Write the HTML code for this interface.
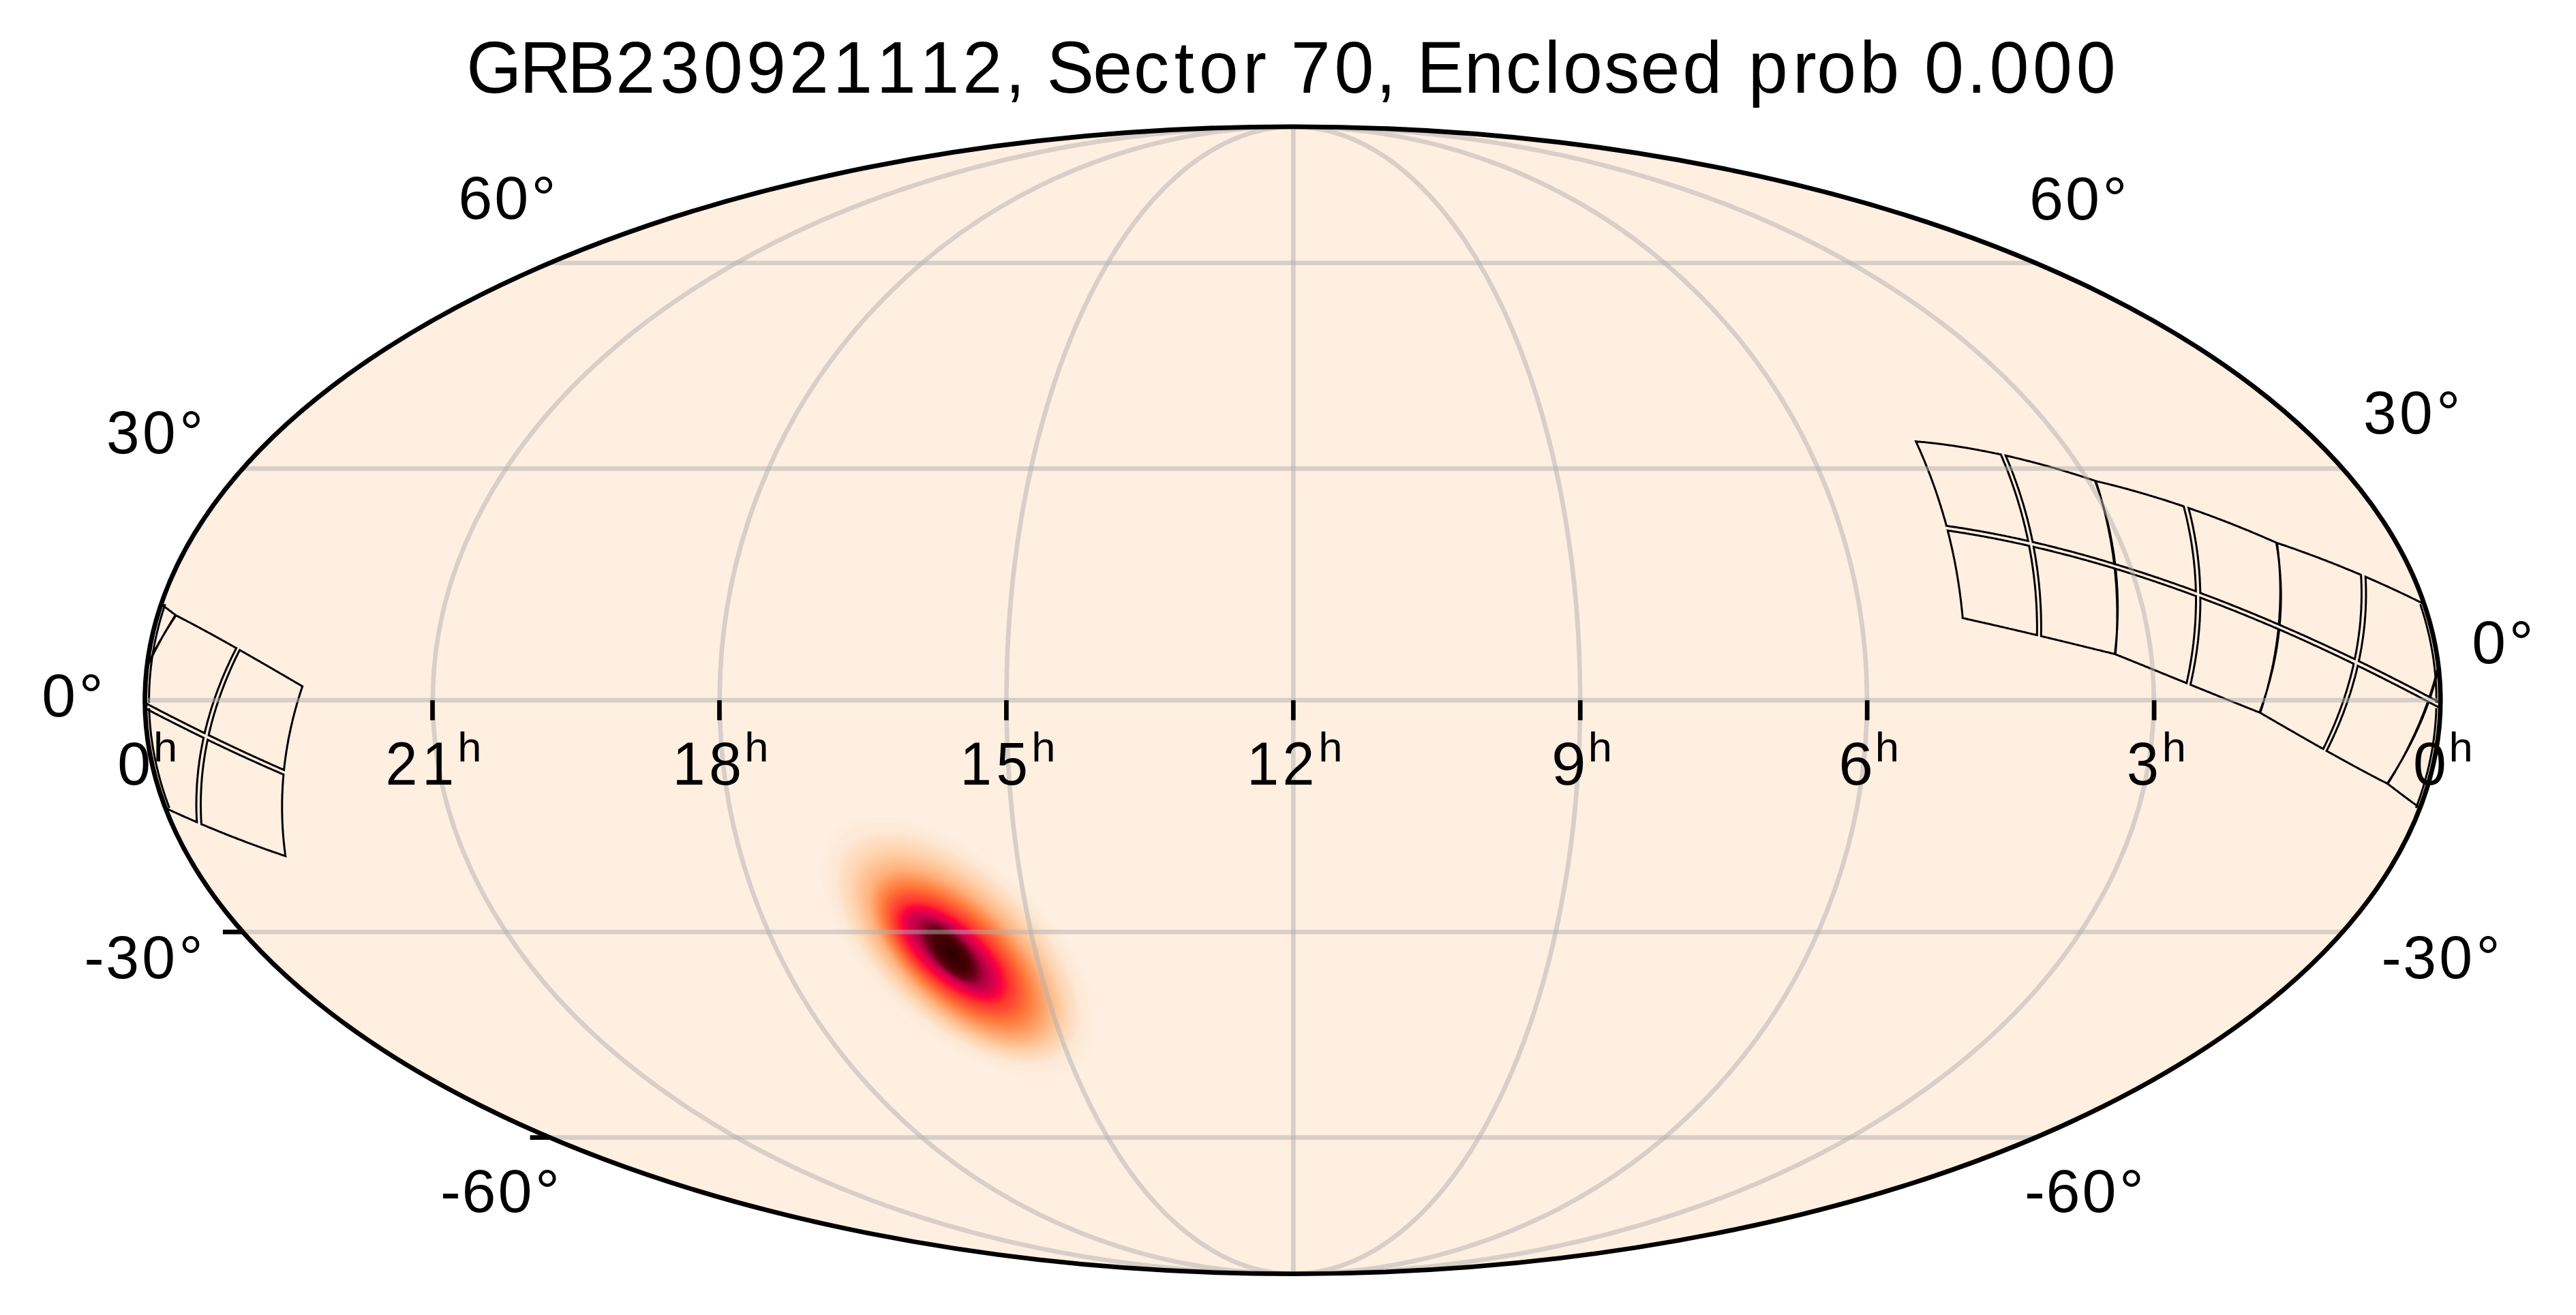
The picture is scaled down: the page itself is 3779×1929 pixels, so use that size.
<!DOCTYPE html><html><head><meta charset="utf-8"><style>html,body{margin:0;padding:0;background:#fff;width:3779px;height:1929px;overflow:hidden}svg{display:block}text{font-family:"Liberation Sans",sans-serif;font-size:100px;fill:#000}</style></head><body>
<svg width="3779" height="1929" viewBox="0 0 3779 1929">
<defs><clipPath id="ell"><ellipse cx="1896.40" cy="1027.20" rx="1683.80" ry="841.40"/></clipPath></defs>
<rect width="3779" height="1929" fill="#fff"/>
<ellipse cx="1896.40" cy="1027.20" rx="1683.80" ry="841.40" fill="#feefe1"/>
<g clip-path="url(#ell)">
<path fill="#feefe0" d="M1580.8,1399.1 1584.4,1405.6 1588.0,1412.4 1591.5,1419.5 1594.9,1426.9 1598.2,1434.5 1601.4,1442.5 1604.3,1450.7 1606.9,1459.2 1609.3,1468.0 1611.2,1477.0 1612.7,1486.1 1613.6,1495.4 1613.9,1504.8 1613.5,1514.1 1612.3,1523.3 1610.2,1532.2 1607.2,1540.7 1603.2,1548.8 1598.3,1556.2 1592.4,1562.9 1585.7,1568.8 1578.1,1573.8 1569.9,1577.9 1561.1,1581.1 1551.8,1583.4 1542.3,1584.8 1532.6,1585.5 1522.9,1585.5 1513.2,1584.8 1503.7,1583.7 1494.5,1582.1 1485.5,1580.1 1476.7,1577.8 1468.4,1575.3 1460.3,1572.6 1452.6,1569.8 1445.3,1566.9 1438.3,1563.9 1431.6,1560.9 1425.2,1557.8 1419.0,1554.8 1413.2,1551.7 1407.6,1548.7 1402.3,1545.7 1397.2,1542.7 1392.3,1539.7 1387.5,1536.8 1383.0,1533.9 1378.6,1531.1 1374.4,1528.2 1370.3,1525.4 1366.4,1522.6 1362.5,1519.9 1358.8,1517.2 1355.2,1514.5 1351.6,1511.8 1348.2,1509.1 1344.8,1506.4 1341.5,1503.8 1338.3,1501.1 1335.1,1498.4 1331.9,1495.8 1328.8,1493.1 1325.8,1490.4 1322.8,1487.8 1319.8,1485.0 1316.8,1482.3 1313.8,1479.5 1310.9,1476.8 1308.0,1473.9 1305.0,1471.1 1302.1,1468.1 1299.2,1465.2 1296.2,1462.1 1293.3,1459.0 1290.3,1455.9 1287.4,1452.6 1284.3,1449.3 1281.3,1445.9 1278.3,1442.3 1275.2,1438.7 1272.0,1435.0 1268.9,1431.1 1265.6,1427.0 1262.4,1422.8 1259.1,1418.5 1255.7,1413.9 1252.3,1409.2 1248.9,1404.2 1245.4,1399.1 1241.8,1393.6 1238.3,1388.0 1234.7,1382.0 1231.1,1375.7 1227.5,1369.1 1223.9,1362.2 1220.4,1355.0 1216.9,1347.4 1213.6,1339.4 1210.4,1331.1 1207.5,1322.4 1204.9,1313.5 1202.7,1304.2 1200.9,1294.7 1199.7,1285.1 1199.1,1275.3 1199.3,1265.6 1200.3,1256.1 1202.3,1246.8 1205.1,1237.9 1209.0,1229.6 1213.8,1222.0 1219.5,1215.1 1226.1,1209.1 1233.4,1204.0 1241.4,1199.7 1249.9,1196.4 1258.8,1194.0 1268.0,1192.4 1277.3,1191.5 1286.7,1191.3 1296.0,1191.7 1305.3,1192.7 1314.3,1194.0 1323.2,1195.8 1331.8,1197.9 1340.1,1200.2 1348.2,1202.8 1356.0,1205.5 1363.5,1208.3 1370.8,1211.3 1377.7,1214.3 1384.5,1217.4 1390.9,1220.6 1397.2,1223.8 1403.2,1227.0 1409.0,1230.2 1414.6,1233.4 1420.0,1236.7 1425.2,1239.9 1430.3,1243.2 1435.2,1246.4 1440.0,1249.6 1444.7,1252.8 1449.2,1256.1 1453.6,1259.3 1458.0,1262.5 1462.2,1265.7 1466.3,1269.0 1470.4,1272.2 1474.4,1275.5 1478.3,1278.8 1482.2,1282.0 1486.0,1285.4 1489.8,1288.7 1493.5,1292.1 1497.2,1295.5 1500.9,1298.9 1504.5,1302.4 1508.1,1306.0 1511.7,1309.6 1515.3,1313.2 1518.9,1317.0 1522.5,1320.8 1526.0,1324.7 1529.6,1328.6 1533.2,1332.7 1536.8,1336.9 1540.4,1341.2 1544.0,1345.6 1547.6,1350.2 1551.3,1354.9 1554.9,1359.7 1558.6,1364.8 1562.3,1370.0 1566.0,1375.3 1569.7,1380.9 1573.4,1386.7 1577.1,1392.8Z"/>
<path fill="#feeedf" d="M1577.5,1399.1 1581.0,1405.5 1584.6,1412.2 1588.0,1419.1 1591.4,1426.4 1594.6,1433.9 1597.7,1441.7 1600.6,1449.8 1603.2,1458.1 1605.5,1466.8 1607.4,1475.6 1608.8,1484.6 1609.7,1493.7 1610.0,1502.9 1609.6,1512.0 1608.4,1521.0 1606.4,1529.8 1603.4,1538.2 1599.5,1546.1 1594.7,1553.4 1588.9,1560.0 1582.3,1565.7 1574.9,1570.7 1566.8,1574.7 1558.1,1577.8 1549.1,1580.1 1539.7,1581.5 1530.2,1582.2 1520.6,1582.1 1511.2,1581.5 1501.8,1580.4 1492.7,1578.8 1483.9,1576.8 1475.3,1574.6 1467.1,1572.1 1459.2,1569.5 1451.6,1566.7 1444.4,1563.9 1437.5,1560.9 1430.9,1558.0 1424.7,1555.0 1418.7,1552.0 1412.9,1549.0 1407.4,1546.0 1402.2,1543.0 1397.2,1540.1 1392.3,1537.2 1387.7,1534.3 1383.2,1531.5 1378.9,1528.7 1374.8,1525.9 1370.8,1523.2 1366.9,1520.4 1363.1,1517.7 1359.5,1515.1 1355.9,1512.4 1352.4,1509.7 1349.1,1507.1 1345.7,1504.5 1342.5,1501.9 1339.3,1499.3 1336.2,1496.7 1333.1,1494.1 1330.1,1491.4 1327.1,1488.8 1324.1,1486.2 1321.1,1483.5 1318.2,1480.8 1315.3,1478.1 1312.4,1475.4 1309.6,1472.6 1306.7,1469.8 1303.8,1466.9 1300.9,1464.0 1298.1,1461.0 1295.2,1458.0 1292.2,1454.9 1289.3,1451.7 1286.4,1448.4 1283.4,1445.0 1280.4,1441.6 1277.3,1438.0 1274.3,1434.3 1271.2,1430.5 1268.0,1426.5 1264.8,1422.4 1261.6,1418.1 1258.3,1413.7 1254.9,1409.0 1251.5,1404.2 1248.1,1399.1 1244.6,1393.7 1241.1,1388.2 1237.6,1382.3 1234.1,1376.1 1230.5,1369.7 1227.0,1362.9 1223.5,1355.8 1220.1,1348.3 1216.9,1340.5 1213.8,1332.3 1210.9,1323.8 1208.4,1315.0 1206.2,1305.9 1204.4,1296.6 1203.2,1287.1 1202.7,1277.5 1202.9,1268.0 1203.9,1258.6 1205.8,1249.5 1208.6,1240.8 1212.4,1232.7 1217.1,1225.2 1222.7,1218.4 1229.2,1212.5 1236.4,1207.5 1244.2,1203.3 1252.6,1200.1 1261.3,1197.7 1270.3,1196.1 1279.5,1195.2 1288.7,1195.1 1297.9,1195.5 1306.9,1196.4 1315.8,1197.7 1324.5,1199.4 1333.0,1201.5 1341.2,1203.8 1349.1,1206.3 1356.8,1208.9 1364.1,1211.7 1371.2,1214.7 1378.1,1217.6 1384.7,1220.7 1391.0,1223.8 1397.2,1226.9 1403.1,1230.1 1408.8,1233.2 1414.3,1236.4 1419.6,1239.6 1424.7,1242.8 1429.7,1246.0 1434.6,1249.1 1439.3,1252.3 1443.8,1255.5 1448.3,1258.6 1452.6,1261.8 1456.9,1265.0 1461.0,1268.1 1465.1,1271.3 1469.1,1274.5 1473.0,1277.7 1476.9,1280.9 1480.7,1284.1 1484.4,1287.4 1488.1,1290.7 1491.8,1294.0 1495.4,1297.3 1499.0,1300.7 1502.6,1304.2 1506.1,1307.6 1509.7,1311.2 1513.2,1314.8 1516.7,1318.4 1520.2,1322.2 1523.7,1326.0 1527.2,1329.9 1530.8,1333.9 1534.3,1338.0 1537.8,1342.2 1541.4,1346.6 1544.9,1351.1 1548.5,1355.7 1552.1,1360.4 1555.7,1365.4 1559.3,1370.5 1563.0,1375.8 1566.6,1381.3 1570.2,1387.0 1573.9,1392.9Z"/>
<path fill="#feeddd" d="M1574.2,1399.1 1577.7,1405.4 1581.1,1411.9 1584.5,1418.8 1587.8,1425.9 1591.0,1433.3 1594.0,1440.9 1596.9,1448.9 1599.4,1457.1 1601.7,1465.5 1603.5,1474.2 1605.0,1483.0 1605.8,1492.0 1606.1,1501.0 1605.7,1510.0 1604.5,1518.8 1602.5,1527.4 1599.6,1535.6 1595.8,1543.4 1591.1,1550.6 1585.4,1557.0 1578.9,1562.7 1571.6,1567.5 1563.7,1571.5 1555.2,1574.6 1546.3,1576.8 1537.1,1578.2 1527.8,1578.8 1518.4,1578.8 1509.1,1578.2 1499.9,1577.0 1491.0,1575.5 1482.3,1573.6 1473.9,1571.4 1465.8,1569.0 1458.1,1566.4 1450.6,1563.7 1443.6,1560.9 1436.8,1558.0 1430.3,1555.1 1424.2,1552.1 1418.3,1549.2 1412.6,1546.2 1407.3,1543.3 1402.1,1540.4 1397.2,1537.5 1392.4,1534.7 1387.9,1531.9 1383.5,1529.1 1379.3,1526.3 1375.2,1523.6 1371.3,1520.9 1367.5,1518.2 1363.8,1515.6 1360.2,1512.9 1356.7,1510.3 1353.3,1507.7 1349.9,1505.1 1346.7,1502.6 1343.5,1500.0 1340.4,1497.4 1337.3,1494.9 1334.3,1492.3 1331.3,1489.7 1328.3,1487.2 1325.4,1484.6 1322.5,1482.0 1319.7,1479.3 1316.8,1476.7 1314.0,1474.0 1311.2,1471.2 1308.3,1468.5 1305.5,1465.7 1302.7,1462.8 1299.9,1459.9 1297.0,1456.9 1294.2,1453.8 1291.3,1450.7 1288.4,1447.5 1285.5,1444.2 1282.5,1440.8 1279.5,1437.3 1276.5,1433.7 1273.5,1429.9 1270.4,1426.0 1267.2,1422.0 1264.0,1417.8 1260.8,1413.4 1257.5,1408.8 1254.2,1404.1 1250.8,1399.1 1247.4,1393.8 1244.0,1388.4 1240.5,1382.6 1237.0,1376.6 1233.6,1370.2 1230.1,1363.6 1226.7,1356.6 1223.4,1349.2 1220.2,1341.6 1217.1,1333.5 1214.3,1325.2 1211.8,1316.5 1209.7,1307.6 1207.9,1298.5 1206.8,1289.2 1206.2,1279.8 1206.4,1270.4 1207.4,1261.2 1209.3,1252.3 1212.0,1243.7 1215.7,1235.7 1220.4,1228.3 1225.9,1221.7 1232.2,1215.9 1239.3,1211.0 1247.0,1206.9 1255.2,1203.7 1263.8,1201.4 1272.6,1199.8 1281.6,1199.0 1290.7,1198.8 1299.7,1199.2 1308.6,1200.1 1317.3,1201.4 1325.8,1203.1 1334.1,1205.1 1342.2,1207.3 1350.0,1209.8 1357.5,1212.4 1364.7,1215.2 1371.7,1218.0 1378.4,1221.0 1384.9,1224.0 1391.2,1227.0 1397.2,1230.1 1403.0,1233.2 1408.6,1236.3 1413.9,1239.4 1419.2,1242.5 1424.2,1245.6 1429.1,1248.7 1433.9,1251.9 1438.5,1255.0 1443.0,1258.1 1447.3,1261.2 1451.6,1264.3 1455.8,1267.4 1459.9,1270.5 1463.9,1273.6 1467.8,1276.8 1471.6,1279.9 1475.4,1283.1 1479.1,1286.2 1482.8,1289.4 1486.5,1292.7 1490.1,1295.9 1493.6,1299.2 1497.1,1302.5 1500.7,1305.9 1504.1,1309.3 1507.6,1312.8 1511.1,1316.3 1514.5,1319.9 1518.0,1323.6 1521.4,1327.3 1524.9,1331.2 1528.3,1335.1 1531.8,1339.1 1535.2,1343.3 1538.7,1347.5 1542.2,1351.9 1545.7,1356.5 1549.3,1361.1 1552.8,1366.0 1556.4,1371.0 1559.9,1376.2 1563.5,1381.6 1567.1,1387.2 1570.6,1393.0Z"/>
<path fill="#feecdc" d="M1570.9,1399.1 1574.3,1405.3 1577.7,1411.7 1581.1,1418.4 1584.3,1425.4 1587.4,1432.6 1590.4,1440.1 1593.1,1447.9 1595.7,1456.0 1597.9,1464.3 1599.7,1472.8 1601.1,1481.5 1602.0,1490.3 1602.2,1499.1 1601.8,1507.9 1600.7,1516.6 1598.7,1525.0 1595.9,1533.1 1592.1,1540.7 1587.5,1547.7 1581.9,1554.1 1575.5,1559.7 1568.4,1564.4 1560.6,1568.3 1552.2,1571.3 1543.5,1573.5 1534.5,1574.8 1525.3,1575.5 1516.1,1575.4 1507.0,1574.8 1498.0,1573.7 1489.2,1572.2 1480.7,1570.3 1472.5,1568.2 1464.5,1565.8 1456.9,1563.3 1449.7,1560.6 1442.7,1557.8 1436.1,1555.0 1429.7,1552.2 1423.7,1549.3 1417.9,1546.4 1412.3,1543.5 1407.1,1540.6 1402.0,1537.8 1397.2,1535.0 1392.5,1532.2 1388.1,1529.4 1383.8,1526.7 1379.6,1524.0 1375.6,1521.3 1371.8,1518.6 1368.0,1516.0 1364.4,1513.4 1360.9,1510.8 1357.4,1508.3 1354.1,1505.7 1350.8,1503.2 1347.6,1500.6 1344.5,1498.1 1341.4,1495.6 1338.4,1493.1 1335.4,1490.6 1332.5,1488.1 1329.6,1485.5 1326.8,1483.0 1323.9,1480.4 1321.1,1477.8 1318.3,1475.2 1315.5,1472.6 1312.8,1469.9 1310.0,1467.2 1307.2,1464.4 1304.5,1461.6 1301.7,1458.7 1298.9,1455.8 1296.1,1452.8 1293.3,1449.7 1290.4,1446.6 1287.5,1443.4 1284.7,1440.0 1281.7,1436.6 1278.8,1433.0 1275.8,1429.3 1272.7,1425.5 1269.6,1421.6 1266.5,1417.4 1263.3,1413.1 1260.1,1408.7 1256.9,1404.0 1253.5,1399.1 1250.2,1393.9 1246.8,1388.6 1243.4,1382.9 1240.0,1377.0 1236.6,1370.8 1233.2,1364.2 1229.9,1357.4 1226.6,1350.2 1223.5,1342.6 1220.5,1334.8 1217.7,1326.6 1215.3,1318.1 1213.1,1309.3 1211.5,1300.3 1210.3,1291.2 1209.8,1282.0 1210.0,1272.8 1210.9,1263.8 1212.8,1255.0 1215.5,1246.6 1219.1,1238.7 1223.7,1231.5 1229.1,1225.0 1235.3,1219.3 1242.3,1214.5 1249.8,1210.5 1257.9,1207.3 1266.3,1205.0 1275.0,1203.5 1283.8,1202.7 1292.7,1202.5 1301.5,1202.9 1310.2,1203.8 1318.8,1205.1 1327.2,1206.7 1335.3,1208.7 1343.2,1210.9 1350.9,1213.3 1358.2,1215.9 1365.3,1218.6 1372.2,1221.4 1378.8,1224.3 1385.1,1227.2 1391.3,1230.2 1397.2,1233.2 1402.9,1236.2 1408.3,1239.3 1413.6,1242.4 1418.8,1245.4 1423.7,1248.5 1428.5,1251.5 1433.2,1254.6 1437.7,1257.7 1442.1,1260.7 1446.4,1263.8 1450.6,1266.8 1454.7,1269.9 1458.7,1272.9 1462.6,1276.0 1466.5,1279.1 1470.2,1282.1 1474.0,1285.2 1477.6,1288.3 1481.2,1291.5 1484.8,1294.6 1488.3,1297.8 1491.8,1301.1 1495.3,1304.3 1498.7,1307.6 1502.1,1311.0 1505.6,1314.4 1509.0,1317.9 1512.3,1321.4 1515.7,1325.0 1519.1,1328.7 1522.5,1332.4 1525.9,1336.3 1529.3,1340.3 1532.7,1344.3 1536.1,1348.5 1539.5,1352.8 1543.0,1357.3 1546.4,1361.9 1549.9,1366.6 1553.4,1371.5 1556.9,1376.6 1560.4,1381.9 1563.9,1387.4 1567.4,1393.1Z"/>
<path fill="#fdebda" d="M1567.6,1399.1 1571.0,1405.1 1574.3,1411.5 1577.6,1418.0 1580.8,1424.9 1583.8,1432.0 1586.7,1439.4 1589.4,1447.0 1591.9,1454.9 1594.1,1463.0 1595.9,1471.4 1597.2,1479.9 1598.1,1488.5 1598.4,1497.2 1598.0,1505.8 1596.8,1514.3 1594.9,1522.6 1592.1,1530.6 1588.4,1538.0 1583.9,1544.9 1578.4,1551.1 1572.1,1556.6 1565.1,1561.3 1557.5,1565.1 1549.3,1568.0 1540.7,1570.2 1531.9,1571.5 1522.9,1572.1 1513.9,1572.1 1504.9,1571.5 1496.1,1570.4 1487.5,1568.9 1479.1,1567.1 1471.0,1565.0 1463.3,1562.7 1455.8,1560.2 1448.7,1557.5 1441.8,1554.8 1435.3,1552.1 1429.1,1549.3 1423.2,1546.4 1417.5,1543.6 1412.1,1540.8 1406.9,1538.0 1401.9,1535.2 1397.2,1532.4 1392.6,1529.6 1388.2,1526.9 1384.0,1524.2 1379.9,1521.6 1376.0,1519.0 1372.2,1516.4 1368.6,1513.8 1365.0,1511.2 1361.5,1508.7 1358.2,1506.2 1354.9,1503.7 1351.7,1501.2 1348.6,1498.7 1345.5,1496.3 1342.5,1493.8 1339.5,1491.3 1336.6,1488.9 1333.7,1486.4 1330.9,1483.9 1328.1,1481.4 1325.3,1478.9 1322.5,1476.3 1319.8,1473.8 1317.1,1471.2 1314.4,1468.6 1311.6,1465.9 1308.9,1463.2 1306.2,1460.4 1303.5,1457.6 1300.7,1454.7 1298.0,1451.8 1295.2,1448.8 1292.4,1445.7 1289.6,1442.5 1286.8,1439.2 1283.9,1435.9 1281.0,1432.4 1278.1,1428.8 1275.1,1425.0 1272.1,1421.1 1269.0,1417.1 1265.9,1412.9 1262.7,1408.5 1259.5,1403.9 1256.3,1399.1 1253.0,1394.0 1249.7,1388.8 1246.3,1383.2 1243.0,1377.4 1239.6,1371.3 1236.3,1364.9 1233.0,1358.1 1229.8,1351.1 1226.8,1343.7 1223.8,1336.0 1221.1,1327.9 1218.7,1319.6 1216.6,1311.0 1215.0,1302.2 1213.9,1293.2 1213.3,1284.2 1213.5,1275.2 1214.5,1266.3 1216.3,1257.7 1218.9,1249.5 1222.5,1241.8 1226.9,1234.7 1232.3,1228.3 1238.4,1222.7 1245.2,1218.0 1252.6,1214.0 1260.5,1211.0 1268.8,1208.7 1277.3,1207.2 1285.9,1206.4 1294.6,1206.2 1303.3,1206.6 1311.9,1207.5 1320.3,1208.8 1328.5,1210.4 1336.5,1212.3 1344.2,1214.5 1351.7,1216.8 1359.0,1219.4 1365.9,1222.0 1372.7,1224.8 1379.1,1227.6 1385.4,1230.5 1391.4,1233.4 1397.2,1236.4 1402.7,1239.3 1408.1,1242.3 1413.3,1245.3 1418.4,1248.3 1423.2,1251.3 1427.9,1254.3 1432.5,1257.3 1436.9,1260.3 1441.3,1263.3 1445.5,1266.3 1449.6,1269.3 1453.6,1272.3 1457.5,1275.3 1461.4,1278.3 1465.1,1281.3 1468.9,1284.3 1472.5,1287.4 1476.1,1290.4 1479.6,1293.5 1483.1,1296.6 1486.6,1299.7 1490.0,1302.9 1493.4,1306.1 1496.8,1309.4 1500.2,1312.6 1503.5,1316.0 1506.8,1319.4 1510.2,1322.9 1513.5,1326.4 1516.8,1330.0 1520.1,1333.7 1523.4,1337.5 1526.8,1341.4 1530.1,1345.4 1533.5,1349.5 1536.8,1353.7 1540.2,1358.1 1543.6,1362.6 1547.0,1367.2 1550.4,1372.0 1553.9,1377.0 1557.3,1382.2 1560.7,1387.6 1564.2,1393.2Z"/>
<path fill="#fdead9" d="M1564.3,1399.1 1567.6,1405.0 1570.9,1411.2 1574.1,1417.7 1577.2,1424.4 1580.2,1431.3 1583.1,1438.6 1585.7,1446.1 1588.1,1453.8 1590.3,1461.8 1592.0,1470.0 1593.4,1478.3 1594.2,1486.8 1594.5,1495.3 1594.1,1503.8 1593.0,1512.1 1591.1,1520.2 1588.3,1528.0 1584.7,1535.3 1580.2,1542.1 1574.9,1548.2 1568.8,1553.6 1561.9,1558.1 1554.4,1561.9 1546.4,1564.8 1538.0,1566.9 1529.3,1568.2 1520.5,1568.8 1511.6,1568.8 1502.8,1568.2 1494.2,1567.1 1485.7,1565.6 1477.5,1563.8 1469.6,1561.8 1462.0,1559.5 1454.7,1557.1 1447.7,1554.5 1441.0,1551.8 1434.6,1549.1 1428.5,1546.4 1422.6,1543.6 1417.1,1540.8 1411.8,1538.0 1406.7,1535.3 1401.8,1532.5 1397.2,1529.8 1392.7,1527.1 1388.4,1524.5 1384.3,1521.8 1380.3,1519.2 1376.4,1516.6 1372.7,1514.1 1369.1,1511.6 1365.6,1509.1 1362.2,1506.6 1358.9,1504.1 1355.7,1501.7 1352.6,1499.2 1349.5,1496.8 1346.5,1494.4 1343.5,1492.0 1340.6,1489.5 1337.8,1487.1 1335.0,1484.7 1332.2,1482.3 1329.4,1479.8 1326.7,1477.3 1324.0,1474.8 1321.3,1472.3 1318.6,1469.8 1316.0,1467.2 1313.3,1464.6 1310.6,1461.9 1308.0,1459.2 1305.3,1456.5 1302.6,1453.7 1299.9,1450.8 1297.2,1447.8 1294.5,1444.8 1291.7,1441.7 1288.9,1438.5 1286.1,1435.2 1283.2,1431.7 1280.4,1428.2 1277.4,1424.5 1274.5,1420.7 1271.5,1416.7 1268.4,1412.6 1265.3,1408.3 1262.2,1403.8 1259.0,1399.1 1255.8,1394.1 1252.5,1389.0 1249.3,1383.5 1246.0,1377.8 1242.7,1371.8 1239.4,1365.5 1236.2,1358.9 1233.1,1352.0 1230.0,1344.8 1227.2,1337.2 1224.5,1329.3 1222.1,1321.1 1220.1,1312.7 1218.5,1304.1 1217.4,1295.3 1216.9,1286.4 1217.1,1277.6 1218.0,1268.9 1219.7,1260.5 1222.4,1252.4 1225.9,1244.8 1230.2,1237.9 1235.4,1231.6 1241.4,1226.1 1248.1,1221.5 1255.4,1217.6 1263.1,1214.6 1271.3,1212.4 1279.6,1210.9 1288.1,1210.1 1296.6,1210.0 1305.1,1210.3 1313.5,1211.2 1321.8,1212.4 1329.8,1214.0 1337.7,1215.9 1345.3,1218.0 1352.6,1220.4 1359.7,1222.8 1366.5,1225.4 1373.1,1228.1 1379.5,1230.9 1385.6,1233.7 1391.5,1236.6 1397.2,1239.5 1402.6,1242.4 1407.9,1245.4 1413.0,1248.3 1417.9,1251.2 1422.7,1254.2 1427.3,1257.1 1431.8,1260.1 1436.2,1263.0 1440.4,1266.0 1444.5,1268.9 1448.6,1271.8 1452.5,1274.8 1456.4,1277.7 1460.1,1280.6 1463.8,1283.6 1467.5,1286.6 1471.0,1289.5 1474.6,1292.5 1478.0,1295.6 1481.5,1298.6 1484.9,1301.7 1488.2,1304.8 1491.6,1307.9 1494.9,1311.1 1498.2,1314.3 1501.4,1317.6 1504.7,1320.9 1508.0,1324.3 1511.2,1327.8 1514.5,1331.3 1517.7,1335.0 1521.0,1338.7 1524.3,1342.5 1527.5,1346.4 1530.8,1350.4 1534.1,1354.6 1537.4,1358.8 1540.8,1363.3 1544.1,1367.8 1547.5,1372.6 1550.8,1377.5 1554.2,1382.6 1557.6,1387.9 1560.9,1393.3Z"/>
<path fill="#fde9d7" d="M1561.0,1399.1 1564.3,1404.9 1567.5,1411.0 1570.6,1417.3 1573.7,1423.9 1576.6,1430.7 1579.4,1437.8 1582.0,1445.2 1584.4,1452.7 1586.4,1460.6 1588.2,1468.6 1589.5,1476.8 1590.3,1485.1 1590.6,1493.4 1590.2,1501.7 1589.1,1509.9 1587.3,1517.9 1584.6,1525.5 1581.0,1532.7 1576.6,1539.3 1571.4,1545.3 1565.4,1550.5 1558.6,1555.0 1551.3,1558.7 1543.4,1561.5 1535.2,1563.6 1526.7,1564.8 1518.0,1565.4 1509.4,1565.4 1500.8,1564.8 1492.3,1563.8 1484.0,1562.4 1476.0,1560.6 1468.2,1558.6 1460.7,1556.3 1453.5,1553.9 1446.7,1551.4 1440.1,1548.8 1433.8,1546.2 1427.9,1543.5 1422.1,1540.7 1416.7,1538.0 1411.5,1535.3 1406.5,1532.6 1401.7,1529.9 1397.2,1527.2 1392.8,1524.6 1388.6,1522.0 1384.5,1519.4 1380.6,1516.9 1376.8,1514.3 1373.2,1511.8 1369.7,1509.4 1366.2,1506.9 1362.9,1504.5 1359.7,1502.0 1356.5,1499.6 1353.5,1497.3 1350.4,1494.9 1347.5,1492.5 1344.6,1490.1 1341.7,1487.8 1338.9,1485.4 1336.2,1483.0 1333.5,1480.6 1330.8,1478.2 1328.1,1475.8 1325.4,1473.4 1322.8,1470.9 1320.2,1468.4 1317.6,1465.9 1314.9,1463.3 1312.3,1460.7 1309.7,1458.1 1307.1,1455.3 1304.5,1452.6 1301.8,1449.8 1299.2,1446.9 1296.5,1443.9 1293.8,1440.8 1291.1,1437.7 1288.3,1434.4 1285.5,1431.1 1282.7,1427.6 1279.8,1424.0 1276.9,1420.3 1273.9,1416.4 1270.9,1412.3 1267.9,1408.1 1264.8,1403.7 1261.7,1399.1 1258.6,1394.2 1255.4,1389.2 1252.2,1383.8 1248.9,1378.2 1245.7,1372.4 1242.5,1366.2 1239.4,1359.7 1236.3,1352.9 1233.3,1345.8 1230.5,1338.4 1227.9,1330.7 1225.6,1322.7 1223.6,1314.4 1222.0,1305.9 1220.9,1297.3 1220.5,1288.6 1220.6,1280.0 1221.5,1271.5 1223.2,1263.2 1225.8,1255.3 1229.2,1247.9 1233.5,1241.0 1238.6,1234.9 1244.5,1229.5 1251.1,1225.0 1258.2,1221.2 1265.8,1218.2 1273.7,1216.1 1281.9,1214.6 1290.2,1213.9 1298.6,1213.7 1306.9,1214.1 1315.2,1214.9 1323.2,1216.1 1331.1,1217.7 1338.8,1219.5 1346.3,1221.6 1353.5,1223.9 1360.4,1226.3 1367.2,1228.8 1373.6,1231.5 1379.8,1234.2 1385.8,1237.0 1391.6,1239.8 1397.2,1242.6 1402.5,1245.5 1407.7,1248.4 1412.7,1251.3 1417.5,1254.2 1422.2,1257.0 1426.7,1259.9 1431.1,1262.8 1435.4,1265.7 1439.6,1268.6 1443.6,1271.5 1447.6,1274.3 1451.4,1277.2 1455.2,1280.1 1458.9,1283.0 1462.5,1285.9 1466.1,1288.8 1469.6,1291.7 1473.0,1294.6 1476.4,1297.6 1479.8,1300.6 1483.1,1303.6 1486.4,1306.6 1489.7,1309.7 1493.0,1312.8 1496.2,1316.0 1499.4,1319.2 1502.6,1322.5 1505.8,1325.8 1509.0,1329.2 1512.2,1332.7 1515.4,1336.2 1518.6,1339.9 1521.8,1343.6 1525.0,1347.4 1528.2,1351.4 1531.4,1355.4 1534.7,1359.6 1538.0,1364.0 1541.2,1368.4 1544.5,1373.1 1547.8,1377.9 1551.1,1382.9 1554.4,1388.1 1557.7,1393.5Z"/>
<path fill="#fde7d5" d="M1557.7,1399.1 1560.9,1404.8 1564.0,1410.7 1567.1,1416.9 1570.1,1423.4 1573.0,1430.1 1575.7,1437.0 1578.3,1444.2 1580.6,1451.7 1582.6,1459.3 1584.3,1467.2 1585.6,1475.2 1586.4,1483.3 1586.7,1491.5 1586.3,1499.6 1585.3,1507.7 1583.4,1515.5 1580.8,1522.9 1577.3,1530.0 1573.0,1536.5 1567.9,1542.3 1562.0,1547.5 1555.4,1551.9 1548.2,1555.5 1540.5,1558.2 1532.4,1560.2 1524.1,1561.5 1515.6,1562.1 1507.1,1562.1 1498.7,1561.5 1490.4,1560.5 1482.2,1559.1 1474.4,1557.4 1466.8,1555.4 1459.4,1553.2 1452.4,1550.8 1445.7,1548.4 1439.2,1545.8 1433.1,1543.2 1427.2,1540.6 1421.6,1537.9 1416.3,1535.2 1411.2,1532.6 1406.3,1529.9 1401.6,1527.3 1397.2,1524.7 1392.9,1522.1 1388.7,1519.5 1384.8,1517.0 1380.9,1514.5 1377.3,1512.0 1373.7,1509.6 1370.2,1507.1 1366.9,1504.7 1363.6,1502.3 1360.4,1500.0 1357.3,1497.6 1354.3,1495.3 1351.4,1492.9 1348.5,1490.6 1345.7,1488.3 1342.9,1486.0 1340.1,1483.6 1337.4,1481.3 1334.7,1479.0 1332.1,1476.6 1329.5,1474.2 1326.9,1471.9 1324.3,1469.4 1321.7,1467.0 1319.2,1464.5 1316.6,1462.0 1314.0,1459.5 1311.5,1456.9 1308.9,1454.2 1306.3,1451.5 1303.7,1448.7 1301.1,1445.9 1298.5,1443.0 1295.9,1440.0 1293.2,1436.9 1290.5,1433.7 1287.7,1430.4 1285.0,1427.0 1282.2,1423.5 1279.3,1419.9 1276.4,1416.0 1273.5,1412.1 1270.5,1407.9 1267.5,1403.6 1264.4,1399.1 1261.3,1394.3 1258.2,1389.4 1255.1,1384.1 1251.9,1378.7 1248.8,1372.9 1245.6,1366.9 1242.6,1360.5 1239.5,1353.9 1236.6,1346.9 1233.9,1339.6 1231.3,1332.1 1229.0,1324.2 1227.1,1316.1 1225.5,1307.8 1224.5,1299.4 1224.0,1290.9 1224.2,1282.4 1225.1,1274.0 1226.7,1265.9 1229.2,1258.2 1232.6,1250.9 1236.8,1244.2 1241.8,1238.2 1247.6,1232.9 1254.0,1228.5 1261.0,1224.8 1268.4,1221.9 1276.2,1219.7 1284.2,1218.3 1292.4,1217.6 1300.6,1217.4 1308.7,1217.8 1316.8,1218.6 1324.7,1219.8 1332.5,1221.3 1340.0,1223.1 1347.3,1225.2 1354.4,1227.4 1361.2,1229.8 1367.8,1232.3 1374.1,1234.9 1380.2,1237.5 1386.1,1240.2 1391.7,1243.0 1397.2,1245.8 1402.4,1248.6 1407.5,1251.4 1412.4,1254.2 1417.1,1257.1 1421.7,1259.9 1426.1,1262.7 1430.5,1265.6 1434.6,1268.4 1438.7,1271.2 1442.7,1274.0 1446.6,1276.8 1450.3,1279.7 1454.0,1282.5 1457.7,1285.3 1461.2,1288.1 1464.7,1291.0 1468.1,1293.9 1471.5,1296.7 1474.9,1299.6 1478.2,1302.6 1481.4,1305.5 1484.6,1308.5 1487.8,1311.5 1491.0,1314.6 1494.2,1317.7 1497.3,1320.8 1500.5,1324.0 1503.6,1327.3 1506.7,1330.6 1509.9,1334.0 1513.0,1337.5 1516.1,1341.1 1519.3,1344.7 1522.4,1348.5 1525.6,1352.3 1528.7,1356.3 1531.9,1360.4 1535.1,1364.7 1538.3,1369.1 1541.6,1373.6 1544.8,1378.3 1548.0,1383.2 1551.3,1388.3 1554.5,1393.6Z"/>
<path fill="#fde5d0" d="M1554.4,1399.1 1557.5,1404.7 1560.6,1410.5 1563.7,1416.6 1566.6,1422.9 1569.5,1429.5 1572.2,1436.3 1574.7,1443.3 1577.0,1450.7 1579.1,1458.2 1580.8,1465.9 1582.1,1473.8 1582.9,1481.8 1583.2,1489.8 1582.9,1497.8 1581.9,1505.7 1580.2,1513.4 1577.6,1520.8 1574.3,1527.7 1570.1,1534.1 1565.0,1539.9 1559.3,1545.0 1552.8,1549.3 1545.7,1552.9 1538.1,1555.6 1530.2,1557.6 1522.0,1558.8 1513.6,1559.4 1505.3,1559.4 1497.0,1558.8 1488.8,1557.8 1480.8,1556.4 1473.0,1554.6 1465.5,1552.7 1458.3,1550.5 1451.4,1548.2 1444.8,1545.7 1438.5,1543.2 1432.5,1540.6 1426.7,1538.0 1421.2,1535.4 1416.0,1532.7 1410.9,1530.1 1406.1,1527.5 1401.6,1524.9 1397.2,1522.3 1393.0,1519.8 1388.9,1517.2 1385.0,1514.8 1381.3,1512.3 1377.6,1509.9 1374.1,1507.4 1370.7,1505.1 1367.5,1502.7 1364.3,1500.3 1361.2,1498.0 1358.1,1495.7 1355.2,1493.4 1352.3,1491.1 1349.4,1488.8 1346.7,1486.5 1343.9,1484.3 1341.2,1482.0 1338.6,1479.7 1336.0,1477.4 1333.4,1475.1 1330.8,1472.8 1328.3,1470.4 1325.7,1468.0 1323.2,1465.6 1320.7,1463.2 1318.2,1460.8 1315.7,1458.3 1313.2,1455.7 1310.7,1453.1 1308.2,1450.5 1305.6,1447.7 1303.1,1445.0 1300.5,1442.1 1297.9,1439.2 1295.3,1436.1 1292.6,1433.0 1290.0,1429.8 1287.2,1426.5 1284.5,1423.0 1281.7,1419.4 1278.9,1415.7 1276.0,1411.8 1273.1,1407.7 1270.1,1403.5 1267.2,1399.1 1264.1,1394.4 1261.1,1389.6 1258.0,1384.4 1254.9,1379.1 1251.8,1373.4 1248.7,1367.5 1245.7,1361.3 1242.8,1354.8 1239.9,1348.0 1237.2,1340.9 1234.7,1333.4 1232.5,1325.7 1230.6,1317.8 1229.1,1309.7 1228.0,1301.4 1227.5,1293.1 1227.7,1284.8 1228.6,1276.6 1230.2,1268.6 1232.7,1261.0 1236.0,1253.9 1240.1,1247.4 1245.0,1241.5 1250.7,1236.4 1257.0,1232.0 1263.8,1228.4 1271.1,1225.6 1278.8,1223.5 1286.6,1222.1 1294.6,1221.4 1302.6,1221.3 1310.6,1221.6 1318.5,1222.5 1326.3,1223.7 1333.9,1225.2 1341.2,1227.0 1348.4,1229.0 1355.3,1231.1 1362.0,1233.5 1368.4,1235.9 1374.6,1238.5 1380.6,1241.1 1386.3,1243.7 1391.8,1246.4 1397.2,1249.2 1402.3,1251.9 1407.3,1254.7 1412.1,1257.4 1416.7,1260.2 1421.2,1263.0 1425.5,1265.8 1429.7,1268.5 1433.8,1271.3 1437.8,1274.0 1441.7,1276.8 1445.5,1279.5 1449.2,1282.3 1452.8,1285.1 1456.3,1287.8 1459.8,1290.6 1463.2,1293.4 1466.6,1296.2 1469.9,1299.0 1473.1,1301.8 1476.4,1304.7 1479.6,1307.6 1482.7,1310.5 1485.9,1313.4 1489.0,1316.4 1492.1,1319.4 1495.1,1322.5 1498.2,1325.6 1501.3,1328.8 1504.3,1332.1 1507.4,1335.4 1510.5,1338.8 1513.5,1342.3 1516.6,1345.9 1519.7,1349.6 1522.8,1353.3 1525.9,1357.2 1529.0,1361.3 1532.2,1365.4 1535.3,1369.7 1538.5,1374.1 1541.7,1378.8 1544.9,1383.5 1548.1,1388.5 1551.2,1393.7Z"/>
<path fill="#fde2ca" d="M1551.1,1399.1 1554.2,1404.6 1557.2,1410.3 1560.3,1416.2 1563.2,1422.4 1566.0,1428.8 1568.7,1435.5 1571.3,1442.5 1573.6,1449.7 1575.6,1457.1 1577.3,1464.7 1578.7,1472.4 1579.6,1480.3 1579.9,1488.2 1579.7,1496.1 1578.8,1503.9 1577.1,1511.5 1574.7,1518.8 1571.4,1525.7 1567.3,1532.0 1562.4,1537.7 1556.8,1542.8 1550.4,1547.0 1543.4,1550.5 1536.0,1553.2 1528.1,1555.2 1520.1,1556.4 1511.8,1556.9 1503.6,1556.9 1495.4,1556.3 1487.3,1555.2 1479.5,1553.8 1471.8,1552.1 1464.4,1550.1 1457.3,1548.0 1450.5,1545.6 1444.0,1543.2 1437.8,1540.7 1431.8,1538.1 1426.2,1535.6 1420.8,1532.9 1415.6,1530.3 1410.7,1527.7 1406.0,1525.2 1401.5,1522.6 1397.2,1520.1 1393.0,1517.5 1389.1,1515.1 1385.2,1512.6 1381.6,1510.2 1378.0,1507.8 1374.6,1505.4 1371.2,1503.0 1368.0,1500.7 1364.9,1498.4 1361.8,1496.1 1358.9,1493.8 1356.0,1491.6 1353.1,1489.3 1350.4,1487.1 1347.7,1484.8 1345.0,1482.6 1342.3,1480.3 1339.7,1478.1 1337.2,1475.8 1334.7,1473.6 1332.1,1471.3 1329.7,1469.0 1327.2,1466.7 1324.7,1464.3 1322.3,1461.9 1319.8,1459.5 1317.4,1457.1 1314.9,1454.6 1312.4,1452.0 1310.0,1449.4 1307.5,1446.7 1305.0,1444.0 1302.5,1441.2 1299.9,1438.3 1297.4,1435.4 1294.8,1432.3 1292.2,1429.2 1289.5,1425.9 1286.8,1422.5 1284.1,1419.0 1281.3,1415.3 1278.5,1411.5 1275.7,1407.6 1272.8,1403.4 1269.9,1399.1 1266.9,1394.5 1263.9,1389.8 1260.9,1384.7 1257.9,1379.5 1254.9,1374.0 1251.9,1368.2 1248.9,1362.1 1246.0,1355.7 1243.2,1349.0 1240.6,1342.1 1238.1,1334.8 1235.9,1327.3 1234.0,1319.5 1232.6,1311.5 1231.5,1303.4 1231.1,1295.3 1231.2,1287.1 1232.1,1279.1 1233.7,1271.3 1236.1,1263.9 1239.3,1257.0 1243.4,1250.6 1248.2,1244.8 1253.8,1239.8 1259.9,1235.5 1266.7,1232.0 1273.8,1229.3 1281.3,1227.3 1289.0,1226.0 1296.9,1225.3 1304.7,1225.2 1312.6,1225.6 1320.3,1226.4 1327.9,1227.6 1335.3,1229.1 1342.5,1230.8 1349.5,1232.8 1356.3,1235.0 1362.8,1237.3 1369.1,1239.7 1375.1,1242.2 1380.9,1244.7 1386.6,1247.3 1392.0,1250.0 1397.2,1252.6 1402.2,1255.3 1407.0,1258.0 1411.7,1260.7 1416.2,1263.4 1420.6,1266.2 1424.8,1268.9 1429.0,1271.6 1433.0,1274.3 1436.8,1276.9 1440.6,1279.6 1444.3,1282.3 1447.9,1285.0 1451.5,1287.7 1454.9,1290.4 1458.3,1293.1 1461.7,1295.8 1465.0,1298.6 1468.2,1301.3 1471.4,1304.1 1474.5,1306.9 1477.7,1309.7 1480.7,1312.5 1483.8,1315.4 1486.9,1318.3 1489.9,1321.3 1492.9,1324.3 1495.9,1327.3 1498.9,1330.4 1501.9,1333.6 1504.9,1336.9 1507.9,1340.2 1510.9,1343.6 1513.9,1347.1 1517.0,1350.7 1520.0,1354.4 1523.1,1358.2 1526.1,1362.1 1529.2,1366.1 1532.3,1370.3 1535.4,1374.7 1538.6,1379.2 1541.7,1383.9 1544.8,1388.7 1548.0,1393.8Z"/>
<path fill="#fddfc5" d="M1547.8,1399.1 1550.8,1404.4 1553.8,1410.0 1556.8,1415.9 1559.7,1421.9 1562.6,1428.2 1565.2,1434.8 1567.8,1441.6 1570.1,1448.7 1572.2,1455.9 1573.9,1463.4 1575.3,1471.0 1576.2,1478.8 1576.6,1486.6 1576.5,1494.4 1575.6,1502.1 1574.1,1509.6 1571.7,1516.8 1568.6,1523.6 1564.6,1529.9 1559.8,1535.5 1554.3,1540.5 1548.0,1544.7 1541.2,1548.2 1533.8,1550.9 1526.1,1552.8 1518.2,1553.9 1510.1,1554.4 1501.9,1554.4 1493.8,1553.8 1485.9,1552.7 1478.1,1551.3 1470.6,1549.6 1463.3,1547.6 1456.3,1545.4 1449.6,1543.1 1443.2,1540.7 1437.1,1538.2 1431.2,1535.7 1425.7,1533.1 1420.3,1530.5 1415.3,1528.0 1410.4,1525.4 1405.8,1522.8 1401.4,1520.3 1397.2,1517.8 1393.1,1515.3 1389.2,1512.9 1385.5,1510.4 1381.9,1508.0 1378.4,1505.7 1375.0,1503.3 1371.7,1501.0 1368.6,1498.7 1365.5,1496.5 1362.5,1494.2 1359.6,1492.0 1356.8,1489.7 1354.0,1487.5 1351.3,1485.3 1348.6,1483.1 1346.0,1480.9 1343.4,1478.7 1340.9,1476.5 1338.4,1474.3 1335.9,1472.1 1333.5,1469.8 1331.0,1467.6 1328.6,1465.3 1326.2,1463.0 1323.8,1460.6 1321.4,1458.3 1319.0,1455.9 1316.6,1453.4 1314.2,1450.9 1311.8,1448.4 1309.4,1445.8 1306.9,1443.1 1304.5,1440.3 1302.0,1437.5 1299.5,1434.6 1296.9,1431.6 1294.4,1428.5 1291.8,1425.3 1289.2,1422.0 1286.5,1418.6 1283.8,1415.0 1281.0,1411.3 1278.3,1407.4 1275.4,1403.3 1272.6,1399.1 1269.7,1394.6 1266.8,1390.0 1263.8,1385.1 1260.9,1379.9 1257.9,1374.5 1255.0,1368.8 1252.1,1362.9 1249.2,1356.7 1246.5,1350.1 1243.9,1343.3 1241.5,1336.2 1239.4,1328.8 1237.5,1321.2 1236.1,1313.4 1235.1,1305.5 1234.6,1297.5 1234.7,1289.5 1235.6,1281.7 1237.2,1274.1 1239.5,1266.8 1242.7,1260.0 1246.7,1253.7 1251.4,1248.1 1256.9,1243.2 1262.9,1239.1 1269.5,1235.7 1276.5,1233.0 1283.9,1231.1 1291.4,1229.9 1299.1,1229.2 1306.8,1229.1 1314.5,1229.5 1322.0,1230.3 1329.5,1231.5 1336.7,1233.0 1343.8,1234.7 1350.6,1236.7 1357.2,1238.8 1363.6,1241.1 1369.7,1243.4 1375.6,1245.9 1381.3,1248.4 1386.8,1250.9 1392.1,1253.5 1397.2,1256.1 1402.1,1258.8 1406.8,1261.4 1411.4,1264.0 1415.8,1266.7 1420.0,1269.3 1424.2,1272.0 1428.2,1274.6 1432.1,1277.2 1435.9,1279.9 1439.6,1282.5 1443.2,1285.1 1446.7,1287.7 1450.2,1290.4 1453.6,1293.0 1456.9,1295.6 1460.1,1298.3 1463.3,1301.0 1466.5,1303.6 1469.6,1306.3 1472.7,1309.0 1475.8,1311.8 1478.8,1314.6 1481.8,1317.4 1484.8,1320.2 1487.7,1323.1 1490.7,1326.0 1493.6,1329.0 1496.5,1332.0 1499.5,1335.1 1502.4,1338.3 1505.4,1341.5 1508.3,1344.9 1511.3,1348.3 1514.2,1351.8 1517.2,1355.4 1520.2,1359.1 1523.2,1362.9 1526.2,1366.9 1529.3,1371.0 1532.3,1375.2 1535.4,1379.6 1538.5,1384.2 1541.6,1389.0 1544.7,1393.9Z"/>
<path fill="#fedcc0" d="M1544.4,1399.1 1547.5,1404.3 1550.5,1409.8 1553.4,1415.5 1556.3,1421.4 1559.1,1427.6 1561.8,1434.1 1564.3,1440.7 1566.6,1447.7 1568.7,1454.8 1570.5,1462.1 1571.9,1469.7 1572.9,1477.3 1573.3,1485.0 1573.2,1492.7 1572.5,1500.3 1571.0,1507.7 1568.8,1514.8 1565.7,1521.5 1561.8,1527.7 1557.2,1533.3 1551.8,1538.3 1545.6,1542.4 1538.9,1545.8 1531.7,1548.5 1524.1,1550.3 1516.2,1551.5 1508.3,1552.0 1500.2,1551.9 1492.3,1551.2 1484.4,1550.2 1476.8,1548.8 1469.3,1547.0 1462.2,1545.1 1455.3,1542.9 1448.7,1540.6 1442.4,1538.2 1436.4,1535.7 1430.6,1533.2 1425.1,1530.7 1419.9,1528.1 1414.9,1525.6 1410.2,1523.0 1405.7,1520.5 1401.3,1518.0 1397.2,1515.5 1393.2,1513.1 1389.4,1510.7 1385.7,1508.3 1382.2,1505.9 1378.7,1503.6 1375.4,1501.3 1372.3,1499.0 1369.2,1496.7 1366.2,1494.5 1363.2,1492.3 1360.4,1490.1 1357.6,1487.9 1354.9,1485.7 1352.2,1483.6 1349.6,1481.4 1347.1,1479.2 1344.6,1477.1 1342.1,1474.9 1339.6,1472.7 1337.2,1470.5 1334.8,1468.3 1332.4,1466.1 1330.0,1463.9 1327.7,1461.6 1325.3,1459.3 1323.0,1457.0 1320.7,1454.7 1318.3,1452.3 1316.0,1449.8 1313.6,1447.3 1311.2,1444.8 1308.9,1442.1 1306.4,1439.5 1304.0,1436.7 1301.6,1433.9 1299.1,1430.9 1296.6,1427.9 1294.1,1424.8 1291.5,1421.5 1288.9,1418.2 1286.2,1414.7 1283.6,1411.0 1280.8,1407.2 1278.1,1403.2 1275.3,1399.1 1272.5,1394.7 1269.6,1390.1 1266.7,1385.4 1263.8,1380.3 1260.9,1375.0 1258.1,1369.5 1255.2,1363.7 1252.5,1357.6 1249.8,1351.2 1247.3,1344.5 1244.9,1337.6 1242.8,1330.3 1241.0,1322.9 1239.6,1315.3 1238.6,1307.5 1238.1,1299.7 1238.3,1291.9 1239.1,1284.2 1240.6,1276.8 1243.0,1269.7 1246.1,1263.0 1250.0,1256.9 1254.6,1251.4 1259.9,1246.7 1265.9,1242.6 1272.4,1239.3 1279.2,1236.8 1286.4,1234.9 1293.8,1233.7 1301.3,1233.1 1308.9,1233.0 1316.4,1233.5 1323.8,1234.3 1331.1,1235.5 1338.2,1236.9 1345.0,1238.6 1351.7,1240.6 1358.2,1242.6 1364.4,1244.8 1370.4,1247.2 1376.2,1249.6 1381.7,1252.0 1387.1,1254.5 1392.2,1257.0 1397.2,1259.6 1401.9,1262.2 1406.6,1264.7 1411.0,1267.3 1415.3,1269.9 1419.5,1272.5 1423.5,1275.1 1427.4,1277.6 1431.2,1280.2 1435.0,1282.8 1438.6,1285.3 1442.1,1287.9 1445.5,1290.5 1448.9,1293.0 1452.2,1295.6 1455.4,1298.2 1458.6,1300.7 1461.7,1303.3 1464.8,1305.9 1467.9,1308.6 1470.9,1311.2 1473.9,1313.9 1476.8,1316.6 1479.7,1319.3 1482.6,1322.1 1485.5,1324.9 1488.4,1327.8 1491.3,1330.7 1494.2,1333.6 1497.0,1336.7 1499.9,1339.7 1502.8,1342.9 1505.7,1346.1 1508.6,1349.5 1511.5,1352.9 1514.4,1356.4 1517.3,1360.0 1520.3,1363.8 1523.3,1367.6 1526.3,1371.6 1529.3,1375.8 1532.3,1380.1 1535.3,1384.5 1538.4,1389.2 1541.4,1394.0Z"/>
<path fill="#fedabb" d="M1541.1,1399.1 1544.1,1404.2 1547.1,1409.6 1550.0,1415.1 1552.8,1420.9 1555.6,1427.0 1558.3,1433.3 1560.8,1439.9 1563.1,1446.7 1565.2,1453.7 1567.0,1460.9 1568.5,1468.3 1569.5,1475.8 1570.0,1483.4 1570.0,1491.0 1569.3,1498.5 1567.9,1505.8 1565.8,1512.8 1562.9,1519.5 1559.1,1525.6 1554.6,1531.1 1549.2,1536.0 1543.2,1540.1 1536.6,1543.5 1529.5,1546.1 1522.1,1547.9 1514.3,1549.0 1506.5,1549.5 1498.5,1549.4 1490.7,1548.7 1483.0,1547.7 1475.4,1546.2 1468.1,1544.5 1461.0,1542.5 1454.3,1540.4 1447.8,1538.1 1441.6,1535.7 1435.6,1533.3 1430.0,1530.8 1424.6,1528.2 1419.5,1525.7 1414.6,1523.2 1409.9,1520.7 1405.5,1518.2 1401.2,1515.7 1397.2,1513.3 1393.3,1510.8 1389.5,1508.5 1385.9,1506.1 1382.4,1503.8 1379.1,1501.5 1375.9,1499.2 1372.8,1497.0 1369.7,1494.8 1366.8,1492.6 1363.9,1490.4 1361.1,1488.2 1358.4,1486.1 1355.8,1483.9 1353.2,1481.8 1350.6,1479.7 1348.1,1477.6 1345.7,1475.4 1343.2,1473.3 1340.8,1471.2 1338.5,1469.0 1336.1,1466.9 1333.8,1464.7 1331.5,1462.5 1329.2,1460.3 1326.9,1458.0 1324.6,1455.8 1322.3,1453.5 1320.0,1451.1 1317.7,1448.7 1315.4,1446.3 1313.1,1443.8 1310.8,1441.2 1308.4,1438.6 1306.1,1435.9 1303.7,1433.1 1301.3,1430.2 1298.8,1427.3 1296.3,1424.2 1293.8,1421.0 1291.3,1417.7 1288.7,1414.3 1286.1,1410.7 1283.4,1407.0 1280.7,1403.1 1278.0,1399.1 1275.2,1394.8 1272.4,1390.3 1269.6,1385.7 1266.8,1380.7 1264.0,1375.6 1261.2,1370.2 1258.4,1364.5 1255.7,1358.5 1253.1,1352.3 1250.6,1345.7 1248.3,1338.9 1246.2,1331.9 1244.5,1324.6 1243.1,1317.1 1242.1,1309.5 1241.6,1301.9 1241.8,1294.3 1242.6,1286.8 1244.1,1279.5 1246.4,1272.5 1249.4,1266.1 1253.3,1260.1 1257.8,1254.8 1263.0,1250.1 1268.9,1246.2 1275.2,1243.0 1282.0,1240.5 1289.0,1238.7 1296.2,1237.6 1303.6,1237.0 1311.0,1237.0 1318.3,1237.4 1325.6,1238.2 1332.7,1239.4 1339.6,1240.8 1346.3,1242.5 1352.8,1244.4 1359.1,1246.5 1365.2,1248.6 1371.0,1250.9 1376.7,1253.3 1382.1,1255.7 1387.3,1258.1 1392.3,1260.6 1397.2,1263.1 1401.8,1265.6 1406.3,1268.1 1410.7,1270.6 1414.9,1273.1 1418.9,1275.7 1422.9,1278.2 1426.7,1280.7 1430.4,1283.2 1434.0,1285.7 1437.5,1288.2 1441.0,1290.7 1444.3,1293.2 1447.6,1295.7 1450.8,1298.2 1454.0,1300.7 1457.1,1303.2 1460.1,1305.7 1463.1,1308.3 1466.1,1310.8 1469.1,1313.4 1472.0,1316.0 1474.8,1318.6 1477.7,1321.3 1480.5,1324.0 1483.4,1326.7 1486.2,1329.5 1489.0,1332.3 1491.8,1335.2 1494.6,1338.2 1497.4,1341.2 1500.2,1344.3 1503.1,1347.4 1505.9,1350.7 1508.7,1354.0 1511.6,1357.4 1514.5,1361.0 1517.4,1364.6 1520.3,1368.4 1523.2,1372.3 1526.2,1376.3 1529.1,1380.5 1532.1,1384.9 1535.1,1389.4 1538.1,1394.1Z"/>
<path fill="#fed7b5" d="M1537.8,1399.1 1540.7,1404.1 1543.7,1409.3 1546.6,1414.8 1549.4,1420.5 1552.2,1426.4 1554.8,1432.6 1557.3,1439.0 1559.7,1445.7 1561.8,1452.5 1563.6,1459.6 1565.1,1466.9 1566.1,1474.3 1566.7,1481.8 1566.8,1489.2 1566.2,1496.6 1564.9,1503.9 1562.8,1510.8 1560.0,1517.4 1556.4,1523.5 1551.9,1528.9 1546.7,1533.8 1540.9,1537.8 1534.4,1541.2 1527.4,1543.7 1520.0,1545.5 1512.4,1546.6 1504.7,1547.0 1496.9,1546.9 1489.1,1546.2 1481.5,1545.1 1474.1,1543.7 1466.9,1542.0 1459.9,1540.0 1453.2,1537.9 1446.9,1535.6 1440.8,1533.2 1434.9,1530.8 1429.4,1528.3 1424.1,1525.8 1419.1,1523.3 1414.3,1520.8 1409.7,1518.3 1405.3,1515.9 1401.2,1513.4 1397.2,1511.0 1393.3,1508.6 1389.7,1506.3 1386.1,1503.9 1382.7,1501.7 1379.5,1499.4 1376.3,1497.2 1373.3,1495.0 1370.3,1492.8 1367.4,1490.6 1364.6,1488.5 1361.9,1486.4 1359.2,1484.2 1356.7,1482.1 1354.1,1480.0 1351.6,1478.0 1349.2,1475.9 1346.8,1473.8 1344.4,1471.7 1342.0,1469.6 1339.7,1467.5 1337.4,1465.4 1335.2,1463.3 1332.9,1461.1 1330.7,1459.0 1328.4,1456.8 1326.2,1454.5 1324.0,1452.3 1321.7,1450.0 1319.5,1447.6 1317.2,1445.2 1315.0,1442.8 1312.7,1440.3 1310.4,1437.7 1308.1,1435.1 1305.8,1432.3 1303.4,1429.5 1301.0,1426.6 1298.6,1423.6 1296.2,1420.5 1293.7,1417.3 1291.2,1414.0 1288.6,1410.5 1286.0,1406.8 1283.4,1403.0 1280.7,1399.1 1278.0,1394.9 1275.3,1390.5 1272.5,1386.0 1269.8,1381.2 1267.0,1376.1 1264.3,1370.8 1261.6,1365.3 1258.9,1359.4 1256.4,1353.3 1253.9,1346.9 1251.7,1340.3 1249.7,1333.4 1247.9,1326.3 1246.6,1319.0 1245.6,1311.6 1245.2,1304.1 1245.3,1296.6 1246.1,1289.3 1247.6,1282.2 1249.8,1275.4 1252.8,1269.1 1256.5,1263.3 1261.0,1258.1 1266.1,1253.5 1271.9,1249.7 1278.1,1246.6 1284.7,1244.2 1291.6,1242.5 1298.7,1241.4 1305.8,1240.9 1313.1,1240.9 1320.2,1241.3 1327.3,1242.2 1334.2,1243.3 1341.0,1244.8 1347.6,1246.4 1353.9,1248.3 1360.1,1250.3 1366.0,1252.4 1371.7,1254.7 1377.2,1256.9 1382.5,1259.3 1387.6,1261.7 1392.5,1264.1 1397.2,1266.5 1401.7,1269.0 1406.1,1271.5 1410.3,1273.9 1414.4,1276.4 1418.4,1278.8 1422.2,1281.3 1425.9,1283.7 1429.5,1286.2 1433.1,1288.6 1436.5,1291.0 1439.8,1293.5 1443.1,1295.9 1446.3,1298.3 1449.4,1300.8 1452.5,1303.2 1455.5,1305.6 1458.5,1308.1 1461.5,1310.6 1464.4,1313.1 1467.2,1315.6 1470.1,1318.1 1472.9,1320.7 1475.7,1323.3 1478.4,1325.9 1481.2,1328.6 1483.9,1331.3 1486.7,1334.0 1489.4,1336.8 1492.2,1339.7 1494.9,1342.6 1497.7,1345.6 1500.4,1348.7 1503.2,1351.9 1506.0,1355.1 1508.8,1358.4 1511.6,1361.9 1514.5,1365.4 1517.3,1369.1 1520.2,1372.9 1523.1,1376.9 1526.0,1381.0 1528.9,1385.2 1531.9,1389.6 1534.8,1394.3Z"/>
<path fill="#fed4b0" d="M1534.5,1399.1 1537.4,1404.0 1540.3,1409.1 1543.1,1414.4 1545.9,1420.0 1548.7,1425.8 1551.3,1431.8 1553.8,1438.1 1556.2,1444.7 1558.3,1451.4 1560.1,1458.4 1561.7,1465.5 1562.8,1472.8 1563.4,1480.2 1563.5,1487.5 1563.0,1494.8 1561.8,1502.0 1559.9,1508.8 1557.2,1515.3 1553.6,1521.3 1549.3,1526.7 1544.2,1531.5 1538.5,1535.5 1532.1,1538.8 1525.2,1541.3 1518.0,1543.1 1510.5,1544.1 1502.9,1544.6 1495.2,1544.4 1487.6,1543.7 1480.0,1542.6 1472.7,1541.2 1465.6,1539.4 1458.8,1537.5 1452.2,1535.4 1445.9,1533.1 1439.9,1530.7 1434.2,1528.3 1428.8,1525.9 1423.6,1523.4 1418.6,1520.9 1413.9,1518.4 1409.5,1516.0 1405.2,1513.5 1401.1,1511.1 1397.2,1508.7 1393.4,1506.4 1389.8,1504.1 1386.4,1501.8 1383.0,1499.5 1379.8,1497.3 1376.8,1495.1 1373.8,1492.9 1370.9,1490.8 1368.1,1488.7 1365.3,1486.6 1362.7,1484.5 1360.1,1482.4 1357.5,1480.3 1355.0,1478.3 1352.6,1476.2 1350.2,1474.2 1347.9,1472.2 1345.6,1470.1 1343.3,1468.1 1341.0,1466.0 1338.8,1463.9 1336.5,1461.8 1334.3,1459.7 1332.1,1457.6 1330.0,1455.5 1327.8,1453.3 1325.6,1451.1 1323.4,1448.8 1321.2,1446.5 1319.0,1444.2 1316.8,1441.8 1314.6,1439.3 1312.4,1436.8 1310.1,1434.2 1307.9,1431.6 1305.6,1428.8 1303.2,1426.0 1300.9,1423.1 1298.5,1420.0 1296.1,1416.9 1293.6,1413.6 1291.1,1410.2 1288.6,1406.7 1286.0,1403.0 1283.4,1399.1 1280.8,1395.0 1278.1,1390.7 1275.5,1386.3 1272.8,1381.6 1270.1,1376.7 1267.4,1371.5 1264.7,1366.1 1262.2,1360.4 1259.7,1354.4 1257.3,1348.2 1255.1,1341.7 1253.1,1334.9 1251.4,1328.0 1250.1,1320.9 1249.1,1313.6 1248.7,1306.3 1248.8,1299.0 1249.6,1291.9 1251.1,1284.9 1253.2,1278.3 1256.2,1272.1 1259.8,1266.4 1264.2,1261.4 1269.2,1257.0 1274.8,1253.3 1280.9,1250.3 1287.4,1248.0 1294.1,1246.3 1301.1,1245.3 1308.1,1244.8 1315.1,1244.8 1322.2,1245.3 1329.1,1246.1 1335.8,1247.3 1342.4,1248.7 1348.8,1250.3 1355.0,1252.2 1361.0,1254.1 1366.8,1256.2 1372.4,1258.4 1377.7,1260.6 1382.9,1262.9 1387.8,1265.3 1392.6,1267.6 1397.2,1270.0 1401.6,1272.4 1405.9,1274.8 1410.0,1277.2 1414.0,1279.6 1417.8,1282.0 1421.5,1284.4 1425.2,1286.8 1428.7,1289.1 1432.1,1291.5 1435.5,1293.9 1438.7,1296.2 1441.9,1298.6 1445.0,1301.0 1448.1,1303.3 1451.1,1305.7 1454.0,1308.1 1456.9,1310.5 1459.8,1312.9 1462.6,1315.3 1465.4,1317.8 1468.2,1320.2 1470.9,1322.7 1473.6,1325.2 1476.3,1327.8 1479.0,1330.4 1481.7,1333.0 1484.4,1335.7 1487.1,1338.4 1489.7,1341.2 1492.4,1344.1 1495.1,1347.0 1497.8,1350.0 1500.5,1353.0 1503.3,1356.2 1506.0,1359.5 1508.8,1362.8 1511.5,1366.3 1514.3,1369.9 1517.2,1373.6 1520.0,1377.4 1522.9,1381.4 1525.8,1385.6 1528.7,1389.9 1531.6,1394.4Z"/>
<path fill="#fed0a9" d="M1531.2,1399.1 1534.0,1403.8 1536.9,1408.8 1539.7,1414.1 1542.5,1419.5 1545.2,1425.2 1547.8,1431.1 1550.4,1437.3 1552.7,1443.7 1554.8,1450.3 1556.7,1457.1 1558.3,1464.2 1559.4,1471.3 1560.1,1478.6 1560.3,1485.8 1559.9,1493.0 1558.8,1500.0 1556.9,1506.8 1554.3,1513.2 1550.9,1519.2 1546.7,1524.5 1541.7,1529.2 1536.1,1533.2 1529.8,1536.5 1523.1,1538.9 1516.0,1540.7 1508.6,1541.7 1501.1,1542.1 1493.5,1541.9 1486.0,1541.2 1478.6,1540.1 1471.4,1538.6 1464.4,1536.9 1457.7,1535.0 1451.2,1532.8 1445.0,1530.6 1439.1,1528.2 1433.5,1525.8 1428.2,1523.4 1423.1,1520.9 1418.2,1518.5 1413.6,1516.0 1409.2,1513.6 1405.0,1511.2 1401.0,1508.8 1397.2,1506.5 1393.5,1504.2 1390.0,1501.9 1386.6,1499.6 1383.3,1497.4 1380.2,1495.2 1377.2,1493.1 1374.3,1490.9 1371.4,1488.8 1368.7,1486.7 1366.0,1484.7 1363.4,1482.6 1360.9,1480.6 1358.4,1478.5 1356.0,1476.5 1353.6,1474.5 1351.3,1472.5 1349.0,1470.5 1346.7,1468.5 1344.5,1466.5 1342.3,1464.5 1340.1,1462.5 1337.9,1460.4 1335.8,1458.4 1333.6,1456.3 1331.5,1454.2 1329.4,1452.0 1327.3,1449.9 1325.1,1447.7 1323.0,1445.4 1320.9,1443.1 1318.7,1440.8 1316.6,1438.4 1314.4,1435.9 1312.2,1433.4 1310.0,1430.8 1307.7,1428.1 1305.5,1425.4 1303.2,1422.5 1300.8,1419.5 1298.5,1416.5 1296.1,1413.3 1293.6,1410.0 1291.2,1406.5 1288.7,1402.9 1286.1,1399.1 1283.6,1395.1 1281.0,1390.9 1278.4,1386.6 1275.7,1382.0 1273.1,1377.2 1270.5,1372.1 1267.9,1366.8 1265.4,1361.3 1263.0,1355.5 1260.6,1349.4 1258.5,1343.0 1256.5,1336.5 1254.9,1329.7 1253.6,1322.7 1252.7,1315.6 1252.2,1308.5 1252.4,1301.4 1253.1,1294.4 1254.5,1287.6 1256.7,1281.2 1259.5,1275.1 1263.1,1269.6 1267.4,1264.7 1272.3,1260.4 1277.8,1256.8 1283.8,1253.9 1290.1,1251.7 1296.7,1250.1 1303.5,1249.1 1310.3,1248.7 1317.2,1248.7 1324.1,1249.2 1330.8,1250.0 1337.4,1251.2 1343.9,1252.6 1350.1,1254.2 1356.1,1256.0 1362.0,1258.0 1367.6,1260.0 1373.0,1262.1 1378.2,1264.3 1383.2,1266.6 1388.1,1268.9 1392.7,1271.2 1397.2,1273.5 1401.5,1275.8 1405.6,1278.2 1409.6,1280.5 1413.5,1282.8 1417.3,1285.2 1420.9,1287.5 1424.4,1289.8 1427.8,1292.1 1431.2,1294.4 1434.4,1296.7 1437.6,1299.0 1440.7,1301.3 1443.7,1303.6 1446.7,1305.9 1449.6,1308.2 1452.5,1310.5 1455.3,1312.9 1458.1,1315.2 1460.8,1317.6 1463.6,1319.9 1466.3,1322.3 1468.9,1324.8 1471.6,1327.2 1474.2,1329.7 1476.8,1332.2 1479.5,1334.8 1482.1,1337.4 1484.7,1340.0 1487.3,1342.7 1489.9,1345.5 1492.6,1348.3 1495.2,1351.3 1497.9,1354.2 1500.5,1357.3 1503.2,1360.5 1505.9,1363.7 1508.6,1367.1 1511.4,1370.6 1514.1,1374.2 1516.9,1378.0 1519.7,1381.8 1522.6,1385.9 1525.4,1390.1 1528.3,1394.5Z"/>
<path fill="#fecba2" d="M1527.8,1399.1 1530.7,1403.7 1533.5,1408.6 1536.3,1413.7 1539.0,1419.0 1541.7,1424.6 1544.4,1430.4 1546.9,1436.4 1549.2,1442.7 1551.4,1449.2 1553.3,1455.9 1554.8,1462.8 1556.1,1469.8 1556.8,1476.9 1557.1,1484.1 1556.7,1491.2 1555.7,1498.1 1554.0,1504.8 1551.5,1511.2 1548.2,1517.0 1544.1,1522.3 1539.2,1527.0 1533.7,1530.9 1527.6,1534.1 1521.0,1536.6 1514.0,1538.2 1506.7,1539.2 1499.3,1539.6 1491.8,1539.4 1484.4,1538.7 1477.1,1537.6 1470.0,1536.1 1463.2,1534.4 1456.5,1532.4 1450.2,1530.3 1444.1,1528.1 1438.3,1525.7 1432.8,1523.4 1427.6,1520.9 1422.6,1518.5 1417.8,1516.1 1413.3,1513.7 1409.0,1511.3 1404.8,1508.9 1400.9,1506.5 1397.2,1504.2 1393.6,1501.9 1390.1,1499.7 1386.8,1497.5 1383.6,1495.3 1380.6,1493.1 1377.6,1491.0 1374.8,1488.9 1372.0,1486.8 1369.3,1484.8 1366.7,1482.7 1364.2,1480.7 1361.7,1478.7 1359.3,1476.8 1356.9,1474.8 1354.6,1472.8 1352.3,1470.8 1350.1,1468.9 1347.9,1466.9 1345.7,1465.0 1343.5,1463.0 1341.4,1461.0 1339.3,1459.0 1337.2,1457.0 1335.1,1454.9 1333.0,1452.9 1331.0,1450.8 1328.9,1448.7 1326.8,1446.5 1324.8,1444.3 1322.7,1442.1 1320.6,1439.8 1318.5,1437.4 1316.4,1435.0 1314.2,1432.6 1312.1,1430.0 1309.9,1427.4 1307.7,1424.7 1305.4,1421.9 1303.2,1419.1 1300.9,1416.1 1298.5,1412.9 1296.2,1409.7 1293.8,1406.3 1291.3,1402.8 1288.9,1399.1 1286.4,1395.2 1283.8,1391.1 1281.3,1386.9 1278.7,1382.4 1276.2,1377.7 1273.6,1372.8 1271.1,1367.6 1268.6,1362.2 1266.2,1356.5 1264.0,1350.6 1261.9,1344.4 1260.0,1338.0 1258.4,1331.4 1257.1,1324.6 1256.2,1317.7 1255.8,1310.7 1255.9,1303.8 1256.6,1296.9 1258.0,1290.3 1260.1,1284.0 1262.9,1278.2 1266.4,1272.8 1270.6,1268.0 1275.4,1263.9 1280.8,1260.4 1286.6,1257.6 1292.8,1255.4 1299.2,1253.9 1305.9,1253.0 1312.6,1252.6 1319.3,1252.7 1326.0,1253.1 1332.6,1254.0 1339.0,1255.1 1345.3,1256.5 1351.4,1258.1 1357.3,1259.9 1362.9,1261.8 1368.4,1263.8 1373.7,1265.9 1378.8,1268.0 1383.6,1270.2 1388.3,1272.5 1392.8,1274.7 1397.2,1277.0 1401.4,1279.2 1405.4,1281.5 1409.3,1283.8 1413.0,1286.1 1416.7,1288.3 1420.2,1290.6 1423.7,1292.8 1427.0,1295.1 1430.2,1297.3 1433.4,1299.6 1436.5,1301.8 1439.5,1304.0 1442.4,1306.3 1445.3,1308.5 1448.2,1310.8 1450.9,1313.0 1453.7,1315.3 1456.4,1317.5 1459.1,1319.8 1461.7,1322.1 1464.4,1324.4 1467.0,1326.8 1469.5,1329.2 1472.1,1331.6 1474.7,1334.0 1477.2,1336.5 1479.8,1339.0 1482.3,1341.6 1484.9,1344.3 1487.4,1347.0 1490.0,1349.7 1492.6,1352.5 1495.2,1355.4 1497.8,1358.4 1500.4,1361.5 1503.0,1364.7 1505.7,1367.9 1508.4,1371.3 1511.1,1374.8 1513.9,1378.5 1516.6,1382.3 1519.4,1386.2 1522.2,1390.3 1525.0,1394.6Z"/>
<path fill="#fec69b" d="M1524.5,1399.1 1527.3,1403.6 1530.1,1408.4 1532.9,1413.3 1535.6,1418.5 1538.3,1424.0 1540.9,1429.6 1543.4,1435.5 1545.7,1441.7 1547.9,1448.0 1549.8,1454.6 1551.4,1461.4 1552.7,1468.3 1553.5,1475.3 1553.8,1482.4 1553.6,1489.4 1552.7,1496.2 1551.0,1502.8 1548.6,1509.1 1545.4,1514.9 1541.5,1520.1 1536.7,1524.7 1531.3,1528.6 1525.3,1531.8 1518.8,1534.2 1511.9,1535.8 1504.8,1536.8 1497.5,1537.1 1490.1,1536.9 1482.8,1536.2 1475.7,1535.1 1468.7,1533.6 1461.9,1531.8 1455.4,1529.9 1449.2,1527.8 1443.2,1525.6 1437.5,1523.2 1432.1,1520.9 1426.9,1518.5 1422.0,1516.1 1417.4,1513.7 1412.9,1511.3 1408.7,1508.9 1404.7,1506.5 1400.8,1504.2 1397.2,1501.9 1393.7,1499.7 1390.3,1497.5 1387.1,1495.3 1383.9,1493.2 1381.0,1491.0 1378.1,1488.9 1375.3,1486.9 1372.6,1484.8 1369.9,1482.8 1367.4,1480.8 1364.9,1478.9 1362.5,1476.9 1360.2,1475.0 1357.8,1473.0 1355.6,1471.1 1353.4,1469.2 1351.2,1467.2 1349.0,1465.3 1346.9,1463.4 1344.8,1461.5 1342.7,1459.5 1340.7,1457.6 1338.6,1455.6 1336.6,1453.6 1334.6,1451.6 1332.6,1449.5 1330.6,1447.5 1328.5,1445.4 1326.5,1443.2 1324.5,1441.0 1322.5,1438.8 1320.4,1436.5 1318.3,1434.2 1316.3,1431.8 1314.2,1429.3 1312.0,1426.7 1309.9,1424.1 1307.7,1421.4 1305.5,1418.6 1303.3,1415.6 1301.0,1412.6 1298.7,1409.4 1296.3,1406.1 1294.0,1402.7 1291.6,1399.1 1289.1,1395.3 1286.7,1391.3 1284.2,1387.2 1281.7,1382.8 1279.2,1378.3 1276.7,1373.5 1274.3,1368.4 1271.9,1363.1 1269.5,1357.6 1267.3,1351.8 1265.3,1345.8 1263.4,1339.5 1261.8,1333.1 1260.6,1326.4 1259.7,1319.7 1259.3,1312.9 1259.4,1306.1 1260.1,1299.5 1261.5,1293.1 1263.5,1286.9 1266.3,1281.2 1269.7,1276.0 1273.8,1271.3 1278.5,1267.3 1283.8,1263.9 1289.5,1261.2 1295.5,1259.1 1301.8,1257.7 1308.3,1256.8 1314.8,1256.5 1321.4,1256.6 1327.9,1257.1 1334.3,1257.9 1340.6,1259.1 1346.7,1260.4 1352.6,1262.0 1358.4,1263.8 1363.9,1265.6 1369.2,1267.6 1374.3,1269.6 1379.3,1271.7 1384.0,1273.9 1388.6,1276.1 1392.9,1278.2 1397.2,1280.5 1401.2,1282.7 1405.2,1284.9 1408.9,1287.1 1412.6,1289.3 1416.1,1291.5 1419.6,1293.7 1422.9,1295.9 1426.1,1298.1 1429.3,1300.2 1432.3,1302.4 1435.3,1304.6 1438.3,1306.8 1441.1,1308.9 1443.9,1311.1 1446.7,1313.3 1449.4,1315.5 1452.1,1317.6 1454.7,1319.8 1457.3,1322.1 1459.9,1324.3 1462.5,1326.6 1465.0,1328.8 1467.5,1331.1 1470.0,1333.5 1472.5,1335.9 1475.0,1338.3 1477.5,1340.7 1480.0,1343.2 1482.4,1345.8 1484.9,1348.4 1487.4,1351.1 1490.0,1353.8 1492.5,1356.6 1495.0,1359.5 1497.6,1362.5 1500.2,1365.6 1502.8,1368.8 1505.4,1372.1 1508.1,1375.5 1510.8,1379.0 1513.5,1382.7 1516.2,1386.6 1519.0,1390.6 1521.7,1394.7Z"/>
<path fill="#ffc294" d="M1521.2,1399.1 1524.0,1403.5 1526.7,1408.1 1529.4,1413.0 1532.2,1418.0 1534.8,1423.3 1537.4,1428.9 1539.9,1434.7 1542.3,1440.7 1544.4,1446.9 1546.4,1453.4 1548.0,1460.0 1549.3,1466.8 1550.2,1473.7 1550.6,1480.7 1550.4,1487.6 1549.6,1494.3 1548.1,1500.8 1545.8,1507.0 1542.7,1512.8 1538.8,1517.9 1534.2,1522.5 1528.9,1526.3 1523.1,1529.4 1516.7,1531.8 1509.9,1533.4 1502.9,1534.4 1495.7,1534.7 1488.5,1534.4 1481.3,1533.7 1474.2,1532.5 1467.3,1531.1 1460.7,1529.3 1454.3,1527.4 1448.2,1525.3 1442.3,1523.0 1436.7,1520.7 1431.4,1518.4 1426.3,1516.0 1421.5,1513.6 1416.9,1511.2 1412.6,1508.9 1408.5,1506.5 1404.5,1504.2 1400.8,1501.9 1397.2,1499.7 1393.7,1497.5 1390.4,1495.3 1387.3,1493.1 1384.2,1491.0 1381.3,1488.9 1378.5,1486.9 1375.8,1484.9 1373.1,1482.9 1370.6,1480.9 1368.1,1478.9 1365.7,1477.0 1363.3,1475.1 1361.0,1473.2 1358.8,1471.3 1356.6,1469.4 1354.4,1467.5 1352.3,1465.6 1350.2,1463.7 1348.1,1461.8 1346.1,1459.9 1344.1,1458.0 1342.1,1456.1 1340.1,1454.2 1338.1,1452.3 1336.1,1450.3 1334.2,1448.3 1332.2,1446.3 1330.2,1444.2 1328.3,1442.1 1326.3,1440.0 1324.3,1437.8 1322.3,1435.6 1320.3,1433.3 1318.3,1430.9 1316.2,1428.5 1314.2,1426.0 1312.1,1423.5 1310.0,1420.8 1307.8,1418.1 1305.6,1415.2 1303.4,1412.2 1301.2,1409.2 1298.9,1405.9 1296.6,1402.6 1294.3,1399.1 1291.9,1395.4 1289.5,1391.5 1287.1,1387.5 1284.7,1383.3 1282.2,1378.8 1279.8,1374.1 1277.4,1369.2 1275.1,1364.1 1272.8,1358.7 1270.7,1353.0 1268.7,1347.2 1266.9,1341.1 1265.3,1334.8 1264.1,1328.3 1263.2,1321.7 1262.8,1315.1 1262.9,1308.5 1263.6,1302.0 1264.9,1295.8 1266.9,1289.8 1269.6,1284.2 1273.0,1279.2 1277.0,1274.6 1281.6,1270.7 1286.7,1267.5 1292.3,1264.8 1298.2,1262.9 1304.4,1261.5 1310.7,1260.7 1317.1,1260.4 1323.5,1260.5 1329.8,1261.0 1336.1,1261.9 1342.2,1263.0 1348.1,1264.4 1353.9,1265.9 1359.5,1267.6 1364.9,1269.5 1370.0,1271.4 1375.0,1273.4 1379.8,1275.4 1384.4,1277.5 1388.8,1279.6 1393.1,1281.8 1397.2,1283.9 1401.1,1286.1 1404.9,1288.2 1408.6,1290.4 1412.1,1292.5 1415.6,1294.7 1418.9,1296.8 1422.1,1298.9 1425.3,1301.0 1428.3,1303.2 1431.3,1305.3 1434.2,1307.4 1437.1,1309.5 1439.8,1311.6 1442.6,1313.7 1445.2,1315.8 1447.9,1317.9 1450.5,1320.0 1453.0,1322.2 1455.6,1324.3 1458.1,1326.5 1460.6,1328.7 1463.0,1330.9 1465.5,1333.1 1467.9,1335.4 1470.3,1337.7 1472.7,1340.0 1475.2,1342.4 1477.6,1344.8 1480.0,1347.3 1482.4,1349.8 1484.9,1352.4 1487.3,1355.1 1489.8,1357.8 1492.3,1360.6 1494.8,1363.5 1497.3,1366.5 1499.9,1369.6 1502.5,1372.8 1505.1,1376.1 1507.7,1379.6 1510.3,1383.2 1513.0,1386.9 1515.7,1390.8 1518.5,1394.8Z"/>
<path fill="#ffbd8d" d="M1517.9,1399.1 1520.6,1403.4 1523.3,1407.9 1526.0,1412.6 1528.7,1417.6 1531.3,1422.7 1533.9,1428.1 1536.4,1433.8 1538.8,1439.7 1541.0,1445.8 1542.9,1452.1 1544.6,1458.6 1546.0,1465.3 1546.9,1472.1 1547.4,1478.9 1547.3,1485.7 1546.5,1492.4 1545.1,1498.9 1542.9,1505.0 1540.0,1510.6 1536.2,1515.7 1531.7,1520.2 1526.6,1524.0 1520.8,1527.1 1514.5,1529.4 1507.9,1531.0 1500.9,1531.9 1493.9,1532.2 1486.8,1531.9 1479.7,1531.2 1472.8,1530.0 1466.0,1528.5 1459.5,1526.8 1453.2,1524.8 1447.1,1522.7 1441.4,1520.5 1435.9,1518.2 1430.7,1515.9 1425.7,1513.6 1421.0,1511.2 1416.5,1508.8 1412.3,1506.5 1408.2,1504.2 1404.4,1501.9 1400.7,1499.6 1397.2,1497.4 1393.8,1495.2 1390.6,1493.1 1387.5,1491.0 1384.5,1488.9 1381.7,1486.9 1378.9,1484.8 1376.3,1482.8 1373.7,1480.9 1371.2,1478.9 1368.8,1477.0 1366.4,1475.1 1364.1,1473.2 1361.9,1471.4 1359.7,1469.5 1357.6,1467.7 1355.5,1465.8 1353.4,1464.0 1351.4,1462.1 1349.3,1460.3 1347.4,1458.4 1345.4,1456.6 1343.4,1454.7 1341.5,1452.8 1339.6,1450.9 1337.7,1449.0 1335.8,1447.0 1333.9,1445.1 1331.9,1443.1 1330.0,1441.0 1328.1,1438.9 1326.2,1436.8 1324.3,1434.6 1322.3,1432.4 1320.3,1430.1 1318.3,1427.8 1316.3,1425.3 1314.3,1422.8 1312.2,1420.2 1310.2,1417.6 1308.0,1414.8 1305.9,1411.9 1303.7,1408.9 1301.5,1405.8 1299.3,1402.5 1297.0,1399.1 1294.7,1395.5 1292.4,1391.7 1290.0,1387.8 1287.6,1383.7 1285.3,1379.3 1282.9,1374.8 1280.6,1370.0 1278.3,1365.0 1276.1,1359.7 1274.0,1354.2 1272.1,1348.5 1270.3,1342.6 1268.8,1336.5 1267.6,1330.2 1266.7,1323.8 1266.3,1317.3 1266.4,1310.9 1267.1,1304.6 1268.4,1298.5 1270.4,1292.7 1273.0,1287.3 1276.3,1282.3 1280.2,1277.9 1284.7,1274.2 1289.7,1271.0 1295.2,1268.5 1300.9,1266.6 1306.9,1265.3 1313.1,1264.5 1319.3,1264.3 1325.6,1264.4 1331.8,1265.0 1337.8,1265.8 1343.8,1266.9 1349.6,1268.3 1355.2,1269.8 1360.6,1271.5 1365.8,1273.3 1370.8,1275.2 1375.7,1277.1 1380.3,1279.1 1384.8,1281.2 1389.1,1283.2 1393.2,1285.3 1397.2,1287.4 1401.0,1289.5 1404.7,1291.6 1408.2,1293.7 1411.7,1295.8 1415.0,1297.8 1418.2,1299.9 1421.4,1302.0 1424.4,1304.0 1427.4,1306.1 1430.3,1308.1 1433.1,1310.2 1435.8,1312.2 1438.5,1314.2 1441.2,1316.3 1443.8,1318.3 1446.4,1320.4 1448.9,1322.4 1451.4,1324.5 1453.8,1326.6 1456.2,1328.7 1458.7,1330.8 1461.0,1332.9 1463.4,1335.1 1465.8,1337.3 1468.2,1339.5 1470.5,1341.8 1472.9,1344.1 1475.2,1346.4 1477.6,1348.8 1479.9,1351.3 1482.3,1353.8 1484.7,1356.4 1487.1,1359.0 1489.6,1361.7 1492.0,1364.6 1494.5,1367.5 1497.0,1370.5 1499.5,1373.6 1502.0,1376.8 1504.6,1380.1 1507.2,1383.6 1509.8,1387.2 1512.5,1391.0 1515.2,1394.9Z"/>
<path fill="#ffb886" d="M1514.6,1399.1 1517.2,1403.3 1519.9,1407.7 1522.6,1412.3 1525.3,1417.1 1527.9,1422.1 1530.4,1427.4 1532.9,1432.9 1535.3,1438.7 1537.5,1444.7 1539.5,1450.9 1541.2,1457.3 1542.6,1463.8 1543.6,1470.5 1544.2,1477.2 1544.1,1483.9 1543.5,1490.5 1542.1,1496.9 1540.1,1502.9 1537.2,1508.5 1533.6,1513.5 1529.2,1518.0 1524.2,1521.7 1518.5,1524.7 1512.4,1527.0 1505.8,1528.6 1499.0,1529.5 1492.1,1529.7 1485.1,1529.4 1478.1,1528.7 1471.3,1527.5 1464.7,1526.0 1458.2,1524.3 1452.0,1522.3 1446.1,1520.2 1440.5,1518.0 1435.1,1515.7 1430.0,1513.4 1425.1,1511.1 1420.5,1508.8 1416.1,1506.4 1411.9,1504.1 1408.0,1501.8 1404.2,1499.6 1400.6,1497.3 1397.2,1495.2 1393.9,1493.0 1390.7,1490.9 1387.7,1488.8 1384.8,1486.8 1382.1,1484.8 1379.4,1482.8 1376.8,1480.8 1374.3,1478.9 1371.8,1477.0 1369.5,1475.1 1367.2,1473.3 1365.0,1471.4 1362.8,1469.6 1360.6,1467.8 1358.6,1465.9 1356.5,1464.1 1354.5,1462.3 1352.5,1460.5 1350.6,1458.7 1348.6,1456.9 1346.7,1455.1 1344.8,1453.3 1342.9,1451.4 1341.1,1449.6 1339.2,1447.7 1337.4,1445.8 1335.5,1443.9 1333.6,1441.9 1331.8,1439.9 1329.9,1437.9 1328.1,1435.8 1326.2,1433.7 1324.3,1431.5 1322.4,1429.3 1320.4,1427.0 1318.5,1424.6 1316.5,1422.2 1314.5,1419.7 1312.5,1417.1 1310.4,1414.4 1308.4,1411.6 1306.2,1408.6 1304.1,1405.6 1301.9,1402.4 1299.7,1399.1 1297.5,1395.6 1295.2,1391.9 1292.9,1388.1 1290.6,1384.1 1288.3,1379.9 1286.0,1375.4 1283.8,1370.8 1281.5,1365.9 1279.4,1360.8 1277.4,1355.5 1275.5,1349.9 1273.7,1344.1 1272.3,1338.1 1271.1,1332.0 1270.3,1325.8 1269.9,1319.5 1270.0,1313.3 1270.6,1307.1 1271.9,1301.2 1273.8,1295.5 1276.4,1290.3 1279.6,1285.5 1283.4,1281.3 1287.8,1277.6 1292.7,1274.6 1298.0,1272.1 1303.6,1270.3 1309.5,1269.1 1315.5,1268.4 1321.6,1268.1 1327.7,1268.3 1333.7,1268.9 1339.6,1269.8 1345.4,1270.9 1351.0,1272.2 1356.4,1273.7 1361.7,1275.4 1366.8,1277.1 1371.6,1279.0 1376.3,1280.9 1380.8,1282.8 1385.2,1284.8 1389.3,1286.8 1393.3,1288.8 1397.2,1290.9 1400.9,1292.9 1404.4,1294.9 1407.9,1297.0 1411.2,1299.0 1414.5,1301.0 1417.6,1303.0 1420.6,1305.0 1423.6,1307.0 1426.4,1309.0 1429.2,1311.0 1432.0,1312.9 1434.6,1314.9 1437.3,1316.9 1439.8,1318.8 1442.3,1320.8 1444.8,1322.8 1447.3,1324.8 1449.7,1326.8 1452.1,1328.8 1454.4,1330.8 1456.8,1332.9 1459.1,1335.0 1461.4,1337.1 1463.7,1339.2 1466.0,1341.3 1468.3,1343.5 1470.6,1345.7 1472.8,1348.0 1475.1,1350.3 1477.4,1352.7 1479.8,1355.2 1482.1,1357.6 1484.4,1360.2 1486.8,1362.9 1489.2,1365.6 1491.6,1368.4 1494.0,1371.3 1496.5,1374.3 1499.0,1377.4 1501.5,1380.7 1504.1,1384.0 1506.7,1387.6 1509.3,1391.2 1511.9,1395.1Z"/>
<path fill="#ffb37f" d="M1511.2,1399.1 1513.9,1403.1 1516.5,1407.4 1519.2,1411.9 1521.8,1416.6 1524.4,1421.5 1527.0,1426.7 1529.4,1432.1 1531.8,1437.7 1534.0,1443.5 1536.1,1449.6 1537.8,1455.9 1539.3,1462.3 1540.3,1468.9 1540.9,1475.5 1541.0,1482.1 1540.4,1488.6 1539.2,1494.9 1537.2,1500.8 1534.5,1506.3 1531.0,1511.3 1526.7,1515.7 1521.8,1519.4 1516.3,1522.4 1510.2,1524.6 1503.8,1526.2 1497.1,1527.0 1490.3,1527.2 1483.4,1526.9 1476.6,1526.1 1469.9,1525.0 1463.3,1523.5 1457.0,1521.7 1450.9,1519.8 1445.1,1517.7 1439.5,1515.5 1434.3,1513.3 1429.2,1511.0 1424.5,1508.6 1420.0,1506.3 1415.7,1504.0 1411.6,1501.7 1407.7,1499.5 1404.0,1497.2 1400.5,1495.1 1397.2,1492.9 1394.0,1490.8 1390.9,1488.7 1388.0,1486.7 1385.1,1484.6 1382.4,1482.7 1379.8,1480.7 1377.3,1478.8 1374.8,1476.9 1372.5,1475.0 1370.2,1473.2 1368.0,1471.4 1365.8,1469.6 1363.7,1467.8 1361.6,1466.0 1359.5,1464.2 1357.6,1462.5 1355.6,1460.7 1353.7,1458.9 1351.8,1457.2 1349.9,1455.4 1348.0,1453.6 1346.2,1451.8 1344.4,1450.1 1342.6,1448.2 1340.8,1446.4 1339.0,1444.6 1337.2,1442.7 1335.4,1440.8 1333.6,1438.8 1331.7,1436.8 1329.9,1434.8 1328.1,1432.8 1326.3,1430.6 1324.4,1428.5 1322.5,1426.2 1320.6,1423.9 1318.7,1421.6 1316.8,1419.1 1314.8,1416.6 1312.8,1413.9 1310.8,1411.2 1308.8,1408.4 1306.7,1405.4 1304.6,1402.3 1302.4,1399.1 1300.2,1395.7 1298.0,1392.1 1295.8,1388.4 1293.6,1384.5 1291.4,1380.4 1289.1,1376.1 1286.9,1371.6 1284.8,1366.8 1282.7,1361.9 1280.7,1356.7 1278.8,1351.3 1277.2,1345.6 1275.7,1339.8 1274.6,1333.9 1273.8,1327.8 1273.4,1321.7 1273.5,1315.7 1274.1,1309.7 1275.4,1303.9 1277.2,1298.4 1279.7,1293.3 1282.9,1288.7 1286.6,1284.6 1290.9,1281.0 1295.7,1278.1 1300.8,1275.8 1306.3,1274.1 1312.1,1272.9 1317.9,1272.2 1323.8,1272.0 1329.7,1272.3 1335.6,1272.8 1341.3,1273.7 1347.0,1274.8 1352.4,1276.1 1357.7,1277.6 1362.8,1279.2 1367.7,1281.0 1372.4,1282.8 1377.0,1284.6 1381.3,1286.5 1385.5,1288.5 1389.6,1290.4 1393.4,1292.4 1397.2,1294.4 1400.8,1296.3 1404.2,1298.3 1407.6,1300.3 1410.8,1302.2 1413.9,1304.2 1416.9,1306.1 1419.9,1308.0 1422.7,1310.0 1425.5,1311.9 1428.2,1313.8 1430.8,1315.7 1433.4,1317.6 1436.0,1319.5 1438.4,1321.4 1440.9,1323.3 1443.3,1325.3 1445.7,1327.2 1448.0,1329.1 1450.3,1331.1 1452.6,1333.0 1454.9,1335.0 1457.1,1337.0 1459.3,1339.0 1461.6,1341.1 1463.8,1343.2 1466.0,1345.3 1468.3,1347.4 1470.5,1349.6 1472.7,1351.9 1475.0,1354.2 1477.2,1356.5 1479.5,1358.9 1481.8,1361.4 1484.1,1364.0 1486.4,1366.6 1488.7,1369.3 1491.1,1372.1 1493.5,1375.0 1496.0,1378.1 1498.4,1381.2 1500.9,1384.5 1503.5,1387.9 1506.0,1391.5 1508.6,1395.2Z"/>
<path fill="#ffad77" d="M1507.9,1399.1 1510.5,1403.0 1513.1,1407.2 1515.7,1411.5 1518.3,1416.1 1520.9,1420.9 1523.5,1425.9 1525.9,1431.2 1528.3,1436.7 1530.5,1442.4 1532.5,1448.3 1534.3,1454.5 1535.8,1460.8 1536.9,1467.2 1537.6,1473.7 1537.7,1480.2 1537.2,1486.6 1536.1,1492.7 1534.2,1498.6 1531.5,1504.1 1528.2,1509.0 1524.0,1513.3 1519.2,1516.9 1513.8,1519.9 1507.9,1522.1 1501.6,1523.5 1495.0,1524.4 1488.3,1524.6 1481.6,1524.2 1474.9,1523.4 1468.3,1522.3 1461.9,1520.8 1455.7,1519.0 1449.7,1517.1 1444.0,1515.0 1438.6,1512.9 1433.4,1510.6 1428.5,1508.4 1423.8,1506.1 1419.4,1503.8 1415.2,1501.5 1411.2,1499.3 1407.5,1497.0 1403.9,1494.9 1400.4,1492.7 1397.2,1490.6 1394.0,1488.5 1391.1,1486.5 1388.2,1484.5 1385.4,1482.5 1382.8,1480.6 1380.3,1478.6 1377.8,1476.8 1375.4,1474.9 1373.1,1473.1 1370.9,1471.3 1368.7,1469.5 1366.6,1467.7 1364.5,1466.0 1362.5,1464.2 1360.5,1462.5 1358.6,1460.8 1356.7,1459.1 1354.8,1457.4 1353.0,1455.6 1351.1,1453.9 1349.3,1452.2 1347.6,1450.4 1345.8,1448.7 1344.0,1446.9 1342.3,1445.1 1340.5,1443.3 1338.8,1441.5 1337.0,1439.6 1335.3,1437.7 1333.5,1435.8 1331.7,1433.9 1330.0,1431.8 1328.2,1429.8 1326.4,1427.7 1324.6,1425.5 1322.7,1423.3 1320.9,1420.9 1319.0,1418.6 1317.1,1416.1 1315.1,1413.5 1313.2,1410.9 1311.2,1408.1 1309.2,1405.2 1307.1,1402.2 1305.0,1399.1 1302.9,1395.8 1300.8,1392.3 1298.6,1388.7 1296.4,1384.9 1294.3,1380.9 1292.1,1376.7 1290.0,1372.3 1287.9,1367.7 1285.8,1362.9 1283.9,1357.8 1282.1,1352.6 1280.4,1347.1 1279.0,1341.5 1277.9,1335.7 1277.1,1329.8 1276.8,1323.8 1276.9,1317.9 1277.5,1312.1 1278.7,1306.5 1280.5,1301.2 1283.0,1296.2 1286.0,1291.7 1289.7,1287.8 1293.9,1284.4 1298.6,1281.5 1303.6,1279.3 1309.0,1277.7 1314.6,1276.6 1320.3,1276.0 1326.0,1275.8 1331.8,1276.1 1337.5,1276.7 1343.1,1277.5 1348.5,1278.6 1353.8,1280.0 1358.9,1281.4 1363.9,1283.0 1368.6,1284.7 1373.2,1286.5 1377.6,1288.3 1381.9,1290.1 1385.9,1292.0 1389.8,1293.9 1393.6,1295.8 1397.2,1297.7 1400.6,1299.7 1404.0,1301.6 1407.2,1303.5 1410.3,1305.4 1413.4,1307.3 1416.3,1309.1 1419.1,1311.0 1421.9,1312.9 1424.6,1314.7 1427.2,1316.6 1429.7,1318.4 1432.2,1320.3 1434.7,1322.1 1437.1,1324.0 1439.5,1325.8 1441.8,1327.7 1444.1,1329.5 1446.3,1331.4 1448.6,1333.3 1450.8,1335.2 1453.0,1337.1 1455.2,1339.0 1457.4,1340.9 1459.5,1342.9 1461.7,1344.9 1463.8,1347.0 1466.0,1349.1 1468.2,1351.2 1470.3,1353.4 1472.5,1355.6 1474.7,1357.8 1476.9,1360.2 1479.1,1362.6 1481.4,1365.1 1483.6,1367.6 1485.9,1370.2 1488.2,1373.0 1490.6,1375.8 1493.0,1378.7 1495.4,1381.7 1497.8,1384.9 1500.3,1388.2 1502.8,1391.7 1505.4,1395.3Z"/>
<path fill="#ffa56e" d="M1504.7,1399.1 1507.2,1402.9 1509.7,1406.9 1512.3,1411.2 1514.8,1415.6 1517.3,1420.3 1519.8,1425.1 1522.2,1430.2 1524.5,1435.6 1526.7,1441.2 1528.7,1446.9 1530.4,1452.9 1531.9,1459.0 1532.9,1465.3 1533.6,1471.6 1533.7,1477.9 1533.2,1484.1 1532.1,1490.1 1530.3,1495.8 1527.7,1501.1 1524.4,1505.9 1520.4,1510.0 1515.7,1513.6 1510.5,1516.4 1504.7,1518.5 1498.6,1520.0 1492.2,1520.7 1485.7,1520.9 1479.2,1520.6 1472.6,1519.9 1466.2,1518.7 1460.0,1517.3 1454.0,1515.6 1448.2,1513.7 1442.7,1511.7 1437.4,1509.6 1432.4,1507.5 1427.6,1505.3 1423.1,1503.1 1418.8,1500.8 1414.7,1498.6 1410.9,1496.5 1407.2,1494.3 1403.7,1492.2 1400.3,1490.1 1397.2,1488.1 1394.1,1486.1 1391.2,1484.1 1388.4,1482.1 1385.8,1480.2 1383.2,1478.4 1380.7,1476.5 1378.3,1474.7 1376.0,1472.9 1373.8,1471.1 1371.6,1469.4 1369.5,1467.6 1367.4,1465.9 1365.4,1464.2 1363.4,1462.5 1361.5,1460.9 1359.6,1459.2 1357.7,1457.5 1355.9,1455.8 1354.1,1454.2 1352.3,1452.5 1350.6,1450.8 1348.8,1449.1 1347.1,1447.4 1345.4,1445.7 1343.6,1444.0 1341.9,1442.2 1340.2,1440.4 1338.5,1438.6 1336.8,1436.8 1335.1,1434.9 1333.4,1433.0 1331.6,1431.0 1329.9,1429.0 1328.1,1427.0 1326.3,1424.9 1324.5,1422.7 1322.7,1420.4 1320.8,1418.1 1319.0,1415.7 1317.1,1413.2 1315.1,1410.6 1313.2,1407.9 1311.2,1405.1 1309.2,1402.1 1307.1,1399.1 1305.0,1395.9 1302.9,1392.5 1300.8,1388.9 1298.7,1385.2 1296.5,1381.3 1294.4,1377.2 1292.3,1372.9 1290.2,1368.4 1288.2,1363.7 1286.3,1358.7 1284.5,1353.6 1282.9,1348.2 1281.6,1342.7 1280.5,1337.0 1279.7,1331.3 1279.4,1325.5 1279.5,1319.7 1280.1,1314.0 1281.4,1308.6 1283.2,1303.4 1285.6,1298.6 1288.7,1294.3 1292.3,1290.5 1296.4,1287.2 1301.0,1284.5 1306.0,1282.4 1311.3,1280.9 1316.7,1279.8 1322.3,1279.3 1328.0,1279.2 1333.6,1279.5 1339.1,1280.1 1344.6,1281.0 1349.9,1282.1 1355.1,1283.4 1360.0,1284.8 1364.9,1286.4 1369.5,1288.0 1373.9,1289.8 1378.2,1291.5 1382.3,1293.4 1386.2,1295.2 1390.0,1297.0 1393.7,1298.9 1397.2,1300.8 1400.5,1302.6 1403.8,1304.5 1406.9,1306.4 1409.9,1308.2 1412.9,1310.0 1415.7,1311.9 1418.5,1313.7 1421.1,1315.5 1423.7,1317.3 1426.3,1319.1 1428.8,1320.9 1431.2,1322.7 1433.6,1324.4 1435.9,1326.2 1438.2,1328.0 1440.4,1329.8 1442.7,1331.6 1444.9,1333.4 1447.0,1335.2 1449.2,1337.1 1451.3,1338.9 1453.4,1340.8 1455.5,1342.7 1457.6,1344.6 1459.7,1346.6 1461.8,1348.6 1463.9,1350.6 1466.0,1352.6 1468.1,1354.7 1470.2,1356.9 1472.4,1359.1 1474.5,1361.3 1476.7,1363.7 1478.8,1366.1 1481.1,1368.5 1483.3,1371.1 1485.5,1373.7 1487.8,1376.5 1490.1,1379.3 1492.5,1382.3 1494.9,1385.3 1497.3,1388.5 1499.7,1391.9 1502.2,1395.4Z"/>
<path fill="#ff9d65" d="M1501.4,1399.1 1503.9,1402.8 1506.4,1406.7 1508.8,1410.8 1511.3,1415.1 1513.8,1419.6 1516.2,1424.4 1518.5,1429.3 1520.8,1434.5 1522.9,1439.9 1524.8,1445.5 1526.5,1451.3 1527.9,1457.3 1529.0,1463.4 1529.6,1469.5 1529.7,1475.6 1529.3,1481.6 1528.2,1487.5 1526.4,1493.0 1523.9,1498.1 1520.7,1502.7 1516.8,1506.8 1512.3,1510.2 1507.1,1513.0 1501.6,1515.0 1495.6,1516.4 1489.4,1517.1 1483.1,1517.3 1476.7,1517.0 1470.4,1516.3 1464.2,1515.2 1458.2,1513.8 1452.3,1512.1 1446.7,1510.3 1441.3,1508.4 1436.2,1506.4 1431.4,1504.3 1426.7,1502.2 1422.3,1500.0 1418.2,1497.9 1414.2,1495.8 1410.5,1493.7 1406.9,1491.6 1403.5,1489.5 1400.3,1487.5 1397.2,1485.5 1394.2,1483.6 1391.4,1481.7 1388.7,1479.8 1386.1,1478.0 1383.6,1476.1 1381.2,1474.4 1378.8,1472.6 1376.6,1470.9 1374.4,1469.1 1372.3,1467.5 1370.2,1465.8 1368.2,1464.1 1366.2,1462.5 1364.3,1460.8 1362.4,1459.2 1360.6,1457.6 1358.8,1456.0 1357.0,1454.3 1355.2,1452.7 1353.5,1451.1 1351.8,1449.5 1350.1,1447.8 1348.4,1446.2 1346.7,1444.5 1345.0,1442.8 1343.4,1441.1 1341.7,1439.4 1340.0,1437.6 1338.3,1435.8 1336.7,1434.0 1335.0,1432.1 1333.3,1430.2 1331.5,1428.3 1329.8,1426.3 1328.1,1424.2 1326.3,1422.1 1324.5,1419.9 1322.7,1417.6 1320.9,1415.3 1319.0,1412.9 1317.1,1410.3 1315.2,1407.7 1313.2,1404.9 1311.2,1402.1 1309.2,1399.1 1307.2,1395.9 1305.1,1392.6 1303.0,1389.2 1300.9,1385.5 1298.8,1381.7 1296.7,1377.7 1294.6,1373.5 1292.6,1369.1 1290.6,1364.5 1288.8,1359.6 1287.0,1354.6 1285.4,1349.3 1284.1,1343.9 1283.0,1338.4 1282.3,1332.8 1282.0,1327.1 1282.1,1321.5 1282.8,1316.0 1284.0,1310.7 1285.8,1305.7 1288.3,1301.0 1291.3,1296.8 1294.9,1293.2 1299.0,1290.0 1303.5,1287.5 1308.4,1285.5 1313.6,1284.0 1318.9,1283.1 1324.4,1282.6 1329.9,1282.6 1335.4,1282.9 1340.8,1283.5 1346.1,1284.4 1351.3,1285.5 1356.3,1286.8 1361.1,1288.2 1365.8,1289.8 1370.3,1291.4 1374.6,1293.1 1378.8,1294.8 1382.8,1296.6 1386.6,1298.4 1390.3,1300.2 1393.8,1302.0 1397.2,1303.8 1400.4,1305.6 1403.6,1307.4 1406.6,1309.2 1409.5,1311.0 1412.4,1312.8 1415.1,1314.6 1417.8,1316.3 1420.4,1318.1 1422.9,1319.8 1425.4,1321.6 1427.8,1323.3 1430.1,1325.0 1432.4,1326.8 1434.7,1328.5 1436.9,1330.2 1439.1,1332.0 1441.2,1333.7 1443.4,1335.5 1445.5,1337.2 1447.6,1339.0 1449.6,1340.8 1451.7,1342.6 1453.7,1344.5 1455.8,1346.3 1457.8,1348.2 1459.8,1350.1 1461.8,1352.1 1463.9,1354.1 1465.9,1356.1 1468.0,1358.2 1470.0,1360.3 1472.1,1362.5 1474.2,1364.8 1476.3,1367.1 1478.5,1369.5 1480.6,1371.9 1482.8,1374.5 1485.0,1377.2 1487.3,1379.9 1489.6,1382.8 1491.9,1385.8 1494.2,1388.9 1496.6,1392.1 1499.0,1395.5Z"/>
<path fill="#ff965c" d="M1498.2,1399.1 1500.6,1402.7 1503.0,1406.5 1505.4,1410.4 1507.8,1414.6 1510.2,1419.0 1512.5,1423.6 1514.8,1428.4 1517.0,1433.4 1519.0,1438.7 1520.9,1444.1 1522.6,1449.7 1524.0,1455.5 1525.0,1461.4 1525.6,1467.4 1525.8,1473.3 1525.3,1479.2 1524.3,1484.8 1522.6,1490.2 1520.1,1495.1 1517.0,1499.6 1513.2,1503.6 1508.8,1506.9 1503.8,1509.5 1498.4,1511.5 1492.6,1512.8 1486.6,1513.5 1480.5,1513.7 1474.3,1513.4 1468.2,1512.7 1462.1,1511.6 1456.3,1510.3 1450.6,1508.7 1445.2,1507.0 1440.0,1505.1 1435.0,1503.1 1430.3,1501.1 1425.8,1499.1 1421.6,1497.0 1417.5,1495.0 1413.7,1492.9 1410.1,1490.9 1406.6,1488.9 1403.3,1486.9 1400.2,1484.9 1397.2,1483.0 1394.3,1481.1 1391.6,1479.3 1388.9,1477.5 1386.4,1475.7 1384.0,1473.9 1381.6,1472.2 1379.4,1470.5 1377.2,1468.8 1375.0,1467.2 1373.0,1465.5 1371.0,1463.9 1369.0,1462.3 1367.1,1460.7 1365.2,1459.1 1363.4,1457.5 1361.6,1456.0 1359.8,1454.4 1358.1,1452.8 1356.4,1451.3 1354.7,1449.7 1353.0,1448.1 1351.3,1446.5 1349.7,1444.9 1348.0,1443.3 1346.4,1441.7 1344.8,1440.0 1343.1,1438.3 1341.5,1436.6 1339.9,1434.9 1338.2,1433.1 1336.6,1431.3 1334.9,1429.4 1333.2,1427.5 1331.5,1425.6 1329.8,1423.6 1328.1,1421.5 1326.3,1419.4 1324.6,1417.2 1322.8,1414.9 1320.9,1412.5 1319.1,1410.0 1317.2,1407.5 1315.3,1404.8 1313.3,1402.0 1311.3,1399.1 1309.3,1396.0 1307.3,1392.8 1305.2,1389.4 1303.2,1385.9 1301.1,1382.1 1299.0,1378.2 1297.0,1374.1 1295.0,1369.8 1293.0,1365.2 1291.2,1360.5 1289.5,1355.6 1287.9,1350.4 1286.6,1345.2 1285.6,1339.7 1284.9,1334.2 1284.6,1328.7 1284.8,1323.3 1285.4,1317.9 1286.7,1312.8 1288.5,1307.9 1290.9,1303.4 1293.9,1299.4 1297.5,1295.9 1301.5,1292.9 1306.0,1290.4 1310.8,1288.6 1315.9,1287.2 1321.1,1286.4 1326.5,1285.9 1331.9,1285.9 1337.2,1286.3 1342.5,1286.9 1347.6,1287.8 1352.7,1288.9 1357.5,1290.2 1362.3,1291.6 1366.8,1293.1 1371.1,1294.7 1375.3,1296.4 1379.4,1298.1 1383.2,1299.8 1386.9,1301.5 1390.5,1303.3 1393.9,1305.1 1397.2,1306.8 1400.3,1308.6 1403.4,1310.3 1406.3,1312.1 1409.1,1313.8 1411.9,1315.6 1414.6,1317.3 1417.1,1319.0 1419.6,1320.7 1422.1,1322.4 1424.5,1324.1 1426.8,1325.7 1429.1,1327.4 1431.3,1329.1 1433.5,1330.8 1435.6,1332.4 1437.7,1334.1 1439.8,1335.8 1441.9,1337.5 1443.9,1339.2 1445.9,1340.9 1447.9,1342.7 1449.9,1344.4 1451.9,1346.2 1453.9,1348.0 1455.8,1349.8 1457.8,1351.7 1459.8,1353.6 1461.7,1355.5 1463.7,1357.5 1465.7,1359.5 1467.7,1361.6 1469.7,1363.7 1471.8,1365.9 1473.8,1368.1 1475.9,1370.4 1478.0,1372.8 1480.1,1375.3 1482.3,1377.9 1484.4,1380.5 1486.7,1383.3 1488.9,1386.2 1491.2,1389.2 1493.5,1392.3 1495.8,1395.6Z"/>
<path fill="#ff8e53" d="M1494.9,1399.1 1497.2,1402.6 1499.6,1406.2 1501.9,1410.1 1504.3,1414.1 1506.6,1418.4 1508.9,1422.8 1511.1,1427.5 1513.2,1432.3 1515.2,1437.4 1517.1,1442.7 1518.7,1448.2 1520.0,1453.8 1521.1,1459.5 1521.7,1465.3 1521.8,1471.0 1521.4,1476.7 1520.4,1482.2 1518.7,1487.4 1516.3,1492.2 1513.3,1496.5 1509.6,1500.3 1505.3,1503.5 1500.5,1506.0 1495.2,1508.0 1489.6,1509.2 1483.8,1509.9 1477.8,1510.1 1471.9,1509.8 1465.9,1509.1 1460.1,1508.1 1454.4,1506.8 1449.0,1505.3 1443.7,1503.6 1438.7,1501.8 1433.9,1499.9 1429.3,1498.0 1425.0,1496.0 1420.8,1494.0 1416.9,1492.0 1413.2,1490.0 1409.7,1488.1 1406.3,1486.1 1403.1,1484.2 1400.1,1482.4 1397.2,1480.5 1394.4,1478.7 1391.7,1476.9 1389.2,1475.2 1386.7,1473.4 1384.4,1471.7 1382.1,1470.1 1379.9,1468.4 1377.7,1466.8 1375.7,1465.2 1373.7,1463.6 1371.7,1462.0 1369.8,1460.5 1368.0,1459.0 1366.1,1457.4 1364.4,1455.9 1362.6,1454.4 1360.9,1452.9 1359.2,1451.3 1357.5,1449.8 1355.9,1448.3 1354.2,1446.8 1352.6,1445.2 1351.0,1443.7 1349.4,1442.1 1347.8,1440.5 1346.2,1438.9 1344.6,1437.3 1343.0,1435.6 1341.4,1433.9 1339.8,1432.2 1338.2,1430.4 1336.6,1428.6 1334.9,1426.8 1333.3,1424.9 1331.6,1422.9 1329.9,1420.9 1328.2,1418.9 1326.4,1416.7 1324.7,1414.5 1322.9,1412.2 1321.0,1409.8 1319.2,1407.3 1317.3,1404.7 1315.4,1401.9 1313.4,1399.1 1311.5,1396.1 1309.5,1392.9 1307.4,1389.6 1305.4,1386.2 1303.4,1382.5 1301.3,1378.7 1299.3,1374.7 1297.4,1370.4 1295.4,1366.0 1293.6,1361.4 1292.0,1356.6 1290.4,1351.6 1289.2,1346.4 1288.2,1341.1 1287.5,1335.7 1287.2,1330.4 1287.4,1325.0 1288.1,1319.8 1289.4,1314.8 1291.2,1310.1 1293.6,1305.8 1296.6,1301.9 1300.1,1298.6 1304.1,1295.7 1308.5,1293.4 1313.2,1291.6 1318.2,1290.4 1323.3,1289.6 1328.6,1289.3 1333.8,1289.3 1339.0,1289.7 1344.1,1290.4 1349.2,1291.3 1354.1,1292.4 1358.8,1293.6 1363.4,1295.0 1367.8,1296.5 1372.0,1298.1 1376.0,1299.7 1379.9,1301.3 1383.7,1303.0 1387.2,1304.7 1390.7,1306.4 1394.0,1308.1 1397.2,1309.9 1400.2,1311.6 1403.2,1313.3 1406.0,1315.0 1408.8,1316.6 1411.4,1318.3 1414.0,1320.0 1416.5,1321.6 1418.9,1323.3 1421.3,1324.9 1423.6,1326.5 1425.8,1328.2 1428.0,1329.8 1430.2,1331.4 1432.3,1333.0 1434.4,1334.7 1436.4,1336.3 1438.4,1337.9 1440.4,1339.6 1442.4,1341.2 1444.3,1342.9 1446.3,1344.6 1448.2,1346.2 1450.1,1348.0 1452.0,1349.7 1453.9,1351.5 1455.8,1353.3 1457.7,1355.1 1459.6,1356.9 1461.5,1358.9 1463.5,1360.8 1465.4,1362.8 1467.3,1364.8 1469.3,1366.9 1471.3,1369.1 1473.3,1371.4 1475.3,1373.7 1477.4,1376.1 1479.5,1378.5 1481.6,1381.1 1483.7,1383.8 1485.9,1386.6 1488.1,1389.5 1490.4,1392.6 1492.6,1395.7Z"/>
<path fill="#ff864a" d="M1491.7,1399.1 1493.9,1402.4 1496.2,1406.0 1498.5,1409.7 1500.7,1413.6 1503.0,1417.7 1505.2,1422.0 1507.4,1426.5 1509.5,1431.3 1511.4,1436.2 1513.2,1441.3 1514.8,1446.6 1516.1,1452.0 1517.1,1457.6 1517.7,1463.2 1517.8,1468.7 1517.4,1474.2 1516.4,1479.5 1514.8,1484.5 1512.5,1489.2 1509.6,1493.4 1506.0,1497.1 1501.8,1500.1 1497.1,1502.6 1492.0,1504.4 1486.6,1505.7 1481.0,1506.3 1475.2,1506.5 1469.4,1506.2 1463.7,1505.5 1458.1,1504.5 1452.6,1503.3 1447.3,1501.8 1442.2,1500.2 1437.3,1498.5 1432.7,1496.7 1428.3,1494.8 1424.1,1492.9 1420.1,1491.0 1416.3,1489.1 1412.7,1487.2 1409.3,1485.3 1406.0,1483.4 1402.9,1481.6 1400.0,1479.8 1397.2,1478.0 1394.5,1476.2 1391.9,1474.5 1389.4,1472.8 1387.0,1471.2 1384.7,1469.5 1382.5,1467.9 1380.4,1466.3 1378.3,1464.8 1376.3,1463.2 1374.4,1461.7 1372.5,1460.2 1370.6,1458.7 1368.8,1457.2 1367.0,1455.7 1365.3,1454.2 1363.6,1452.8 1361.9,1451.3 1360.3,1449.8 1358.7,1448.4 1357.1,1446.9 1355.5,1445.4 1353.9,1443.9 1352.3,1442.4 1350.7,1440.9 1349.2,1439.3 1347.6,1437.8 1346.1,1436.2 1344.5,1434.6 1342.9,1433.0 1341.4,1431.3 1339.8,1429.6 1338.2,1427.8 1336.6,1426.0 1335.0,1424.2 1333.3,1422.3 1331.7,1420.4 1330.0,1418.3 1328.3,1416.2 1326.5,1414.1 1324.8,1411.8 1323.0,1409.5 1321.2,1407.1 1319.3,1404.5 1317.5,1401.9 1315.5,1399.1 1313.6,1396.2 1311.6,1393.1 1309.7,1389.9 1307.7,1386.5 1305.6,1382.9 1303.6,1379.2 1301.7,1375.3 1299.7,1371.1 1297.9,1366.8 1296.1,1362.3 1294.4,1357.6 1292.9,1352.7 1291.7,1347.6 1290.7,1342.5 1290.1,1337.2 1289.8,1332.0 1290.0,1326.8 1290.8,1321.8 1292.0,1316.9 1293.9,1312.4 1296.3,1308.2 1299.2,1304.5 1302.7,1301.3 1306.7,1298.5 1311.0,1296.4 1315.6,1294.7 1320.5,1293.6 1325.5,1292.9 1330.6,1292.6 1335.7,1292.7 1340.8,1293.1 1345.8,1293.8 1350.7,1294.7 1355.4,1295.8 1360.0,1297.1 1364.5,1298.4 1368.7,1299.9 1372.8,1301.4 1376.7,1303.0 1380.5,1304.6 1384.1,1306.2 1387.6,1307.9 1390.9,1309.6 1394.1,1311.2 1397.2,1312.9 1400.1,1314.5 1403.0,1316.2 1405.7,1317.8 1408.4,1319.5 1410.9,1321.1 1413.4,1322.7 1415.8,1324.3 1418.2,1325.9 1420.4,1327.5 1422.7,1329.0 1424.8,1330.6 1426.9,1332.2 1429.0,1333.7 1431.1,1335.3 1433.1,1336.9 1435.0,1338.4 1437.0,1340.0 1438.9,1341.6 1440.8,1343.2 1442.7,1344.8 1444.6,1346.4 1446.4,1348.1 1448.3,1349.7 1450.1,1351.4 1452.0,1353.1 1453.8,1354.8 1455.6,1356.6 1457.5,1358.4 1459.3,1360.2 1461.2,1362.1 1463.1,1364.0 1465.0,1366.0 1466.9,1368.0 1468.8,1370.1 1470.7,1372.3 1472.7,1374.5 1474.7,1376.8 1476.7,1379.2 1478.8,1381.7 1480.8,1384.3 1482.9,1387.0 1485.1,1389.8 1487.3,1392.8 1489.5,1395.8Z"/>
<path fill="#ff7f41" d="M1488.4,1399.1 1490.6,1402.3 1492.8,1405.8 1495.0,1409.4 1497.2,1413.1 1499.4,1417.1 1501.6,1421.3 1503.7,1425.6 1505.7,1430.2 1507.6,1434.9 1509.3,1439.9 1510.9,1445.0 1512.2,1450.3 1513.1,1455.6 1513.7,1461.0 1513.9,1466.4 1513.5,1471.7 1512.5,1476.9 1510.9,1481.7 1508.7,1486.2 1505.9,1490.3 1502.4,1493.8 1498.3,1496.8 1493.8,1499.1 1488.9,1500.9 1483.6,1502.1 1478.2,1502.7 1472.6,1502.9 1467.0,1502.6 1461.5,1501.9 1456.0,1501.0 1450.7,1499.8 1445.6,1498.4 1440.7,1496.8 1436.0,1495.2 1431.5,1493.4 1427.2,1491.6 1423.2,1489.8 1419.3,1488.0 1415.7,1486.1 1412.2,1484.3 1408.9,1482.5 1405.7,1480.7 1402.7,1478.9 1399.9,1477.2 1397.2,1475.5 1394.6,1473.8 1392.1,1472.1 1389.7,1470.5 1387.4,1468.9 1385.1,1467.3 1383.0,1465.8 1380.9,1464.3 1378.9,1462.7 1377.0,1461.3 1375.1,1459.8 1373.2,1458.3 1371.4,1456.9 1369.7,1455.4 1368.0,1454.0 1366.3,1452.6 1364.6,1451.2 1363.0,1449.7 1361.4,1448.3 1359.8,1446.9 1358.2,1445.5 1356.7,1444.0 1355.1,1442.6 1353.6,1441.1 1352.1,1439.7 1350.6,1438.2 1349.0,1436.7 1347.5,1435.1 1346.0,1433.6 1344.5,1432.0 1342.9,1430.4 1341.4,1428.7 1339.8,1427.0 1338.3,1425.3 1336.7,1423.5 1335.1,1421.7 1333.5,1419.8 1331.8,1417.8 1330.1,1415.8 1328.4,1413.7 1326.7,1411.5 1325.0,1409.2 1323.2,1406.8 1321.4,1404.4 1319.5,1401.8 1317.6,1399.1 1315.7,1396.2 1313.8,1393.2 1311.9,1390.1 1309.9,1386.8 1307.9,1383.3 1306.0,1379.7 1304.0,1375.8 1302.1,1371.8 1300.3,1367.6 1298.5,1363.2 1296.9,1358.6 1295.4,1353.8 1294.2,1348.9 1293.3,1343.8 1292.7,1338.7 1292.4,1333.6 1292.7,1328.6 1293.4,1323.7 1294.7,1319.0 1296.5,1314.6 1298.9,1310.6 1301.9,1307.0 1305.3,1304.0 1309.2,1301.4 1313.5,1299.3 1318.0,1297.8 1322.8,1296.7 1327.7,1296.1 1332.7,1295.9 1337.7,1296.1 1342.6,1296.5 1347.5,1297.2 1352.2,1298.1 1356.8,1299.2 1361.3,1300.5 1365.6,1301.8 1369.7,1303.2 1373.6,1304.7 1377.4,1306.3 1381.1,1307.9 1384.6,1309.5 1387.9,1311.1 1391.1,1312.7 1394.2,1314.3 1397.2,1315.9 1400.0,1317.5 1402.8,1319.1 1405.4,1320.7 1408.0,1322.3 1410.4,1323.8 1412.8,1325.4 1415.1,1326.9 1417.4,1328.5 1419.6,1330.0 1421.7,1331.5 1423.8,1333.0 1425.9,1334.6 1427.9,1336.1 1429.9,1337.6 1431.8,1339.1 1433.7,1340.6 1435.6,1342.1 1437.4,1343.6 1439.3,1345.2 1441.1,1346.7 1442.9,1348.3 1444.7,1349.9 1446.5,1351.5 1448.2,1353.1 1450.0,1354.7 1451.8,1356.4 1453.6,1358.1 1455.3,1359.8 1457.1,1361.6 1458.9,1363.4 1460.7,1365.3 1462.6,1367.2 1464.4,1369.1 1466.3,1371.2 1468.1,1373.2 1470.0,1375.4 1472.0,1377.6 1473.9,1379.9 1475.9,1382.3 1477.9,1384.8 1480.0,1387.4 1482.0,1390.1 1484.1,1393.0 1486.3,1396.0Z"/>
<path fill="#ff763b" d="M1485.2,1399.1 1487.3,1402.2 1489.4,1405.5 1491.6,1409.0 1493.7,1412.6 1495.8,1416.5 1497.9,1420.5 1500.0,1424.7 1501.9,1429.1 1503.8,1433.7 1505.5,1438.5 1507.0,1443.4 1508.2,1448.5 1509.2,1453.7 1509.7,1458.9 1509.9,1464.1 1509.5,1469.3 1508.6,1474.2 1507.1,1478.9 1504.9,1483.2 1502.1,1487.2 1498.8,1490.6 1494.9,1493.4 1490.5,1495.7 1485.7,1497.4 1480.6,1498.5 1475.3,1499.1 1470.0,1499.3 1464.6,1499.0 1459.2,1498.4 1454.0,1497.4 1448.9,1496.3 1443.9,1494.9 1439.2,1493.4 1434.6,1491.8 1430.3,1490.2 1426.2,1488.4 1422.3,1486.7 1418.6,1484.9 1415.0,1483.2 1411.7,1481.4 1408.5,1479.7 1405.5,1478.0 1402.6,1476.3 1399.8,1474.6 1397.2,1472.9 1394.6,1471.3 1392.2,1469.7 1389.9,1468.2 1387.7,1466.6 1385.5,1465.1 1383.4,1463.6 1381.4,1462.2 1379.5,1460.7 1377.6,1459.3 1375.8,1457.9 1374.0,1456.5 1372.2,1455.1 1370.5,1453.7 1368.9,1452.3 1367.2,1450.9 1365.6,1449.6 1364.0,1448.2 1362.5,1446.8 1360.9,1445.4 1359.4,1444.1 1357.9,1442.7 1356.4,1441.3 1354.9,1439.9 1353.4,1438.5 1351.9,1437.0 1350.5,1435.6 1349.0,1434.1 1347.5,1432.6 1346.0,1431.0 1344.5,1429.5 1343.0,1427.9 1341.5,1426.2 1339.9,1424.5 1338.4,1422.8 1336.8,1421.0 1335.2,1419.2 1333.6,1417.3 1332.0,1415.3 1330.3,1413.3 1328.6,1411.2 1326.9,1408.9 1325.2,1406.6 1323.4,1404.2 1321.6,1401.7 1319.7,1399.1 1317.9,1396.3 1316.0,1393.4 1314.1,1390.3 1312.1,1387.1 1310.2,1383.7 1308.3,1380.2 1306.4,1376.4 1304.5,1372.5 1302.7,1368.4 1300.9,1364.0 1299.4,1359.6 1297.9,1354.9 1296.7,1350.1 1295.8,1345.2 1295.2,1340.2 1295.1,1335.3 1295.3,1330.4 1296.1,1325.6 1297.3,1321.1 1299.2,1316.9 1301.6,1313.0 1304.5,1309.6 1307.9,1306.6 1311.8,1304.2 1316.0,1302.3 1320.4,1300.9 1325.1,1299.9 1329.9,1299.4 1334.8,1299.2 1339.6,1299.4 1344.4,1299.9 1349.2,1300.6 1353.8,1301.6 1358.2,1302.7 1362.5,1303.9 1366.7,1305.2 1370.7,1306.6 1374.5,1308.1 1378.1,1309.6 1381.7,1311.1 1385.0,1312.7 1388.3,1314.2 1391.3,1315.8 1394.3,1317.4 1397.2,1318.9 1399.9,1320.5 1402.6,1322.0 1405.1,1323.6 1407.6,1325.1 1409.9,1326.6 1412.3,1328.1 1414.5,1329.6 1416.7,1331.1 1418.8,1332.6 1420.8,1334.0 1422.9,1335.5 1424.8,1336.9 1426.8,1338.4 1428.7,1339.8 1430.5,1341.3 1432.4,1342.8 1434.2,1344.2 1435.9,1345.7 1437.7,1347.2 1439.5,1348.7 1441.2,1350.2 1442.9,1351.7 1444.6,1353.2 1446.4,1354.8 1448.1,1356.4 1449.8,1358.0 1451.5,1359.6 1453.2,1361.3 1454.9,1363.0 1456.7,1364.7 1458.4,1366.5 1460.2,1368.3 1462.0,1370.2 1463.7,1372.2 1465.6,1374.2 1467.4,1376.2 1469.3,1378.4 1471.1,1380.6 1473.1,1382.9 1475.0,1385.3 1477.0,1387.9 1479.0,1390.5 1481.0,1393.2 1483.1,1396.1Z"/>
<path fill="#ff6c39" d="M1481.9,1399.1 1484.0,1402.1 1486.0,1405.3 1488.1,1408.6 1490.2,1412.1 1492.2,1415.8 1494.3,1419.7 1496.3,1423.8 1498.2,1428.0 1500.0,1432.5 1501.6,1437.1 1503.1,1441.9 1504.3,1446.8 1505.2,1451.8 1505.8,1456.8 1505.9,1461.9 1505.6,1466.8 1504.7,1471.6 1503.2,1476.1 1501.1,1480.3 1498.4,1484.0 1495.2,1487.3 1491.4,1490.0 1487.1,1492.2 1482.5,1493.9 1477.6,1494.9 1472.5,1495.5 1467.3,1495.7 1462.1,1495.4 1457.0,1494.8 1451.9,1493.9 1447.0,1492.8 1442.2,1491.5 1437.7,1490.1 1433.3,1488.5 1429.1,1486.9 1425.2,1485.3 1421.4,1483.6 1417.8,1481.9 1414.4,1480.2 1411.2,1478.5 1408.1,1476.9 1405.2,1475.2 1402.4,1473.6 1399.7,1472.0 1397.2,1470.4 1394.7,1468.9 1392.4,1467.4 1390.1,1465.9 1388.0,1464.4 1385.9,1462.9 1383.9,1461.5 1382.0,1460.1 1380.1,1458.7 1378.2,1457.3 1376.5,1455.9 1374.7,1454.6 1373.0,1453.2 1371.4,1451.9 1369.8,1450.6 1368.2,1449.3 1366.6,1447.9 1365.1,1446.6 1363.6,1445.3 1362.1,1444.0 1360.6,1442.7 1359.1,1441.3 1357.7,1440.0 1356.2,1438.6 1354.8,1437.2 1353.3,1435.9 1351.9,1434.5 1350.4,1433.0 1349.0,1431.6 1347.5,1430.1 1346.1,1428.6 1344.6,1427.0 1343.1,1425.4 1341.6,1423.8 1340.1,1422.1 1338.6,1420.4 1337.0,1418.6 1335.5,1416.8 1333.9,1414.9 1332.2,1412.9 1330.6,1410.8 1328.9,1408.7 1327.2,1406.4 1325.4,1404.1 1323.7,1401.6 1321.9,1399.1 1320.0,1396.4 1318.2,1393.5 1316.3,1390.6 1314.4,1387.4 1312.5,1384.1 1310.6,1380.7 1308.7,1377.0 1306.9,1373.2 1305.1,1369.1 1303.4,1364.9 1301.8,1360.6 1300.4,1356.0 1299.3,1351.3 1298.4,1346.5 1297.8,1341.7 1297.7,1336.9 1297.9,1332.1 1298.7,1327.5 1300.0,1323.2 1301.9,1319.1 1304.2,1315.4 1307.1,1312.1 1310.5,1309.3 1314.3,1307.0 1318.4,1305.3 1322.8,1303.9 1327.4,1303.1 1332.1,1302.6 1336.9,1302.5 1341.6,1302.8 1346.3,1303.3 1350.8,1304.1 1355.3,1305.0 1359.6,1306.1 1363.8,1307.3 1367.8,1308.6 1371.6,1310.0 1375.3,1311.4 1378.9,1312.9 1382.2,1314.4 1385.5,1315.9 1388.6,1317.4 1391.6,1318.9 1394.4,1320.5 1397.2,1322.0 1399.8,1323.5 1402.3,1325.0 1404.8,1326.4 1407.2,1327.9 1409.5,1329.4 1411.7,1330.8 1413.8,1332.3 1415.9,1333.7 1418.0,1335.1 1419.9,1336.5 1421.9,1337.9 1423.8,1339.3 1425.6,1340.7 1427.4,1342.1 1429.2,1343.5 1431.0,1344.9 1432.7,1346.3 1434.5,1347.7 1436.2,1349.2 1437.8,1350.6 1439.5,1352.0 1441.2,1353.5 1442.8,1355.0 1444.5,1356.5 1446.1,1358.0 1447.8,1359.5 1449.4,1361.1 1451.1,1362.7 1452.7,1364.3 1454.4,1366.0 1456.1,1367.7 1457.8,1369.5 1459.5,1371.3 1461.2,1373.2 1463.0,1375.1 1464.8,1377.1 1466.5,1379.2 1468.4,1381.3 1470.2,1383.5 1472.1,1385.9 1474.0,1388.3 1475.9,1390.8 1477.9,1393.4 1479.9,1396.2Z"/>
<path fill="#ff6237" d="M1478.7,1399.1 1480.7,1402.0 1482.6,1405.0 1484.7,1408.3 1486.7,1411.6 1488.7,1415.2 1490.6,1418.9 1492.5,1422.8 1494.4,1426.9 1496.1,1431.2 1497.7,1435.7 1499.2,1440.3 1500.4,1445.0 1501.3,1449.8 1501.8,1454.7 1501.9,1459.6 1501.6,1464.3 1500.7,1468.9 1499.3,1473.3 1497.3,1477.3 1494.7,1480.9 1491.6,1484.1 1487.9,1486.7 1483.8,1488.8 1479.3,1490.3 1474.6,1491.4 1469.7,1491.9 1464.7,1492.0 1459.7,1491.8 1454.7,1491.2 1449.9,1490.3 1445.1,1489.3 1440.6,1488.0 1436.2,1486.7 1432.0,1485.2 1428.0,1483.7 1424.1,1482.1 1420.5,1480.5 1417.1,1478.9 1413.8,1477.3 1410.7,1475.7 1407.7,1474.1 1404.9,1472.5 1402.2,1470.9 1399.6,1469.4 1397.2,1467.9 1394.8,1466.4 1392.6,1465.0 1390.4,1463.5 1388.3,1462.1 1386.3,1460.7 1384.4,1459.3 1382.5,1458.0 1380.7,1456.7 1378.9,1455.3 1377.2,1454.0 1375.5,1452.7 1373.9,1451.4 1372.3,1450.2 1370.7,1448.9 1369.1,1447.6 1367.6,1446.3 1366.1,1445.1 1364.7,1443.8 1363.2,1442.5 1361.8,1441.3 1360.3,1440.0 1358.9,1438.7 1357.5,1437.4 1356.1,1436.0 1354.7,1434.7 1353.3,1433.3 1351.9,1432.0 1350.5,1430.6 1349.1,1429.1 1347.6,1427.7 1346.2,1426.2 1344.8,1424.6 1343.3,1423.0 1341.8,1421.4 1340.3,1419.8 1338.8,1418.0 1337.3,1416.2 1335.7,1414.4 1334.1,1412.5 1332.5,1410.5 1330.9,1408.4 1329.2,1406.2 1327.5,1403.9 1325.7,1401.6 1324.0,1399.1 1322.2,1396.4 1320.3,1393.7 1318.5,1390.8 1316.6,1387.7 1314.7,1384.5 1312.9,1381.2 1311.0,1377.6 1309.2,1373.9 1307.5,1369.9 1305.8,1365.8 1304.3,1361.5 1302.9,1357.1 1301.8,1352.6 1300.9,1347.9 1300.4,1343.2 1300.3,1338.5 1300.6,1333.9 1301.4,1329.5 1302.7,1325.2 1304.5,1321.3 1306.9,1317.8 1309.8,1314.7 1313.1,1312.0 1316.9,1309.9 1320.9,1308.2 1325.2,1307.0 1329.7,1306.2 1334.3,1305.9 1338.9,1305.9 1343.5,1306.2 1348.1,1306.7 1352.5,1307.5 1356.8,1308.4 1361.0,1309.5 1365.0,1310.7 1368.9,1312.0 1372.6,1313.4 1376.1,1314.8 1379.6,1316.2 1382.8,1317.7 1385.9,1319.1 1388.9,1320.6 1391.8,1322.1 1394.5,1323.5 1397.2,1325.0 1399.7,1326.4 1402.1,1327.9 1404.5,1329.3 1406.8,1330.7 1409.0,1332.1 1411.1,1333.5 1413.2,1334.9 1415.2,1336.3 1417.1,1337.6 1419.0,1339.0 1420.9,1340.4 1422.7,1341.7 1424.5,1343.0 1426.2,1344.4 1428.0,1345.7 1429.7,1347.1 1431.3,1348.4 1433.0,1349.8 1434.6,1351.1 1436.2,1352.5 1437.8,1353.9 1439.4,1355.3 1441.0,1356.7 1442.6,1358.2 1444.2,1359.6 1445.8,1361.1 1447.4,1362.6 1448.9,1364.1 1450.5,1365.7 1452.1,1367.3 1453.8,1369.0 1455.4,1370.7 1457.0,1372.4 1458.7,1374.2 1460.4,1376.1 1462.1,1378.0 1463.8,1380.0 1465.6,1382.0 1467.4,1384.1 1469.2,1386.4 1471.0,1388.7 1472.9,1391.1 1474.8,1393.6 1476.7,1396.3Z"/>
<path fill="#ff5835" d="M1475.4,1399.1 1477.3,1401.9 1479.3,1404.8 1481.2,1407.9 1483.1,1411.2 1485.1,1414.6 1487.0,1418.2 1488.8,1421.9 1490.6,1425.9 1492.3,1430.0 1493.9,1434.3 1495.3,1438.7 1496.4,1443.3 1497.3,1447.9 1497.8,1452.6 1498.0,1457.3 1497.6,1461.9 1496.8,1466.3 1495.4,1470.5 1493.5,1474.3 1491.0,1477.8 1487.9,1480.8 1484.4,1483.3 1480.5,1485.3 1476.2,1486.8 1471.6,1487.8 1466.9,1488.3 1462.1,1488.4 1457.3,1488.2 1452.5,1487.6 1447.8,1486.8 1443.3,1485.8 1438.9,1484.6 1434.7,1483.3 1430.6,1481.9 1426.8,1480.4 1423.1,1478.9 1419.6,1477.4 1416.3,1475.9 1413.2,1474.3 1410.2,1472.8 1407.3,1471.3 1404.6,1469.8 1402.0,1468.3 1399.5,1466.8 1397.2,1465.4 1394.9,1464.0 1392.7,1462.6 1390.6,1461.2 1388.6,1459.8 1386.7,1458.5 1384.8,1457.2 1383.0,1455.9 1381.2,1454.6 1379.5,1453.4 1377.9,1452.1 1376.2,1450.9 1374.7,1449.6 1373.1,1448.4 1371.6,1447.2 1370.1,1446.0 1368.6,1444.7 1367.2,1443.5 1365.8,1442.3 1364.3,1441.1 1363.0,1439.8 1361.6,1438.6 1360.2,1437.4 1358.8,1436.1 1357.5,1434.8 1356.1,1433.5 1354.7,1432.2 1353.4,1430.9 1352.0,1429.5 1350.6,1428.2 1349.2,1426.8 1347.8,1425.3 1346.4,1423.8 1345.0,1422.3 1343.5,1420.7 1342.1,1419.1 1340.6,1417.4 1339.1,1415.7 1337.6,1413.9 1336.0,1412.1 1334.4,1410.1 1332.8,1408.1 1331.2,1406.0 1329.5,1403.8 1327.8,1401.5 1326.1,1399.1 1324.3,1396.5 1322.5,1393.8 1320.7,1391.0 1318.9,1388.1 1317.0,1384.9 1315.2,1381.6 1313.4,1378.2 1311.6,1374.5 1309.9,1370.7 1308.3,1366.7 1306.8,1362.5 1305.4,1358.2 1304.3,1353.8 1303.5,1349.3 1303.0,1344.7 1302.9,1340.2 1303.2,1335.7 1304.0,1331.4 1305.3,1327.3 1307.2,1323.6 1309.6,1320.2 1312.4,1317.2 1315.7,1314.7 1319.4,1312.7 1323.4,1311.2 1327.6,1310.1 1332.0,1309.4 1336.5,1309.1 1341.0,1309.2 1345.5,1309.5 1349.9,1310.1 1354.2,1310.9 1358.3,1311.9 1362.4,1313.0 1366.3,1314.1 1370.0,1315.4 1373.6,1316.7 1377.0,1318.1 1380.3,1319.5 1383.4,1320.9 1386.4,1322.3 1389.3,1323.8 1392.0,1325.2 1394.6,1326.6 1397.2,1328.0 1399.6,1329.4 1401.9,1330.8 1404.2,1332.2 1406.4,1333.5 1408.5,1334.9 1410.5,1336.2 1412.5,1337.6 1414.4,1338.9 1416.3,1340.2 1418.1,1341.5 1419.9,1342.8 1421.6,1344.1 1423.4,1345.4 1425.0,1346.7 1426.7,1347.9 1428.3,1349.2 1429.9,1350.5 1431.5,1351.8 1433.1,1353.1 1434.6,1354.5 1436.1,1355.8 1437.7,1357.1 1439.2,1358.5 1440.7,1359.9 1442.2,1361.2 1443.8,1362.7 1445.3,1364.1 1446.8,1365.6 1448.3,1367.1 1449.9,1368.6 1451.4,1370.2 1453.0,1371.8 1454.6,1373.5 1456.2,1375.2 1457.8,1377.0 1459.5,1378.8 1461.1,1380.7 1462.8,1382.7 1464.5,1384.8 1466.3,1386.9 1468.0,1389.1 1469.9,1391.4 1471.7,1393.9 1473.5,1396.4Z"/>
<path fill="#ff4e33" d="M1472.2,1399.1 1474.0,1401.8 1475.9,1404.6 1477.7,1407.5 1479.6,1410.7 1481.5,1413.9 1483.3,1417.4 1485.1,1421.0 1486.9,1424.8 1488.5,1428.7 1490.0,1432.9 1491.4,1437.1 1492.5,1441.5 1493.3,1446.0 1493.9,1450.5 1494.0,1455.0 1493.7,1459.4 1492.9,1463.6 1491.6,1467.7 1489.7,1471.4 1487.3,1474.7 1484.3,1477.6 1480.9,1480.0 1477.1,1481.9 1473.0,1483.3 1468.6,1484.2 1464.1,1484.7 1459.5,1484.8 1454.8,1484.6 1450.3,1484.0 1445.8,1483.3 1441.4,1482.3 1437.2,1481.2 1433.2,1479.9 1429.3,1478.6 1425.6,1477.2 1422.1,1475.8 1418.7,1474.3 1415.6,1472.8 1412.5,1471.4 1409.7,1469.9 1406.9,1468.5 1404.3,1467.0 1401.8,1465.6 1399.4,1464.2 1397.2,1462.9 1395.0,1461.5 1392.9,1460.2 1390.9,1458.9 1388.9,1457.6 1387.1,1456.3 1385.3,1455.1 1383.5,1453.8 1381.8,1452.6 1380.2,1451.4 1378.6,1450.2 1377.0,1449.0 1375.5,1447.8 1374.0,1446.6 1372.5,1445.5 1371.1,1444.3 1369.6,1443.1 1368.2,1442.0 1366.9,1440.8 1365.5,1439.6 1364.1,1438.4 1362.8,1437.3 1361.5,1436.1 1360.1,1434.8 1358.8,1433.6 1357.5,1432.4 1356.1,1431.1 1354.8,1429.8 1353.5,1428.5 1352.1,1427.2 1350.8,1425.8 1349.4,1424.5 1348.1,1423.0 1346.7,1421.6 1345.3,1420.0 1343.8,1418.5 1342.4,1416.9 1340.9,1415.2 1339.4,1413.5 1337.9,1411.7 1336.4,1409.8 1334.8,1407.8 1333.2,1405.8 1331.5,1403.7 1329.9,1401.4 1328.2,1399.1 1326.4,1396.6 1324.7,1394.0 1322.9,1391.3 1321.1,1388.4 1319.3,1385.3 1317.5,1382.1 1315.7,1378.8 1314.0,1375.2 1312.3,1371.5 1310.7,1367.6 1309.2,1363.5 1307.9,1359.3 1306.9,1355.0 1306.1,1350.6 1305.6,1346.2 1305.5,1341.8 1305.8,1337.5 1306.7,1333.3 1308.0,1329.4 1309.9,1325.8 1312.2,1322.6 1315.1,1319.8 1318.3,1317.4 1322.0,1315.6 1325.9,1314.1 1330.0,1313.2 1334.3,1312.6 1338.7,1312.4 1343.1,1312.5 1347.4,1312.9 1351.7,1313.5 1355.8,1314.3 1359.9,1315.3 1363.8,1316.4 1367.5,1317.6 1371.1,1318.8 1374.5,1320.1 1377.8,1321.5 1381.0,1322.8 1384.0,1324.2 1386.8,1325.6 1389.6,1326.9 1392.2,1328.3 1394.7,1329.7 1397.2,1331.0 1399.5,1332.4 1401.7,1333.7 1403.9,1335.0 1406.0,1336.4 1408.0,1337.7 1409.9,1338.9 1411.8,1340.2 1413.7,1341.5 1415.5,1342.7 1417.2,1344.0 1418.9,1345.2 1420.6,1346.5 1422.2,1347.7 1423.8,1348.9 1425.4,1350.2 1427.0,1351.4 1428.5,1352.6 1430.0,1353.9 1431.5,1355.1 1433.0,1356.4 1434.5,1357.7 1435.9,1358.9 1437.4,1360.2 1438.8,1361.5 1440.3,1362.9 1441.8,1364.2 1443.2,1365.6 1444.7,1367.0 1446.1,1368.5 1447.6,1369.9 1449.1,1371.4 1450.6,1373.0 1452.1,1374.6 1453.7,1376.2 1455.2,1377.9 1456.8,1379.7 1458.4,1381.5 1460.0,1383.4 1461.7,1385.4 1463.4,1387.4 1465.1,1389.5 1466.8,1391.7 1468.6,1394.1 1470.4,1396.5Z"/>
<path fill="#ff4431" d="M1468.9,1399.1 1470.7,1401.6 1472.5,1404.3 1474.3,1407.2 1476.1,1410.2 1477.9,1413.3 1479.7,1416.6 1481.4,1420.1 1483.1,1423.7 1484.7,1427.5 1486.2,1431.5 1487.5,1435.5 1488.5,1439.8 1489.4,1444.0 1489.9,1448.4 1490.0,1452.7 1489.7,1456.9 1489.0,1461.0 1487.7,1464.8 1485.9,1468.4 1483.6,1471.6 1480.7,1474.3 1477.5,1476.6 1473.8,1478.4 1469.8,1479.8 1465.6,1480.6 1461.3,1481.1 1456.8,1481.2 1452.4,1481.0 1448.0,1480.5 1443.7,1479.7 1439.6,1478.8 1435.5,1477.7 1431.7,1476.5 1428.0,1475.3 1424.4,1474.0 1421.1,1472.6 1417.9,1471.2 1414.8,1469.8 1411.9,1468.4 1409.2,1467.0 1406.5,1465.7 1404.0,1464.3 1401.6,1463.0 1399.4,1461.6 1397.2,1460.3 1395.1,1459.1 1393.1,1457.8 1391.1,1456.5 1389.3,1455.3 1387.5,1454.1 1385.7,1452.9 1384.0,1451.7 1382.4,1450.6 1380.8,1449.4 1379.3,1448.3 1377.8,1447.1 1376.3,1446.0 1374.8,1444.9 1373.4,1443.8 1372.0,1442.6 1370.6,1441.5 1369.3,1440.4 1367.9,1439.3 1366.6,1438.2 1365.3,1437.0 1364.0,1435.9 1362.7,1434.7 1361.4,1433.6 1360.1,1432.4 1358.9,1431.2 1357.6,1430.0 1356.3,1428.8 1355.0,1427.5 1353.7,1426.2 1352.4,1424.9 1351.0,1423.6 1349.7,1422.2 1348.3,1420.8 1347.0,1419.3 1345.6,1417.8 1344.2,1416.3 1342.7,1414.7 1341.3,1413.0 1339.8,1411.3 1338.3,1409.5 1336.7,1407.6 1335.2,1405.6 1333.6,1403.5 1331.9,1401.3 1330.3,1399.1 1328.6,1396.7 1326.9,1394.2 1325.1,1391.5 1323.3,1388.7 1321.6,1385.7 1319.8,1382.6 1318.1,1379.3 1316.4,1375.9 1314.7,1372.3 1313.1,1368.5 1311.7,1364.5 1310.4,1360.5 1309.4,1356.3 1308.6,1352.0 1308.2,1347.7 1308.1,1343.4 1308.5,1339.3 1309.3,1335.2 1310.7,1331.5 1312.5,1328.0 1314.9,1325.0 1317.7,1322.3 1320.9,1320.1 1324.5,1318.4 1328.4,1317.1 1332.5,1316.2 1336.6,1315.8 1340.9,1315.6 1345.2,1315.8 1349.4,1316.3 1353.5,1316.9 1357.5,1317.8 1361.4,1318.7 1365.1,1319.8 1368.7,1321.0 1372.2,1322.2 1375.5,1323.5 1378.6,1324.8 1381.7,1326.1 1384.5,1327.5 1387.3,1328.8 1389.9,1330.1 1392.4,1331.4 1394.9,1332.8 1397.2,1334.1 1399.4,1335.4 1401.5,1336.7 1403.6,1337.9 1405.6,1339.2 1407.5,1340.4 1409.4,1341.6 1411.2,1342.9 1412.9,1344.1 1414.6,1345.3 1416.3,1346.5 1417.9,1347.7 1419.5,1348.8 1421.1,1350.0 1422.6,1351.2 1424.1,1352.4 1425.6,1353.6 1427.1,1354.7 1428.5,1355.9 1429.9,1357.1 1431.4,1358.3 1432.8,1359.5 1434.2,1360.7 1435.6,1362.0 1437.0,1363.2 1438.4,1364.5 1439.7,1365.8 1441.1,1367.1 1442.5,1368.5 1443.9,1369.8 1445.4,1371.2 1446.8,1372.7 1448.2,1374.2 1449.7,1375.7 1451.2,1377.3 1452.7,1378.9 1454.2,1380.6 1455.7,1382.3 1457.3,1384.1 1458.8,1386.0 1460.5,1387.9 1462.1,1389.9 1463.8,1392.1 1465.5,1394.3 1467.2,1396.6Z"/>
<path fill="#ff3b2f" d="M1465.7,1399.1 1467.4,1401.5 1469.1,1404.1 1470.8,1406.8 1472.6,1409.7 1474.3,1412.7 1476.0,1415.8 1477.7,1419.2 1479.3,1422.6 1480.9,1426.3 1482.3,1430.1 1483.6,1434.0 1484.6,1438.0 1485.4,1442.1 1485.9,1446.3 1486.1,1450.4 1485.8,1454.4 1485.0,1458.3 1483.8,1462.0 1482.1,1465.4 1479.8,1468.4 1477.1,1471.1 1474.0,1473.2 1470.5,1475.0 1466.7,1476.2 1462.6,1477.1 1458.5,1477.5 1454.2,1477.6 1450.0,1477.4 1445.8,1476.9 1441.7,1476.2 1437.7,1475.3 1433.8,1474.3 1430.2,1473.2 1426.6,1472.0 1423.2,1470.7 1420.0,1469.4 1417.0,1468.1 1414.1,1466.8 1411.3,1465.5 1408.6,1464.2 1406.1,1462.9 1403.7,1461.6 1401.4,1460.3 1399.3,1459.1 1397.2,1457.8 1395.2,1456.6 1393.2,1455.4 1391.4,1454.2 1389.6,1453.1 1387.9,1451.9 1386.2,1450.8 1384.6,1449.6 1383.0,1448.5 1381.5,1447.4 1380.0,1446.3 1378.5,1445.3 1377.1,1444.2 1375.7,1443.1 1374.3,1442.0 1373.0,1441.0 1371.6,1439.9 1370.3,1438.8 1369.0,1437.8 1367.8,1436.7 1366.5,1435.6 1365.2,1434.5 1364.0,1433.4 1362.7,1432.3 1361.5,1431.2 1360.2,1430.1 1359.0,1428.9 1357.7,1427.7 1356.5,1426.5 1355.2,1425.3 1353.9,1424.0 1352.6,1422.7 1351.3,1421.4 1350.0,1420.1 1348.7,1418.7 1347.3,1417.2 1346.0,1415.7 1344.6,1414.2 1343.1,1412.5 1341.7,1410.9 1340.2,1409.1 1338.7,1407.3 1337.2,1405.4 1335.6,1403.4 1334.0,1401.3 1332.4,1399.1 1330.7,1396.7 1329.0,1394.3 1327.3,1391.7 1325.6,1389.0 1323.9,1386.1 1322.1,1383.1 1320.4,1379.9 1318.7,1376.6 1317.1,1373.1 1315.6,1369.4 1314.2,1365.5 1312.9,1361.6 1311.9,1357.5 1311.2,1353.4 1310.8,1349.2 1310.7,1345.1 1311.1,1341.0 1312.0,1337.2 1313.3,1333.6 1315.2,1330.3 1317.5,1327.4 1320.3,1324.9 1323.5,1322.8 1327.1,1321.2 1330.9,1320.1 1334.9,1319.3 1338.9,1318.9 1343.1,1318.9 1347.2,1319.1 1351.3,1319.6 1355.3,1320.3 1359.2,1321.2 1362.9,1322.2 1366.5,1323.2 1370.0,1324.4 1373.3,1325.6 1376.5,1326.9 1379.5,1328.1 1382.4,1329.4 1385.1,1330.7 1387.7,1332.0 1390.3,1333.3 1392.7,1334.6 1395.0,1335.8 1397.2,1337.1 1399.3,1338.3 1401.3,1339.6 1403.3,1340.8 1405.2,1342.0 1407.0,1343.2 1408.8,1344.4 1410.5,1345.5 1412.2,1346.7 1413.8,1347.8 1415.4,1349.0 1417.0,1350.1 1418.5,1351.2 1420.0,1352.3 1421.4,1353.5 1422.8,1354.6 1424.3,1355.7 1425.7,1356.8 1427.0,1358.0 1428.4,1359.1 1429.7,1360.2 1431.1,1361.4 1432.4,1362.6 1433.8,1363.7 1435.1,1364.9 1436.4,1366.1 1437.7,1367.4 1439.1,1368.6 1440.4,1369.9 1441.7,1371.2 1443.1,1372.5 1444.5,1373.9 1445.8,1375.3 1447.2,1376.8 1448.6,1378.3 1450.1,1379.8 1451.5,1381.4 1453.0,1383.1 1454.5,1384.8 1456.0,1386.6 1457.5,1388.4 1459.1,1390.4 1460.7,1392.4 1462.3,1394.5 1464.0,1396.7Z"/>
<path fill="#ff312d" d="M1462.4,1399.1 1464.1,1401.4 1465.7,1403.9 1467.4,1406.4 1469.1,1409.2 1470.7,1412.0 1472.4,1415.1 1474.0,1418.2 1475.6,1421.6 1477.1,1425.0 1478.4,1428.6 1479.6,1432.4 1480.7,1436.2 1481.5,1440.2 1481.9,1444.1 1482.1,1448.1 1481.8,1452.0 1481.1,1455.7 1479.9,1459.2 1478.3,1462.4 1476.1,1465.3 1473.5,1467.8 1470.5,1469.9 1467.1,1471.5 1463.5,1472.7 1459.6,1473.5 1455.6,1473.9 1451.6,1474.0 1447.5,1473.8 1443.5,1473.3 1439.6,1472.6 1435.8,1471.8 1432.2,1470.8 1428.6,1469.8 1425.3,1468.6 1422.1,1467.5 1419.0,1466.3 1416.1,1465.0 1413.3,1463.8 1410.7,1462.5 1408.1,1461.3 1405.7,1460.1 1403.5,1458.9 1401.3,1457.7 1399.2,1456.5 1397.2,1455.3 1395.2,1454.1 1393.4,1453.0 1391.6,1451.9 1389.9,1450.8 1388.2,1449.7 1386.6,1448.6 1385.1,1447.6 1383.6,1446.5 1382.1,1445.5 1380.7,1444.4 1379.3,1443.4 1377.9,1442.4 1376.5,1441.4 1375.2,1440.3 1373.9,1439.3 1372.6,1438.3 1371.4,1437.3 1370.1,1436.3 1368.9,1435.2 1367.7,1434.2 1366.5,1433.2 1365.2,1432.1 1364.0,1431.1 1362.8,1430.0 1361.6,1428.9 1360.4,1427.8 1359.2,1426.7 1358.0,1425.5 1356.7,1424.3 1355.5,1423.1 1354.2,1421.9 1353.0,1420.6 1351.7,1419.3 1350.4,1418.0 1349.1,1416.6 1347.8,1415.1 1346.4,1413.6 1345.0,1412.1 1343.6,1410.5 1342.1,1408.8 1340.7,1407.0 1339.2,1405.2 1337.6,1403.2 1336.1,1401.2 1334.5,1399.1 1332.9,1396.8 1331.2,1394.5 1329.5,1392.0 1327.8,1389.3 1326.1,1386.5 1324.4,1383.6 1322.7,1380.5 1321.1,1377.3 1319.5,1373.8 1318.0,1370.3 1316.6,1366.5 1315.4,1362.7 1314.5,1358.7 1313.7,1354.7 1313.4,1350.7 1313.3,1346.7 1313.8,1342.8 1314.6,1339.1 1316.0,1335.7 1317.9,1332.5 1320.2,1329.8 1323.0,1327.4 1326.1,1325.5 1329.6,1324.1 1333.4,1323.0 1337.3,1322.4 1341.3,1322.1 1345.3,1322.2 1349.3,1322.5 1353.3,1323.0 1357.1,1323.7 1360.8,1324.6 1364.5,1325.6 1367.9,1326.7 1371.2,1327.8 1374.4,1329.0 1377.4,1330.2 1380.3,1331.5 1383.1,1332.7 1385.7,1334.0 1388.2,1335.2 1390.6,1336.5 1392.9,1337.7 1395.1,1338.9 1397.2,1340.1 1399.2,1341.3 1401.1,1342.5 1403.0,1343.7 1404.8,1344.8 1406.5,1345.9 1408.2,1347.1 1409.9,1348.2 1411.4,1349.3 1413.0,1350.4 1414.5,1351.5 1416.0,1352.5 1417.4,1353.6 1418.8,1354.7 1420.2,1355.7 1421.6,1356.8 1422.9,1357.9 1424.2,1358.9 1425.5,1360.0 1426.8,1361.1 1428.1,1362.2 1429.4,1363.3 1430.7,1364.4 1431.9,1365.5 1433.2,1366.6 1434.5,1367.8 1435.7,1368.9 1437.0,1370.1 1438.3,1371.3 1439.6,1372.6 1440.8,1373.9 1442.1,1375.2 1443.5,1376.5 1444.8,1377.9 1446.1,1379.3 1447.5,1380.8 1448.9,1382.3 1450.3,1383.8 1451.7,1385.5 1453.2,1387.2 1454.6,1388.9 1456.1,1390.8 1457.7,1392.7 1459.2,1394.7 1460.8,1396.8Z"/>
<path fill="#ff2a30" d="M1460.3,1399.1 1461.9,1401.3 1463.5,1403.7 1465.2,1406.2 1466.8,1408.9 1468.4,1411.6 1470.0,1414.6 1471.6,1417.6 1473.2,1420.9 1474.6,1424.2 1476.0,1427.7 1477.2,1431.4 1478.2,1435.1 1479.0,1439.0 1479.5,1442.8 1479.6,1446.7 1479.4,1450.4 1478.7,1454.1 1477.6,1457.5 1476.0,1460.7 1473.9,1463.5 1471.4,1465.9 1468.5,1467.9 1465.2,1469.5 1461.6,1470.7 1457.9,1471.4 1454.0,1471.8 1450.0,1471.9 1446.1,1471.6 1442.2,1471.2 1438.4,1470.5 1434.7,1469.7 1431.1,1468.7 1427.7,1467.7 1424.5,1466.6 1421.3,1465.5 1418.4,1464.3 1415.5,1463.1 1412.8,1461.9 1410.3,1460.7 1407.8,1459.5 1405.5,1458.3 1403.3,1457.1 1401.1,1455.9 1399.1,1454.8 1397.2,1453.6 1395.3,1452.5 1393.5,1451.4 1391.8,1450.3 1390.1,1449.3 1388.5,1448.2 1386.9,1447.2 1385.4,1446.1 1384.0,1445.1 1382.5,1444.1 1381.1,1443.1 1379.8,1442.1 1378.4,1441.1 1377.1,1440.1 1375.9,1439.2 1374.6,1438.2 1373.3,1437.2 1372.1,1436.2 1370.9,1435.2 1369.7,1434.2 1368.5,1433.2 1367.3,1432.2 1366.1,1431.2 1365.0,1430.2 1363.8,1429.1 1362.6,1428.1 1361.4,1427.0 1360.2,1425.9 1359.1,1424.8 1357.9,1423.6 1356.7,1422.5 1355.4,1421.3 1354.2,1420.0 1352.9,1418.8 1351.7,1417.4 1350.4,1416.1 1349.1,1414.7 1347.8,1413.2 1346.4,1411.7 1345.0,1410.2 1343.6,1408.5 1342.2,1406.8 1340.7,1405.0 1339.2,1403.1 1337.7,1401.1 1336.1,1399.1 1334.5,1396.9 1332.9,1394.6 1331.2,1392.1 1329.6,1389.6 1327.9,1386.9 1326.2,1384.0 1324.5,1381.0 1322.9,1377.8 1321.4,1374.4 1319.9,1370.9 1318.5,1367.3 1317.3,1363.5 1316.3,1359.6 1315.6,1355.7 1315.2,1351.7 1315.2,1347.8 1315.6,1344.0 1316.4,1340.4 1317.7,1337.0 1319.6,1334.0 1321.9,1331.3 1324.6,1329.0 1327.7,1327.2 1331.2,1325.8 1334.8,1324.8 1338.7,1324.2 1342.6,1324.0 1346.6,1324.1 1350.5,1324.4 1354.4,1325.0 1358.2,1325.7 1361.8,1326.6 1365.4,1327.6 1368.7,1328.7 1372.0,1329.9 1375.1,1331.0 1378.0,1332.2 1380.8,1333.5 1383.5,1334.7 1386.0,1335.9 1388.5,1337.2 1390.8,1338.4 1393.0,1339.6 1395.1,1340.8 1397.2,1342.0 1399.1,1343.1 1401.0,1344.3 1402.8,1345.4 1404.6,1346.5 1406.2,1347.6 1407.9,1348.7 1409.4,1349.8 1411.0,1350.9 1412.5,1351.9 1413.9,1353.0 1415.4,1354.0 1416.8,1355.1 1418.1,1356.1 1419.5,1357.1 1420.8,1358.2 1422.1,1359.2 1423.4,1360.2 1424.6,1361.3 1425.9,1362.3 1427.1,1363.4 1428.3,1364.4 1429.6,1365.5 1430.8,1366.6 1432.0,1367.7 1433.2,1368.8 1434.5,1369.9 1435.7,1371.1 1436.9,1372.3 1438.2,1373.5 1439.4,1374.7 1440.7,1375.9 1441.9,1377.2 1443.2,1378.6 1444.5,1379.9 1445.8,1381.4 1447.2,1382.8 1448.5,1384.3 1449.9,1385.9 1451.3,1387.6 1452.8,1389.3 1454.2,1391.1 1455.7,1392.9 1457.2,1394.9 1458.8,1396.9Z"/>
<path fill="#fe2333" d="M1458.9,1399.1 1460.5,1401.3 1462.0,1403.6 1463.6,1406.1 1465.2,1408.6 1466.8,1411.4 1468.4,1414.2 1470.0,1417.2 1471.5,1420.4 1472.9,1423.7 1474.3,1427.1 1475.5,1430.7 1476.5,1434.4 1477.3,1438.2 1477.8,1442.0 1478.0,1445.7 1477.8,1449.5 1477.2,1453.1 1476.1,1456.4 1474.6,1459.6 1472.6,1462.3 1470.1,1464.7 1467.2,1466.7 1464.0,1468.3 1460.5,1469.4 1456.8,1470.2 1453.0,1470.5 1449.1,1470.6 1445.2,1470.3 1441.4,1469.9 1437.7,1469.2 1434.0,1468.4 1430.5,1467.4 1427.1,1466.4 1423.9,1465.3 1420.9,1464.2 1417.9,1463.0 1415.2,1461.8 1412.5,1460.6 1410.0,1459.4 1407.6,1458.2 1405.3,1457.0 1403.1,1455.9 1401.1,1454.7 1399.1,1453.6 1397.2,1452.5 1395.3,1451.4 1393.6,1450.3 1391.9,1449.2 1390.3,1448.2 1388.7,1447.1 1387.2,1446.1 1385.7,1445.1 1384.3,1444.1 1382.9,1443.1 1381.5,1442.1 1380.2,1441.2 1378.9,1440.2 1377.6,1439.2 1376.3,1438.3 1375.1,1437.3 1373.9,1436.3 1372.7,1435.4 1371.5,1434.4 1370.3,1433.4 1369.2,1432.5 1368.0,1431.5 1366.8,1430.5 1365.7,1429.5 1364.5,1428.4 1363.4,1427.4 1362.2,1426.4 1361.1,1425.3 1359.9,1424.2 1358.7,1423.1 1357.6,1421.9 1356.4,1420.8 1355.2,1419.6 1353.9,1418.3 1352.7,1417.0 1351.4,1415.7 1350.2,1414.3 1348.9,1412.9 1347.5,1411.4 1346.2,1409.9 1344.8,1408.3 1343.4,1406.6 1341.9,1404.9 1340.5,1403.0 1339.0,1401.1 1337.4,1399.1 1335.9,1396.9 1334.3,1394.7 1332.6,1392.3 1331.0,1389.8 1329.3,1387.1 1327.7,1384.3 1326.0,1381.3 1324.4,1378.2 1322.9,1374.9 1321.4,1371.5 1320.0,1367.9 1318.8,1364.2 1317.8,1360.4 1317.1,1356.5 1316.6,1352.6 1316.5,1348.7 1316.9,1344.9 1317.7,1341.3 1319.0,1338.0 1320.7,1334.9 1323.0,1332.3 1325.7,1330.0 1328.7,1328.2 1332.1,1326.8 1335.7,1325.9 1339.5,1325.3 1343.4,1325.1 1347.4,1325.2 1351.2,1325.6 1355.1,1326.2 1358.8,1326.9 1362.4,1327.8 1365.9,1328.8 1369.2,1329.9 1372.4,1331.1 1375.5,1332.3 1378.4,1333.5 1381.1,1334.7 1383.7,1335.9 1386.2,1337.2 1388.6,1338.4 1390.9,1339.6 1393.1,1340.8 1395.2,1342.0 1397.2,1343.1 1399.1,1344.3 1400.9,1345.4 1402.7,1346.5 1404.4,1347.6 1406.0,1348.7 1407.6,1349.8 1409.2,1350.8 1410.7,1351.9 1412.2,1352.9 1413.6,1354.0 1415.0,1355.0 1416.3,1356.0 1417.7,1357.0 1419.0,1358.1 1420.3,1359.1 1421.5,1360.1 1422.8,1361.1 1424.0,1362.1 1425.2,1363.1 1426.4,1364.2 1427.7,1365.2 1428.9,1366.3 1430.0,1367.3 1431.2,1368.4 1432.4,1369.5 1433.6,1370.6 1434.8,1371.7 1436.0,1372.9 1437.2,1374.0 1438.4,1375.2 1439.7,1376.5 1440.9,1377.7 1442.2,1379.0 1443.4,1380.4 1444.7,1381.8 1446.0,1383.2 1447.4,1384.7 1448.7,1386.2 1450.1,1387.8 1451.5,1389.5 1452.9,1391.2 1454.4,1393.1 1455.9,1395.0 1457.4,1397.0Z"/>
<path fill="#fe1c35" d="M1457.5,1399.1 1459.0,1401.2 1460.5,1403.5 1462.1,1405.9 1463.7,1408.4 1465.3,1411.1 1466.8,1413.9 1468.4,1416.8 1469.9,1419.9 1471.3,1423.2 1472.6,1426.5 1473.8,1430.0 1474.9,1433.7 1475.7,1437.4 1476.2,1441.1 1476.4,1444.8 1476.3,1448.5 1475.7,1452.0 1474.7,1455.4 1473.2,1458.5 1471.2,1461.2 1468.8,1463.6 1466.0,1465.5 1462.8,1467.1 1459.4,1468.2 1455.8,1468.9 1452.0,1469.3 1448.2,1469.3 1444.4,1469.0 1440.6,1468.6 1436.9,1467.9 1433.3,1467.1 1429.9,1466.1 1426.6,1465.1 1423.4,1464.0 1420.4,1462.9 1417.5,1461.7 1414.8,1460.5 1412.2,1459.3 1409.7,1458.2 1407.4,1457.0 1405.1,1455.8 1403.0,1454.7 1401.0,1453.5 1399.0,1452.4 1397.2,1451.3 1395.4,1450.2 1393.7,1449.2 1392.0,1448.1 1390.4,1447.1 1388.9,1446.1 1387.4,1445.1 1385.9,1444.1 1384.5,1443.1 1383.2,1442.1 1381.8,1441.2 1380.5,1440.2 1379.3,1439.3 1378.0,1438.3 1376.8,1437.4 1375.6,1436.4 1374.4,1435.5 1373.2,1434.5 1372.1,1433.6 1370.9,1432.6 1369.8,1431.7 1368.7,1430.7 1367.5,1429.7 1366.4,1428.8 1365.3,1427.8 1364.2,1426.8 1363.0,1425.7 1361.9,1424.7 1360.8,1423.6 1359.6,1422.5 1358.5,1421.4 1357.3,1420.3 1356.1,1419.1 1354.9,1417.9 1353.7,1416.6 1352.5,1415.3 1351.2,1414.0 1350.0,1412.6 1348.7,1411.2 1347.3,1409.7 1346.0,1408.1 1344.6,1406.5 1343.2,1404.7 1341.8,1402.9 1340.3,1401.1 1338.8,1399.1 1337.2,1397.0 1335.7,1394.8 1334.1,1392.4 1332.4,1390.0 1330.8,1387.4 1329.2,1384.6 1327.5,1381.7 1325.9,1378.6 1324.4,1375.4 1322.9,1372.0 1321.5,1368.5 1320.3,1364.9 1319.3,1361.1 1318.5,1357.2 1318.0,1353.4 1317.9,1349.5 1318.2,1345.8 1318.9,1342.2 1320.2,1338.9 1321.9,1335.9 1324.1,1333.3 1326.7,1331.0 1329.7,1329.2 1333.1,1327.9 1336.6,1326.9 1340.4,1326.4 1344.2,1326.2 1348.1,1326.4 1352.0,1326.8 1355.8,1327.4 1359.5,1328.1 1363.0,1329.1 1366.4,1330.1 1369.7,1331.2 1372.9,1332.3 1375.9,1333.5 1378.7,1334.7 1381.4,1335.9 1384.0,1337.1 1386.5,1338.4 1388.8,1339.6 1391.0,1340.8 1393.2,1342.0 1395.2,1343.1 1397.2,1344.3 1399.0,1345.4 1400.8,1346.5 1402.6,1347.6 1404.2,1348.7 1405.9,1349.8 1407.4,1350.8 1408.9,1351.9 1410.4,1352.9 1411.8,1353.9 1413.2,1355.0 1414.6,1356.0 1415.9,1357.0 1417.2,1358.0 1418.5,1359.0 1419.7,1360.0 1421.0,1361.0 1422.2,1362.0 1423.4,1363.0 1424.6,1364.0 1425.8,1365.0 1427.0,1366.0 1428.1,1367.0 1429.3,1368.0 1430.5,1369.1 1431.6,1370.2 1432.8,1371.2 1434.0,1372.3 1435.1,1373.5 1436.3,1374.6 1437.5,1375.8 1438.7,1377.0 1439.9,1378.2 1441.1,1379.5 1442.4,1380.8 1443.6,1382.2 1444.9,1383.6 1446.2,1385.0 1447.5,1386.5 1448.9,1388.1 1450.2,1389.7 1451.6,1391.4 1453.0,1393.2 1454.5,1395.1 1456.0,1397.0Z"/>
<path fill="#fd1638" d="M1456.0,1399.1 1457.5,1401.2 1459.0,1403.4 1460.6,1405.7 1462.1,1408.2 1463.7,1410.8 1465.2,1413.5 1466.7,1416.4 1468.2,1419.4 1469.6,1422.6 1471.0,1425.9 1472.2,1429.4 1473.2,1432.9 1474.0,1436.5 1474.6,1440.2 1474.8,1443.9 1474.7,1447.5 1474.2,1451.0 1473.2,1454.3 1471.8,1457.4 1469.9,1460.1 1467.5,1462.4 1464.8,1464.4 1461.7,1465.9 1458.3,1467.0 1454.7,1467.7 1451.0,1468.0 1447.3,1468.0 1443.5,1467.8 1439.8,1467.3 1436.1,1466.6 1432.6,1465.7 1429.2,1464.8 1426.0,1463.8 1422.9,1462.7 1419.9,1461.6 1417.1,1460.4 1414.4,1459.2 1411.9,1458.1 1409.5,1456.9 1407.2,1455.7 1405.0,1454.6 1402.9,1453.5 1400.9,1452.3 1399.0,1451.2 1397.2,1450.2 1395.4,1449.1 1393.7,1448.1 1392.1,1447.0 1390.6,1446.0 1389.1,1445.0 1387.6,1444.0 1386.2,1443.1 1384.8,1442.1 1383.5,1441.1 1382.2,1440.2 1380.9,1439.3 1379.7,1438.3 1378.5,1437.4 1377.3,1436.5 1376.1,1435.6 1374.9,1434.6 1373.8,1433.7 1372.7,1432.8 1371.6,1431.9 1370.4,1430.9 1369.3,1430.0 1368.2,1429.0 1367.1,1428.1 1366.0,1427.1 1364.9,1426.1 1363.9,1425.1 1362.7,1424.1 1361.6,1423.0 1360.5,1422.0 1359.4,1420.9 1358.3,1419.8 1357.1,1418.6 1355.9,1417.4 1354.8,1416.2 1353.6,1414.9 1352.3,1413.6 1351.1,1412.3 1349.8,1410.9 1348.5,1409.4 1347.2,1407.9 1345.8,1406.3 1344.5,1404.6 1343.0,1402.9 1341.6,1401.0 1340.1,1399.1 1338.6,1397.0 1337.0,1394.9 1335.5,1392.6 1333.9,1390.2 1332.3,1387.6 1330.7,1384.9 1329.0,1382.1 1327.4,1379.1 1325.9,1375.9 1324.4,1372.6 1323.0,1369.1 1321.8,1365.5 1320.8,1361.8 1320.0,1358.0 1319.5,1354.2 1319.3,1350.4 1319.5,1346.7 1320.2,1343.2 1321.4,1339.9 1323.0,1336.9 1325.2,1334.2 1327.7,1332.0 1330.7,1330.3 1334.0,1328.9 1337.6,1328.0 1341.3,1327.5 1345.1,1327.4 1348.9,1327.5 1352.7,1327.9 1356.5,1328.5 1360.1,1329.3 1363.6,1330.3 1367.0,1331.3 1370.2,1332.4 1373.3,1333.5 1376.3,1334.7 1379.1,1335.9 1381.7,1337.2 1384.3,1338.4 1386.7,1339.6 1389.0,1340.8 1391.2,1342.0 1393.3,1343.1 1395.3,1344.3 1397.2,1345.4 1399.0,1346.5 1400.8,1347.6 1402.5,1348.7 1404.1,1349.8 1405.7,1350.9 1407.2,1351.9 1408.7,1352.9 1410.1,1353.9 1411.5,1355.0 1412.9,1356.0 1414.2,1356.9 1415.5,1357.9 1416.8,1358.9 1418.0,1359.9 1419.2,1360.9 1420.4,1361.8 1421.6,1362.8 1422.8,1363.8 1424.0,1364.8 1425.1,1365.8 1426.3,1366.8 1427.4,1367.8 1428.5,1368.8 1429.7,1369.8 1430.8,1370.8 1431.9,1371.9 1433.1,1373.0 1434.2,1374.1 1435.4,1375.2 1436.5,1376.3 1437.7,1377.5 1438.9,1378.7 1440.1,1380.0 1441.3,1381.2 1442.5,1382.6 1443.8,1383.9 1445.0,1385.3 1446.3,1386.8 1447.6,1388.3 1449.0,1389.9 1450.3,1391.6 1451.7,1393.3 1453.1,1395.2 1454.6,1397.1Z"/>
<path fill="#fd0f3a" d="M1454.6,1399.1 1456.1,1401.1 1457.5,1403.3 1459.1,1405.6 1460.6,1408.0 1462.1,1410.5 1463.6,1413.2 1465.1,1416.0 1466.6,1419.0 1468.0,1422.1 1469.3,1425.3 1470.5,1428.7 1471.5,1432.2 1472.4,1435.7 1472.9,1439.4 1473.2,1443.0 1473.1,1446.5 1472.7,1450.0 1471.8,1453.3 1470.4,1456.3 1468.5,1459.0 1466.2,1461.3 1463.6,1463.2 1460.5,1464.7 1457.2,1465.8 1453.7,1466.4 1450.0,1466.7 1446.3,1466.7 1442.6,1466.5 1439.0,1466.0 1435.4,1465.3 1431.9,1464.4 1428.6,1463.5 1425.4,1462.5 1422.3,1461.4 1419.4,1460.3 1416.7,1459.1 1414.1,1458.0 1411.6,1456.8 1409.2,1455.6 1406.9,1454.5 1404.8,1453.4 1402.8,1452.2 1400.8,1451.2 1398.9,1450.1 1397.2,1449.0 1395.5,1448.0 1393.8,1446.9 1392.2,1445.9 1390.7,1444.9 1389.3,1443.9 1387.8,1443.0 1386.5,1442.0 1385.1,1441.1 1383.8,1440.1 1382.6,1439.2 1381.3,1438.3 1380.1,1437.4 1378.9,1436.5 1377.8,1435.6 1376.6,1434.7 1375.5,1433.8 1374.4,1432.9 1373.3,1432.0 1372.2,1431.1 1371.1,1430.2 1370.0,1429.2 1368.9,1428.3 1367.9,1427.4 1366.8,1426.4 1365.7,1425.4 1364.7,1424.5 1363.6,1423.5 1362.5,1422.5 1361.4,1421.4 1360.3,1420.3 1359.2,1419.3 1358.1,1418.1 1356.9,1417.0 1355.8,1415.8 1354.6,1414.6 1353.4,1413.3 1352.2,1412.0 1350.9,1410.6 1349.7,1409.2 1348.4,1407.7 1347.1,1406.1 1345.7,1404.5 1344.3,1402.8 1342.9,1401.0 1341.4,1399.1 1340.0,1397.1 1338.4,1395.0 1336.9,1392.7 1335.3,1390.4 1333.7,1387.9 1332.1,1385.2 1330.5,1382.5 1329.0,1379.5 1327.4,1376.4 1325.9,1373.1 1324.6,1369.7 1323.3,1366.2 1322.3,1362.5 1321.4,1358.8 1320.9,1355.0 1320.7,1351.3 1320.9,1347.6 1321.5,1344.1 1322.6,1340.8 1324.2,1337.8 1326.3,1335.2 1328.8,1333.0 1331.7,1331.3 1335.0,1330.0 1338.5,1329.1 1342.1,1328.6 1345.9,1328.5 1349.7,1328.7 1353.4,1329.1 1357.1,1329.7 1360.7,1330.5 1364.2,1331.5 1367.5,1332.5 1370.7,1333.6 1373.8,1334.8 1376.7,1336.0 1379.4,1337.2 1382.0,1338.4 1384.5,1339.6 1386.9,1340.8 1389.1,1342.0 1391.3,1343.2 1393.3,1344.3 1395.3,1345.5 1397.2,1346.6 1399.0,1347.7 1400.7,1348.8 1402.3,1349.8 1403.9,1350.9 1405.5,1351.9 1407.0,1353.0 1408.4,1354.0 1409.8,1355.0 1411.2,1356.0 1412.5,1356.9 1413.8,1357.9 1415.1,1358.9 1416.3,1359.8 1417.5,1360.8 1418.7,1361.8 1419.9,1362.7 1421.0,1363.7 1422.2,1364.6 1423.3,1365.6 1424.5,1366.6 1425.6,1367.5 1426.7,1368.5 1427.8,1369.5 1428.9,1370.5 1430.0,1371.5 1431.1,1372.6 1432.2,1373.6 1433.3,1374.7 1434.4,1375.8 1435.6,1376.9 1436.7,1378.0 1437.9,1379.2 1439.0,1380.4 1440.2,1381.7 1441.4,1383.0 1442.6,1384.3 1443.8,1385.7 1445.1,1387.1 1446.4,1388.6 1447.7,1390.2 1449.0,1391.8 1450.4,1393.5 1451.8,1395.3 1453.2,1397.1Z"/>
<path fill="#fc083d" d="M1453.2,1399.1 1454.6,1401.1 1456.1,1403.2 1457.5,1405.4 1459.0,1407.8 1460.5,1410.2 1462.0,1412.9 1463.5,1415.6 1464.9,1418.5 1466.3,1421.5 1467.6,1424.7 1468.8,1428.0 1469.9,1431.4 1470.7,1434.9 1471.3,1438.5 1471.6,1442.1 1471.6,1445.6 1471.2,1449.0 1470.3,1452.2 1469.0,1455.2 1467.2,1457.8 1465.0,1460.1 1462.3,1462.0 1459.4,1463.5 1456.1,1464.5 1452.6,1465.2 1449.1,1465.5 1445.4,1465.5 1441.8,1465.2 1438.1,1464.7 1434.6,1464.0 1431.2,1463.1 1427.9,1462.2 1424.8,1461.1 1421.8,1460.1 1419.0,1459.0 1416.3,1457.8 1413.7,1456.7 1411.2,1455.5 1408.9,1454.4 1406.7,1453.3 1404.6,1452.1 1402.6,1451.0 1400.7,1450.0 1398.9,1448.9 1397.2,1447.8 1395.5,1446.8 1393.9,1445.8 1392.4,1444.8 1390.9,1443.8 1389.4,1442.9 1388.1,1441.9 1386.7,1441.0 1385.4,1440.1 1384.1,1439.2 1382.9,1438.3 1381.7,1437.4 1380.5,1436.5 1379.4,1435.6 1378.2,1434.7 1377.1,1433.8 1376.0,1432.9 1374.9,1432.0 1373.8,1431.2 1372.8,1430.3 1371.7,1429.4 1370.7,1428.5 1369.6,1427.6 1368.6,1426.7 1367.5,1425.7 1366.5,1424.8 1365.5,1423.8 1364.4,1422.9 1363.4,1421.9 1362.3,1420.9 1361.2,1419.8 1360.1,1418.8 1359.0,1417.7 1357.9,1416.5 1356.8,1415.4 1355.7,1414.2 1354.5,1412.9 1353.3,1411.6 1352.1,1410.3 1350.8,1408.9 1349.6,1407.5 1348.3,1405.9 1347.0,1404.3 1345.6,1402.7 1344.2,1400.9 1342.8,1399.1 1341.3,1397.1 1339.8,1395.1 1338.3,1392.9 1336.8,1390.6 1335.2,1388.1 1333.6,1385.6 1332.0,1382.8 1330.5,1379.9 1328.9,1376.9 1327.5,1373.7 1326.1,1370.3 1324.8,1366.9 1323.7,1363.3 1322.9,1359.6 1322.3,1355.8 1322.0,1352.1 1322.2,1348.5 1322.8,1345.0 1323.8,1341.8 1325.3,1338.8 1327.4,1336.2 1329.8,1334.1 1332.7,1332.3 1335.9,1331.0 1339.4,1330.2 1343.0,1329.7 1346.7,1329.6 1350.4,1329.8 1354.2,1330.3 1357.8,1330.9 1361.4,1331.7 1364.8,1332.7 1368.1,1333.7 1371.2,1334.9 1374.2,1336.0 1377.1,1337.2 1379.8,1338.4 1382.3,1339.6 1384.8,1340.8 1387.1,1342.0 1389.3,1343.2 1391.4,1344.3 1393.4,1345.5 1395.3,1346.6 1397.2,1347.7 1398.9,1348.8 1400.6,1349.9 1402.2,1351.0 1403.8,1352.0 1405.3,1353.0 1406.7,1354.0 1408.1,1355.0 1409.5,1356.0 1410.8,1357.0 1412.1,1357.9 1413.4,1358.9 1414.6,1359.8 1415.8,1360.8 1417.0,1361.7 1418.2,1362.7 1419.3,1363.6 1420.5,1364.5 1421.6,1365.5 1422.7,1366.4 1423.8,1367.3 1424.9,1368.3 1426.0,1369.3 1427.0,1370.2 1428.1,1371.2 1429.2,1372.2 1430.3,1373.2 1431.3,1374.2 1432.4,1375.3 1433.5,1376.4 1434.6,1377.4 1435.7,1378.6 1436.8,1379.7 1438.0,1380.9 1439.1,1382.1 1440.3,1383.4 1441.5,1384.7 1442.7,1386.0 1443.9,1387.4 1445.1,1388.9 1446.4,1390.4 1447.7,1392.0 1449.0,1393.6 1450.4,1395.3 1451.8,1397.2Z"/>
<path fill="#fc0140" d="M1451.7,1399.1 1453.1,1401.0 1454.6,1403.1 1456.0,1405.3 1457.5,1407.5 1458.9,1410.0 1460.4,1412.5 1461.9,1415.2 1463.3,1418.0 1464.7,1421.0 1466.0,1424.1 1467.1,1427.3 1468.2,1430.7 1469.1,1434.1 1469.7,1437.6 1470.0,1441.1 1470.0,1444.6 1469.6,1448.0 1468.8,1451.1 1467.6,1454.1 1465.8,1456.7 1463.7,1459.0 1461.1,1460.8 1458.2,1462.3 1455.0,1463.3 1451.6,1463.9 1448.1,1464.2 1444.5,1464.2 1440.9,1463.9 1437.3,1463.4 1433.9,1462.6 1430.5,1461.8 1427.3,1460.9 1424.2,1459.8 1421.3,1458.8 1418.5,1457.7 1415.8,1456.5 1413.3,1455.4 1410.9,1454.3 1408.7,1453.1 1406.5,1452.0 1404.5,1450.9 1402.5,1449.8 1400.6,1448.8 1398.9,1447.7 1397.2,1446.7 1395.5,1445.7 1394.0,1444.7 1392.5,1443.7 1391.0,1442.8 1389.6,1441.8 1388.3,1440.9 1387.0,1440.0 1385.7,1439.1 1384.5,1438.2 1383.3,1437.3 1382.1,1436.4 1380.9,1435.5 1379.8,1434.7 1378.7,1433.8 1377.6,1432.9 1376.5,1432.1 1375.5,1431.2 1374.4,1430.4 1373.4,1429.5 1372.4,1428.6 1371.3,1427.7 1370.3,1426.9 1369.3,1426.0 1368.3,1425.1 1367.3,1424.1 1366.3,1423.2 1365.2,1422.3 1364.2,1421.3 1363.2,1420.3 1362.1,1419.3 1361.1,1418.3 1360.0,1417.2 1358.9,1416.1 1357.8,1415.0 1356.7,1413.8 1355.6,1412.6 1354.4,1411.3 1353.2,1410.0 1352.0,1408.7 1350.8,1407.2 1349.5,1405.8 1348.2,1404.2 1346.9,1402.6 1345.5,1400.9 1344.1,1399.1 1342.7,1397.2 1341.2,1395.2 1339.7,1393.0 1338.2,1390.8 1336.7,1388.4 1335.1,1385.9 1333.5,1383.2 1332.0,1380.4 1330.5,1377.4 1329.0,1374.3 1327.6,1371.0 1326.3,1367.5 1325.2,1364.0 1324.3,1360.3 1323.7,1356.7 1323.4,1353.0 1323.5,1349.4 1324.0,1345.9 1325.0,1342.7 1326.5,1339.8 1328.5,1337.2 1330.9,1335.1 1333.7,1333.4 1336.9,1332.1 1340.3,1331.3 1343.8,1330.8 1347.5,1330.7 1351.2,1331.0 1354.9,1331.4 1358.5,1332.1 1362.0,1332.9 1365.4,1333.9 1368.6,1335.0 1371.7,1336.1 1374.7,1337.2 1377.5,1338.4 1380.1,1339.6 1382.6,1340.8 1385.0,1342.0 1387.3,1343.2 1389.5,1344.4 1391.5,1345.5 1393.5,1346.7 1395.4,1347.8 1397.2,1348.9 1398.9,1350.0 1400.5,1351.0 1402.1,1352.1 1403.6,1353.1 1405.1,1354.1 1406.5,1355.1 1407.9,1356.1 1409.2,1357.0 1410.5,1358.0 1411.8,1358.9 1413.0,1359.9 1414.2,1360.8 1415.4,1361.7 1416.5,1362.6 1417.7,1363.6 1418.8,1364.5 1419.9,1365.4 1421.0,1366.3 1422.1,1367.2 1423.1,1368.1 1424.2,1369.1 1425.2,1370.0 1426.3,1371.0 1427.3,1371.9 1428.4,1372.9 1429.4,1373.9 1430.5,1374.9 1431.5,1375.9 1432.6,1376.9 1433.7,1378.0 1434.7,1379.1 1435.8,1380.2 1436.9,1381.4 1438.0,1382.6 1439.2,1383.8 1440.3,1385.0 1441.5,1386.4 1442.7,1387.7 1443.9,1389.1 1445.1,1390.6 1446.4,1392.1 1447.7,1393.8 1449.0,1395.4 1450.4,1397.2Z"/>
<path fill="#f80041" d="M1450.3,1399.1 1451.7,1401.0 1453.1,1403.0 1454.5,1405.1 1455.9,1407.3 1457.3,1409.7 1458.8,1412.2 1460.2,1414.8 1461.6,1417.6 1463.0,1420.5 1464.3,1423.5 1465.5,1426.7 1466.5,1430.0 1467.4,1433.3 1468.1,1436.8 1468.4,1440.2 1468.5,1443.6 1468.1,1446.9 1467.4,1450.1 1466.2,1453.0 1464.5,1455.6 1462.4,1457.8 1459.9,1459.6 1457.0,1461.1 1453.9,1462.1 1450.6,1462.7 1447.1,1463.0 1443.5,1462.9 1440.0,1462.6 1436.5,1462.1 1433.1,1461.3 1429.8,1460.5 1426.7,1459.5 1423.6,1458.5 1420.8,1457.5 1418.0,1456.4 1415.4,1455.2 1412.9,1454.1 1410.6,1453.0 1408.4,1451.9 1406.3,1450.8 1404.3,1449.7 1402.4,1448.6 1400.6,1447.6 1398.8,1446.5 1397.2,1445.5 1395.6,1444.5 1394.1,1443.6 1392.6,1442.6 1391.2,1441.7 1389.8,1440.7 1388.5,1439.8 1387.2,1438.9 1386.0,1438.0 1384.8,1437.2 1383.6,1436.3 1382.5,1435.4 1381.3,1434.6 1380.3,1433.8 1379.2,1432.9 1378.1,1432.1 1377.1,1431.2 1376.0,1430.4 1375.0,1429.5 1374.0,1428.7 1373.0,1427.9 1372.0,1427.0 1371.0,1426.1 1370.0,1425.3 1369.1,1424.4 1368.1,1423.5 1367.1,1422.6 1366.1,1421.7 1365.1,1420.7 1364.1,1419.8 1363.1,1418.8 1362.0,1417.8 1361.0,1416.7 1359.9,1415.7 1358.9,1414.5 1357.8,1413.4 1356.6,1412.2 1355.5,1411.0 1354.4,1409.7 1353.2,1408.4 1352.0,1407.0 1350.7,1405.6 1349.5,1404.1 1348.2,1402.5 1346.8,1400.8 1345.5,1399.1 1344.0,1397.2 1342.6,1395.3 1341.1,1393.2 1339.6,1391.0 1338.1,1388.7 1336.6,1386.2 1335.0,1383.6 1333.5,1380.8 1332.0,1377.9 1330.5,1374.8 1329.1,1371.6 1327.8,1368.2 1326.7,1364.7 1325.8,1361.1 1325.1,1357.5 1324.8,1353.8 1324.8,1350.3 1325.3,1346.9 1326.2,1343.7 1327.7,1340.7 1329.6,1338.2 1331.9,1336.1 1334.7,1334.4 1337.8,1333.1 1341.2,1332.3 1344.7,1331.9 1348.3,1331.9 1352.0,1332.1 1355.6,1332.6 1359.2,1333.3 1362.6,1334.1 1366.0,1335.1 1369.2,1336.2 1372.2,1337.3 1375.1,1338.5 1377.9,1339.7 1380.5,1340.9 1383.0,1342.1 1385.3,1343.2 1387.5,1344.4 1389.6,1345.6 1391.7,1346.7 1393.6,1347.9 1395.4,1349.0 1397.2,1350.0 1398.8,1351.1 1400.4,1352.1 1402.0,1353.2 1403.5,1354.2 1404.9,1355.2 1406.3,1356.1 1407.6,1357.1 1408.9,1358.1 1410.2,1359.0 1411.4,1359.9 1412.6,1360.8 1413.8,1361.7 1414.9,1362.6 1416.1,1363.5 1417.2,1364.4 1418.2,1365.3 1419.3,1366.2 1420.4,1367.1 1421.4,1368.0 1422.5,1368.9 1423.5,1369.8 1424.5,1370.8 1425.5,1371.7 1426.5,1372.6 1427.6,1373.6 1428.6,1374.5 1429.6,1375.5 1430.6,1376.5 1431.7,1377.5 1432.7,1378.6 1433.7,1379.6 1434.8,1380.7 1435.9,1381.8 1437.0,1383.0 1438.1,1384.2 1439.2,1385.4 1440.3,1386.7 1441.5,1388.0 1442.7,1389.4 1443.9,1390.8 1445.1,1392.3 1446.4,1393.9 1447.7,1395.5 1449.0,1397.3Z"/>
<path fill="#f30043" d="M1448.9,1399.1 1450.2,1400.9 1451.6,1402.9 1453.0,1404.9 1454.4,1407.1 1455.8,1409.4 1457.2,1411.8 1458.6,1414.4 1460.0,1417.1 1461.3,1419.9 1462.6,1422.9 1463.8,1426.0 1464.9,1429.2 1465.8,1432.5 1466.4,1435.9 1466.8,1439.3 1466.9,1442.6 1466.6,1445.9 1465.9,1449.0 1464.8,1451.9 1463.2,1454.4 1461.1,1456.6 1458.7,1458.5 1455.9,1459.9 1452.8,1460.8 1449.5,1461.4 1446.1,1461.7 1442.6,1461.6 1439.1,1461.3 1435.7,1460.7 1432.4,1460.0 1429.1,1459.2 1426.0,1458.2 1423.1,1457.2 1420.2,1456.1 1417.5,1455.1 1415.0,1453.9 1412.6,1452.8 1410.3,1451.7 1408.1,1450.6 1406.1,1449.5 1404.1,1448.5 1402.2,1447.4 1400.5,1446.4 1398.8,1445.4 1397.2,1444.4 1395.6,1443.4 1394.1,1442.4 1392.7,1441.5 1391.3,1440.6 1390.0,1439.7 1388.7,1438.8 1387.5,1437.9 1386.3,1437.0 1385.1,1436.2 1384.0,1435.3 1382.9,1434.5 1381.8,1433.7 1380.7,1432.8 1379.6,1432.0 1378.6,1431.2 1377.6,1430.4 1376.6,1429.6 1375.6,1428.7 1374.6,1427.9 1373.7,1427.1 1372.7,1426.3 1371.7,1425.4 1370.8,1424.6 1369.8,1423.7 1368.8,1422.8 1367.9,1422.0 1366.9,1421.1 1365.9,1420.1 1365.0,1419.2 1364.0,1418.2 1363.0,1417.3 1361.9,1416.2 1360.9,1415.2 1359.9,1414.1 1358.8,1413.0 1357.7,1411.9 1356.6,1410.7 1355.5,1409.5 1354.3,1408.2 1353.2,1406.8 1352.0,1405.4 1350.7,1404.0 1349.4,1402.4 1348.1,1400.8 1346.8,1399.1 1345.4,1397.3 1344.0,1395.4 1342.6,1393.3 1341.1,1391.2 1339.6,1388.9 1338.1,1386.5 1336.5,1383.9 1335.0,1381.2 1333.5,1378.4 1332.0,1375.4 1330.6,1372.2 1329.3,1368.9 1328.2,1365.4 1327.2,1361.9 1326.5,1358.3 1326.2,1354.7 1326.2,1351.2 1326.6,1347.8 1327.4,1344.6 1328.8,1341.7 1330.7,1339.2 1333.0,1337.1 1335.7,1335.4 1338.8,1334.2 1342.1,1333.4 1345.6,1333.0 1349.2,1333.0 1352.8,1333.2 1356.4,1333.8 1359.9,1334.5 1363.3,1335.4 1366.6,1336.3 1369.7,1337.4 1372.7,1338.5 1375.6,1339.7 1378.3,1340.9 1380.8,1342.1 1383.3,1343.3 1385.6,1344.5 1387.7,1345.6 1389.8,1346.8 1391.8,1347.9 1393.7,1349.0 1395.5,1350.1 1397.2,1351.2 1398.8,1352.2 1400.4,1353.3 1401.9,1354.3 1403.3,1355.3 1404.7,1356.2 1406.1,1357.2 1407.4,1358.1 1408.6,1359.1 1409.9,1360.0 1411.1,1360.9 1412.2,1361.8 1413.4,1362.7 1414.5,1363.6 1415.6,1364.5 1416.6,1365.3 1417.7,1366.2 1418.7,1367.1 1419.8,1368.0 1420.8,1368.8 1421.8,1369.7 1422.8,1370.6 1423.8,1371.5 1424.8,1372.4 1425.8,1373.3 1426.7,1374.2 1427.7,1375.2 1428.7,1376.1 1429.7,1377.1 1430.7,1378.1 1431.7,1379.1 1432.8,1380.1 1433.8,1381.2 1434.8,1382.3 1435.9,1383.4 1437.0,1384.6 1438.0,1385.8 1439.2,1387.0 1440.3,1388.3 1441.4,1389.7 1442.6,1391.1 1443.8,1392.5 1445.0,1394.0 1446.3,1395.6 1447.6,1397.3Z"/>
<path fill="#ed0045" d="M1447.4,1399.1 1448.7,1400.9 1450.1,1402.8 1451.4,1404.8 1452.8,1406.9 1454.2,1409.1 1455.6,1411.5 1457.0,1414.0 1458.3,1416.6 1459.7,1419.4 1461.0,1422.3 1462.1,1425.3 1463.2,1428.5 1464.1,1431.7 1464.8,1435.0 1465.2,1438.4 1465.4,1441.7 1465.1,1444.9 1464.4,1447.9 1463.4,1450.8 1461.8,1453.3 1459.8,1455.5 1457.4,1457.3 1454.7,1458.7 1451.7,1459.6 1448.5,1460.2 1445.1,1460.4 1441.7,1460.3 1438.3,1460.0 1434.9,1459.4 1431.6,1458.7 1428.4,1457.9 1425.4,1456.9 1422.5,1455.9 1419.7,1454.8 1417.1,1453.7 1414.6,1452.6 1412.2,1451.5 1410.0,1450.4 1407.9,1449.4 1405.8,1448.3 1403.9,1447.2 1402.1,1446.2 1400.4,1445.2 1398.7,1444.2 1397.2,1443.2 1395.7,1442.2 1394.2,1441.3 1392.8,1440.4 1391.5,1439.5 1390.2,1438.6 1388.9,1437.7 1387.7,1436.9 1386.6,1436.0 1385.4,1435.2 1384.3,1434.4 1383.2,1433.5 1382.2,1432.7 1381.1,1431.9 1380.1,1431.1 1379.1,1430.3 1378.1,1429.5 1377.2,1428.7 1376.2,1427.9 1375.2,1427.1 1374.3,1426.3 1373.4,1425.5 1372.4,1424.7 1371.5,1423.9 1370.6,1423.0 1369.6,1422.2 1368.7,1421.3 1367.7,1420.4 1366.8,1419.6 1365.8,1418.6 1364.9,1417.7 1363.9,1416.8 1362.9,1415.8 1361.9,1414.8 1360.9,1413.7 1359.9,1412.6 1358.8,1411.5 1357.7,1410.4 1356.6,1409.2 1355.5,1407.9 1354.4,1406.6 1353.2,1405.3 1352.0,1403.8 1350.7,1402.3 1349.4,1400.7 1348.1,1399.1 1346.8,1397.3 1345.4,1395.4 1344.0,1393.5 1342.5,1391.4 1341.0,1389.2 1339.5,1386.8 1338.0,1384.3 1336.5,1381.7 1335.0,1378.9 1333.5,1375.9 1332.1,1372.8 1330.8,1369.5 1329.7,1366.1 1328.7,1362.7 1328.0,1359.1 1327.5,1355.6 1327.5,1352.1 1327.8,1348.7 1328.7,1345.5 1330.0,1342.7 1331.8,1340.2 1334.0,1338.1 1336.7,1336.4 1339.7,1335.3 1343.0,1334.5 1346.4,1334.1 1350.0,1334.1 1353.5,1334.4 1357.1,1334.9 1360.6,1335.7 1363.9,1336.6 1367.2,1337.6 1370.3,1338.6 1373.2,1339.8 1376.0,1340.9 1378.7,1342.1 1381.2,1343.3 1383.6,1344.5 1385.8,1345.7 1388.0,1346.8 1390.0,1348.0 1391.9,1349.1 1393.8,1350.2 1395.5,1351.3 1397.2,1352.3 1398.8,1353.4 1400.3,1354.4 1401.8,1355.4 1403.2,1356.4 1404.5,1357.3 1405.8,1358.3 1407.1,1359.2 1408.3,1360.1 1409.5,1361.0 1410.7,1361.9 1411.8,1362.8 1412.9,1363.7 1414.0,1364.5 1415.1,1365.4 1416.1,1366.2 1417.1,1367.1 1418.2,1367.9 1419.2,1368.8 1420.1,1369.7 1421.1,1370.5 1422.1,1371.4 1423.1,1372.3 1424.0,1373.1 1425.0,1374.0 1425.9,1374.9 1426.9,1375.8 1427.9,1376.8 1428.8,1377.7 1429.8,1378.7 1430.8,1379.7 1431.8,1380.7 1432.8,1381.7 1433.8,1382.8 1434.8,1383.9 1435.8,1385.0 1436.9,1386.2 1438.0,1387.4 1439.1,1388.6 1440.2,1389.9 1441.3,1391.3 1442.5,1392.7 1443.7,1394.2 1444.9,1395.7 1446.2,1397.4Z"/>
<path fill="#e80046" d="M1446.0,1399.1 1447.3,1400.8 1448.6,1402.7 1449.9,1404.6 1451.2,1406.7 1452.6,1408.8 1454.0,1411.1 1455.3,1413.6 1456.7,1416.1 1458.0,1418.8 1459.3,1421.7 1460.5,1424.6 1461.5,1427.7 1462.5,1430.9 1463.2,1434.2 1463.6,1437.4 1463.8,1440.7 1463.6,1443.9 1463.0,1446.9 1461.9,1449.7 1460.5,1452.2 1458.5,1454.3 1456.2,1456.1 1453.5,1457.5 1450.6,1458.4 1447.4,1459.0 1444.1,1459.2 1440.8,1459.1 1437.4,1458.7 1434.1,1458.1 1430.9,1457.4 1427.7,1456.6 1424.7,1455.6 1421.9,1454.6 1419.2,1453.5 1416.6,1452.4 1414.2,1451.4 1411.8,1450.3 1409.7,1449.2 1407.6,1448.1 1405.6,1447.0 1403.8,1446.0 1402.0,1445.0 1400.3,1444.0 1398.7,1443.0 1397.2,1442.0 1395.7,1441.1 1394.3,1440.2 1392.9,1439.3 1391.6,1438.4 1390.4,1437.5 1389.2,1436.7 1388.0,1435.8 1386.9,1435.0 1385.8,1434.2 1384.7,1433.4 1383.6,1432.6 1382.6,1431.8 1381.6,1431.0 1380.6,1430.2 1379.6,1429.5 1378.7,1428.7 1377.7,1427.9 1376.8,1427.1 1375.9,1426.3 1374.9,1425.6 1374.0,1424.8 1373.1,1424.0 1372.2,1423.2 1371.3,1422.4 1370.4,1421.5 1369.5,1420.7 1368.6,1419.8 1367.7,1419.0 1366.7,1418.1 1365.8,1417.2 1364.8,1416.3 1363.9,1415.3 1362.9,1414.3 1361.9,1413.3 1360.9,1412.3 1359.9,1411.2 1358.8,1410.1 1357.8,1408.9 1356.7,1407.7 1355.5,1406.4 1354.4,1405.1 1353.2,1403.7 1352.0,1402.2 1350.7,1400.7 1349.5,1399.1 1348.1,1397.4 1346.8,1395.5 1345.4,1393.6 1344.0,1391.6 1342.5,1389.4 1341.0,1387.1 1339.5,1384.7 1338.0,1382.1 1336.5,1379.4 1335.0,1376.5 1333.6,1373.4 1332.3,1370.2 1331.1,1366.9 1330.1,1363.4 1329.4,1359.9 1328.9,1356.4 1328.8,1353.0 1329.1,1349.6 1329.9,1346.5 1331.1,1343.7 1332.9,1341.2 1335.1,1339.1 1337.7,1337.5 1340.7,1336.3 1343.9,1335.6 1347.3,1335.2 1350.8,1335.2 1354.3,1335.5 1357.8,1336.1 1361.2,1336.9 1364.6,1337.8 1367.8,1338.8 1370.8,1339.9 1373.7,1341.0 1376.5,1342.2 1379.1,1343.4 1381.5,1344.5 1383.9,1345.7 1386.1,1346.9 1388.2,1348.1 1390.2,1349.2 1392.0,1350.3 1393.8,1351.4 1395.5,1352.5 1397.2,1353.5 1398.7,1354.5 1400.2,1355.5 1401.6,1356.5 1403.0,1357.5 1404.3,1358.4 1405.6,1359.3 1406.8,1360.2 1408.0,1361.1 1409.2,1362.0 1410.3,1362.9 1411.4,1363.7 1412.5,1364.6 1413.6,1365.5 1414.6,1366.3 1415.6,1367.1 1416.6,1368.0 1417.6,1368.8 1418.5,1369.6 1419.5,1370.5 1420.5,1371.3 1421.4,1372.2 1422.3,1373.0 1423.3,1373.9 1424.2,1374.7 1425.1,1375.6 1426.1,1376.5 1427.0,1377.4 1427.9,1378.3 1428.9,1379.3 1429.8,1380.2 1430.8,1381.2 1431.8,1382.2 1432.7,1383.2 1433.7,1384.3 1434.7,1385.4 1435.8,1386.5 1436.8,1387.7 1437.9,1388.9 1439.0,1390.2 1440.1,1391.5 1441.2,1392.9 1442.4,1394.3 1443.6,1395.8 1444.8,1397.4Z"/>
<path fill="#e30048" d="M1444.6,1399.1 1445.8,1400.8 1447.1,1402.6 1448.4,1404.5 1449.7,1406.5 1451.0,1408.6 1452.4,1410.8 1453.7,1413.2 1455.0,1415.7 1456.4,1418.3 1457.6,1421.1 1458.8,1424.0 1459.9,1427.0 1460.8,1430.1 1461.5,1433.3 1462.0,1436.5 1462.2,1439.7 1462.1,1442.9 1461.5,1445.8 1460.5,1448.6 1459.1,1451.1 1457.3,1453.2 1455.0,1454.9 1452.4,1456.2 1449.5,1457.2 1446.4,1457.7 1443.1,1457.9 1439.8,1457.8 1436.5,1457.4 1433.3,1456.8 1430.1,1456.1 1427.0,1455.2 1424.1,1454.3 1421.3,1453.3 1418.6,1452.2 1416.1,1451.1 1413.7,1450.1 1411.5,1449.0 1409.3,1447.9 1407.3,1446.8 1405.4,1445.8 1403.6,1444.8 1401.9,1443.8 1400.2,1442.8 1398.7,1441.8 1397.2,1440.9 1395.7,1440.0 1394.4,1439.1 1393.1,1438.2 1391.8,1437.3 1390.6,1436.5 1389.4,1435.6 1388.3,1434.8 1387.1,1434.0 1386.1,1433.2 1385.0,1432.4 1384.0,1431.6 1383.0,1430.9 1382.0,1430.1 1381.1,1429.3 1380.1,1428.6 1379.2,1427.8 1378.3,1427.1 1377.4,1426.3 1376.5,1425.5 1375.6,1424.8 1374.7,1424.0 1373.8,1423.2 1372.9,1422.5 1372.1,1421.7 1371.2,1420.9 1370.3,1420.1 1369.4,1419.2 1368.5,1418.4 1367.6,1417.5 1366.7,1416.7 1365.8,1415.8 1364.9,1414.8 1363.9,1413.9 1362.9,1412.9 1362.0,1411.9 1361.0,1410.8 1359.9,1409.7 1358.9,1408.6 1357.8,1407.4 1356.7,1406.2 1355.6,1404.9 1354.5,1403.6 1353.3,1402.1 1352.1,1400.6 1350.8,1399.1 1349.5,1397.4 1348.2,1395.6 1346.8,1393.8 1345.4,1391.8 1344.0,1389.7 1342.5,1387.4 1341.0,1385.1 1339.5,1382.5 1338.0,1379.9 1336.6,1377.0 1335.2,1374.0 1333.8,1370.9 1332.6,1367.6 1331.6,1364.2 1330.8,1360.7 1330.3,1357.3 1330.1,1353.8 1330.4,1350.5 1331.1,1347.4 1332.3,1344.6 1334.0,1342.2 1336.1,1340.1 1338.7,1338.5 1341.6,1337.4 1344.8,1336.6 1348.1,1336.3 1351.6,1336.4 1355.1,1336.7 1358.5,1337.3 1361.9,1338.0 1365.2,1339.0 1368.3,1340.0 1371.3,1341.1 1374.2,1342.2 1376.9,1343.4 1379.5,1344.6 1381.9,1345.8 1384.2,1347.0 1386.3,1348.1 1388.4,1349.3 1390.3,1350.4 1392.2,1351.5 1393.9,1352.6 1395.6,1353.6 1397.2,1354.7 1398.7,1355.7 1400.1,1356.6 1401.5,1357.6 1402.9,1358.6 1404.1,1359.5 1405.4,1360.4 1406.6,1361.3 1407.8,1362.2 1408.9,1363.0 1410.0,1363.9 1411.0,1364.7 1412.1,1365.6 1413.1,1366.4 1414.1,1367.2 1415.1,1368.0 1416.1,1368.8 1417.0,1369.7 1417.9,1370.5 1418.9,1371.3 1419.8,1372.1 1420.7,1372.9 1421.6,1373.8 1422.5,1374.6 1423.4,1375.4 1424.3,1376.3 1425.2,1377.2 1426.1,1378.0 1427.0,1378.9 1427.9,1379.8 1428.9,1380.8 1429.8,1381.7 1430.7,1382.7 1431.7,1383.7 1432.6,1384.7 1433.6,1385.8 1434.6,1386.9 1435.6,1388.0 1436.7,1389.2 1437.7,1390.4 1438.8,1391.7 1439.9,1393.1 1441.0,1394.5 1442.2,1395.9 1443.4,1397.5Z"/>
<path fill="#de004a" d="M1443.1,1399.1 1444.4,1400.7 1445.6,1402.5 1446.9,1404.3 1448.1,1406.2 1449.4,1408.3 1450.8,1410.5 1452.1,1412.8 1453.4,1415.2 1454.7,1417.8 1456.0,1420.5 1457.1,1423.3 1458.2,1426.3 1459.2,1429.3 1459.9,1432.4 1460.4,1435.6 1460.7,1438.8 1460.6,1441.8 1460.1,1444.8 1459.1,1447.5 1457.8,1449.9 1456.0,1452.0 1453.8,1453.7 1451.2,1455.0 1448.4,1455.9 1445.3,1456.5 1442.1,1456.6 1438.9,1456.5 1435.7,1456.1 1432.5,1455.5 1429.3,1454.8 1426.3,1453.9 1423.5,1453.0 1420.7,1452.0 1418.1,1450.9 1415.6,1449.8 1413.3,1448.8 1411.1,1447.7 1409.0,1446.6 1407.1,1445.6 1405.2,1444.6 1403.4,1443.5 1401.7,1442.6 1400.1,1441.6 1398.6,1440.6 1397.2,1439.7 1395.8,1438.8 1394.4,1437.9 1393.2,1437.1 1391.9,1436.2 1390.8,1435.4 1389.6,1434.6 1388.5,1433.8 1387.4,1433.0 1386.4,1432.2 1385.4,1431.4 1384.4,1430.7 1383.4,1429.9 1382.5,1429.2 1381.5,1428.4 1380.6,1427.7 1379.7,1427.0 1378.8,1426.2 1378.0,1425.5 1377.1,1424.8 1376.2,1424.0 1375.4,1423.3 1374.5,1422.5 1373.7,1421.8 1372.8,1421.0 1372.0,1420.2 1371.1,1419.4 1370.2,1418.6 1369.4,1417.8 1368.5,1417.0 1367.6,1416.1 1366.7,1415.3 1365.8,1414.4 1364.9,1413.4 1364.0,1412.5 1363.0,1411.5 1362.0,1410.5 1361.1,1409.4 1360.0,1408.3 1359.0,1407.2 1357.9,1406.0 1356.8,1404.7 1355.7,1403.4 1354.6,1402.0 1353.4,1400.6 1352.1,1399.1 1350.9,1397.5 1349.6,1395.7 1348.2,1393.9 1346.8,1392.0 1345.4,1389.9 1344.0,1387.8 1342.5,1385.4 1341.0,1383.0 1339.5,1380.3 1338.1,1377.6 1336.7,1374.6 1335.3,1371.5 1334.1,1368.3 1333.0,1365.0 1332.2,1361.6 1331.7,1358.1 1331.5,1354.7 1331.6,1351.5 1332.3,1348.4 1333.4,1345.6 1335.1,1343.2 1337.2,1341.1 1339.7,1339.5 1342.6,1338.4 1345.7,1337.7 1349.0,1337.4 1352.4,1337.5 1355.9,1337.8 1359.3,1338.4 1362.6,1339.2 1365.8,1340.2 1368.9,1341.2 1371.9,1342.3 1374.7,1343.5 1377.4,1344.6 1379.9,1345.8 1382.2,1347.0 1384.5,1348.2 1386.6,1349.3 1388.6,1350.5 1390.5,1351.6 1392.3,1352.7 1394.0,1353.8 1395.6,1354.8 1397.2,1355.8 1398.6,1356.8 1400.1,1357.8 1401.4,1358.7 1402.7,1359.6 1404.0,1360.6 1405.2,1361.4 1406.3,1362.3 1407.5,1363.2 1408.6,1364.0 1409.6,1364.9 1410.7,1365.7 1411.7,1366.5 1412.7,1367.3 1413.6,1368.1 1414.6,1368.9 1415.5,1369.7 1416.4,1370.5 1417.3,1371.3 1418.2,1372.1 1419.1,1372.9 1420.0,1373.7 1420.9,1374.5 1421.8,1375.3 1422.6,1376.1 1423.5,1377.0 1424.4,1377.8 1425.3,1378.7 1426.1,1379.5 1427.0,1380.4 1427.9,1381.3 1428.8,1382.2 1429.7,1383.2 1430.6,1384.2 1431.6,1385.2 1432.5,1386.2 1433.5,1387.3 1434.5,1388.4 1435.5,1389.5 1436.5,1390.7 1437.5,1392.0 1438.6,1393.2 1439.7,1394.6 1440.8,1396.0 1442.0,1397.5Z"/>
<path fill="#d9004b" d="M1441.7,1399.1 1442.9,1400.7 1444.1,1402.4 1445.3,1404.1 1446.6,1406.0 1447.9,1408.0 1449.2,1410.1 1450.5,1412.4 1451.8,1414.7 1453.0,1417.2 1454.3,1419.9 1455.5,1422.6 1456.6,1425.5 1457.5,1428.5 1458.3,1431.6 1458.8,1434.7 1459.1,1437.8 1459.0,1440.8 1458.6,1443.7 1457.7,1446.4 1456.4,1448.8 1454.7,1450.9 1452.5,1452.6 1450.1,1453.8 1447.3,1454.7 1444.3,1455.2 1441.2,1455.4 1438.0,1455.2 1434.8,1454.8 1431.6,1454.2 1428.6,1453.5 1425.6,1452.6 1422.8,1451.7 1420.1,1450.7 1417.6,1449.6 1415.2,1448.5 1412.9,1447.5 1410.7,1446.4 1408.7,1445.4 1406.8,1444.3 1405.0,1443.3 1403.2,1442.3 1401.6,1441.3 1400.1,1440.4 1398.6,1439.5 1397.2,1438.6 1395.8,1437.7 1394.5,1436.8 1393.3,1436.0 1392.1,1435.1 1390.9,1434.3 1389.8,1433.5 1388.8,1432.8 1387.7,1432.0 1386.7,1431.2 1385.7,1430.5 1384.8,1429.7 1383.8,1429.0 1382.9,1428.3 1382.0,1427.6 1381.1,1426.8 1380.3,1426.1 1379.4,1425.4 1378.6,1424.7 1377.7,1424.0 1376.9,1423.3 1376.0,1422.5 1375.2,1421.8 1374.4,1421.1 1373.6,1420.3 1372.7,1419.6 1371.9,1418.8 1371.1,1418.0 1370.2,1417.2 1369.4,1416.4 1368.5,1415.6 1367.7,1414.8 1366.8,1413.9 1365.9,1413.0 1365.0,1412.1 1364.1,1411.1 1363.1,1410.1 1362.2,1409.1 1361.2,1408.0 1360.2,1406.9 1359.1,1405.8 1358.1,1404.6 1357.0,1403.3 1355.8,1402.0 1354.7,1400.6 1353.5,1399.1 1352.2,1397.5 1351.0,1395.8 1349.6,1394.1 1348.3,1392.2 1346.9,1390.2 1345.5,1388.1 1344.0,1385.8 1342.5,1383.4 1341.1,1380.8 1339.6,1378.1 1338.2,1375.2 1336.8,1372.2 1335.6,1369.0 1334.5,1365.7 1333.6,1362.4 1333.0,1359.0 1332.8,1355.6 1332.9,1352.4 1333.5,1349.3 1334.6,1346.6 1336.2,1344.1 1338.2,1342.1 1340.7,1340.6 1343.5,1339.5 1346.6,1338.8 1349.9,1338.5 1353.2,1338.6 1356.6,1339.0 1360.0,1339.6 1363.3,1340.4 1366.5,1341.4 1369.5,1342.4 1372.4,1343.5 1375.2,1344.7 1377.8,1345.9 1380.3,1347.1 1382.6,1348.2 1384.8,1349.4 1386.9,1350.6 1388.8,1351.7 1390.7,1352.8 1392.4,1353.9 1394.1,1354.9 1395.7,1356.0 1397.2,1357.0 1398.6,1357.9 1400.0,1358.9 1401.3,1359.8 1402.6,1360.7 1403.8,1361.6 1404.9,1362.5 1406.1,1363.4 1407.2,1364.2 1408.2,1365.0 1409.3,1365.9 1410.3,1366.7 1411.2,1367.5 1412.2,1368.3 1413.1,1369.0 1414.1,1369.8 1415.0,1370.6 1415.8,1371.4 1416.7,1372.1 1417.6,1372.9 1418.5,1373.7 1419.3,1374.5 1420.2,1375.3 1421.0,1376.0 1421.8,1376.8 1422.7,1377.7 1423.5,1378.5 1424.4,1379.3 1425.2,1380.1 1426.1,1381.0 1426.9,1381.9 1427.8,1382.8 1428.7,1383.7 1429.6,1384.6 1430.5,1385.6 1431.4,1386.6 1432.3,1387.6 1433.3,1388.7 1434.3,1389.8 1435.3,1391.0 1436.3,1392.2 1437.3,1393.4 1438.4,1394.7 1439.5,1396.1 1440.6,1397.6Z"/>
<path fill="#d4004b" d="M1440.3,1399.1 1441.4,1400.6 1442.6,1402.2 1443.8,1404.0 1445.0,1405.8 1446.3,1407.7 1447.6,1409.8 1448.8,1412.0 1450.1,1414.3 1451.4,1416.7 1452.6,1419.2 1453.8,1421.9 1454.9,1424.8 1455.8,1427.7 1456.6,1430.7 1457.2,1433.7 1457.5,1436.8 1457.5,1439.8 1457.1,1442.6 1456.3,1445.3 1455.0,1447.6 1453.4,1449.7 1451.3,1451.3 1448.9,1452.6 1446.2,1453.5 1443.2,1454.0 1440.2,1454.1 1437.0,1454.0 1433.9,1453.5 1430.8,1452.9 1427.8,1452.2 1424.9,1451.3 1422.2,1450.4 1419.6,1449.4 1417.1,1448.3 1414.7,1447.3 1412.5,1446.2 1410.4,1445.2 1408.4,1444.1 1406.5,1443.1 1404.8,1442.1 1403.1,1441.1 1401.5,1440.2 1400.0,1439.2 1398.5,1438.3 1397.2,1437.4 1395.9,1436.6 1394.6,1435.7 1393.4,1434.9 1392.2,1434.1 1391.1,1433.3 1390.1,1432.5 1389.0,1431.8 1388.0,1431.0 1387.0,1430.3 1386.1,1429.5 1385.1,1428.8 1384.2,1428.1 1383.3,1427.4 1382.5,1426.7 1381.6,1426.0 1380.8,1425.3 1379.9,1424.6 1379.1,1423.9 1378.3,1423.2 1377.5,1422.5 1376.7,1421.8 1375.9,1421.1 1375.1,1420.4 1374.3,1419.7 1373.5,1418.9 1372.7,1418.2 1371.9,1417.4 1371.1,1416.7 1370.2,1415.9 1369.4,1415.1 1368.6,1414.3 1367.7,1413.4 1366.9,1412.6 1366.0,1411.7 1365.1,1410.7 1364.2,1409.8 1363.2,1408.8 1362.3,1407.8 1361.3,1406.7 1360.3,1405.6 1359.3,1404.4 1358.2,1403.2 1357.1,1401.9 1356.0,1400.5 1354.8,1399.1 1353.6,1397.5 1352.3,1395.9 1351.0,1394.2 1349.7,1392.4 1348.3,1390.5 1346.9,1388.4 1345.5,1386.2 1344.0,1383.8 1342.6,1381.3 1341.1,1378.7 1339.7,1375.9 1338.3,1372.9 1337.1,1369.8 1336.0,1366.5 1335.1,1363.2 1334.4,1359.9 1334.1,1356.6 1334.2,1353.3 1334.8,1350.3 1335.8,1347.6 1337.3,1345.2 1339.3,1343.2 1341.7,1341.7 1344.5,1340.6 1347.5,1339.9 1350.8,1339.7 1354.1,1339.8 1357.4,1340.2 1360.8,1340.8 1364.0,1341.6 1367.1,1342.6 1370.1,1343.6 1373.0,1344.7 1375.7,1345.9 1378.2,1347.1 1380.7,1348.3 1382.9,1349.5 1385.1,1350.6 1387.1,1351.8 1389.0,1352.9 1390.8,1354.0 1392.5,1355.1 1394.2,1356.1 1395.7,1357.1 1397.2,1358.1 1398.6,1359.1 1399.9,1360.0 1401.2,1360.9 1402.4,1361.8 1403.6,1362.7 1404.7,1363.5 1405.8,1364.4 1406.9,1365.2 1407.9,1366.0 1408.9,1366.8 1409.9,1367.6 1410.8,1368.4 1411.7,1369.2 1412.7,1369.9 1413.5,1370.7 1414.4,1371.5 1415.3,1372.2 1416.1,1373.0 1417.0,1373.7 1417.8,1374.5 1418.6,1375.2 1419.4,1376.0 1420.3,1376.8 1421.1,1377.5 1421.9,1378.3 1422.7,1379.1 1423.5,1379.9 1424.3,1380.7 1425.2,1381.6 1426.0,1382.4 1426.8,1383.3 1427.7,1384.2 1428.6,1385.1 1429.4,1386.0 1430.3,1387.0 1431.2,1388.0 1432.1,1389.0 1433.1,1390.1 1434.0,1391.2 1435.0,1392.4 1436.0,1393.6 1437.0,1394.9 1438.1,1396.2 1439.2,1397.6Z"/>
<path fill="#ce004a" d="M1439.0,1399.1 1440.1,1400.6 1441.2,1402.1 1442.4,1403.8 1443.6,1405.6 1444.8,1407.5 1446.0,1409.4 1447.2,1411.5 1448.4,1413.8 1449.6,1416.1 1450.8,1418.6 1452.0,1421.2 1453.0,1423.9 1454.0,1426.8 1454.7,1429.7 1455.3,1432.6 1455.6,1435.6 1455.6,1438.5 1455.2,1441.3 1454.5,1443.8 1453.3,1446.2 1451.7,1448.2 1449.7,1449.8 1447.4,1451.1 1444.8,1452.0 1442.0,1452.5 1439.1,1452.7 1436.1,1452.6 1433.1,1452.3 1430.1,1451.7 1427.2,1451.0 1424.4,1450.2 1421.7,1449.3 1419.1,1448.3 1416.7,1447.3 1414.4,1446.3 1412.2,1445.3 1410.1,1444.3 1408.2,1443.3 1406.3,1442.3 1404.6,1441.3 1403.0,1440.3 1401.4,1439.4 1399.9,1438.5 1398.5,1437.6 1397.2,1436.7 1395.9,1435.9 1394.7,1435.0 1393.5,1434.2 1392.3,1433.4 1391.2,1432.6 1390.2,1431.9 1389.2,1431.1 1388.2,1430.4 1387.2,1429.7 1386.3,1428.9 1385.4,1428.2 1384.5,1427.5 1383.6,1426.8 1382.8,1426.1 1381.9,1425.4 1381.1,1424.8 1380.3,1424.1 1379.5,1423.4 1378.7,1422.7 1377.9,1422.0 1377.1,1421.3 1376.3,1420.6 1375.6,1419.9 1374.8,1419.2 1374.0,1418.5 1373.2,1417.8 1372.4,1417.0 1371.6,1416.3 1370.8,1415.5 1370.0,1414.7 1369.2,1413.9 1368.4,1413.1 1367.6,1412.3 1366.7,1411.4 1365.8,1410.5 1364.9,1409.5 1364.0,1408.6 1363.1,1407.6 1362.2,1406.5 1361.2,1405.4 1360.2,1404.3 1359.1,1403.1 1358.1,1401.8 1357.0,1400.5 1355.8,1399.1 1354.7,1397.6 1353.5,1396.0 1352.2,1394.3 1350.9,1392.6 1349.6,1390.7 1348.3,1388.7 1346.9,1386.5 1345.5,1384.2 1344.1,1381.8 1342.7,1379.2 1341.3,1376.5 1340.0,1373.6 1338.8,1370.6 1337.7,1367.5 1336.9,1364.2 1336.2,1361.0 1335.9,1357.8 1336.0,1354.7 1336.5,1351.7 1337.5,1349.0 1339.0,1346.7 1340.9,1344.7 1343.2,1343.2 1345.9,1342.1 1348.8,1341.4 1351.9,1341.1 1355.1,1341.2 1358.4,1341.6 1361.6,1342.2 1364.8,1343.0 1367.8,1343.9 1370.7,1344.9 1373.5,1346.0 1376.2,1347.1 1378.7,1348.3 1381.0,1349.4 1383.3,1350.6 1385.4,1351.7 1387.3,1352.8 1389.2,1353.9 1391.0,1355.0 1392.6,1356.1 1394.2,1357.1 1395.7,1358.1 1397.2,1359.1 1398.5,1360.0 1399.8,1360.9 1401.1,1361.8 1402.3,1362.7 1403.4,1363.6 1404.5,1364.4 1405.6,1365.2 1406.6,1366.1 1407.6,1366.9 1408.6,1367.6 1409.6,1368.4 1410.5,1369.2 1411.4,1369.9 1412.3,1370.7 1413.1,1371.4 1414.0,1372.2 1414.8,1372.9 1415.6,1373.6 1416.5,1374.4 1417.3,1375.1 1418.1,1375.9 1418.9,1376.6 1419.6,1377.4 1420.4,1378.1 1421.2,1378.9 1422.0,1379.7 1422.8,1380.4 1423.6,1381.2 1424.4,1382.1 1425.2,1382.9 1426.0,1383.7 1426.8,1384.6 1427.7,1385.5 1428.5,1386.4 1429.4,1387.3 1430.2,1388.3 1431.1,1389.3 1432.0,1390.4 1433.0,1391.5 1433.9,1392.6 1434.9,1393.8 1435.9,1395.0 1436.9,1396.3 1437.9,1397.6Z"/>
<path fill="#c90048" d="M1437.7,1399.1 1438.7,1400.5 1439.8,1402.1 1440.9,1403.7 1442.1,1405.4 1443.2,1407.2 1444.4,1409.1 1445.6,1411.1 1446.8,1413.3 1447.9,1415.6 1449.1,1418.0 1450.2,1420.5 1451.2,1423.1 1452.1,1425.8 1452.8,1428.7 1453.4,1431.5 1453.7,1434.4 1453.7,1437.2 1453.4,1439.9 1452.6,1442.4 1451.5,1444.7 1450.1,1446.7 1448.2,1448.3 1446.0,1449.6 1443.5,1450.5 1440.8,1451.1 1438.0,1451.3 1435.1,1451.3 1432.2,1451.0 1429.3,1450.5 1426.5,1449.9 1423.8,1449.1 1421.1,1448.2 1418.6,1447.3 1416.3,1446.4 1414.0,1445.4 1411.9,1444.4 1409.9,1443.4 1408.0,1442.4 1406.2,1441.4 1404.5,1440.5 1402.9,1439.5 1401.3,1438.6 1399.9,1437.7 1398.5,1436.8 1397.2,1436.0 1395.9,1435.2 1394.7,1434.3 1393.5,1433.5 1392.4,1432.8 1391.4,1432.0 1390.3,1431.2 1389.3,1430.5 1388.4,1429.8 1387.4,1429.0 1386.5,1428.3 1385.6,1427.6 1384.8,1426.9 1383.9,1426.3 1383.1,1425.6 1382.3,1424.9 1381.4,1424.2 1380.7,1423.6 1379.9,1422.9 1379.1,1422.2 1378.3,1421.5 1377.6,1420.9 1376.8,1420.2 1376.0,1419.5 1375.3,1418.8 1374.5,1418.1 1373.7,1417.4 1373.0,1416.6 1372.2,1415.9 1371.4,1415.1 1370.7,1414.4 1369.9,1413.6 1369.1,1412.8 1368.2,1411.9 1367.4,1411.1 1366.6,1410.2 1365.7,1409.3 1364.8,1408.3 1363.9,1407.4 1363.0,1406.3 1362.1,1405.3 1361.1,1404.1 1360.1,1403.0 1359.1,1401.7 1358.0,1400.4 1356.9,1399.1 1355.8,1397.6 1354.6,1396.1 1353.4,1394.5 1352.2,1392.7 1350.9,1390.9 1349.6,1389.0 1348.3,1386.9 1346.9,1384.7 1345.6,1382.3 1344.2,1379.8 1342.9,1377.1 1341.7,1374.4 1340.5,1371.4 1339.5,1368.4 1338.6,1365.3 1338.0,1362.1 1337.8,1359.0 1337.8,1356.0 1338.3,1353.1 1339.2,1350.5 1340.6,1348.2 1342.5,1346.2 1344.7,1344.7 1347.2,1343.6 1350.1,1342.9 1353.1,1342.6 1356.2,1342.7 1359.3,1343.0 1362.5,1343.6 1365.5,1344.3 1368.5,1345.2 1371.4,1346.2 1374.1,1347.2 1376.7,1348.3 1379.1,1349.4 1381.4,1350.6 1383.6,1351.7 1385.6,1352.8 1387.6,1353.9 1389.4,1355.0 1391.1,1356.1 1392.8,1357.1 1394.3,1358.1 1395.8,1359.1 1397.2,1360.0 1398.5,1361.0 1399.8,1361.9 1401.0,1362.7 1402.1,1363.6 1403.3,1364.5 1404.3,1365.3 1405.4,1366.1 1406.4,1366.9 1407.4,1367.7 1408.3,1368.4 1409.2,1369.2 1410.1,1370.0 1411.0,1370.7 1411.9,1371.4 1412.7,1372.2 1413.5,1372.9 1414.3,1373.6 1415.1,1374.3 1415.9,1375.1 1416.7,1375.8 1417.5,1376.5 1418.3,1377.2 1419.0,1378.0 1419.8,1378.7 1420.6,1379.4 1421.3,1380.2 1422.1,1381.0 1422.8,1381.7 1423.6,1382.5 1424.4,1383.3 1425.2,1384.2 1426.0,1385.0 1426.8,1385.9 1427.6,1386.8 1428.4,1387.7 1429.3,1388.6 1430.1,1389.6 1431.0,1390.6 1431.9,1391.7 1432.8,1392.8 1433.7,1393.9 1434.7,1395.1 1435.7,1396.4 1436.7,1397.7Z"/>
<path fill="#c30047" d="M1436.4,1399.1 1437.4,1400.5 1438.4,1402.0 1439.5,1403.5 1440.6,1405.2 1441.7,1406.9 1442.8,1408.8 1443.9,1410.7 1445.1,1412.8 1446.2,1415.0 1447.3,1417.3 1448.3,1419.7 1449.3,1422.3 1450.2,1424.9 1450.9,1427.6 1451.4,1430.4 1451.7,1433.2 1451.8,1435.9 1451.5,1438.5 1450.8,1441.0 1449.8,1443.2 1448.4,1445.2 1446.6,1446.8 1444.5,1448.1 1442.2,1449.1 1439.6,1449.7 1436.9,1450.0 1434.1,1450.0 1431.3,1449.7 1428.5,1449.3 1425.8,1448.7 1423.2,1448.0 1420.6,1447.2 1418.2,1446.3 1415.9,1445.4 1413.7,1444.4 1411.6,1443.5 1409.6,1442.5 1407.8,1441.5 1406.0,1440.6 1404.3,1439.7 1402.7,1438.7 1401.2,1437.8 1399.8,1437.0 1398.5,1436.1 1397.2,1435.3 1395.9,1434.4 1394.7,1433.6 1393.6,1432.8 1392.5,1432.1 1391.5,1431.3 1390.5,1430.6 1389.5,1429.9 1388.5,1429.1 1387.6,1428.4 1386.7,1427.7 1385.9,1427.0 1385.0,1426.4 1384.2,1425.7 1383.4,1425.0 1382.6,1424.4 1381.8,1423.7 1381.0,1423.0 1380.2,1422.4 1379.5,1421.7 1378.7,1421.0 1378.0,1420.4 1377.2,1419.7 1376.5,1419.0 1375.8,1418.3 1375.0,1417.7 1374.3,1417.0 1373.5,1416.2 1372.8,1415.5 1372.0,1414.8 1371.3,1414.0 1370.5,1413.2 1369.7,1412.5 1368.9,1411.6 1368.1,1410.8 1367.3,1409.9 1366.5,1409.0 1365.6,1408.1 1364.8,1407.2 1363.9,1406.1 1362.9,1405.1 1362.0,1404.0 1361.0,1402.9 1360.0,1401.7 1359.0,1400.4 1358.0,1399.1 1356.9,1397.7 1355.8,1396.2 1354.6,1394.6 1353.4,1392.9 1352.2,1391.1 1350.9,1389.2 1349.7,1387.2 1348.4,1385.1 1347.1,1382.8 1345.8,1380.4 1344.5,1377.8 1343.3,1375.1 1342.2,1372.3 1341.2,1369.3 1340.4,1366.3 1339.8,1363.2 1339.6,1360.2 1339.6,1357.3 1340.1,1354.5 1341.0,1351.9 1342.3,1349.7 1344.0,1347.8 1346.2,1346.3 1348.6,1345.2 1351.3,1344.5 1354.2,1344.1 1357.2,1344.1 1360.3,1344.4 1363.3,1344.9 1366.3,1345.6 1369.2,1346.5 1372.0,1347.4 1374.6,1348.5 1377.2,1349.5 1379.5,1350.6 1381.8,1351.7 1383.9,1352.8 1385.9,1353.9 1387.8,1355.0 1389.6,1356.1 1391.3,1357.1 1392.9,1358.1 1394.4,1359.1 1395.8,1360.1 1397.2,1361.0 1398.5,1361.9 1399.7,1362.8 1400.9,1363.7 1402.0,1364.5 1403.1,1365.3 1404.2,1366.2 1405.2,1366.9 1406.2,1367.7 1407.1,1368.5 1408.0,1369.3 1408.9,1370.0 1409.8,1370.7 1410.6,1371.5 1411.5,1372.2 1412.3,1372.9 1413.1,1373.6 1413.9,1374.3 1414.6,1375.0 1415.4,1375.7 1416.2,1376.4 1416.9,1377.1 1417.7,1377.8 1418.4,1378.6 1419.1,1379.3 1419.9,1380.0 1420.6,1380.7 1421.4,1381.5 1422.1,1382.3 1422.8,1383.0 1423.6,1383.8 1424.4,1384.6 1425.1,1385.4 1425.9,1386.3 1426.7,1387.1 1427.5,1388.0 1428.3,1389.0 1429.1,1389.9 1429.9,1390.9 1430.8,1391.9 1431.7,1393.0 1432.6,1394.1 1433.5,1395.3 1434.4,1396.5 1435.4,1397.7Z"/>
<path fill="#be0045" d="M1435.1,1399.1 1436.1,1400.4 1437.0,1401.9 1438.1,1403.4 1439.1,1405.0 1440.2,1406.7 1441.2,1408.4 1442.3,1410.3 1443.4,1412.3 1444.5,1414.4 1445.5,1416.7 1446.5,1419.0 1447.5,1421.5 1448.3,1424.0 1449.0,1426.6 1449.5,1429.3 1449.8,1432.0 1449.9,1434.6 1449.6,1437.2 1449.0,1439.6 1448.1,1441.8 1446.7,1443.7 1445.1,1445.3 1443.1,1446.6 1440.9,1447.6 1438.4,1448.2 1435.8,1448.6 1433.2,1448.6 1430.5,1448.5 1427.8,1448.1 1425.1,1447.5 1422.6,1446.9 1420.1,1446.1 1417.7,1445.3 1415.5,1444.4 1413.3,1443.5 1411.3,1442.5 1409.4,1441.6 1407.5,1440.7 1405.8,1439.8 1404.2,1438.8 1402.6,1437.9 1401.2,1437.1 1399.8,1436.2 1398.4,1435.4 1397.2,1434.5 1396.0,1433.7 1394.8,1432.9 1393.7,1432.2 1392.6,1431.4 1391.6,1430.7 1390.6,1429.9 1389.6,1429.2 1388.7,1428.5 1387.8,1427.8 1387.0,1427.1 1386.1,1426.5 1385.3,1425.8 1384.5,1425.1 1383.7,1424.5 1382.9,1423.8 1382.1,1423.2 1381.4,1422.5 1380.6,1421.9 1379.9,1421.2 1379.1,1420.6 1378.4,1419.9 1377.7,1419.2 1377.0,1418.6 1376.2,1417.9 1375.5,1417.2 1374.8,1416.5 1374.1,1415.8 1373.4,1415.1 1372.6,1414.4 1371.9,1413.7 1371.1,1412.9 1370.4,1412.1 1369.6,1411.3 1368.8,1410.5 1368.0,1409.7 1367.2,1408.8 1366.4,1407.9 1365.6,1406.9 1364.7,1406.0 1363.8,1404.9 1362.9,1403.9 1362.0,1402.8 1361.0,1401.6 1360.0,1400.4 1359.0,1399.1 1358.0,1397.7 1356.9,1396.3 1355.8,1394.7 1354.6,1393.1 1353.5,1391.4 1352.3,1389.5 1351.0,1387.6 1349.8,1385.5 1348.6,1383.3 1347.3,1380.9 1346.1,1378.4 1345.0,1375.8 1343.9,1373.1 1343.0,1370.2 1342.2,1367.3 1341.6,1364.4 1341.4,1361.4 1341.4,1358.6 1341.9,1355.9 1342.7,1353.4 1343.9,1351.1 1345.6,1349.3 1347.6,1347.8 1350.0,1346.7 1352.6,1346.0 1355.4,1345.6 1358.3,1345.6 1361.3,1345.8 1364.2,1346.3 1367.1,1347.0 1369.9,1347.8 1372.6,1348.7 1375.2,1349.7 1377.6,1350.7 1380.0,1351.8 1382.2,1352.9 1384.2,1354.0 1386.2,1355.0 1388.0,1356.1 1389.8,1357.1 1391.4,1358.1 1393.0,1359.1 1394.4,1360.1 1395.8,1361.0 1397.2,1362.0 1398.4,1362.9 1399.6,1363.7 1400.8,1364.6 1401.9,1365.4 1403.0,1366.2 1404.0,1367.0 1405.0,1367.8 1405.9,1368.6 1406.8,1369.3 1407.7,1370.1 1408.6,1370.8 1409.4,1371.5 1410.3,1372.2 1411.1,1372.9 1411.9,1373.6 1412.6,1374.3 1413.4,1375.0 1414.1,1375.7 1414.9,1376.4 1415.6,1377.1 1416.3,1377.8 1417.1,1378.5 1417.8,1379.2 1418.5,1379.9 1419.2,1380.6 1419.9,1381.3 1420.6,1382.0 1421.4,1382.8 1422.1,1383.5 1422.8,1384.3 1423.5,1385.1 1424.3,1385.9 1425.0,1386.7 1425.8,1387.5 1426.5,1388.4 1427.3,1389.3 1428.1,1390.2 1428.9,1391.2 1429.7,1392.1 1430.6,1393.2 1431.4,1394.3 1432.3,1395.4 1433.2,1396.5 1434.1,1397.8Z"/>
<path fill="#b80044" d="M1433.8,1399.1 1434.7,1400.4 1435.7,1401.8 1436.6,1403.2 1437.6,1404.8 1438.6,1406.4 1439.7,1408.1 1440.7,1409.9 1441.7,1411.8 1442.7,1413.9 1443.7,1416.0 1444.7,1418.3 1445.6,1420.6 1446.4,1423.1 1447.1,1425.6 1447.6,1428.2 1447.9,1430.8 1448.0,1433.3 1447.7,1435.8 1447.2,1438.1 1446.3,1440.3 1445.1,1442.2 1443.5,1443.8 1441.7,1445.1 1439.5,1446.1 1437.2,1446.8 1434.8,1447.2 1432.2,1447.3 1429.6,1447.2 1427.0,1446.9 1424.5,1446.4 1422.0,1445.8 1419.6,1445.0 1417.3,1444.2 1415.1,1443.4 1413.0,1442.5 1411.0,1441.6 1409.1,1440.7 1407.3,1439.8 1405.6,1438.9 1404.0,1438.0 1402.5,1437.2 1401.1,1436.3 1399.7,1435.4 1398.4,1434.6 1397.2,1433.8 1396.0,1433.0 1394.8,1432.2 1393.8,1431.5 1392.7,1430.7 1391.7,1430.0 1390.7,1429.3 1389.8,1428.6 1388.9,1427.9 1388.0,1427.2 1387.2,1426.5 1386.3,1425.9 1385.5,1425.2 1384.7,1424.6 1384.0,1423.9 1383.2,1423.3 1382.4,1422.6 1381.7,1422.0 1381.0,1421.3 1380.3,1420.7 1379.5,1420.1 1378.8,1419.4 1378.1,1418.8 1377.4,1418.1 1376.7,1417.5 1376.0,1416.8 1375.3,1416.1 1374.6,1415.4 1373.9,1414.7 1373.2,1414.0 1372.5,1413.3 1371.8,1412.6 1371.0,1411.8 1370.3,1411.0 1369.5,1410.2 1368.8,1409.4 1368.0,1408.5 1367.2,1407.7 1366.4,1406.7 1365.6,1405.8 1364.7,1404.8 1363.8,1403.8 1362.9,1402.7 1362.0,1401.5 1361.1,1400.3 1360.1,1399.1 1359.1,1397.7 1358.0,1396.3 1357.0,1394.8 1355.9,1393.3 1354.7,1391.6 1353.6,1389.8 1352.4,1387.9 1351.2,1385.9 1350.1,1383.8 1348.9,1381.5 1347.7,1379.1 1346.6,1376.6 1345.6,1373.9 1344.7,1371.2 1344.0,1368.4 1343.4,1365.5 1343.2,1362.6 1343.2,1359.9 1343.6,1357.2 1344.4,1354.8 1345.6,1352.6 1347.2,1350.8 1349.1,1349.3 1351.4,1348.2 1353.9,1347.5 1356.6,1347.1 1359.4,1347.0 1362.2,1347.3 1365.1,1347.7 1367.9,1348.3 1370.6,1349.1 1373.2,1350.0 1375.7,1350.9 1378.1,1351.9 1380.4,1353.0 1382.5,1354.0 1384.6,1355.1 1386.5,1356.1 1388.3,1357.2 1390.0,1358.2 1391.6,1359.2 1393.1,1360.2 1394.5,1361.1 1395.9,1362.0 1397.2,1362.9 1398.4,1363.8 1399.6,1364.7 1400.7,1365.5 1401.8,1366.3 1402.8,1367.1 1403.8,1367.9 1404.7,1368.7 1405.7,1369.4 1406.6,1370.1 1407.4,1370.9 1408.3,1371.6 1409.1,1372.3 1409.9,1373.0 1410.7,1373.7 1411.4,1374.4 1412.2,1375.0 1412.9,1375.7 1413.7,1376.4 1414.4,1377.1 1415.1,1377.7 1415.8,1378.4 1416.5,1379.1 1417.2,1379.8 1417.9,1380.4 1418.5,1381.1 1419.2,1381.8 1419.9,1382.5 1420.6,1383.3 1421.3,1384.0 1422.0,1384.7 1422.7,1385.5 1423.4,1386.3 1424.1,1387.1 1424.8,1387.9 1425.6,1388.7 1426.3,1389.6 1427.1,1390.5 1427.9,1391.4 1428.7,1392.4 1429.5,1393.4 1430.3,1394.4 1431.1,1395.5 1432.0,1396.6 1432.9,1397.8Z"/>
<path fill="#b30042" d="M1432.5,1399.1 1433.4,1400.3 1434.3,1401.7 1435.2,1403.1 1436.1,1404.5 1437.1,1406.1 1438.1,1407.8 1439.1,1409.5 1440.0,1411.4 1441.0,1413.3 1442.0,1415.4 1442.9,1417.5 1443.7,1419.8 1444.5,1422.2 1445.2,1424.6 1445.7,1427.1 1446.0,1429.6 1446.1,1432.0 1445.9,1434.4 1445.4,1436.7 1444.6,1438.8 1443.4,1440.7 1442.0,1442.3 1440.2,1443.6 1438.2,1444.7 1436.0,1445.4 1433.7,1445.8 1431.2,1446.0 1428.8,1445.9 1426.3,1445.6 1423.8,1445.2 1421.4,1444.6 1419.1,1444.0 1416.8,1443.2 1414.7,1442.4 1412.6,1441.6 1410.7,1440.7 1408.9,1439.8 1407.1,1439.0 1405.5,1438.1 1403.9,1437.2 1402.4,1436.4 1401.0,1435.5 1399.7,1434.7 1398.4,1433.9 1397.2,1433.1 1396.0,1432.3 1394.9,1431.5 1393.8,1430.8 1392.8,1430.1 1391.8,1429.3 1390.9,1428.6 1390.0,1427.9 1389.1,1427.3 1388.2,1426.6 1387.4,1425.9 1386.6,1425.3 1385.8,1424.6 1385.0,1424.0 1384.3,1423.4 1383.5,1422.7 1382.8,1422.1 1382.1,1421.5 1381.4,1420.8 1380.7,1420.2 1380.0,1419.6 1379.3,1418.9 1378.6,1418.3 1377.9,1417.7 1377.2,1417.0 1376.5,1416.4 1375.9,1415.7 1375.2,1415.0 1374.5,1414.4 1373.8,1413.7 1373.1,1413.0 1372.4,1412.2 1371.7,1411.5 1371.0,1410.7 1370.3,1409.9 1369.5,1409.1 1368.8,1408.3 1368.0,1407.4 1367.2,1406.5 1366.4,1405.6 1365.6,1404.6 1364.7,1403.6 1363.9,1402.6 1363.0,1401.5 1362.1,1400.3 1361.1,1399.1 1360.2,1397.8 1359.2,1396.4 1358.2,1395.0 1357.1,1393.4 1356.0,1391.8 1354.9,1390.1 1353.8,1388.3 1352.7,1386.3 1351.5,1384.2 1350.4,1382.1 1349.3,1379.7 1348.3,1377.3 1347.3,1374.7 1346.4,1372.1 1345.7,1369.4 1345.2,1366.6 1345.0,1363.9 1345.0,1361.2 1345.4,1358.6 1346.1,1356.2 1347.3,1354.1 1348.8,1352.3 1350.6,1350.9 1352.8,1349.7 1355.2,1349.0 1357.7,1348.6 1360.4,1348.5 1363.2,1348.7 1365.9,1349.1 1368.6,1349.7 1371.3,1350.4 1373.8,1351.2 1376.3,1352.2 1378.6,1353.1 1380.8,1354.2 1382.9,1355.2 1384.9,1356.2 1386.7,1357.2 1388.5,1358.3 1390.1,1359.2 1391.7,1360.2 1393.2,1361.2 1394.6,1362.1 1395.9,1363.0 1397.2,1363.9 1398.4,1364.8 1399.5,1365.6 1400.6,1366.4 1401.6,1367.2 1402.6,1368.0 1403.6,1368.8 1404.5,1369.5 1405.4,1370.2 1406.3,1371.0 1407.1,1371.7 1408.0,1372.4 1408.7,1373.1 1409.5,1373.7 1410.3,1374.4 1411.0,1375.1 1411.7,1375.7 1412.5,1376.4 1413.2,1377.1 1413.8,1377.7 1414.5,1378.4 1415.2,1379.0 1415.9,1379.7 1416.5,1380.4 1417.2,1381.0 1417.9,1381.7 1418.5,1382.4 1419.2,1383.1 1419.9,1383.8 1420.5,1384.5 1421.2,1385.2 1421.9,1385.9 1422.5,1386.7 1423.2,1387.5 1423.9,1388.3 1424.6,1389.1 1425.4,1389.9 1426.1,1390.8 1426.8,1391.7 1427.6,1392.6 1428.3,1393.6 1429.1,1394.6 1429.9,1395.6 1430.8,1396.7 1431.6,1397.9Z"/>
<path fill="#ac003f" d="M1431.2,1399.1 1432.0,1400.3 1432.9,1401.6 1433.8,1402.9 1434.7,1404.3 1435.6,1405.8 1436.5,1407.4 1437.4,1409.1 1438.4,1410.9 1439.3,1412.8 1440.2,1414.7 1441.1,1416.8 1441.9,1419.0 1442.6,1421.2 1443.3,1423.6 1443.7,1426.0 1444.1,1428.4 1444.1,1430.8 1444.0,1433.1 1443.5,1435.3 1442.8,1437.4 1441.8,1439.2 1440.4,1440.8 1438.8,1442.2 1436.9,1443.2 1434.8,1444.0 1432.6,1444.4 1430.3,1444.6 1427.9,1444.6 1425.5,1444.4 1423.1,1444.0 1420.8,1443.5 1418.5,1442.9 1416.4,1442.2 1414.3,1441.4 1412.3,1440.6 1410.4,1439.8 1408.6,1439.0 1406.9,1438.1 1405.3,1437.2 1403.7,1436.4 1402.3,1435.6 1400.9,1434.7 1399.6,1433.9 1398.4,1433.1 1397.2,1432.4 1396.0,1431.6 1394.9,1430.8 1393.9,1430.1 1392.9,1429.4 1391.9,1428.7 1391.0,1428.0 1390.1,1427.3 1389.3,1426.6 1388.4,1426.0 1387.6,1425.3 1386.8,1424.7 1386.0,1424.1 1385.3,1423.4 1384.6,1422.8 1383.8,1422.2 1383.1,1421.6 1382.4,1420.9 1381.7,1420.3 1381.0,1419.7 1380.4,1419.1 1379.7,1418.5 1379.0,1417.8 1378.4,1417.2 1377.7,1416.6 1377.1,1415.9 1376.4,1415.3 1375.7,1414.6 1375.1,1414.0 1374.4,1413.3 1373.7,1412.6 1373.1,1411.9 1372.4,1411.2 1371.7,1410.4 1371.0,1409.7 1370.3,1408.9 1369.5,1408.0 1368.8,1407.2 1368.0,1406.3 1367.3,1405.4 1366.5,1404.5 1365.7,1403.5 1364.8,1402.5 1364.0,1401.4 1363.1,1400.3 1362.2,1399.1 1361.3,1397.8 1360.3,1396.5 1359.3,1395.1 1358.3,1393.6 1357.3,1392.0 1356.3,1390.4 1355.2,1388.6 1354.1,1386.7 1353.0,1384.7 1352.0,1382.6 1350.9,1380.4 1349.9,1378.0 1349.0,1375.6 1348.2,1373.0 1347.5,1370.4 1347.0,1367.7 1346.8,1365.1 1346.8,1362.5 1347.2,1360.0 1347.9,1357.7 1348.9,1355.6 1350.3,1353.8 1352.1,1352.4 1354.1,1351.3 1356.4,1350.5 1358.9,1350.1 1361.5,1349.9 1364.1,1350.1 1366.8,1350.5 1369.4,1351.0 1372.0,1351.7 1374.5,1352.5 1376.8,1353.4 1379.1,1354.4 1381.2,1355.3 1383.3,1356.3 1385.2,1357.3 1387.0,1358.3 1388.7,1359.3 1390.3,1360.3 1391.9,1361.3 1393.3,1362.2 1394.7,1363.1 1395.9,1364.0 1397.2,1364.9 1398.3,1365.7 1399.4,1366.5 1400.5,1367.3 1401.5,1368.1 1402.5,1368.9 1403.4,1369.6 1404.3,1370.4 1405.2,1371.1 1406.0,1371.8 1406.8,1372.5 1407.6,1373.2 1408.4,1373.8 1409.1,1374.5 1409.9,1375.2 1410.6,1375.8 1411.3,1376.5 1412.0,1377.1 1412.7,1377.7 1413.3,1378.4 1414.0,1379.0 1414.6,1379.7 1415.3,1380.3 1415.9,1381.0 1416.6,1381.6 1417.2,1382.3 1417.8,1382.9 1418.5,1383.6 1419.1,1384.3 1419.7,1385.0 1420.4,1385.7 1421.0,1386.4 1421.7,1387.1 1422.3,1387.9 1423.0,1388.6 1423.7,1389.4 1424.4,1390.2 1425.1,1391.1 1425.8,1391.9 1426.5,1392.8 1427.2,1393.8 1428.0,1394.7 1428.8,1395.7 1429.5,1396.8 1430.3,1397.9Z"/>
<path fill="#a2003a" d="M1429.9,1399.1 1430.7,1400.2 1431.5,1401.5 1432.3,1402.8 1433.2,1404.1 1434.0,1405.6 1434.9,1407.1 1435.8,1408.7 1436.7,1410.4 1437.6,1412.2 1438.4,1414.1 1439.3,1416.1 1440.0,1418.2 1440.7,1420.3 1441.3,1422.6 1441.8,1424.8 1442.1,1427.2 1442.2,1429.5 1442.1,1431.7 1441.7,1433.9 1441.1,1435.9 1440.1,1437.7 1438.8,1439.3 1437.3,1440.7 1435.6,1441.7 1433.6,1442.5 1431.5,1443.0 1429.3,1443.3 1427.0,1443.4 1424.7,1443.2 1422.5,1442.9 1420.2,1442.4 1418.0,1441.8 1415.9,1441.2 1413.9,1440.4 1411.9,1439.7 1410.1,1438.9 1408.3,1438.1 1406.7,1437.2 1405.1,1436.4 1403.6,1435.6 1402.2,1434.8 1400.8,1434.0 1399.6,1433.2 1398.3,1432.4 1397.2,1431.6 1396.1,1430.9 1395.0,1430.1 1394.0,1429.4 1393.0,1428.7 1392.1,1428.0 1391.2,1427.3 1390.3,1426.7 1389.4,1426.0 1388.6,1425.4 1387.8,1424.7 1387.1,1424.1 1386.3,1423.5 1385.6,1422.9 1384.8,1422.2 1384.1,1421.6 1383.5,1421.0 1382.8,1420.4 1382.1,1419.8 1381.4,1419.2 1380.8,1418.6 1380.1,1418.0 1379.5,1417.4 1378.8,1416.8 1378.2,1416.1 1377.6,1415.5 1376.9,1414.9 1376.3,1414.2 1375.6,1413.6 1375.0,1412.9 1374.4,1412.2 1373.7,1411.5 1373.0,1410.8 1372.4,1410.1 1371.7,1409.4 1371.0,1408.6 1370.3,1407.8 1369.6,1407.0 1368.9,1406.1 1368.1,1405.2 1367.4,1404.3 1366.6,1403.4 1365.8,1402.4 1365.0,1401.3 1364.1,1400.2 1363.3,1399.1 1362.4,1397.9 1361.5,1396.6 1360.5,1395.2 1359.6,1393.8 1358.6,1392.3 1357.6,1390.7 1356.6,1389.0 1355.6,1387.1 1354.5,1385.2 1353.5,1383.2 1352.5,1381.0 1351.6,1378.8 1350.7,1376.4 1349.9,1374.0 1349.3,1371.4 1348.8,1368.9 1348.6,1366.3 1348.6,1363.8 1348.9,1361.4 1349.6,1359.1 1350.6,1357.1 1351.9,1355.4 1353.6,1353.9 1355.5,1352.8 1357.7,1352.0 1360.1,1351.6 1362.5,1351.4 1365.1,1351.5 1367.7,1351.8 1370.2,1352.3 1372.7,1353.0 1375.1,1353.8 1377.4,1354.6 1379.6,1355.6 1381.7,1356.5 1383.7,1357.5 1385.5,1358.5 1387.3,1359.4 1389.0,1360.4 1390.5,1361.4 1392.0,1362.3 1393.4,1363.2 1394.7,1364.1 1396.0,1365.0 1397.2,1365.8 1398.3,1366.7 1399.4,1367.5 1400.4,1368.3 1401.4,1369.0 1402.3,1369.8 1403.2,1370.5 1404.1,1371.2 1405.0,1371.9 1405.8,1372.6 1406.6,1373.3 1407.3,1374.0 1408.1,1374.6 1408.8,1375.3 1409.5,1375.9 1410.2,1376.5 1410.8,1377.2 1411.5,1377.8 1412.2,1378.4 1412.8,1379.0 1413.4,1379.7 1414.1,1380.3 1414.7,1380.9 1415.3,1381.5 1415.9,1382.2 1416.5,1382.8 1417.1,1383.5 1417.8,1384.1 1418.4,1384.8 1419.0,1385.4 1419.6,1386.1 1420.2,1386.8 1420.8,1387.5 1421.5,1388.3 1422.1,1389.0 1422.7,1389.8 1423.4,1390.5 1424.1,1391.4 1424.7,1392.2 1425.4,1393.1 1426.1,1394.0 1426.8,1394.9 1427.6,1395.9 1428.3,1396.9 1429.1,1398.0Z"/>
<path fill="#990034" d="M1428.6,1399.1 1429.3,1400.2 1430.1,1401.4 1430.9,1402.6 1431.7,1403.9 1432.5,1405.3 1433.3,1406.8 1434.2,1408.3 1435.0,1409.9 1435.8,1411.6 1436.7,1413.4 1437.4,1415.3 1438.2,1417.3 1438.9,1419.4 1439.4,1421.5 1439.9,1423.7 1440.2,1426.0 1440.3,1428.2 1440.2,1430.4 1439.9,1432.5 1439.3,1434.4 1438.4,1436.2 1437.3,1437.8 1435.9,1439.2 1434.3,1440.3 1432.4,1441.1 1430.4,1441.7 1428.3,1442.0 1426.2,1442.1 1424.0,1442.0 1421.8,1441.7 1419.6,1441.3 1417.5,1440.8 1415.5,1440.1 1413.5,1439.5 1411.6,1438.7 1409.8,1438.0 1408.1,1437.2 1406.5,1436.4 1404.9,1435.6 1403.5,1434.8 1402.1,1434.0 1400.8,1433.2 1399.5,1432.4 1398.3,1431.6 1397.2,1430.9 1396.1,1430.2 1395.0,1429.4 1394.0,1428.7 1393.1,1428.0 1392.2,1427.4 1391.3,1426.7 1390.4,1426.0 1389.6,1425.4 1388.8,1424.8 1388.0,1424.1 1387.3,1423.5 1386.6,1422.9 1385.8,1422.3 1385.1,1421.7 1384.5,1421.1 1383.8,1420.5 1383.1,1419.9 1382.5,1419.3 1381.8,1418.7 1381.2,1418.1 1380.6,1417.5 1379.9,1416.9 1379.3,1416.3 1378.7,1415.7 1378.1,1415.1 1377.5,1414.5 1376.8,1413.8 1376.2,1413.2 1375.6,1412.5 1375.0,1411.9 1374.3,1411.2 1373.7,1410.5 1373.1,1409.8 1372.4,1409.1 1371.7,1408.3 1371.1,1407.6 1370.4,1406.8 1369.7,1405.9 1369.0,1405.1 1368.2,1404.2 1367.5,1403.2 1366.7,1402.3 1365.9,1401.3 1365.1,1400.2 1364.3,1399.1 1363.5,1397.9 1362.6,1396.7 1361.7,1395.3 1360.8,1394.0 1359.9,1392.5 1358.9,1390.9 1358.0,1389.3 1357.0,1387.6 1356.0,1385.7 1355.1,1383.7 1354.1,1381.7 1353.2,1379.5 1352.4,1377.2 1351.7,1374.9 1351.1,1372.5 1350.6,1370.0 1350.4,1367.5 1350.4,1365.1 1350.7,1362.8 1351.3,1360.6 1352.2,1358.6 1353.5,1356.9 1355.0,1355.5 1356.9,1354.3 1359.0,1353.5 1361.2,1353.1 1363.6,1352.9 1366.0,1352.9 1368.5,1353.2 1371.0,1353.7 1373.4,1354.3 1375.7,1355.1 1377.9,1355.9 1380.1,1356.8 1382.1,1357.7 1384.0,1358.6 1385.8,1359.6 1387.6,1360.6 1389.2,1361.5 1390.7,1362.4 1392.1,1363.3 1393.5,1364.2 1394.8,1365.1 1396.0,1366.0 1397.2,1366.8 1398.3,1367.6 1399.3,1368.4 1400.3,1369.2 1401.3,1369.9 1402.2,1370.7 1403.1,1371.4 1403.9,1372.1 1404.7,1372.8 1405.5,1373.4 1406.3,1374.1 1407.0,1374.7 1407.7,1375.4 1408.4,1376.0 1409.1,1376.7 1409.8,1377.3 1410.4,1377.9 1411.0,1378.5 1411.7,1379.1 1412.3,1379.7 1412.9,1380.3 1413.5,1380.9 1414.1,1381.5 1414.7,1382.1 1415.3,1382.8 1415.9,1383.4 1416.4,1384.0 1417.0,1384.6 1417.6,1385.3 1418.2,1385.9 1418.8,1386.6 1419.4,1387.3 1420.0,1387.9 1420.6,1388.6 1421.2,1389.4 1421.8,1390.1 1422.4,1390.9 1423.1,1391.6 1423.7,1392.5 1424.4,1393.3 1425.0,1394.2 1425.7,1395.1 1426.4,1396.0 1427.1,1397.0 1427.8,1398.0Z"/>
<path fill="#8f002f" d="M1427.3,1399.1 1428.0,1400.1 1428.7,1401.3 1429.5,1402.5 1430.2,1403.7 1431.0,1405.0 1431.8,1406.4 1432.5,1407.9 1433.3,1409.4 1434.1,1411.1 1434.9,1412.8 1435.6,1414.6 1436.3,1416.5 1437.0,1418.5 1437.5,1420.5 1438.0,1422.6 1438.3,1424.8 1438.4,1426.9 1438.4,1429.0 1438.1,1431.0 1437.6,1433.0 1436.8,1434.7 1435.7,1436.3 1434.4,1437.7 1432.9,1438.8 1431.2,1439.7 1429.4,1440.3 1427.4,1440.7 1425.3,1440.8 1423.2,1440.8 1421.1,1440.5 1419.0,1440.2 1417.0,1439.7 1415.0,1439.1 1413.1,1438.5 1411.3,1437.8 1409.5,1437.0 1407.8,1436.3 1406.3,1435.5 1404.7,1434.7 1403.3,1434.0 1402.0,1433.2 1400.7,1432.4 1399.4,1431.6 1398.3,1430.9 1397.2,1430.2 1396.1,1429.5 1395.1,1428.7 1394.1,1428.1 1393.2,1427.4 1392.3,1426.7 1391.4,1426.0 1390.6,1425.4 1389.8,1424.8 1389.0,1424.1 1388.3,1423.5 1387.5,1422.9 1386.8,1422.3 1386.1,1421.7 1385.4,1421.1 1384.8,1420.5 1384.1,1419.9 1383.5,1419.4 1382.8,1418.8 1382.2,1418.2 1381.6,1417.6 1381.0,1417.0 1380.4,1416.4 1379.8,1415.9 1379.2,1415.3 1378.6,1414.7 1378.0,1414.1 1377.4,1413.4 1376.8,1412.8 1376.2,1412.2 1375.6,1411.5 1375.0,1410.9 1374.4,1410.2 1373.7,1409.5 1373.1,1408.8 1372.5,1408.1 1371.8,1407.3 1371.2,1406.5 1370.5,1405.7 1369.8,1404.9 1369.1,1404.0 1368.4,1403.1 1367.7,1402.2 1366.9,1401.2 1366.2,1400.2 1365.4,1399.1 1364.6,1397.9 1363.8,1396.7 1362.9,1395.5 1362.0,1394.1 1361.2,1392.7 1360.3,1391.2 1359.4,1389.6 1358.4,1388.0 1357.5,1386.2 1356.6,1384.3 1355.7,1382.3 1354.9,1380.2 1354.1,1378.1 1353.4,1375.8 1352.8,1373.5 1352.4,1371.1 1352.2,1368.7 1352.2,1366.4 1352.5,1364.1 1353.0,1362.0 1353.9,1360.1 1355.1,1358.4 1356.5,1357.0 1358.3,1355.9 1360.2,1355.1 1362.4,1354.5 1364.6,1354.3 1367.0,1354.3 1369.4,1354.6 1371.7,1355.0 1374.1,1355.6 1376.3,1356.3 1378.5,1357.1 1380.6,1358.0 1382.5,1358.9 1384.4,1359.8 1386.2,1360.7 1387.8,1361.7 1389.4,1362.6 1390.9,1363.5 1392.3,1364.4 1393.6,1365.3 1394.9,1366.1 1396.0,1367.0 1397.2,1367.8 1398.2,1368.6 1399.2,1369.3 1400.2,1370.1 1401.1,1370.8 1402.0,1371.5 1402.9,1372.2 1403.7,1372.9 1404.5,1373.6 1405.2,1374.3 1406.0,1374.9 1406.7,1375.5 1407.4,1376.2 1408.0,1376.8 1408.7,1377.4 1409.3,1378.0 1410.0,1378.6 1410.6,1379.2 1411.2,1379.8 1411.8,1380.4 1412.4,1381.0 1412.9,1381.6 1413.5,1382.2 1414.1,1382.7 1414.6,1383.3 1415.2,1383.9 1415.8,1384.5 1416.3,1385.2 1416.9,1385.8 1417.4,1386.4 1418.0,1387.0 1418.6,1387.7 1419.1,1388.4 1419.7,1389.0 1420.3,1389.7 1420.9,1390.4 1421.4,1391.2 1422.0,1391.9 1422.7,1392.7 1423.3,1393.5 1423.9,1394.4 1424.5,1395.2 1425.2,1396.1 1425.9,1397.1 1426.6,1398.0Z"/>
<path fill="#850029" d="M1426.0,1399.1 1426.6,1400.1 1427.3,1401.2 1428.0,1402.3 1428.7,1403.5 1429.4,1404.8 1430.2,1406.1 1430.9,1407.5 1431.7,1409.0 1432.4,1410.5 1433.1,1412.2 1433.8,1413.9 1434.5,1415.7 1435.1,1417.6 1435.6,1419.5 1436.0,1421.5 1436.4,1423.6 1436.5,1425.6 1436.5,1427.6 1436.3,1429.6 1435.8,1431.5 1435.1,1433.2 1434.2,1434.8 1433.0,1436.2 1431.6,1437.3 1430.0,1438.2 1428.3,1438.9 1426.4,1439.3 1424.5,1439.5 1422.5,1439.5 1420.4,1439.4 1418.4,1439.1 1416.5,1438.6 1414.5,1438.1 1412.7,1437.5 1410.9,1436.8 1409.2,1436.1 1407.6,1435.4 1406.0,1434.7 1404.6,1433.9 1403.2,1433.1 1401.8,1432.4 1400.6,1431.6 1399.4,1430.9 1398.3,1430.2 1397.2,1429.4 1396.1,1428.7 1395.1,1428.0 1394.2,1427.4 1393.3,1426.7 1392.4,1426.0 1391.6,1425.4 1390.8,1424.8 1390.0,1424.1 1389.2,1423.5 1388.5,1422.9 1387.8,1422.3 1387.1,1421.7 1386.4,1421.1 1385.7,1420.6 1385.1,1420.0 1384.5,1419.4 1383.8,1418.8 1383.2,1418.3 1382.6,1417.7 1382.0,1417.1 1381.4,1416.6 1380.8,1416.0 1380.2,1415.4 1379.7,1414.8 1379.1,1414.2 1378.5,1413.6 1377.9,1413.0 1377.4,1412.4 1376.8,1411.8 1376.2,1411.2 1375.6,1410.5 1375.0,1409.9 1374.4,1409.2 1373.8,1408.5 1373.2,1407.8 1372.6,1407.1 1372.0,1406.3 1371.3,1405.5 1370.7,1404.7 1370.0,1403.9 1369.3,1403.0 1368.6,1402.1 1367.9,1401.1 1367.2,1400.1 1366.4,1399.1 1365.7,1398.0 1364.9,1396.8 1364.1,1395.6 1363.3,1394.3 1362.4,1392.9 1361.6,1391.5 1360.7,1390.0 1359.9,1388.4 1359.0,1386.7 1358.2,1384.9 1357.3,1383.0 1356.5,1381.0 1355.8,1378.9 1355.2,1376.7 1354.6,1374.5 1354.2,1372.2 1354.0,1370.0 1354.0,1367.7 1354.2,1365.5 1354.7,1363.5 1355.5,1361.6 1356.6,1359.9 1358.0,1358.5 1359.6,1357.4 1361.5,1356.6 1363.5,1356.0 1365.7,1355.8 1368.0,1355.8 1370.2,1356.0 1372.5,1356.4 1374.8,1356.9 1376.9,1357.6 1379.0,1358.4 1381.1,1359.2 1383.0,1360.0 1384.8,1360.9 1386.5,1361.8 1388.1,1362.8 1389.6,1363.7 1391.1,1364.5 1392.4,1365.4 1393.7,1366.3 1394.9,1367.1 1396.1,1367.9 1397.2,1368.7 1398.2,1369.5 1399.2,1370.3 1400.1,1371.0 1401.0,1371.7 1401.9,1372.4 1402.7,1373.1 1403.5,1373.8 1404.2,1374.4 1405.0,1375.1 1405.7,1375.7 1406.4,1376.3 1407.0,1376.9 1407.7,1377.5 1408.3,1378.1 1408.9,1378.7 1409.5,1379.3 1410.1,1379.9 1410.7,1380.5 1411.2,1381.0 1411.8,1381.6 1412.4,1382.2 1412.9,1382.8 1413.5,1383.3 1414.0,1383.9 1414.5,1384.5 1415.1,1385.1 1415.6,1385.7 1416.1,1386.3 1416.7,1386.9 1417.2,1387.5 1417.7,1388.1 1418.3,1388.8 1418.8,1389.4 1419.4,1390.1 1419.9,1390.8 1420.5,1391.5 1421.0,1392.2 1421.6,1393.0 1422.2,1393.7 1422.8,1394.6 1423.4,1395.4 1424.0,1396.2 1424.7,1397.1 1425.3,1398.1Z"/>
<path fill="#7c0024" d="M1424.7,1399.1 1425.3,1400.1 1425.9,1401.1 1426.6,1402.2 1427.2,1403.3 1427.9,1404.5 1428.6,1405.8 1429.3,1407.1 1430.0,1408.5 1430.7,1410.0 1431.3,1411.5 1432.0,1413.1 1432.6,1414.9 1433.2,1416.6 1433.7,1418.5 1434.1,1420.4 1434.4,1422.4 1434.6,1424.3 1434.6,1426.3 1434.4,1428.2 1434.1,1430.0 1433.5,1431.7 1432.6,1433.3 1431.6,1434.7 1430.3,1435.9 1428.8,1436.8 1427.2,1437.5 1425.4,1438.0 1423.6,1438.3 1421.7,1438.3 1419.8,1438.2 1417.8,1437.9 1415.9,1437.6 1414.1,1437.1 1412.3,1436.5 1410.6,1435.9 1408.9,1435.2 1407.3,1434.5 1405.8,1433.8 1404.4,1433.1 1403.0,1432.3 1401.7,1431.6 1400.5,1430.9 1399.3,1430.1 1398.2,1429.4 1397.2,1428.7 1396.2,1428.0 1395.2,1427.3 1394.3,1426.7 1393.4,1426.0 1392.5,1425.4 1391.7,1424.8 1390.9,1424.1 1390.2,1423.5 1389.4,1422.9 1388.7,1422.3 1388.0,1421.7 1387.3,1421.2 1386.7,1420.6 1386.0,1420.0 1385.4,1419.4 1384.8,1418.9 1384.2,1418.3 1383.6,1417.8 1383.0,1417.2 1382.4,1416.6 1381.8,1416.1 1381.3,1415.5 1380.7,1415.0 1380.2,1414.4 1379.6,1413.8 1379.0,1413.2 1378.5,1412.6 1377.9,1412.0 1377.4,1411.4 1376.8,1410.8 1376.3,1410.2 1375.7,1409.5 1375.1,1408.9 1374.5,1408.2 1373.9,1407.5 1373.4,1406.8 1372.8,1406.1 1372.1,1405.3 1371.5,1404.5 1370.9,1403.7 1370.2,1402.9 1369.6,1402.0 1368.9,1401.0 1368.2,1400.1 1367.5,1399.1 1366.8,1398.0 1366.0,1396.9 1365.3,1395.7 1364.5,1394.5 1363.7,1393.2 1362.9,1391.8 1362.1,1390.3 1361.3,1388.8 1360.5,1387.2 1359.7,1385.4 1358.9,1383.6 1358.2,1381.7 1357.5,1379.7 1356.9,1377.7 1356.4,1375.5 1356.0,1373.4 1355.8,1371.2 1355.8,1369.0 1356.0,1366.9 1356.5,1364.9 1357.2,1363.1 1358.2,1361.4 1359.5,1360.1 1361.0,1358.9 1362.8,1358.1 1364.7,1357.5 1366.8,1357.2 1368.9,1357.2 1371.1,1357.4 1373.3,1357.7 1375.5,1358.2 1377.6,1358.9 1379.6,1359.6 1381.5,1360.4 1383.4,1361.2 1385.2,1362.1 1386.8,1363.0 1388.4,1363.9 1389.9,1364.7 1391.3,1365.6 1392.6,1366.5 1393.8,1367.3 1395.0,1368.1 1396.1,1368.9 1397.2,1369.7 1398.2,1370.5 1399.1,1371.2 1400.0,1371.9 1400.9,1372.6 1401.7,1373.3 1402.5,1374.0 1403.3,1374.6 1404.0,1375.3 1404.7,1375.9 1405.4,1376.5 1406.0,1377.1 1406.7,1377.7 1407.3,1378.3 1407.9,1378.9 1408.5,1379.5 1409.1,1380.0 1409.6,1380.6 1410.2,1381.2 1410.7,1381.7 1411.3,1382.3 1411.8,1382.8 1412.3,1383.4 1412.8,1383.9 1413.3,1384.5 1413.9,1385.1 1414.4,1385.6 1414.9,1386.2 1415.4,1386.8 1415.9,1387.4 1416.4,1388.0 1416.9,1388.6 1417.4,1389.2 1417.9,1389.8 1418.4,1390.5 1419.0,1391.1 1419.5,1391.8 1420.0,1392.5 1420.6,1393.2 1421.1,1394.0 1421.7,1394.7 1422.3,1395.5 1422.8,1396.4 1423.4,1397.2 1424.0,1398.1Z"/>
<path fill="#72001e" d="M1423.3,1399.1 1423.9,1400.0 1424.5,1401.0 1425.1,1402.0 1425.8,1403.1 1426.4,1404.2 1427.0,1405.4 1427.7,1406.7 1428.3,1408.0 1428.9,1409.4 1429.6,1410.9 1430.2,1412.4 1430.8,1414.0 1431.3,1415.7 1431.8,1417.5 1432.2,1419.3 1432.5,1421.2 1432.7,1423.0 1432.7,1424.9 1432.6,1426.8 1432.3,1428.6 1431.8,1430.3 1431.1,1431.8 1430.1,1433.2 1429.0,1434.4 1427.6,1435.4 1426.1,1436.1 1424.5,1436.7 1422.7,1437.0 1420.9,1437.1 1419.1,1437.0 1417.2,1436.8 1415.4,1436.5 1413.6,1436.1 1411.9,1435.5 1410.2,1434.9 1408.6,1434.3 1407.1,1433.6 1405.6,1432.9 1404.2,1432.2 1402.9,1431.5 1401.6,1430.8 1400.4,1430.1 1399.3,1429.4 1398.2,1428.7 1397.2,1428.0 1396.2,1427.3 1395.2,1426.6 1394.3,1426.0 1393.5,1425.4 1392.6,1424.7 1391.8,1424.1 1391.1,1423.5 1390.3,1422.9 1389.6,1422.3 1388.9,1421.7 1388.2,1421.1 1387.6,1420.6 1387.0,1420.0 1386.3,1419.5 1385.7,1418.9 1385.1,1418.3 1384.5,1417.8 1384.0,1417.2 1383.4,1416.7 1382.8,1416.2 1382.3,1415.6 1381.7,1415.1 1381.2,1414.5 1380.6,1413.9 1380.1,1413.4 1379.6,1412.8 1379.0,1412.2 1378.5,1411.7 1378.0,1411.1 1377.4,1410.5 1376.9,1409.8 1376.3,1409.2 1375.8,1408.6 1375.2,1407.9 1374.7,1407.3 1374.1,1406.6 1373.5,1405.8 1373.0,1405.1 1372.4,1404.3 1371.8,1403.5 1371.2,1402.7 1370.5,1401.9 1369.9,1401.0 1369.2,1400.0 1368.6,1399.1 1367.9,1398.0 1367.2,1397.0 1366.5,1395.8 1365.8,1394.7 1365.0,1393.4 1364.3,1392.1 1363.5,1390.7 1362.8,1389.2 1362.0,1387.6 1361.3,1386.0 1360.5,1384.3 1359.9,1382.5 1359.2,1380.6 1358.7,1378.6 1358.2,1376.6 1357.8,1374.5 1357.6,1372.4 1357.6,1370.3 1357.8,1368.3 1358.2,1366.4 1358.9,1364.6 1359.8,1363.0 1361.0,1361.6 1362.4,1360.5 1364.0,1359.6 1365.9,1359.0 1367.8,1358.7 1369.9,1358.6 1372.0,1358.7 1374.1,1359.1 1376.1,1359.5 1378.2,1360.1 1380.1,1360.8 1382.0,1361.6 1383.8,1362.4 1385.5,1363.2 1387.1,1364.1 1388.7,1365.0 1390.1,1365.8 1391.5,1366.7 1392.7,1367.5 1393.9,1368.3 1395.1,1369.1 1396.1,1369.9 1397.2,1370.7 1398.1,1371.4 1399.1,1372.1 1399.9,1372.8 1400.8,1373.5 1401.6,1374.2 1402.3,1374.8 1403.0,1375.5 1403.8,1376.1 1404.4,1376.7 1405.1,1377.3 1405.7,1377.9 1406.3,1378.5 1406.9,1379.1 1407.5,1379.6 1408.1,1380.2 1408.6,1380.7 1409.2,1381.3 1409.7,1381.8 1410.2,1382.4 1410.7,1382.9 1411.2,1383.5 1411.7,1384.0 1412.2,1384.5 1412.7,1385.1 1413.2,1385.6 1413.7,1386.2 1414.1,1386.7 1414.6,1387.3 1415.1,1387.9 1415.6,1388.4 1416.1,1389.0 1416.5,1389.6 1417.0,1390.2 1417.5,1390.8 1418.0,1391.5 1418.5,1392.1 1419.0,1392.8 1419.5,1393.5 1420.0,1394.2 1420.6,1394.9 1421.1,1395.7 1421.7,1396.5 1422.2,1397.3 1422.8,1398.2Z"/>
<path fill="#690019" d="M1422.0,1399.1 1422.6,1400.0 1423.1,1400.9 1423.7,1401.9 1424.3,1402.9 1424.9,1404.0 1425.4,1405.1 1426.0,1406.3 1426.6,1407.5 1427.2,1408.8 1427.8,1410.2 1428.4,1411.7 1428.9,1413.2 1429.4,1414.8 1429.9,1416.5 1430.3,1418.2 1430.6,1419.9 1430.8,1421.7 1430.9,1423.6 1430.8,1425.3 1430.6,1427.1 1430.1,1428.8 1429.5,1430.3 1428.7,1431.7 1427.6,1432.9 1426.4,1433.9 1425.0,1434.7 1423.5,1435.3 1421.9,1435.7 1420.2,1435.9 1418.4,1435.9 1416.7,1435.7 1414.9,1435.4 1413.2,1435.0 1411.5,1434.5 1409.9,1434.0 1408.3,1433.4 1406.8,1432.7 1405.4,1432.1 1404.0,1431.4 1402.7,1430.7 1401.5,1430.0 1400.3,1429.3 1399.2,1428.6 1398.2,1427.9 1397.2,1427.3 1396.2,1426.6 1395.3,1426.0 1394.4,1425.3 1393.6,1424.7 1392.8,1424.1 1392.0,1423.5 1391.2,1422.9 1390.5,1422.3 1389.8,1421.7 1389.1,1421.1 1388.5,1420.6 1387.8,1420.0 1387.2,1419.4 1386.6,1418.9 1386.0,1418.4 1385.5,1417.8 1384.9,1417.3 1384.3,1416.7 1383.8,1416.2 1383.2,1415.7 1382.7,1415.1 1382.2,1414.6 1381.7,1414.0 1381.1,1413.5 1380.6,1413.0 1380.1,1412.4 1379.6,1411.8 1379.1,1411.3 1378.6,1410.7 1378.0,1410.1 1377.5,1409.5 1377.0,1408.9 1376.5,1408.3 1376.0,1407.6 1375.4,1407.0 1374.9,1406.3 1374.3,1405.6 1373.8,1404.9 1373.2,1404.2 1372.6,1403.4 1372.1,1402.6 1371.5,1401.8 1370.9,1400.9 1370.3,1400.0 1369.6,1399.1 1369.0,1398.1 1368.3,1397.1 1367.7,1396.0 1367.0,1394.8 1366.3,1393.6 1365.6,1392.4 1364.9,1391.0 1364.2,1389.6 1363.5,1388.1 1362.8,1386.6 1362.1,1384.9 1361.5,1383.2 1360.9,1381.4 1360.4,1379.5 1360.0,1377.6 1359.6,1375.6 1359.4,1373.6 1359.4,1371.6 1359.5,1369.7 1359.9,1367.8 1360.5,1366.1 1361.4,1364.5 1362.5,1363.1 1363.8,1362.0 1365.3,1361.1 1367.0,1360.5 1368.9,1360.1 1370.8,1360.0 1372.8,1360.1 1374.8,1360.4 1376.8,1360.8 1378.8,1361.4 1380.7,1362.1 1382.5,1362.8 1384.3,1363.6 1385.9,1364.4 1387.5,1365.2 1388.9,1366.1 1390.3,1366.9 1391.6,1367.7 1392.9,1368.5 1394.0,1369.3 1395.1,1370.1 1396.2,1370.9 1397.2,1371.6 1398.1,1372.4 1399.0,1373.1 1399.8,1373.8 1400.6,1374.4 1401.4,1375.1 1402.1,1375.7 1402.8,1376.3 1403.5,1376.9 1404.2,1377.5 1404.8,1378.1 1405.4,1378.7 1406.0,1379.3 1406.6,1379.8 1407.1,1380.4 1407.6,1380.9 1408.2,1381.5 1408.7,1382.0 1409.2,1382.5 1409.7,1383.0 1410.2,1383.6 1410.7,1384.1 1411.1,1384.6 1411.6,1385.1 1412.1,1385.7 1412.5,1386.2 1413.0,1386.7 1413.4,1387.3 1413.9,1387.8 1414.3,1388.3 1414.8,1388.9 1415.2,1389.5 1415.7,1390.0 1416.1,1390.6 1416.6,1391.2 1417.1,1391.8 1417.5,1392.5 1418.0,1393.1 1418.5,1393.8 1419.0,1394.4 1419.5,1395.1 1420.0,1395.9 1420.5,1396.6 1421.0,1397.4 1421.5,1398.2Z"/>
<path fill="#610014" d="M1420.5,1399.1 1421.0,1399.9 1421.6,1400.8 1422.1,1401.7 1422.6,1402.6 1423.2,1403.7 1423.7,1404.7 1424.2,1405.8 1424.8,1407.0 1425.3,1408.2 1425.9,1409.5 1426.4,1410.9 1426.9,1412.3 1427.4,1413.8 1427.8,1415.4 1428.2,1417.0 1428.5,1418.6 1428.7,1420.3 1428.8,1422.0 1428.7,1423.7 1428.5,1425.4 1428.2,1427.0 1427.6,1428.5 1426.9,1429.8 1425.9,1431.0 1424.8,1432.0 1423.5,1432.8 1422.1,1433.4 1420.6,1433.8 1419.0,1434.0 1417.3,1434.0 1415.7,1433.9 1414.0,1433.6 1412.4,1433.2 1410.8,1432.8 1409.2,1432.3 1407.8,1431.7 1406.3,1431.1 1405.0,1430.5 1403.7,1429.8 1402.5,1429.1 1401.3,1428.5 1400.2,1427.8 1399.1,1427.2 1398.1,1426.5 1397.2,1425.9 1396.3,1425.3 1395.4,1424.6 1394.5,1424.0 1393.7,1423.4 1393.0,1422.8 1392.2,1422.3 1391.5,1421.7 1390.8,1421.1 1390.2,1420.6 1389.5,1420.0 1388.9,1419.5 1388.3,1419.0 1387.7,1418.4 1387.2,1417.9 1386.6,1417.4 1386.0,1416.9 1385.5,1416.4 1385.0,1415.8 1384.5,1415.3 1383.9,1414.8 1383.4,1414.3 1382.9,1413.8 1382.4,1413.3 1382.0,1412.8 1381.5,1412.2 1381.0,1411.7 1380.5,1411.2 1380.0,1410.6 1379.5,1410.1 1379.0,1409.5 1378.5,1409.0 1378.1,1408.4 1377.6,1407.8 1377.1,1407.2 1376.6,1406.6 1376.1,1405.9 1375.5,1405.3 1375.0,1404.6 1374.5,1403.9 1374.0,1403.2 1373.4,1402.4 1372.9,1401.6 1372.3,1400.8 1371.7,1400.0 1371.1,1399.1 1370.5,1398.1 1369.9,1397.2 1369.3,1396.1 1368.7,1395.1 1368.0,1393.9 1367.4,1392.7 1366.7,1391.5 1366.1,1390.2 1365.4,1388.8 1364.8,1387.3 1364.2,1385.7 1363.6,1384.1 1363.0,1382.4 1362.5,1380.7 1362.1,1378.8 1361.8,1377.0 1361.6,1375.1 1361.6,1373.2 1361.7,1371.4 1362.1,1369.6 1362.6,1368.0 1363.4,1366.5 1364.4,1365.1 1365.6,1364.0 1367.1,1363.2 1368.7,1362.6 1370.4,1362.2 1372.2,1362.1 1374.1,1362.2 1376.0,1362.4 1377.9,1362.8 1379.8,1363.4 1381.6,1364.0 1383.3,1364.7 1384.9,1365.4 1386.5,1366.2 1388.0,1367.0 1389.4,1367.8 1390.7,1368.6 1391.9,1369.4 1393.1,1370.1 1394.2,1370.9 1395.2,1371.6 1396.2,1372.4 1397.2,1373.1 1398.0,1373.8 1398.9,1374.4 1399.7,1375.1 1400.4,1375.7 1401.2,1376.4 1401.9,1377.0 1402.5,1377.6 1403.2,1378.1 1403.8,1378.7 1404.4,1379.3 1404.9,1379.8 1405.5,1380.4 1406.0,1380.9 1406.6,1381.4 1407.1,1381.9 1407.6,1382.4 1408.0,1382.9 1408.5,1383.4 1409.0,1383.9 1409.4,1384.4 1409.9,1384.9 1410.3,1385.4 1410.8,1385.9 1411.2,1386.4 1411.6,1386.9 1412.1,1387.4 1412.5,1387.9 1412.9,1388.4 1413.3,1389.0 1413.8,1389.5 1414.2,1390.0 1414.6,1390.6 1415.0,1391.1 1415.5,1391.7 1415.9,1392.2 1416.3,1392.8 1416.8,1393.4 1417.2,1394.1 1417.7,1394.7 1418.1,1395.4 1418.6,1396.1 1419.1,1396.8 1419.6,1397.5 1420.0,1398.3Z"/>
<path fill="#590010" d="M1418.9,1399.1 1419.3,1399.8 1419.8,1400.7 1420.3,1401.5 1420.8,1402.4 1421.3,1403.3 1421.8,1404.3 1422.3,1405.3 1422.8,1406.4 1423.3,1407.6 1423.8,1408.8 1424.3,1410.0 1424.8,1411.4 1425.2,1412.8 1425.6,1414.2 1426.0,1415.7 1426.2,1417.2 1426.4,1418.8 1426.5,1420.4 1426.5,1422.0 1426.3,1423.5 1426.0,1425.0 1425.4,1426.4 1424.7,1427.6 1423.9,1428.7 1422.8,1429.7 1421.6,1430.4 1420.3,1430.9 1418.9,1431.3 1417.4,1431.5 1415.9,1431.5 1414.3,1431.4 1412.8,1431.1 1411.3,1430.8 1409.8,1430.4 1408.4,1429.9 1407.0,1429.4 1405.7,1428.8 1404.4,1428.2 1403.2,1427.6 1402.1,1427.0 1401.0,1426.4 1400.0,1425.8 1399.0,1425.2 1398.1,1424.6 1397.2,1424.0 1396.3,1423.4 1395.5,1422.8 1394.7,1422.2 1394.0,1421.7 1393.3,1421.1 1392.6,1420.6 1391.9,1420.1 1391.3,1419.6 1390.7,1419.0 1390.1,1418.5 1389.5,1418.0 1388.9,1417.5 1388.4,1417.0 1387.9,1416.6 1387.3,1416.1 1386.8,1415.6 1386.3,1415.1 1385.8,1414.6 1385.4,1414.2 1384.9,1413.7 1384.4,1413.2 1384.0,1412.8 1383.5,1412.3 1383.0,1411.8 1382.6,1411.3 1382.1,1410.8 1381.7,1410.3 1381.2,1409.8 1380.8,1409.3 1380.3,1408.8 1379.9,1408.3 1379.4,1407.7 1379.0,1407.2 1378.5,1406.6 1378.0,1406.0 1377.6,1405.4 1377.1,1404.8 1376.6,1404.2 1376.1,1403.5 1375.6,1402.9 1375.1,1402.2 1374.6,1401.4 1374.1,1400.7 1373.5,1399.9 1373.0,1399.1 1372.4,1398.2 1371.9,1397.3 1371.3,1396.3 1370.7,1395.3 1370.1,1394.3 1369.5,1393.2 1368.9,1392.0 1368.3,1390.8 1367.7,1389.5 1367.1,1388.1 1366.5,1386.7 1366.0,1385.2 1365.5,1383.6 1365.0,1382.0 1364.6,1380.3 1364.3,1378.6 1364.2,1376.8 1364.1,1375.1 1364.3,1373.4 1364.6,1371.7 1365.1,1370.2 1365.8,1368.8 1366.7,1367.6 1367.9,1366.5 1369.2,1365.8 1370.7,1365.2 1372.3,1364.9 1374.0,1364.7 1375.8,1364.8 1377.5,1365.1 1379.3,1365.4 1381.0,1365.9 1382.7,1366.5 1384.3,1367.1 1385.8,1367.8 1387.2,1368.5 1388.6,1369.3 1389.9,1370.0 1391.1,1370.8 1392.3,1371.5 1393.4,1372.2 1394.4,1372.9 1395.4,1373.6 1396.3,1374.3 1397.2,1374.9 1398.0,1375.6 1398.8,1376.2 1399.5,1376.8 1400.2,1377.4 1400.9,1378.0 1401.5,1378.5 1402.1,1379.1 1402.7,1379.6 1403.3,1380.2 1403.9,1380.7 1404.4,1381.2 1404.9,1381.7 1405.4,1382.2 1405.9,1382.7 1406.4,1383.1 1406.8,1383.6 1407.3,1384.1 1407.7,1384.6 1408.1,1385.0 1408.6,1385.5 1409.0,1385.9 1409.4,1386.4 1409.8,1386.9 1410.2,1387.3 1410.6,1387.8 1411.0,1388.3 1411.4,1388.7 1411.8,1389.2 1412.2,1389.7 1412.6,1390.2 1413.0,1390.7 1413.4,1391.2 1413.8,1391.7 1414.2,1392.2 1414.6,1392.7 1415.0,1393.3 1415.4,1393.8 1415.8,1394.4 1416.2,1395.0 1416.6,1395.6 1417.1,1396.3 1417.5,1396.9 1418.0,1397.6 1418.4,1398.3Z"/>
<path fill="#51000c" d="M1417.2,1399.1 1417.6,1399.8 1418.1,1400.5 1418.5,1401.3 1419.0,1402.1 1419.4,1403.0 1419.9,1403.9 1420.4,1404.9 1420.8,1405.9 1421.3,1406.9 1421.8,1408.0 1422.2,1409.2 1422.7,1410.4 1423.1,1411.7 1423.4,1413.0 1423.8,1414.4 1424.0,1415.8 1424.2,1417.3 1424.3,1418.8 1424.2,1420.2 1424.1,1421.6 1423.7,1423.0 1423.3,1424.3 1422.6,1425.4 1421.8,1426.4 1420.9,1427.3 1419.8,1428.0 1418.5,1428.5 1417.2,1428.8 1415.9,1429.0 1414.4,1429.0 1413.0,1428.9 1411.6,1428.7 1410.2,1428.4 1408.8,1428.0 1407.5,1427.5 1406.3,1427.0 1405.0,1426.5 1403.9,1426.0 1402.8,1425.4 1401.7,1424.9 1400.7,1424.3 1399.8,1423.7 1398.9,1423.2 1398.0,1422.6 1397.2,1422.1 1396.4,1421.5 1395.6,1421.0 1394.9,1420.5 1394.2,1419.9 1393.6,1419.4 1392.9,1418.9 1392.3,1418.5 1391.7,1418.0 1391.2,1417.5 1390.6,1417.0 1390.1,1416.6 1389.6,1416.1 1389.1,1415.7 1388.6,1415.2 1388.1,1414.8 1387.6,1414.3 1387.2,1413.9 1386.7,1413.5 1386.3,1413.0 1385.8,1412.6 1385.4,1412.1 1385.0,1411.7 1384.5,1411.3 1384.1,1410.8 1383.7,1410.4 1383.3,1409.9 1382.9,1409.5 1382.5,1409.0 1382.0,1408.5 1381.6,1408.0 1381.2,1407.6 1380.8,1407.1 1380.4,1406.6 1379.9,1406.0 1379.5,1405.5 1379.1,1404.9 1378.6,1404.4 1378.2,1403.8 1377.7,1403.2 1377.3,1402.6 1376.8,1401.9 1376.3,1401.3 1375.8,1400.6 1375.3,1399.8 1374.8,1399.1 1374.3,1398.3 1373.8,1397.4 1373.3,1396.6 1372.7,1395.6 1372.2,1394.7 1371.6,1393.6 1371.1,1392.6 1370.5,1391.4 1370.0,1390.2 1369.4,1389.0 1368.9,1387.6 1368.4,1386.2 1367.9,1384.8 1367.5,1383.3 1367.1,1381.7 1366.9,1380.1 1366.7,1378.5 1366.7,1376.9 1366.8,1375.3 1367.1,1373.8 1367.5,1372.4 1368.2,1371.1 1369.1,1370.0 1370.1,1369.1 1371.4,1368.3 1372.7,1367.8 1374.2,1367.5 1375.8,1367.4 1377.4,1367.4 1379.0,1367.7 1380.7,1368.0 1382.2,1368.5 1383.8,1369.0 1385.3,1369.6 1386.7,1370.2 1388.0,1370.9 1389.3,1371.6 1390.5,1372.3 1391.6,1372.9 1392.7,1373.6 1393.7,1374.3 1394.6,1374.9 1395.5,1375.6 1396.4,1376.2 1397.2,1376.8 1397.9,1377.4 1398.6,1378.0 1399.3,1378.5 1400.0,1379.1 1400.6,1379.6 1401.2,1380.1 1401.8,1380.6 1402.3,1381.1 1402.8,1381.6 1403.3,1382.1 1403.8,1382.6 1404.3,1383.0 1404.8,1383.5 1405.2,1383.9 1405.7,1384.4 1406.1,1384.8 1406.5,1385.2 1406.9,1385.7 1407.3,1386.1 1407.7,1386.5 1408.1,1387.0 1408.5,1387.4 1408.8,1387.8 1409.2,1388.2 1409.6,1388.7 1409.9,1389.1 1410.3,1389.5 1410.7,1390.0 1411.0,1390.4 1411.4,1390.9 1411.8,1391.3 1412.1,1391.8 1412.5,1392.2 1412.9,1392.7 1413.2,1393.2 1413.6,1393.7 1414.0,1394.2 1414.4,1394.8 1414.8,1395.3 1415.1,1395.9 1415.5,1396.5 1415.9,1397.1 1416.4,1397.7 1416.8,1398.4Z"/>
<path fill="#490007" d="M1415.5,1399.1 1415.9,1399.7 1416.3,1400.4 1416.7,1401.1 1417.2,1401.9 1417.6,1402.7 1418.0,1403.5 1418.4,1404.4 1418.9,1405.3 1419.3,1406.3 1419.7,1407.3 1420.1,1408.4 1420.5,1409.5 1420.9,1410.6 1421.2,1411.9 1421.5,1413.1 1421.8,1414.4 1421.9,1415.8 1422.0,1417.1 1422.0,1418.5 1421.8,1419.8 1421.5,1421.0 1421.1,1422.2 1420.5,1423.2 1419.8,1424.2 1418.9,1424.9 1417.9,1425.6 1416.8,1426.0 1415.6,1426.3 1414.3,1426.5 1413.0,1426.5 1411.7,1426.4 1410.4,1426.2 1409.1,1425.9 1407.9,1425.6 1406.7,1425.1 1405.5,1424.7 1404.4,1424.2 1403.3,1423.7 1402.3,1423.2 1401.3,1422.7 1400.4,1422.2 1399.5,1421.7 1398.7,1421.2 1397.9,1420.6 1397.2,1420.1 1396.4,1419.6 1395.8,1419.2 1395.1,1418.7 1394.5,1418.2 1393.9,1417.7 1393.3,1417.3 1392.7,1416.8 1392.2,1416.4 1391.7,1416.0 1391.2,1415.5 1390.7,1415.1 1390.2,1414.7 1389.7,1414.3 1389.3,1413.9 1388.9,1413.5 1388.4,1413.1 1388.0,1412.7 1387.6,1412.3 1387.2,1411.9 1386.8,1411.5 1386.4,1411.0 1386.0,1410.6 1385.6,1410.2 1385.2,1409.8 1384.8,1409.4 1384.4,1409.0 1384.1,1408.6 1383.7,1408.2 1383.3,1407.7 1382.9,1407.3 1382.5,1406.8 1382.2,1406.4 1381.8,1405.9 1381.4,1405.5 1381.0,1405.0 1380.6,1404.5 1380.2,1403.9 1379.8,1403.4 1379.3,1402.9 1378.9,1402.3 1378.5,1401.7 1378.1,1401.1 1377.6,1400.4 1377.2,1399.8 1376.7,1399.1 1376.2,1398.3 1375.8,1397.6 1375.3,1396.8 1374.8,1395.9 1374.3,1395.0 1373.8,1394.1 1373.2,1393.1 1372.7,1392.1 1372.2,1391.0 1371.7,1389.8 1371.2,1388.6 1370.8,1387.3 1370.3,1386.0 1370.0,1384.6 1369.6,1383.2 1369.4,1381.7 1369.2,1380.2 1369.2,1378.8 1369.3,1377.3 1369.6,1375.9 1370.0,1374.6 1370.6,1373.4 1371.4,1372.4 1372.4,1371.6 1373.5,1370.9 1374.8,1370.4 1376.1,1370.1 1377.6,1370.0 1379.1,1370.1 1380.5,1370.3 1382.0,1370.6 1383.5,1371.0 1384.9,1371.5 1386.3,1372.1 1387.5,1372.6 1388.8,1373.2 1389.9,1373.9 1391.0,1374.5 1392.1,1375.1 1393.1,1375.7 1394.0,1376.3 1394.8,1376.9 1395.7,1377.5 1396.4,1378.1 1397.2,1378.7 1397.9,1379.2 1398.5,1379.7 1399.1,1380.2 1399.7,1380.7 1400.3,1381.2 1400.9,1381.7 1401.4,1382.2 1401.9,1382.6 1402.4,1383.1 1402.8,1383.5 1403.3,1383.9 1403.7,1384.4 1404.1,1384.8 1404.5,1385.2 1404.9,1385.6 1405.3,1386.0 1405.7,1386.4 1406.1,1386.8 1406.5,1387.2 1406.8,1387.6 1407.2,1388.0 1407.5,1388.4 1407.9,1388.7 1408.2,1389.1 1408.5,1389.5 1408.9,1389.9 1409.2,1390.3 1409.5,1390.7 1409.9,1391.1 1410.2,1391.5 1410.5,1392.0 1410.9,1392.4 1411.2,1392.8 1411.6,1393.3 1411.9,1393.7 1412.2,1394.2 1412.6,1394.6 1412.9,1395.1 1413.3,1395.6 1413.6,1396.2 1414.0,1396.7 1414.4,1397.3 1414.8,1397.8 1415.1,1398.4Z"/>
<path fill="#440006" d="M1413.9,1399.1 1414.2,1399.7 1414.6,1400.3 1415.0,1400.9 1415.3,1401.6 1415.7,1402.3 1416.1,1403.1 1416.5,1403.9 1416.9,1404.7 1417.3,1405.6 1417.7,1406.5 1418.0,1407.5 1418.4,1408.5 1418.7,1409.6 1419.1,1410.7 1419.3,1411.9 1419.5,1413.0 1419.7,1414.3 1419.8,1415.5 1419.7,1416.7 1419.6,1417.9 1419.3,1419.0 1418.9,1420.1 1418.4,1421.0 1417.7,1421.9 1416.9,1422.6 1416.0,1423.2 1415.0,1423.6 1413.9,1423.9 1412.7,1424.0 1411.6,1424.0 1410.4,1423.9 1409.2,1423.7 1408.0,1423.5 1406.9,1423.1 1405.8,1422.8 1404.7,1422.4 1403.7,1421.9 1402.8,1421.5 1401.8,1421.0 1401.0,1420.6 1400.1,1420.1 1399.3,1419.6 1398.6,1419.1 1397.9,1418.7 1397.2,1418.2 1396.5,1417.8 1395.9,1417.3 1395.3,1416.9 1394.7,1416.5 1394.2,1416.0 1393.6,1415.6 1393.1,1415.2 1392.6,1414.8 1392.2,1414.4 1391.7,1414.0 1391.3,1413.7 1390.8,1413.3 1390.4,1412.9 1390.0,1412.5 1389.6,1412.2 1389.2,1411.8 1388.8,1411.4 1388.5,1411.1 1388.1,1410.7 1387.7,1410.3 1387.4,1410.0 1387.0,1409.6 1386.6,1409.2 1386.3,1408.9 1385.9,1408.5 1385.6,1408.1 1385.3,1407.7 1384.9,1407.3 1384.6,1406.9 1384.2,1406.5 1383.9,1406.1 1383.5,1405.7 1383.2,1405.3 1382.8,1404.9 1382.4,1404.4 1382.1,1404.0 1381.7,1403.5 1381.3,1403.0 1381.0,1402.5 1380.6,1402.0 1380.2,1401.5 1379.8,1400.9 1379.4,1400.3 1379.0,1399.7 1378.6,1399.1 1378.1,1398.4 1377.7,1397.7 1377.3,1397.0 1376.8,1396.2 1376.3,1395.4 1375.9,1394.5 1375.4,1393.6 1375.0,1392.7 1374.5,1391.7 1374.0,1390.7 1373.6,1389.5 1373.2,1388.4 1372.8,1387.2 1372.4,1385.9 1372.1,1384.6 1371.9,1383.3 1371.8,1381.9 1371.8,1380.6 1371.9,1379.3 1372.1,1378.0 1372.5,1376.8 1373.0,1375.8 1373.8,1374.8 1374.6,1374.1 1375.7,1373.4 1376.8,1373.0 1378.0,1372.8 1379.4,1372.7 1380.7,1372.7 1382.1,1372.9 1383.4,1373.2 1384.7,1373.6 1386.0,1374.0 1387.2,1374.5 1388.4,1375.0 1389.5,1375.6 1390.6,1376.2 1391.6,1376.7 1392.5,1377.3 1393.4,1377.9 1394.3,1378.4 1395.1,1379.0 1395.8,1379.5 1396.5,1380.0 1397.2,1380.5 1397.8,1381.0 1398.4,1381.5 1399.0,1381.9 1399.5,1382.4 1400.0,1382.9 1400.5,1383.3 1401.0,1383.7 1401.5,1384.1 1401.9,1384.5 1402.3,1384.9 1402.7,1385.3 1403.1,1385.7 1403.5,1386.1 1403.9,1386.5 1404.2,1386.8 1404.6,1387.2 1404.9,1387.5 1405.3,1387.9 1405.6,1388.3 1405.9,1388.6 1406.3,1389.0 1406.6,1389.3 1406.9,1389.7 1407.2,1390.0 1407.5,1390.4 1407.8,1390.8 1408.1,1391.1 1408.4,1391.5 1408.7,1391.8 1409.0,1392.2 1409.3,1392.6 1409.6,1393.0 1409.9,1393.4 1410.2,1393.8 1410.6,1394.2 1410.9,1394.6 1411.2,1395.1 1411.5,1395.5 1411.8,1396.0 1412.1,1396.4 1412.5,1396.9 1412.8,1397.4 1413.2,1398.0 1413.5,1398.5Z"/>
<path fill="#420005" d="M1412.2,1399.1 1412.5,1399.6 1412.8,1400.2 1413.2,1400.8 1413.5,1401.4 1413.9,1402.0 1414.2,1402.7 1414.6,1403.4 1414.9,1404.2 1415.3,1405.0 1415.6,1405.8 1416.0,1406.7 1416.3,1407.6 1416.6,1408.5 1416.9,1409.5 1417.1,1410.6 1417.3,1411.7 1417.4,1412.7 1417.5,1413.8 1417.5,1414.9 1417.3,1416.0 1417.1,1417.0 1416.7,1418.0 1416.3,1418.8 1415.7,1419.6 1414.9,1420.2 1414.1,1420.8 1413.2,1421.1 1412.2,1421.4 1411.2,1421.5 1410.1,1421.5 1409.1,1421.4 1408.0,1421.3 1406.9,1421.0 1405.9,1420.7 1404.9,1420.4 1404.0,1420.0 1403.1,1419.7 1402.2,1419.2 1401.4,1418.8 1400.6,1418.4 1399.8,1418.0 1399.1,1417.6 1398.4,1417.1 1397.8,1416.7 1397.2,1416.3 1396.6,1415.9 1396.0,1415.5 1395.5,1415.1 1395.0,1414.7 1394.5,1414.3 1394.0,1414.0 1393.5,1413.6 1393.1,1413.2 1392.7,1412.9 1392.3,1412.5 1391.9,1412.2 1391.5,1411.9 1391.1,1411.5 1390.7,1411.2 1390.4,1410.8 1390.0,1410.5 1389.7,1410.2 1389.3,1409.9 1389.0,1409.5 1388.7,1409.2 1388.3,1408.9 1388.0,1408.5 1387.7,1408.2 1387.4,1407.9 1387.1,1407.5 1386.8,1407.2 1386.4,1406.9 1386.1,1406.5 1385.8,1406.2 1385.5,1405.8 1385.2,1405.4 1384.9,1405.1 1384.6,1404.7 1384.2,1404.3 1383.9,1403.9 1383.6,1403.5 1383.3,1403.1 1382.9,1402.6 1382.6,1402.2 1382.2,1401.7 1381.9,1401.2 1381.5,1400.7 1381.2,1400.2 1380.8,1399.6 1380.4,1399.1 1380.0,1398.5 1379.6,1397.8 1379.2,1397.2 1378.8,1396.5 1378.4,1395.8 1378.0,1395.0 1377.6,1394.2 1377.2,1393.3 1376.8,1392.4 1376.3,1391.5 1376.0,1390.5 1375.6,1389.5 1375.2,1388.4 1374.9,1387.2 1374.6,1386.1 1374.4,1384.9 1374.3,1383.7 1374.3,1382.5 1374.4,1381.3 1374.6,1380.1 1375.0,1379.1 1375.5,1378.1 1376.1,1377.3 1376.9,1376.6 1377.8,1376.0 1378.8,1375.6 1380.0,1375.4 1381.1,1375.3 1382.3,1375.4 1383.6,1375.5 1384.8,1375.8 1386.0,1376.1 1387.1,1376.5 1388.2,1377.0 1389.3,1377.4 1390.3,1377.9 1391.3,1378.4 1392.2,1379.0 1393.0,1379.5 1393.8,1380.0 1394.6,1380.5 1395.3,1381.0 1395.9,1381.4 1396.6,1381.9 1397.2,1382.4 1397.7,1382.8 1398.3,1383.2 1398.8,1383.7 1399.3,1384.1 1399.7,1384.5 1400.2,1384.9 1400.6,1385.2 1401.0,1385.6 1401.4,1386.0 1401.8,1386.3 1402.2,1386.7 1402.5,1387.0 1402.9,1387.4 1403.2,1387.7 1403.5,1388.0 1403.8,1388.4 1404.2,1388.7 1404.5,1389.0 1404.8,1389.3 1405.1,1389.7 1405.3,1390.0 1405.6,1390.3 1405.9,1390.6 1406.2,1390.9 1406.5,1391.3 1406.7,1391.6 1407.0,1391.9 1407.3,1392.2 1407.6,1392.6 1407.8,1392.9 1408.1,1393.2 1408.4,1393.6 1408.7,1394.0 1408.9,1394.3 1409.2,1394.7 1409.5,1395.1 1409.8,1395.5 1410.1,1395.9 1410.4,1396.3 1410.7,1396.7 1410.9,1397.1 1411.3,1397.6 1411.6,1398.1 1411.9,1398.6Z"/>
<path fill="#3f0004" d="M1410.5,1399.1 1410.8,1399.5 1411.1,1400.0 1411.4,1400.6 1411.7,1401.1 1412.0,1401.7 1412.3,1402.3 1412.6,1402.9 1413.0,1403.6 1413.3,1404.3 1413.6,1405.0 1413.9,1405.8 1414.2,1406.6 1414.4,1407.5 1414.7,1408.4 1414.9,1409.3 1415.1,1410.3 1415.2,1411.2 1415.2,1412.2 1415.2,1413.2 1415.1,1414.1 1414.9,1415.0 1414.6,1415.9 1414.1,1416.6 1413.6,1417.3 1413.0,1417.9 1412.2,1418.3 1411.4,1418.7 1410.5,1418.9 1409.6,1419.0 1408.7,1419.0 1407.7,1418.9 1406.8,1418.8 1405.9,1418.6 1404.9,1418.3 1404.1,1418.0 1403.2,1417.7 1402.4,1417.4 1401.6,1417.0 1400.9,1416.6 1400.2,1416.3 1399.5,1415.9 1398.9,1415.5 1398.3,1415.1 1397.7,1414.8 1397.2,1414.4 1396.6,1414.0 1396.1,1413.7 1395.7,1413.3 1395.2,1413.0 1394.8,1412.7 1394.3,1412.3 1393.9,1412.0 1393.6,1411.7 1393.2,1411.4 1392.8,1411.0 1392.5,1410.7 1392.1,1410.4 1391.8,1410.1 1391.4,1409.8 1391.1,1409.5 1390.8,1409.2 1390.5,1408.9 1390.2,1408.7 1389.9,1408.4 1389.6,1408.1 1389.3,1407.8 1389.0,1407.5 1388.8,1407.2 1388.5,1406.9 1388.2,1406.6 1387.9,1406.3 1387.6,1406.0 1387.4,1405.7 1387.1,1405.4 1386.8,1405.1 1386.5,1404.7 1386.2,1404.4 1386.0,1404.1 1385.7,1403.7 1385.4,1403.4 1385.1,1403.0 1384.8,1402.6 1384.5,1402.2 1384.2,1401.8 1383.9,1401.4 1383.6,1401.0 1383.3,1400.5 1382.9,1400.1 1382.6,1399.6 1382.3,1399.1 1381.9,1398.5 1381.6,1398.0 1381.2,1397.4 1380.9,1396.8 1380.5,1396.1 1380.1,1395.5 1379.8,1394.7 1379.4,1394.0 1379.0,1393.2 1378.7,1392.3 1378.3,1391.4 1378.0,1390.5 1377.7,1389.6 1377.4,1388.5 1377.1,1387.5 1377.0,1386.4 1376.9,1385.4 1376.8,1384.3 1376.9,1383.2 1377.1,1382.2 1377.4,1381.3 1377.9,1380.4 1378.4,1379.7 1379.1,1379.1 1380.0,1378.6 1380.9,1378.2 1381.9,1378.0 1382.9,1377.9 1384.0,1378.0 1385.1,1378.1 1386.2,1378.4 1387.2,1378.7 1388.2,1379.0 1389.2,1379.4 1390.2,1379.8 1391.1,1380.3 1391.9,1380.7 1392.7,1381.2 1393.5,1381.6 1394.2,1382.1 1394.8,1382.5 1395.5,1383.0 1396.1,1383.4 1396.6,1383.8 1397.2,1384.2 1397.7,1384.6 1398.2,1385.0 1398.6,1385.4 1399.0,1385.7 1399.5,1386.1 1399.9,1386.4 1400.2,1386.8 1400.6,1387.1 1400.9,1387.4 1401.3,1387.8 1401.6,1388.1 1401.9,1388.4 1402.2,1388.7 1402.5,1389.0 1402.8,1389.3 1403.1,1389.6 1403.4,1389.9 1403.7,1390.1 1403.9,1390.4 1404.2,1390.7 1404.4,1391.0 1404.7,1391.3 1404.9,1391.6 1405.2,1391.8 1405.4,1392.1 1405.7,1392.4 1405.9,1392.7 1406.2,1393.0 1406.4,1393.3 1406.7,1393.6 1406.9,1393.9 1407.1,1394.2 1407.4,1394.5 1407.6,1394.8 1407.9,1395.2 1408.1,1395.5 1408.4,1395.9 1408.6,1396.2 1408.9,1396.6 1409.2,1397.0 1409.4,1397.3 1409.7,1397.8 1410.0,1398.2 1410.2,1398.6Z"/>
<path fill="#3d0004" d="M1408.9,1399.1 1409.1,1399.5 1409.4,1399.9 1409.6,1400.4 1409.9,1400.9 1410.2,1401.4 1410.4,1401.9 1410.7,1402.4 1411.0,1403.0 1411.3,1403.6 1411.5,1404.3 1411.8,1405.0 1412.0,1405.7 1412.3,1406.4 1412.5,1407.2 1412.7,1408.0 1412.8,1408.9 1412.9,1409.7 1413.0,1410.6 1413.0,1411.4 1412.9,1412.2 1412.7,1413.0 1412.4,1413.8 1412.0,1414.4 1411.5,1415.0 1411.0,1415.5 1410.3,1415.9 1409.6,1416.2 1408.9,1416.4 1408.1,1416.5 1407.2,1416.5 1406.4,1416.5 1405.6,1416.3 1404.8,1416.2 1404.0,1415.9 1403.2,1415.7 1402.5,1415.4 1401.8,1415.1 1401.1,1414.8 1400.4,1414.4 1399.8,1414.1 1399.2,1413.8 1398.7,1413.4 1398.1,1413.1 1397.6,1412.8 1397.2,1412.5 1396.7,1412.2 1396.3,1411.9 1395.9,1411.5 1395.5,1411.2 1395.1,1411.0 1394.7,1410.7 1394.3,1410.4 1394.0,1410.1 1393.7,1409.8 1393.4,1409.5 1393.0,1409.3 1392.7,1409.0 1392.4,1408.7 1392.2,1408.5 1391.9,1408.2 1391.6,1408.0 1391.3,1407.7 1391.1,1407.5 1390.8,1407.2 1390.6,1406.9 1390.3,1406.7 1390.1,1406.4 1389.8,1406.2 1389.6,1405.9 1389.3,1405.7 1389.1,1405.4 1388.8,1405.1 1388.6,1404.9 1388.3,1404.6 1388.1,1404.3 1387.9,1404.0 1387.6,1403.7 1387.4,1403.4 1387.1,1403.1 1386.9,1402.8 1386.6,1402.5 1386.4,1402.2 1386.1,1401.8 1385.8,1401.5 1385.6,1401.1 1385.3,1400.7 1385.0,1400.3 1384.7,1399.9 1384.4,1399.5 1384.1,1399.1 1383.8,1398.6 1383.5,1398.1 1383.2,1397.6 1382.9,1397.1 1382.6,1396.5 1382.3,1395.9 1381.9,1395.3 1381.6,1394.6 1381.3,1393.9 1381.0,1393.2 1380.7,1392.4 1380.4,1391.6 1380.1,1390.7 1379.9,1389.9 1379.6,1389.0 1379.5,1388.0 1379.4,1387.1 1379.4,1386.1 1379.4,1385.2 1379.6,1384.3 1379.9,1383.5 1380.3,1382.8 1380.8,1382.1 1381.4,1381.6 1382.1,1381.1 1382.9,1380.8 1383.8,1380.6 1384.7,1380.6 1385.6,1380.6 1386.6,1380.8 1387.5,1381.0 1388.5,1381.2 1389.4,1381.5 1390.2,1381.9 1391.0,1382.2 1391.8,1382.6 1392.6,1383.0 1393.3,1383.4 1393.9,1383.8 1394.5,1384.2 1395.1,1384.6 1395.7,1385.0 1396.2,1385.4 1396.7,1385.7 1397.2,1386.1 1397.6,1386.4 1398.0,1386.8 1398.4,1387.1 1398.8,1387.4 1399.2,1387.7 1399.5,1388.0 1399.8,1388.3 1400.2,1388.6 1400.5,1388.9 1400.8,1389.2 1401.1,1389.4 1401.3,1389.7 1401.6,1390.0 1401.9,1390.2 1402.1,1390.5 1402.4,1390.8 1402.6,1391.0 1402.8,1391.3 1403.1,1391.5 1403.3,1391.8 1403.5,1392.0 1403.8,1392.2 1404.0,1392.5 1404.2,1392.7 1404.4,1393.0 1404.6,1393.2 1404.8,1393.5 1405.0,1393.8 1405.3,1394.0 1405.5,1394.3 1405.7,1394.5 1405.9,1394.8 1406.1,1395.1 1406.3,1395.4 1406.5,1395.7 1406.8,1396.0 1407.0,1396.3 1407.2,1396.6 1407.4,1396.9 1407.7,1397.2 1407.9,1397.6 1408.1,1397.9 1408.4,1398.3 1408.6,1398.7Z"/>
<path fill="#3b0003" d="M1407.2,1399.1 1407.4,1399.4 1407.6,1399.8 1407.8,1400.2 1408.1,1400.6 1408.3,1401.0 1408.5,1401.5 1408.8,1402.0 1409.0,1402.5 1409.2,1403.0 1409.5,1403.5 1409.7,1404.1 1409.9,1404.7 1410.1,1405.4 1410.3,1406.1 1410.5,1406.7 1410.6,1407.5 1410.7,1408.2 1410.7,1408.9 1410.7,1409.6 1410.6,1410.4 1410.5,1411.0 1410.2,1411.7 1409.9,1412.3 1409.5,1412.8 1409.0,1413.2 1408.5,1413.5 1407.9,1413.8 1407.2,1413.9 1406.5,1414.0 1405.8,1414.0 1405.1,1414.0 1404.4,1413.9 1403.7,1413.7 1403.0,1413.5 1402.3,1413.3 1401.7,1413.0 1401.1,1412.8 1400.5,1412.5 1400.0,1412.2 1399.4,1412.0 1398.9,1411.7 1398.5,1411.4 1398.0,1411.1 1397.6,1410.8 1397.2,1410.6 1396.8,1410.3 1396.4,1410.0 1396.0,1409.8 1395.7,1409.5 1395.4,1409.3 1395.1,1409.0 1394.7,1408.8 1394.5,1408.5 1394.2,1408.3 1393.9,1408.1 1393.6,1407.8 1393.4,1407.6 1393.1,1407.4 1392.9,1407.1 1392.6,1406.9 1392.4,1406.7 1392.2,1406.5 1391.9,1406.3 1391.7,1406.0 1391.5,1405.8 1391.3,1405.6 1391.1,1405.4 1390.9,1405.2 1390.6,1404.9 1390.4,1404.7 1390.2,1404.5 1390.0,1404.3 1389.8,1404.0 1389.6,1403.8 1389.4,1403.6 1389.2,1403.3 1389.0,1403.1 1388.8,1402.8 1388.6,1402.5 1388.3,1402.3 1388.1,1402.0 1387.9,1401.7 1387.7,1401.4 1387.4,1401.1 1387.2,1400.8 1387.0,1400.5 1386.7,1400.2 1386.5,1399.8 1386.3,1399.5 1386.0,1399.1 1385.7,1398.7 1385.5,1398.3 1385.2,1397.8 1384.9,1397.4 1384.7,1396.9 1384.4,1396.4 1384.1,1395.8 1383.8,1395.2 1383.6,1394.6 1383.3,1394.0 1383.0,1393.4 1382.8,1392.7 1382.5,1391.9 1382.3,1391.2 1382.1,1390.4 1382.0,1389.6 1381.9,1388.8 1381.9,1388.0 1382.0,1387.2 1382.1,1386.4 1382.4,1385.7 1382.7,1385.1 1383.1,1384.5 1383.7,1384.1 1384.3,1383.7 1385.0,1383.4 1385.7,1383.3 1386.5,1383.2 1387.3,1383.3 1388.1,1383.4 1388.9,1383.5 1389.7,1383.8 1390.5,1384.0 1391.2,1384.3 1391.9,1384.7 1392.6,1385.0 1393.2,1385.3 1393.8,1385.7 1394.4,1386.0 1394.9,1386.3 1395.4,1386.7 1395.9,1387.0 1396.3,1387.3 1396.8,1387.6 1397.2,1387.9 1397.5,1388.2 1397.9,1388.5 1398.2,1388.8 1398.6,1389.1 1398.9,1389.3 1399.2,1389.6 1399.5,1389.9 1399.7,1390.1 1400.0,1390.3 1400.3,1390.6 1400.5,1390.8 1400.7,1391.0 1401.0,1391.3 1401.2,1391.5 1401.4,1391.7 1401.6,1391.9 1401.8,1392.2 1402.0,1392.4 1402.2,1392.6 1402.4,1392.8 1402.6,1393.0 1402.8,1393.2 1403.0,1393.4 1403.2,1393.6 1403.4,1393.9 1403.6,1394.1 1403.7,1394.3 1403.9,1394.5 1404.1,1394.7 1404.3,1395.0 1404.5,1395.2 1404.6,1395.4 1404.8,1395.7 1405.0,1395.9 1405.2,1396.1 1405.4,1396.4 1405.6,1396.7 1405.8,1396.9 1406.0,1397.2 1406.2,1397.5 1406.4,1397.8 1406.6,1398.1 1406.8,1398.4 1407.0,1398.7Z"/>
<path fill="#380003" d="M1405.5,1399.1 1405.7,1399.4 1405.9,1399.7 1406.1,1400.0 1406.3,1400.3 1406.4,1400.7 1406.6,1401.1 1406.8,1401.5 1407.0,1401.9 1407.2,1402.3 1407.4,1402.8 1407.6,1403.3 1407.8,1403.8 1408.0,1404.3 1408.1,1404.9 1408.2,1405.5 1408.4,1406.1 1408.4,1406.7 1408.5,1407.3 1408.4,1407.9 1408.4,1408.5 1408.2,1409.0 1408.0,1409.6 1407.8,1410.1 1407.4,1410.5 1407.0,1410.8 1406.6,1411.1 1406.1,1411.3 1405.5,1411.5 1405.0,1411.5 1404.4,1411.5 1403.8,1411.5 1403.2,1411.4 1402.6,1411.3 1402.0,1411.1 1401.5,1410.9 1401.0,1410.7 1400.4,1410.5 1400.0,1410.3 1399.5,1410.0 1399.1,1409.8 1398.6,1409.6 1398.2,1409.3 1397.9,1409.1 1397.5,1408.9 1397.2,1408.6 1396.8,1408.4 1396.5,1408.2 1396.2,1408.0 1395.9,1407.8 1395.7,1407.6 1395.4,1407.4 1395.2,1407.1 1394.9,1406.9 1394.7,1406.7 1394.4,1406.6 1394.2,1406.4 1394.0,1406.2 1393.8,1406.0 1393.6,1405.8 1393.4,1405.6 1393.2,1405.4 1393.0,1405.2 1392.8,1405.1 1392.6,1404.9 1392.4,1404.7 1392.3,1404.5 1392.1,1404.3 1391.9,1404.1 1391.7,1404.0 1391.6,1403.8 1391.4,1403.6 1391.2,1403.4 1391.0,1403.2 1390.9,1403.0 1390.7,1402.8 1390.5,1402.6 1390.3,1402.4 1390.2,1402.2 1390.0,1402.0 1389.8,1401.7 1389.6,1401.5 1389.4,1401.3 1389.3,1401.0 1389.1,1400.8 1388.9,1400.5 1388.7,1400.3 1388.5,1400.0 1388.3,1399.7 1388.1,1399.4 1387.9,1399.1 1387.7,1398.7 1387.4,1398.4 1387.2,1398.0 1387.0,1397.6 1386.8,1397.2 1386.5,1396.8 1386.3,1396.4 1386.1,1395.9 1385.8,1395.4 1385.6,1394.9 1385.4,1394.3 1385.2,1393.7 1385.0,1393.1 1384.8,1392.5 1384.7,1391.8 1384.5,1391.2 1384.5,1390.5 1384.5,1389.8 1384.5,1389.2 1384.6,1388.5 1384.8,1388.0 1385.1,1387.4 1385.5,1387.0 1385.9,1386.6 1386.4,1386.3 1387.0,1386.0 1387.6,1385.9 1388.3,1385.9 1388.9,1385.9 1389.6,1386.0 1390.3,1386.1 1390.9,1386.3 1391.6,1386.5 1392.2,1386.8 1392.8,1387.1 1393.4,1387.3 1393.9,1387.6 1394.4,1387.9 1394.9,1388.2 1395.3,1388.5 1395.7,1388.7 1396.1,1389.0 1396.5,1389.3 1396.8,1389.5 1397.2,1389.8 1397.5,1390.0 1397.8,1390.3 1398.1,1390.5 1398.3,1390.7 1398.6,1391.0 1398.8,1391.2 1399.1,1391.4 1399.3,1391.6 1399.5,1391.8 1399.7,1392.0 1399.9,1392.2 1400.1,1392.4 1400.3,1392.6 1400.5,1392.8 1400.7,1392.9 1400.9,1393.1 1401.1,1393.3 1401.2,1393.5 1401.4,1393.7 1401.6,1393.8 1401.7,1394.0 1401.9,1394.2 1402.0,1394.4 1402.2,1394.6 1402.3,1394.7 1402.5,1394.9 1402.6,1395.1 1402.8,1395.3 1402.9,1395.5 1403.1,1395.6 1403.2,1395.8 1403.4,1396.0 1403.6,1396.2 1403.7,1396.4 1403.9,1396.6 1404.0,1396.8 1404.2,1397.1 1404.3,1397.3 1404.5,1397.5 1404.7,1397.7 1404.8,1398.0 1405.0,1398.2 1405.2,1398.5 1405.3,1398.8Z"/>
<path fill="#360002" d="M1403.8,1399.1 1404.0,1399.3 1404.1,1399.6 1404.3,1399.8 1404.4,1400.1 1404.6,1400.4 1404.7,1400.7 1404.9,1401.0 1405.1,1401.3 1405.2,1401.7 1405.4,1402.1 1405.5,1402.4 1405.7,1402.9 1405.8,1403.3 1405.9,1403.7 1406.0,1404.2 1406.1,1404.7 1406.2,1405.1 1406.2,1405.6 1406.2,1406.1 1406.1,1406.6 1406.0,1407.0 1405.9,1407.5 1405.7,1407.9 1405.4,1408.2 1405.1,1408.5 1404.7,1408.7 1404.3,1408.9 1403.9,1409.0 1403.4,1409.0 1402.9,1409.0 1402.5,1409.0 1402.0,1408.9 1401.5,1408.8 1401.1,1408.7 1400.6,1408.6 1400.2,1408.4 1399.8,1408.2 1399.4,1408.0 1399.0,1407.9 1398.7,1407.7 1398.3,1407.5 1398.0,1407.3 1397.7,1407.1 1397.4,1406.9 1397.2,1406.7 1396.9,1406.6 1396.7,1406.4 1396.4,1406.2 1396.2,1406.0 1396.0,1405.9 1395.8,1405.7 1395.6,1405.5 1395.4,1405.4 1395.2,1405.2 1395.0,1405.1 1394.8,1404.9 1394.6,1404.8 1394.5,1404.6 1394.3,1404.5 1394.1,1404.3 1394.0,1404.2 1393.8,1404.0 1393.7,1403.9 1393.5,1403.7 1393.4,1403.6 1393.2,1403.4 1393.1,1403.3 1393.0,1403.1 1392.8,1403.0 1392.7,1402.8 1392.5,1402.7 1392.4,1402.5 1392.3,1402.4 1392.1,1402.2 1392.0,1402.1 1391.8,1401.9 1391.7,1401.7 1391.6,1401.6 1391.4,1401.4 1391.3,1401.2 1391.1,1401.0 1391.0,1400.8 1390.8,1400.6 1390.7,1400.4 1390.5,1400.2 1390.4,1400.0 1390.2,1399.8 1390.1,1399.6 1389.9,1399.3 1389.7,1399.1 1389.6,1398.8 1389.4,1398.5 1389.2,1398.2 1389.0,1397.9 1388.8,1397.6 1388.7,1397.3 1388.5,1396.9 1388.3,1396.5 1388.1,1396.1 1387.9,1395.7 1387.7,1395.3 1387.6,1394.8 1387.4,1394.3 1387.3,1393.8 1387.2,1393.3 1387.1,1392.8 1387.0,1392.2 1387.0,1391.7 1387.0,1391.2 1387.1,1390.7 1387.3,1390.2 1387.5,1389.8 1387.8,1389.4 1388.2,1389.1 1388.6,1388.8 1389.0,1388.6 1389.5,1388.5 1390.0,1388.5 1390.6,1388.5 1391.1,1388.6 1391.7,1388.7 1392.2,1388.9 1392.7,1389.0 1393.2,1389.2 1393.7,1389.5 1394.1,1389.7 1394.5,1389.9 1394.9,1390.1 1395.3,1390.4 1395.7,1390.6 1396.0,1390.8 1396.3,1391.0 1396.6,1391.2 1396.9,1391.4 1397.2,1391.6 1397.4,1391.8 1397.7,1392.0 1397.9,1392.2 1398.1,1392.4 1398.3,1392.6 1398.5,1392.8 1398.7,1392.9 1398.9,1393.1 1399.1,1393.3 1399.2,1393.4 1399.4,1393.6 1399.5,1393.7 1399.7,1393.9 1399.8,1394.0 1400.0,1394.2 1400.1,1394.3 1400.3,1394.5 1400.4,1394.6 1400.5,1394.7 1400.7,1394.9 1400.8,1395.0 1400.9,1395.2 1401.1,1395.3 1401.2,1395.5 1401.3,1395.6 1401.4,1395.7 1401.5,1395.9 1401.7,1396.0 1401.8,1396.2 1401.9,1396.3 1402.0,1396.5 1402.2,1396.6 1402.3,1396.8 1402.4,1397.0 1402.5,1397.1 1402.6,1397.3 1402.8,1397.5 1402.9,1397.6 1403.0,1397.8 1403.2,1398.0 1403.3,1398.2 1403.4,1398.4 1403.6,1398.6 1403.7,1398.8Z"/>
<path fill="#330001" d="M1402.2,1399.1 1402.3,1399.2 1402.4,1399.4 1402.5,1399.6 1402.6,1399.8 1402.7,1400.1 1402.9,1400.3 1403.0,1400.5 1403.1,1400.8 1403.2,1401.0 1403.3,1401.3 1403.4,1401.6 1403.5,1401.9 1403.6,1402.2 1403.7,1402.6 1403.8,1402.9 1403.9,1403.3 1403.9,1403.6 1403.9,1404.0 1403.9,1404.4 1403.9,1404.7 1403.8,1405.1 1403.7,1405.4 1403.5,1405.7 1403.3,1405.9 1403.1,1406.1 1402.8,1406.3 1402.5,1406.4 1402.2,1406.5 1401.8,1406.5 1401.5,1406.6 1401.1,1406.5 1400.8,1406.5 1400.4,1406.4 1400.1,1406.3 1399.8,1406.2 1399.4,1406.1 1399.1,1405.9 1398.8,1405.8 1398.6,1405.7 1398.3,1405.5 1398.1,1405.4 1397.8,1405.2 1397.6,1405.1 1397.4,1405.0 1397.2,1404.8 1397.0,1404.7 1396.8,1404.5 1396.6,1404.4 1396.4,1404.3 1396.3,1404.2 1396.1,1404.0 1396.0,1403.9 1395.8,1403.8 1395.7,1403.7 1395.5,1403.6 1395.4,1403.4 1395.3,1403.3 1395.1,1403.2 1395.0,1403.1 1394.9,1403.0 1394.8,1402.9 1394.7,1402.8 1394.6,1402.7 1394.4,1402.6 1394.3,1402.4 1394.2,1402.3 1394.1,1402.2 1394.0,1402.1 1393.9,1402.0 1393.8,1401.9 1393.7,1401.8 1393.6,1401.7 1393.5,1401.5 1393.4,1401.4 1393.3,1401.3 1393.2,1401.2 1393.1,1401.1 1393.0,1400.9 1392.9,1400.8 1392.8,1400.7 1392.6,1400.5 1392.5,1400.4 1392.4,1400.3 1392.3,1400.1 1392.2,1399.9 1392.1,1399.8 1392.0,1399.6 1391.8,1399.4 1391.7,1399.3 1391.6,1399.1 1391.5,1398.9 1391.3,1398.7 1391.2,1398.4 1391.1,1398.2 1390.9,1398.0 1390.8,1397.7 1390.6,1397.4 1390.5,1397.2 1390.4,1396.9 1390.2,1396.5 1390.1,1396.2 1390.0,1395.9 1389.9,1395.5 1389.7,1395.1 1389.7,1394.7 1389.6,1394.3 1389.6,1393.9 1389.5,1393.5 1389.6,1393.1 1389.6,1392.8 1389.8,1392.4 1389.9,1392.1 1390.1,1391.8 1390.4,1391.6 1390.7,1391.4 1391.1,1391.3 1391.4,1391.2 1391.8,1391.1 1392.2,1391.2 1392.6,1391.2 1393.0,1391.3 1393.4,1391.4 1393.8,1391.6 1394.2,1391.7 1394.5,1391.9 1394.9,1392.0 1395.2,1392.2 1395.5,1392.4 1395.8,1392.5 1396.0,1392.7 1396.3,1392.9 1396.5,1393.0 1396.8,1393.2 1397.0,1393.3 1397.2,1393.5 1397.4,1393.6 1397.5,1393.8 1397.7,1393.9 1397.9,1394.1 1398.0,1394.2 1398.2,1394.3 1398.3,1394.5 1398.5,1394.6 1398.6,1394.7 1398.7,1394.8 1398.8,1394.9 1399.0,1395.1 1399.1,1395.2 1399.2,1395.3 1399.3,1395.4 1399.4,1395.5 1399.5,1395.6 1399.6,1395.7 1399.7,1395.8 1399.8,1395.9 1399.9,1396.0 1400.0,1396.1 1400.1,1396.3 1400.2,1396.4 1400.3,1396.5 1400.4,1396.6 1400.5,1396.7 1400.5,1396.8 1400.6,1396.9 1400.7,1397.0 1400.8,1397.1 1400.9,1397.2 1401.0,1397.4 1401.1,1397.5 1401.2,1397.6 1401.3,1397.7 1401.4,1397.9 1401.5,1398.0 1401.6,1398.1 1401.7,1398.3 1401.8,1398.4 1401.9,1398.6 1402.0,1398.7 1402.1,1398.9Z"/>
<path fill="#310001" d="M1400.5,1399.1 1400.6,1399.2 1400.7,1399.3 1400.7,1399.4 1400.8,1399.6 1400.9,1399.7 1401.0,1399.9 1401.0,1400.0 1401.1,1400.2 1401.2,1400.4 1401.3,1400.6 1401.3,1400.8 1401.4,1401.0 1401.5,1401.2 1401.5,1401.4 1401.6,1401.6 1401.6,1401.9 1401.7,1402.1 1401.7,1402.4 1401.7,1402.6 1401.6,1402.8 1401.6,1403.1 1401.5,1403.3 1401.4,1403.5 1401.3,1403.6 1401.1,1403.8 1400.9,1403.9 1400.7,1404.0 1400.5,1404.0 1400.3,1404.1 1400.0,1404.1 1399.8,1404.0 1399.6,1404.0 1399.3,1403.9 1399.1,1403.9 1398.9,1403.8 1398.7,1403.7 1398.5,1403.6 1398.3,1403.6 1398.1,1403.5 1397.9,1403.4 1397.8,1403.3 1397.6,1403.2 1397.4,1403.1 1397.3,1403.0 1397.2,1402.9 1397.0,1402.8 1396.9,1402.7 1396.8,1402.6 1396.7,1402.5 1396.6,1402.5 1396.5,1402.4 1396.4,1402.3 1396.3,1402.2 1396.2,1402.1 1396.1,1402.1 1396.0,1402.0 1395.9,1401.9 1395.8,1401.8 1395.7,1401.8 1395.7,1401.7 1395.6,1401.6 1395.5,1401.5 1395.4,1401.5 1395.4,1401.4 1395.3,1401.3 1395.2,1401.2 1395.1,1401.2 1395.1,1401.1 1395.0,1401.0 1394.9,1401.0 1394.9,1400.9 1394.8,1400.8 1394.7,1400.7 1394.6,1400.6 1394.6,1400.6 1394.5,1400.5 1394.4,1400.4 1394.4,1400.3 1394.3,1400.2 1394.2,1400.1 1394.2,1400.0 1394.1,1400.0 1394.0,1399.9 1393.9,1399.8 1393.9,1399.7 1393.8,1399.5 1393.7,1399.4 1393.6,1399.3 1393.5,1399.2 1393.4,1399.1 1393.4,1398.9 1393.3,1398.8 1393.2,1398.7 1393.1,1398.5 1393.0,1398.3 1392.9,1398.2 1392.8,1398.0 1392.7,1397.8 1392.6,1397.6 1392.5,1397.4 1392.5,1397.2 1392.4,1396.9 1392.3,1396.7 1392.2,1396.4 1392.2,1396.2 1392.1,1395.9 1392.1,1395.6 1392.1,1395.4 1392.1,1395.1 1392.2,1394.9 1392.2,1394.6 1392.3,1394.4 1392.5,1394.2 1392.7,1394.1 1392.9,1393.9 1393.1,1393.9 1393.3,1393.8 1393.6,1393.8 1393.9,1393.8 1394.1,1393.8 1394.4,1393.9 1394.7,1394.0 1394.9,1394.1 1395.2,1394.2 1395.4,1394.3 1395.6,1394.4 1395.9,1394.5 1396.1,1394.6 1396.2,1394.7 1396.4,1394.8 1396.6,1394.9 1396.7,1395.0 1396.9,1395.2 1397.0,1395.3 1397.2,1395.4 1397.3,1395.5 1397.4,1395.6 1397.5,1395.6 1397.6,1395.7 1397.7,1395.8 1397.8,1395.9 1397.9,1396.0 1398.0,1396.1 1398.1,1396.2 1398.2,1396.2 1398.3,1396.3 1398.4,1396.4 1398.4,1396.5 1398.5,1396.5 1398.6,1396.6 1398.7,1396.7 1398.7,1396.8 1398.8,1396.8 1398.9,1396.9 1398.9,1397.0 1399.0,1397.0 1399.0,1397.1 1399.1,1397.2 1399.2,1397.3 1399.2,1397.3 1399.3,1397.4 1399.4,1397.5 1399.4,1397.6 1399.5,1397.6 1399.5,1397.7 1399.6,1397.8 1399.7,1397.9 1399.7,1397.9 1399.8,1398.0 1399.8,1398.1 1399.9,1398.2 1400.0,1398.3 1400.0,1398.4 1400.1,1398.4 1400.2,1398.5 1400.2,1398.6 1400.3,1398.7 1400.4,1398.8 1400.4,1399.0Z"/>
<path fill="#2e0000" d="M1398.8,1399.1 1398.9,1399.1 1398.9,1399.2 1398.9,1399.3 1399.0,1399.3 1399.0,1399.4 1399.1,1399.5 1399.1,1399.6 1399.1,1399.6 1399.2,1399.7 1399.2,1399.8 1399.3,1399.9 1399.3,1400.0 1399.3,1400.1 1399.4,1400.2 1399.4,1400.3 1399.4,1400.5 1399.4,1400.6 1399.4,1400.7 1399.4,1400.8 1399.4,1401.0 1399.4,1401.1 1399.3,1401.2 1399.3,1401.3 1399.2,1401.4 1399.1,1401.4 1399.0,1401.5 1398.9,1401.5 1398.8,1401.5 1398.7,1401.6 1398.6,1401.6 1398.5,1401.6 1398.4,1401.5 1398.3,1401.5 1398.1,1401.5 1398.0,1401.4 1397.9,1401.4 1397.8,1401.4 1397.7,1401.3 1397.6,1401.3 1397.5,1401.2 1397.5,1401.2 1397.4,1401.1 1397.3,1401.1 1397.2,1401.0 1397.2,1401.0 1397.1,1400.9 1397.0,1400.9 1397.0,1400.9 1396.9,1400.8 1396.9,1400.8 1396.8,1400.7 1396.8,1400.7 1396.7,1400.6 1396.7,1400.6 1396.6,1400.6 1396.6,1400.5 1396.5,1400.5 1396.5,1400.5 1396.5,1400.4 1396.4,1400.4 1396.4,1400.3 1396.3,1400.3 1396.3,1400.3 1396.3,1400.2 1396.2,1400.2 1396.2,1400.2 1396.2,1400.1 1396.1,1400.1 1396.1,1400.0 1396.0,1400.0 1396.0,1400.0 1396.0,1399.9 1395.9,1399.9 1395.9,1399.9 1395.9,1399.8 1395.8,1399.8 1395.8,1399.7 1395.8,1399.7 1395.7,1399.6 1395.7,1399.6 1395.7,1399.6 1395.6,1399.5 1395.6,1399.5 1395.5,1399.4 1395.5,1399.4 1395.5,1399.3 1395.4,1399.3 1395.4,1399.2 1395.3,1399.1 1395.3,1399.1 1395.3,1399.0 1395.2,1398.9 1395.2,1398.9 1395.1,1398.8 1395.1,1398.7 1395.0,1398.6 1395.0,1398.5 1394.9,1398.4 1394.9,1398.3 1394.9,1398.2 1394.8,1398.1 1394.8,1398.0 1394.7,1397.9 1394.7,1397.8 1394.7,1397.6 1394.6,1397.5 1394.6,1397.4 1394.6,1397.2 1394.6,1397.1 1394.7,1397.0 1394.7,1396.8 1394.8,1396.7 1394.8,1396.6 1394.9,1396.6 1395.0,1396.5 1395.1,1396.5 1395.3,1396.4 1395.4,1396.4 1395.5,1396.4 1395.7,1396.5 1395.8,1396.5 1395.9,1396.5 1396.1,1396.6 1396.2,1396.6 1396.3,1396.7 1396.4,1396.7 1396.5,1396.8 1396.6,1396.8 1396.7,1396.9 1396.8,1396.9 1396.9,1397.0 1397.0,1397.1 1397.0,1397.1 1397.1,1397.2 1397.2,1397.2 1397.2,1397.3 1397.3,1397.3 1397.3,1397.4 1397.4,1397.4 1397.5,1397.4 1397.5,1397.5 1397.5,1397.5 1397.6,1397.6 1397.6,1397.6 1397.7,1397.7 1397.7,1397.7 1397.8,1397.7 1397.8,1397.8 1397.8,1397.8 1397.9,1397.8 1397.9,1397.9 1397.9,1397.9 1398.0,1398.0 1398.0,1398.0 1398.0,1398.0 1398.1,1398.1 1398.1,1398.1 1398.1,1398.1 1398.2,1398.2 1398.2,1398.2 1398.2,1398.2 1398.3,1398.3 1398.3,1398.3 1398.3,1398.3 1398.4,1398.4 1398.4,1398.4 1398.4,1398.5 1398.4,1398.5 1398.5,1398.5 1398.5,1398.6 1398.5,1398.6 1398.6,1398.7 1398.6,1398.7 1398.6,1398.8 1398.7,1398.8 1398.7,1398.9 1398.7,1398.9 1398.8,1399.0 1398.8,1399.0Z"/>
<path fill="none" stroke="#000" stroke-width="3.00" stroke-linejoin="miter" d="M2981.9,795.0 2981.5,792.8 2981.0,790.6 2980.5,788.4 2980.1,786.2 2979.6,784.0 2979.1,781.8 2978.6,779.6 2978.1,777.4 2977.6,775.2 2977.1,773.1 2976.5,770.9 2976.0,768.7 2975.5,766.5 2974.9,764.3 2974.4,762.1 2973.8,760.0 2973.2,757.8 2972.6,755.6 2972.1,753.5 2971.5,751.3 2970.9,749.1 2970.2,747.0 2969.6,744.8 2969.0,742.7 2968.4,740.5 2967.7,738.4 2967.1,736.2 2966.4,734.1 2965.8,732.0 2965.1,729.9 2964.5,727.7 2963.8,725.6 2963.1,723.5 2962.4,721.4 2961.7,719.3 2961.0,717.2 2960.3,715.1 2959.6,713.0 2958.8,710.9 2958.1,708.8 2957.4,706.7 2956.6,704.7 2955.9,702.6 2955.1,700.5 2954.4,698.5 2953.6,696.4 2952.8,694.4 2952.1,692.3 2951.3,690.3 2950.5,688.3 2949.7,686.3 2948.9,684.2 2948.1,682.2 2947.3,680.2 2946.5,678.2 2945.6,676.2 2944.8,674.2 2944.0,672.3 2943.1,670.3 2942.3,668.3 2944.5,668.8 2946.7,669.3 2948.9,669.8 2951.1,670.3 2953.3,670.8 2955.5,671.4 2957.7,671.9 2959.9,672.4 2962.2,672.9 2964.4,673.5 2966.6,674.0 2968.8,674.6 2971.0,675.1 2973.2,675.7 2975.4,676.2 2977.6,676.8 2979.9,677.4 2982.1,678.0 2984.3,678.5 2986.5,679.1 2988.7,679.7 2990.9,680.3 2993.1,680.9 2995.3,681.5 2997.5,682.1 2999.8,682.7 3002.0,683.3 3004.2,683.9 3006.4,684.5 3008.6,685.2 3010.8,685.8 3013.0,686.4 3015.2,687.0 3017.4,687.7 3019.6,688.3 3021.7,689.0 3023.9,689.6 3026.1,690.3 3028.3,690.9 3030.5,691.6 3032.7,692.2 3034.8,692.9 3037.0,693.6 3039.2,694.2 3041.4,694.9 3043.5,695.6 3045.7,696.3 3047.8,696.9 3050.0,697.6 3052.1,698.3 3054.3,699.0 3056.4,699.7 3058.6,700.4 3060.7,701.1 3062.8,701.8 3065.0,702.5 3067.1,703.2 3069.2,703.9 3071.3,704.6 3073.4,705.3 3074.1,707.3 3074.8,709.2 3075.5,711.1 3076.2,713.0 3076.9,715.0 3077.5,716.9 3078.2,718.8 3078.8,720.8 3079.5,722.7 3080.1,724.7 3080.8,726.7 3081.4,728.6 3082.0,730.6 3082.6,732.6 3083.3,734.6 3083.9,736.6 3084.4,738.6 3085.0,740.6 3085.6,742.6 3086.2,744.6 3086.8,746.6 3087.3,748.6 3087.9,750.6 3088.4,752.7 3089.0,754.7 3089.5,756.7 3090.0,758.8 3090.5,760.8 3091.0,762.8 3091.5,764.9 3092.0,766.9 3092.5,769.0 3093.0,771.0 3093.5,773.1 3093.9,775.2 3094.4,777.2 3094.8,779.3 3095.3,781.4 3095.7,783.5 3096.1,785.5 3096.5,787.6 3096.9,789.7 3097.3,791.8 3097.7,793.9 3098.1,796.0 3098.5,798.1 3098.8,800.2 3099.2,802.3 3099.6,804.4 3099.9,806.5 3100.2,808.6 3100.6,810.7 3100.9,812.8 3101.2,814.9 3101.5,817.0 3101.8,819.1 3102.0,821.2 3102.3,823.3 3102.6,825.5 3102.8,827.6 3100.9,827.0 3099.0,826.4 3097.1,825.8 3095.1,825.2 3093.2,824.7 3091.3,824.1 3089.3,823.5 3087.4,822.9 3085.4,822.3 3083.4,821.8 3081.5,821.2 3079.5,820.6 3077.5,820.0 3075.6,819.5 3073.6,818.9 3071.6,818.3 3069.6,817.7 3067.6,817.2 3065.6,816.6 3063.6,816.0 3061.6,815.5 3059.6,814.9 3057.6,814.4 3055.6,813.8 3053.6,813.2 3051.6,812.7 3049.6,812.1 3047.5,811.6 3045.5,811.0 3043.5,810.5 3041.5,809.9 3039.4,809.4 3037.4,808.8 3035.3,808.3 3033.3,807.8 3031.3,807.2 3029.2,806.7 3027.2,806.2 3025.1,805.6 3023.1,805.1 3021.0,804.6 3019.0,804.1 3016.9,803.5 3014.9,803.0 3012.8,802.5 3010.8,802.0 3008.7,801.5 3006.6,801.0 3004.6,800.5 3002.5,799.9 3000.5,799.4 2998.4,798.9 2996.3,798.4 2994.3,798.0 2992.2,797.5 2990.2,797.0 2988.1,796.5 2986.0,796.0 2984.0,795.5Z M2855.4,771.3 2854.8,769.2 2854.3,767.0 2853.7,764.9 2853.1,762.7 2852.5,760.6 2851.8,758.4 2851.2,756.3 2850.6,754.1 2850.0,752.0 2849.3,749.9 2848.7,747.7 2848.0,745.6 2847.4,743.5 2846.7,741.3 2846.0,739.2 2845.4,737.1 2844.7,735.0 2844.0,732.8 2843.3,730.7 2842.6,728.6 2841.9,726.5 2841.2,724.4 2840.5,722.3 2839.8,720.2 2839.0,718.1 2838.3,716.0 2837.6,713.9 2836.8,711.8 2836.1,709.7 2835.3,707.7 2834.6,705.6 2833.8,703.5 2833.1,701.5 2832.3,699.4 2831.5,697.3 2830.7,695.3 2829.9,693.2 2829.1,691.2 2828.4,689.2 2827.6,687.1 2826.7,685.1 2825.9,683.1 2825.1,681.1 2824.3,679.1 2823.5,677.0 2822.7,675.0 2821.8,673.0 2821.0,671.1 2820.2,669.1 2819.3,667.1 2818.5,665.1 2817.6,663.1 2816.8,661.2 2815.9,659.2 2815.0,657.3 2814.2,655.3 2813.3,653.4 2812.4,651.4 2811.6,649.5 2810.7,647.6 2812.6,647.8 2814.5,647.9 2816.4,648.1 2818.4,648.3 2820.3,648.4 2822.2,648.6 2824.2,648.8 2826.2,649.0 2828.1,649.2 2830.1,649.4 2832.1,649.6 2834.1,649.9 2836.0,650.1 2838.0,650.3 2840.0,650.6 2842.0,650.8 2844.1,651.0 2846.1,651.3 2848.1,651.6 2850.1,651.8 2852.2,652.1 2854.2,652.4 2856.3,652.6 2858.3,652.9 2860.4,653.2 2862.5,653.5 2864.5,653.8 2866.6,654.1 2868.7,654.4 2870.8,654.7 2872.9,655.1 2875.0,655.4 2877.1,655.7 2879.2,656.1 2881.3,656.4 2883.4,656.8 2885.5,657.1 2887.6,657.5 2889.8,657.8 2891.9,658.2 2894.0,658.6 2896.2,659.0 2898.3,659.4 2900.5,659.8 2902.6,660.1 2904.8,660.6 2906.9,661.0 2909.1,661.4 2911.2,661.8 2913.4,662.2 2915.6,662.6 2917.8,663.1 2919.9,663.5 2922.1,664.0 2924.3,664.4 2926.5,664.9 2928.7,665.3 2930.9,665.8 2933.0,666.3 2935.2,666.7 2936.1,668.7 2936.9,670.7 2937.8,672.7 2938.6,674.7 2939.4,676.7 2940.2,678.7 2941.1,680.7 2941.9,682.7 2942.7,684.7 2943.5,686.7 2944.3,688.8 2945.1,690.8 2945.9,692.8 2946.6,694.9 2947.4,696.9 2948.2,699.0 2948.9,701.0 2949.7,703.1 2950.4,705.2 2951.2,707.3 2951.9,709.4 2952.6,711.4 2953.4,713.5 2954.1,715.6 2954.8,717.7 2955.5,719.8 2956.2,721.9 2956.9,724.1 2957.6,726.2 2958.3,728.3 2958.9,730.4 2959.6,732.6 2960.3,734.7 2960.9,736.8 2961.5,739.0 2962.2,741.1 2962.8,743.3 2963.4,745.4 2964.1,747.6 2964.7,749.8 2965.3,751.9 2965.9,754.1 2966.4,756.3 2967.0,758.4 2967.6,760.6 2968.2,762.8 2968.7,765.0 2969.3,767.2 2969.8,769.3 2970.3,771.5 2970.9,773.7 2971.4,775.9 2971.9,778.1 2972.4,780.3 2972.9,782.5 2973.4,784.7 2973.9,786.9 2974.4,789.1 2974.8,791.3 2975.3,793.5 2973.2,793.1 2971.2,792.6 2969.1,792.1 2967.0,791.7 2965.0,791.2 2962.9,790.8 2960.9,790.3 2958.8,789.9 2956.7,789.4 2954.7,789.0 2952.6,788.6 2950.6,788.1 2948.5,787.7 2946.5,787.3 2944.4,786.9 2942.4,786.4 2940.3,786.0 2938.3,785.6 2936.3,785.2 2934.2,784.8 2932.2,784.4 2930.2,784.0 2928.1,783.6 2926.1,783.2 2924.1,782.8 2922.1,782.4 2920.0,782.1 2918.0,781.7 2916.0,781.3 2914.0,780.9 2912.0,780.6 2910.0,780.2 2908.0,779.8 2906.0,779.5 2904.0,779.1 2902.0,778.8 2900.0,778.4 2898.0,778.1 2896.0,777.7 2894.1,777.4 2892.1,777.0 2890.1,776.7 2888.2,776.4 2886.2,776.1 2884.2,775.7 2882.3,775.4 2880.3,775.1 2878.4,774.8 2876.5,774.5 2874.5,774.2 2872.6,773.9 2870.7,773.6 2868.7,773.3 2866.8,773.0 2864.9,772.7 2863.0,772.4 2861.1,772.2 2859.2,771.9 2857.3,771.6Z M2994.3,933.1 2994.3,931.0 2994.3,928.9 2994.4,926.8 2994.4,924.7 2994.4,922.6 2994.4,920.5 2994.4,918.3 2994.4,916.2 2994.4,914.1 2994.3,911.9 2994.3,909.8 2994.3,907.6 2994.2,905.5 2994.2,903.3 2994.1,901.2 2994.0,899.0 2994.0,896.9 2993.9,894.7 2993.8,892.5 2993.7,890.4 2993.6,888.2 2993.5,886.0 2993.3,883.8 2993.2,881.6 2993.1,879.5 2992.9,877.3 2992.8,875.1 2992.6,872.9 2992.4,870.7 2992.3,868.5 2992.1,866.3 2991.9,864.1 2991.7,861.9 2991.5,859.7 2991.3,857.5 2991.1,855.3 2990.8,853.1 2990.6,850.9 2990.3,848.6 2990.1,846.4 2989.8,844.2 2989.5,842.0 2989.3,839.8 2989.0,837.6 2988.7,835.4 2988.4,833.2 2988.1,830.9 2987.7,828.7 2987.4,826.5 2987.1,824.3 2986.7,822.1 2986.4,819.9 2986.0,817.6 2985.7,815.4 2985.3,813.2 2984.9,811.0 2984.5,808.8 2984.1,806.6 2983.7,804.4 2983.3,802.1 2985.3,802.6 2987.4,803.1 2989.5,803.6 2991.5,804.1 2993.6,804.6 2995.6,805.0 2997.7,805.5 2999.7,806.0 3001.8,806.5 3003.8,807.0 3005.9,807.5 3007.9,808.0 3010.0,808.5 3012.0,809.0 3014.1,809.6 3016.1,810.1 3018.2,810.6 3020.2,811.1 3022.2,811.6 3024.3,812.1 3026.3,812.7 3028.4,813.2 3030.4,813.7 3032.4,814.3 3034.5,814.8 3036.5,815.3 3038.5,815.9 3040.5,816.4 3042.6,816.9 3044.6,817.5 3046.6,818.0 3048.6,818.6 3050.6,819.1 3052.6,819.7 3054.6,820.2 3056.6,820.8 3058.6,821.3 3060.6,821.9 3062.6,822.4 3064.6,823.0 3066.6,823.5 3068.6,824.1 3070.6,824.7 3072.5,825.2 3074.5,825.8 3076.5,826.4 3078.4,826.9 3080.4,827.5 3082.4,828.1 3084.3,828.6 3086.3,829.2 3088.2,829.8 3090.2,830.3 3092.1,830.9 3094.0,831.5 3096.0,832.1 3097.9,832.6 3099.8,833.2 3101.7,833.8 3103.6,834.4 3103.8,836.5 3104.1,838.6 3104.3,840.7 3104.5,842.9 3104.6,845.0 3104.8,847.1 3105.0,849.2 3105.2,851.3 3105.3,853.5 3105.5,855.6 3105.6,857.7 3105.7,859.8 3105.8,862.0 3106.0,864.1 3106.1,866.2 3106.2,868.3 3106.2,870.4 3106.3,872.5 3106.4,874.7 3106.5,876.8 3106.5,878.9 3106.6,881.0 3106.6,883.1 3106.6,885.2 3106.6,887.3 3106.7,889.4 3106.7,891.5 3106.7,893.6 3106.6,895.8 3106.6,897.8 3106.6,899.9 3106.6,902.0 3106.5,904.1 3106.5,906.2 3106.4,908.3 3106.3,910.4 3106.3,912.5 3106.2,914.6 3106.1,916.6 3106.0,918.7 3105.9,920.8 3105.8,922.9 3105.6,924.9 3105.5,927.0 3105.4,929.0 3105.2,931.1 3105.1,933.1 3104.9,935.2 3104.7,937.2 3104.6,939.3 3104.4,941.3 3104.2,943.3 3104.0,945.4 3103.8,947.4 3103.6,949.4 3103.3,951.4 3103.1,953.4 3102.9,955.5 3102.6,957.5 3102.4,959.5 3100.7,959.0 3099.0,958.6 3097.2,958.2 3095.5,957.8 3093.8,957.3 3092.1,956.9 3090.3,956.5 3088.6,956.1 3086.8,955.6 3085.1,955.2 3083.3,954.8 3081.6,954.3 3079.8,953.9 3078.1,953.5 3076.3,953.1 3074.5,952.6 3072.8,952.2 3071.0,951.7 3069.2,951.3 3067.4,950.9 3065.6,950.4 3063.8,950.0 3062.1,949.6 3060.3,949.1 3058.5,948.7 3056.7,948.2 3054.9,947.8 3053.1,947.4 3051.2,946.9 3049.4,946.5 3047.6,946.0 3045.8,945.6 3044.0,945.1 3042.2,944.7 3040.3,944.3 3038.5,943.8 3036.7,943.4 3034.9,942.9 3033.0,942.5 3031.2,942.0 3029.4,941.6 3027.5,941.1 3025.7,940.7 3023.9,940.2 3022.0,939.8 3020.2,939.4 3018.3,938.9 3016.5,938.5 3014.6,938.0 3012.8,937.6 3010.9,937.1 3009.1,936.7 3007.3,936.2 3005.4,935.8 3003.5,935.4 3001.7,934.9 2999.8,934.5 2998.0,934.0 2996.1,933.6Z M2879.2,906.6 2879.1,904.6 2878.9,902.5 2878.7,900.4 2878.5,898.4 2878.3,896.3 2878.1,894.2 2877.8,892.1 2877.6,890.0 2877.4,887.9 2877.1,885.8 2876.9,883.7 2876.7,881.6 2876.4,879.5 2876.1,877.4 2875.9,875.3 2875.6,873.1 2875.3,871.0 2875.0,868.9 2874.7,866.8 2874.5,864.6 2874.1,862.5 2873.8,860.4 2873.5,858.2 2873.2,856.1 2872.9,854.0 2872.5,851.8 2872.2,849.7 2871.8,847.5 2871.5,845.4 2871.1,843.2 2870.8,841.1 2870.4,838.9 2870.0,836.7 2869.6,834.6 2869.2,832.4 2868.8,830.3 2868.4,828.1 2868.0,825.9 2867.6,823.8 2867.2,821.6 2866.7,819.4 2866.3,817.3 2865.8,815.1 2865.4,812.9 2864.9,810.8 2864.5,808.6 2864.0,806.4 2863.5,804.3 2863.0,802.1 2862.5,799.9 2862.0,797.8 2861.5,795.6 2861.0,793.4 2860.5,791.3 2860.0,789.1 2859.4,786.9 2858.9,784.8 2858.4,782.6 2857.8,780.4 2857.3,778.3 2859.1,778.6 2861.0,778.8 2862.9,779.1 2864.8,779.4 2866.7,779.7 2868.6,780.0 2870.5,780.3 2872.5,780.6 2874.4,780.9 2876.3,781.2 2878.2,781.5 2880.2,781.8 2882.1,782.1 2884.1,782.4 2886.0,782.8 2887.9,783.1 2889.9,783.4 2891.9,783.7 2893.8,784.1 2895.8,784.4 2897.8,784.8 2899.7,785.1 2901.7,785.5 2903.7,785.8 2905.7,786.2 2907.7,786.5 2909.7,786.9 2911.7,787.3 2913.7,787.6 2915.7,788.0 2917.7,788.4 2919.7,788.7 2921.7,789.1 2923.7,789.5 2925.7,789.9 2927.7,790.3 2929.7,790.7 2931.8,791.1 2933.8,791.5 2935.8,791.9 2937.8,792.3 2939.9,792.7 2941.9,793.1 2943.9,793.5 2946.0,794.0 2948.0,794.4 2950.1,794.8 2952.1,795.2 2954.1,795.7 2956.2,796.1 2958.2,796.6 2960.3,797.0 2962.3,797.4 2964.4,797.9 2966.4,798.3 2968.5,798.8 2970.5,799.2 2972.6,799.7 2974.6,800.2 2976.7,800.6 2977.1,802.8 2977.5,805.1 2977.9,807.3 2978.3,809.5 2978.7,811.7 2979.1,813.9 2979.5,816.1 2979.9,818.4 2980.2,820.6 2980.6,822.8 2980.9,825.0 2981.3,827.2 2981.6,829.4 2981.9,831.7 2982.2,833.9 2982.5,836.1 2982.8,838.3 2983.1,840.5 2983.4,842.7 2983.7,845.0 2983.9,847.2 2984.2,849.4 2984.4,851.6 2984.7,853.8 2984.9,856.0 2985.2,858.2 2985.4,860.4 2985.6,862.6 2985.8,864.8 2986.0,867.0 2986.2,869.2 2986.3,871.4 2986.5,873.6 2986.7,875.8 2986.8,878.0 2987.0,880.2 2987.1,882.4 2987.3,884.5 2987.4,886.7 2987.5,888.9 2987.6,891.1 2987.7,893.2 2987.8,895.4 2987.9,897.6 2988.0,899.7 2988.0,901.9 2988.1,904.1 2988.2,906.2 2988.2,908.4 2988.3,910.5 2988.3,912.6 2988.3,914.8 2988.4,916.9 2988.4,919.0 2988.4,921.2 2988.4,923.3 2988.4,925.4 2988.4,927.5 2988.3,929.6 2988.3,931.7 2986.5,931.3 2984.6,930.8 2982.8,930.4 2980.9,930.0 2979.0,929.5 2977.2,929.1 2975.3,928.6 2973.5,928.2 2971.6,927.8 2969.8,927.3 2967.9,926.9 2966.1,926.5 2964.2,926.0 2962.4,925.6 2960.5,925.2 2958.7,924.7 2956.8,924.3 2955.0,923.9 2953.1,923.4 2951.3,923.0 2949.4,922.6 2947.6,922.1 2945.7,921.7 2943.9,921.3 2942.1,920.9 2940.2,920.4 2938.4,920.0 2936.6,919.6 2934.7,919.2 2932.9,918.8 2931.1,918.3 2929.2,917.9 2927.4,917.5 2925.6,917.1 2923.8,916.7 2922.0,916.3 2920.2,915.8 2918.3,915.4 2916.5,915.0 2914.7,914.6 2912.9,914.2 2911.1,913.8 2909.3,913.4 2907.5,913.0 2905.7,912.6 2903.9,912.2 2902.2,911.8 2900.4,911.4 2898.6,911.0 2896.8,910.6 2895.0,910.2 2893.3,909.8 2891.5,909.4 2889.7,909.0 2888.0,908.6 2886.2,908.2 2884.5,907.8 2882.7,907.4 2881.0,907.0Z M3227.8,869.8 3227.8,867.6 3227.7,865.5 3227.7,863.3 3227.6,861.2 3227.5,859.0 3227.4,856.8 3227.3,854.7 3227.2,852.5 3227.1,850.4 3227.0,848.2 3226.9,846.1 3226.7,844.0 3226.6,841.8 3226.4,839.7 3226.3,837.5 3226.1,835.4 3225.9,833.3 3225.7,831.1 3225.5,829.0 3225.3,826.9 3225.1,824.8 3224.9,822.7 3224.6,820.5 3224.4,818.4 3224.2,816.3 3223.9,814.2 3223.6,812.1 3223.4,810.0 3223.1,807.9 3222.8,805.8 3222.5,803.7 3222.2,801.7 3221.9,799.6 3221.6,797.5 3221.2,795.4 3220.9,793.4 3220.5,791.3 3220.2,789.2 3219.8,787.2 3219.5,785.1 3219.1,783.1 3218.7,781.1 3218.3,779.0 3217.9,777.0 3217.5,775.0 3217.1,772.9 3216.7,770.9 3216.3,768.9 3215.8,766.9 3215.4,764.9 3214.9,762.9 3214.5,760.9 3214.0,758.9 3213.6,757.0 3213.1,755.0 3212.6,753.0 3212.1,751.1 3211.6,749.1 3211.1,747.2 3210.6,745.2 3212.8,746.0 3215.1,746.7 3217.3,747.5 3219.5,748.3 3221.7,749.1 3223.9,749.9 3226.1,750.6 3228.3,751.4 3230.5,752.2 3232.7,753.0 3234.9,753.8 3237.2,754.6 3239.4,755.4 3241.6,756.2 3243.8,757.1 3246.0,757.9 3248.2,758.7 3250.3,759.5 3252.5,760.3 3254.7,761.2 3256.9,762.0 3259.1,762.8 3261.3,763.7 3263.5,764.5 3265.6,765.4 3267.8,766.2 3270.0,767.0 3272.2,767.9 3274.3,768.7 3276.5,769.6 3278.6,770.5 3280.8,771.3 3282.9,772.2 3285.1,773.0 3287.2,773.9 3289.4,774.8 3291.5,775.6 3293.6,776.5 3295.8,777.4 3297.9,778.2 3300.0,779.1 3302.1,780.0 3304.2,780.9 3306.3,781.8 3308.4,782.6 3310.5,783.5 3312.6,784.4 3314.7,785.3 3316.8,786.2 3318.9,787.1 3320.9,788.0 3323.0,788.9 3325.0,789.8 3327.1,790.7 3329.1,791.5 3331.2,792.4 3333.2,793.3 3335.2,794.2 3337.3,795.1 3339.3,796.0 3339.6,797.9 3339.9,799.8 3340.3,801.8 3340.6,803.7 3340.9,805.6 3341.2,807.5 3341.5,809.4 3341.7,811.4 3342.0,813.3 3342.3,815.3 3342.5,817.2 3342.8,819.2 3343.0,821.1 3343.2,823.1 3343.5,825.1 3343.7,827.0 3343.9,829.0 3344.1,831.0 3344.3,833.0 3344.4,834.9 3344.6,836.9 3344.8,838.9 3344.9,840.9 3345.1,842.9 3345.2,844.9 3345.3,846.9 3345.5,849.0 3345.6,851.0 3345.7,853.0 3345.8,855.0 3345.8,857.0 3345.9,859.1 3346.0,861.1 3346.0,863.1 3346.1,865.2 3346.1,867.2 3346.1,869.2 3346.2,871.3 3346.2,873.3 3346.2,875.4 3346.2,877.4 3346.1,879.5 3346.1,881.5 3346.1,883.6 3346.0,885.7 3346.0,887.7 3345.9,889.8 3345.9,891.8 3345.8,893.9 3345.7,896.0 3345.6,898.0 3345.5,900.1 3345.3,902.2 3345.2,904.2 3345.1,906.3 3344.9,908.4 3344.8,910.5 3344.6,912.5 3344.4,914.6 3344.2,916.7 3342.4,915.9 3340.6,915.1 3338.8,914.3 3337.0,913.6 3335.1,912.8 3333.3,912.0 3331.4,911.2 3329.6,910.4 3327.7,909.6 3325.9,908.8 3324.0,908.0 3322.1,907.2 3320.2,906.4 3318.4,905.7 3316.5,904.9 3314.6,904.1 3312.7,903.3 3310.8,902.5 3308.9,901.7 3307.0,900.9 3305.1,900.1 3303.1,899.3 3301.2,898.5 3299.3,897.7 3297.4,897.0 3295.4,896.2 3293.5,895.4 3291.5,894.6 3289.6,893.8 3287.6,893.0 3285.7,892.2 3283.7,891.4 3281.8,890.6 3279.8,889.9 3277.8,889.1 3275.9,888.3 3273.9,887.5 3271.9,886.7 3269.9,885.9 3268.0,885.2 3266.0,884.4 3264.0,883.6 3262.0,882.8 3260.0,882.0 3258.0,881.3 3256.0,880.5 3254.0,879.7 3252.0,878.9 3250.0,878.2 3248.0,877.4 3246.0,876.6 3244.0,875.9 3242.0,875.1 3240.0,874.3 3237.9,873.6 3235.9,872.8 3233.9,872.1 3231.9,871.3 3229.9,870.5Z M3101.5,827.2 3101.2,825.0 3101.0,822.9 3100.7,820.8 3100.4,818.7 3100.1,816.6 3099.9,814.5 3099.6,812.4 3099.2,810.3 3098.9,808.2 3098.6,806.1 3098.3,804.0 3097.9,801.9 3097.6,799.8 3097.3,797.7 3096.9,795.6 3096.5,793.5 3096.2,791.4 3095.8,789.4 3095.4,787.3 3095.0,785.2 3094.6,783.1 3094.2,781.1 3093.8,779.0 3093.4,776.9 3093.0,774.9 3092.6,772.8 3092.1,770.8 3091.7,768.7 3091.2,766.7 3090.8,764.7 3090.3,762.6 3089.9,760.6 3089.4,758.6 3088.9,756.5 3088.4,754.5 3087.9,752.5 3087.4,750.5 3086.9,748.5 3086.4,746.5 3085.9,744.5 3085.4,742.5 3084.9,740.5 3084.3,738.5 3083.8,736.6 3083.3,734.6 3082.7,732.6 3082.2,730.7 3081.6,728.7 3081.1,726.8 3080.5,724.8 3079.9,722.9 3079.4,720.9 3078.8,719.0 3078.2,717.1 3077.6,715.2 3077.0,713.3 3076.4,711.4 3075.8,709.5 3075.2,707.6 3074.6,705.7 3076.6,706.2 3078.6,706.6 3080.7,707.1 3082.7,707.6 3084.8,708.1 3086.8,708.6 3088.9,709.1 3091.0,709.6 3093.0,710.1 3095.1,710.6 3097.2,711.2 3099.3,711.7 3101.4,712.2 3103.4,712.8 3105.5,713.3 3107.7,713.9 3109.8,714.4 3111.9,715.0 3114.0,715.6 3116.1,716.1 3118.2,716.7 3120.4,717.3 3122.5,717.9 3124.7,718.5 3126.8,719.1 3128.9,719.7 3131.1,720.3 3133.3,720.9 3135.4,721.5 3137.6,722.1 3139.7,722.7 3141.9,723.4 3144.1,724.0 3146.3,724.6 3148.4,725.3 3150.6,725.9 3152.8,726.6 3155.0,727.2 3157.2,727.9 3159.4,728.6 3161.6,729.2 3163.7,729.9 3165.9,730.6 3168.1,731.3 3170.3,731.9 3172.5,732.6 3174.8,733.3 3177.0,734.0 3179.2,734.7 3181.4,735.5 3183.6,736.2 3185.8,736.9 3188.0,737.6 3190.2,738.3 3192.4,739.1 3194.6,739.8 3196.9,740.5 3199.1,741.3 3201.3,742.0 3203.5,742.8 3204.0,744.7 3204.5,746.7 3205.0,748.6 3205.5,750.6 3206.0,752.5 3206.5,754.5 3207.0,756.5 3207.4,758.5 3207.9,760.5 3208.4,762.5 3208.8,764.5 3209.2,766.5 3209.7,768.5 3210.1,770.5 3210.5,772.5 3210.9,774.5 3211.3,776.6 3211.7,778.6 3212.1,780.7 3212.5,782.7 3212.9,784.8 3213.3,786.8 3213.6,788.9 3214.0,790.9 3214.3,793.0 3214.7,795.1 3215.0,797.1 3215.3,799.2 3215.6,801.3 3215.9,803.4 3216.2,805.5 3216.5,807.6 3216.8,809.7 3217.1,811.8 3217.4,813.9 3217.6,816.0 3217.9,818.1 3218.1,820.2 3218.4,822.3 3218.6,824.5 3218.8,826.6 3219.0,828.7 3219.2,830.8 3219.4,833.0 3219.6,835.1 3219.8,837.2 3219.9,839.4 3220.1,841.5 3220.2,843.7 3220.4,845.8 3220.5,848.0 3220.6,850.1 3220.8,852.3 3220.9,854.4 3221.0,856.6 3221.1,858.7 3221.1,860.9 3221.2,863.1 3221.3,865.2 3221.3,867.4 3219.3,866.6 3217.3,865.9 3215.3,865.1 3213.2,864.4 3211.2,863.7 3209.2,862.9 3207.1,862.2 3205.1,861.5 3203.1,860.7 3201.0,860.0 3199.0,859.3 3197.0,858.6 3195.0,857.8 3192.9,857.1 3190.9,856.4 3188.9,855.7 3186.8,855.0 3184.8,854.3 3182.8,853.6 3180.8,852.9 3178.7,852.2 3176.7,851.5 3174.7,850.8 3172.7,850.1 3170.7,849.4 3168.6,848.7 3166.6,848.0 3164.6,847.3 3162.6,846.7 3160.6,846.0 3158.6,845.3 3156.6,844.6 3154.6,844.0 3152.6,843.3 3150.6,842.7 3148.6,842.0 3146.6,841.3 3144.6,840.7 3142.6,840.0 3140.6,839.4 3138.6,838.8 3136.6,838.1 3134.6,837.5 3132.7,836.8 3130.7,836.2 3128.7,835.6 3126.8,835.0 3124.8,834.3 3122.8,833.7 3120.9,833.1 3118.9,832.5 3117.0,831.9 3115.0,831.3 3113.1,830.7 3111.1,830.1 3109.2,829.5 3107.3,828.9 3105.3,828.3 3103.4,827.7Z M3213.4,1004.4 3213.8,1002.4 3214.3,1000.3 3214.8,998.3 3215.2,996.2 3215.7,994.2 3216.1,992.1 3216.5,990.0 3216.9,988.0 3217.4,985.9 3217.8,983.8 3218.2,981.7 3218.5,979.6 3218.9,977.6 3219.3,975.5 3219.7,973.4 3220.0,971.3 3220.4,969.2 3220.7,967.1 3221.1,964.9 3221.4,962.8 3221.7,960.7 3222.1,958.6 3222.4,956.5 3222.7,954.3 3223.0,952.2 3223.2,950.1 3223.5,947.9 3223.8,945.8 3224.1,943.7 3224.3,941.5 3224.6,939.4 3224.8,937.2 3225.0,935.1 3225.2,933.0 3225.4,930.8 3225.6,928.6 3225.8,926.5 3226.0,924.3 3226.2,922.2 3226.4,920.0 3226.5,917.9 3226.7,915.7 3226.8,913.5 3227.0,911.4 3227.1,909.2 3227.2,907.1 3227.3,904.9 3227.4,902.7 3227.5,900.6 3227.6,898.4 3227.7,896.2 3227.7,894.1 3227.8,891.9 3227.8,889.7 3227.9,887.6 3227.9,885.4 3227.9,883.2 3227.9,881.1 3227.9,878.9 3227.9,876.7 3229.9,877.5 3231.9,878.2 3233.9,879.0 3235.9,879.8 3238.0,880.5 3240.0,881.3 3242.0,882.0 3244.0,882.8 3246.0,883.6 3248.0,884.3 3249.9,885.1 3251.9,885.9 3253.9,886.6 3255.9,887.4 3257.9,888.2 3259.9,888.9 3261.9,889.7 3263.8,890.5 3265.8,891.3 3267.8,892.1 3269.8,892.8 3271.7,893.6 3273.7,894.4 3275.7,895.2 3277.6,895.9 3279.6,896.7 3281.5,897.5 3283.5,898.3 3285.4,899.1 3287.3,899.9 3289.3,900.6 3291.2,901.4 3293.2,902.2 3295.1,903.0 3297.0,903.8 3298.9,904.6 3300.8,905.4 3302.7,906.1 3304.6,906.9 3306.6,907.7 3308.4,908.5 3310.3,909.3 3312.2,910.1 3314.1,910.9 3316.0,911.6 3317.9,912.4 3319.7,913.2 3321.6,914.0 3323.5,914.8 3325.3,915.6 3327.2,916.3 3329.0,917.1 3330.9,917.9 3332.7,918.7 3334.5,919.5 3336.3,920.3 3338.2,921.0 3340.0,921.8 3341.8,922.6 3343.6,923.4 3343.4,925.4 3343.1,927.5 3342.9,929.6 3342.6,931.7 3342.4,933.8 3342.1,935.8 3341.8,937.9 3341.5,940.0 3341.2,942.1 3340.9,944.1 3340.6,946.2 3340.3,948.3 3340.0,950.4 3339.6,952.4 3339.3,954.5 3338.9,956.6 3338.5,958.6 3338.2,960.7 3337.8,962.8 3337.4,964.8 3337.0,966.9 3336.6,969.0 3336.1,971.0 3335.7,973.1 3335.3,975.1 3334.8,977.2 3334.4,979.2 3333.9,981.3 3333.4,983.3 3332.9,985.4 3332.4,987.4 3331.9,989.4 3331.4,991.5 3330.9,993.5 3330.4,995.5 3329.9,997.6 3329.3,999.6 3328.8,1001.6 3328.2,1003.6 3327.6,1005.7 3327.1,1007.7 3326.5,1009.7 3325.9,1011.7 3325.3,1013.7 3324.7,1015.7 3324.1,1017.7 3323.5,1019.7 3322.8,1021.6 3322.2,1023.6 3321.6,1025.6 3320.9,1027.6 3320.3,1029.5 3319.6,1031.5 3318.9,1033.5 3318.3,1035.4 3317.6,1037.4 3316.9,1039.3 3316.2,1041.3 3315.5,1043.2 3314.8,1045.1 3313.2,1044.5 3311.6,1043.9 3310.0,1043.3 3308.4,1042.6 3306.8,1042.0 3305.2,1041.3 3303.5,1040.7 3301.9,1040.1 3300.3,1039.4 3298.7,1038.8 3297.0,1038.1 3295.4,1037.5 3293.7,1036.8 3292.1,1036.2 3290.4,1035.5 3288.8,1034.9 3287.1,1034.2 3285.5,1033.5 3283.8,1032.9 3282.1,1032.2 3280.5,1031.5 3278.8,1030.9 3277.1,1030.2 3275.4,1029.5 3273.8,1028.8 3272.1,1028.2 3270.4,1027.5 3268.7,1026.8 3267.0,1026.1 3265.3,1025.4 3263.6,1024.8 3261.9,1024.1 3260.2,1023.4 3258.5,1022.7 3256.8,1022.0 3255.1,1021.3 3253.4,1020.6 3251.6,1019.9 3249.9,1019.2 3248.2,1018.5 3246.5,1017.8 3244.7,1017.1 3243.0,1016.4 3241.3,1015.7 3239.6,1015.0 3237.8,1014.3 3236.1,1013.6 3234.3,1012.9 3232.6,1012.2 3230.9,1011.5 3229.1,1010.8 3227.4,1010.1 3225.6,1009.4 3223.9,1008.7 3222.1,1008.0 3220.4,1007.3 3218.6,1006.5 3216.9,1005.8 3215.1,1005.1Z M3103.4,959.8 3103.5,957.8 3103.7,955.7 3103.9,953.7 3104.0,951.7 3104.2,949.6 3104.3,947.6 3104.5,945.5 3104.6,943.5 3104.7,941.4 3104.9,939.4 3105.0,937.3 3105.1,935.3 3105.2,933.2 3105.3,931.1 3105.4,929.0 3105.5,927.0 3105.5,924.9 3105.6,922.8 3105.7,920.7 3105.7,918.6 3105.8,916.5 3105.8,914.5 3105.9,912.4 3105.9,910.3 3105.9,908.2 3105.9,906.1 3105.9,904.0 3105.9,901.9 3105.9,899.7 3105.9,897.6 3105.9,895.5 3105.9,893.4 3105.9,891.3 3105.8,889.2 3105.8,887.1 3105.7,884.9 3105.7,882.8 3105.6,880.7 3105.5,878.6 3105.4,876.5 3105.3,874.3 3105.3,872.2 3105.1,870.1 3105.0,868.0 3104.9,865.8 3104.8,863.7 3104.7,861.6 3104.5,859.5 3104.4,857.3 3104.2,855.2 3104.1,853.1 3103.9,851.0 3103.7,848.8 3103.5,846.7 3103.3,844.6 3103.1,842.5 3102.9,840.3 3102.7,838.2 3102.5,836.1 3102.3,834.0 3104.2,834.6 3106.1,835.1 3108.0,835.7 3109.9,836.3 3111.9,836.9 3113.8,837.5 3115.7,838.1 3117.7,838.7 3119.6,839.4 3121.6,840.0 3123.5,840.6 3125.5,841.2 3127.4,841.8 3129.4,842.5 3131.3,843.1 3133.3,843.7 3135.3,844.4 3137.2,845.0 3139.2,845.6 3141.2,846.3 3143.2,846.9 3145.1,847.6 3147.1,848.2 3149.1,848.9 3151.1,849.6 3153.1,850.2 3155.1,850.9 3157.1,851.6 3159.1,852.2 3161.1,852.9 3163.1,853.6 3165.1,854.3 3167.1,855.0 3169.1,855.6 3171.1,856.3 3173.1,857.0 3175.1,857.7 3177.1,858.4 3179.1,859.1 3181.1,859.8 3183.1,860.5 3185.2,861.2 3187.2,861.9 3189.2,862.6 3191.2,863.4 3193.2,864.1 3195.2,864.8 3197.3,865.5 3199.3,866.2 3201.3,867.0 3203.3,867.7 3205.3,868.4 3207.3,869.2 3209.4,869.9 3211.4,870.6 3213.4,871.4 3215.4,872.1 3217.4,872.8 3219.4,873.6 3221.5,874.3 3221.5,876.5 3221.5,878.7 3221.5,880.8 3221.5,883.0 3221.5,885.2 3221.4,887.3 3221.4,889.5 3221.4,891.7 3221.3,893.8 3221.2,896.0 3221.2,898.2 3221.1,900.3 3221.0,902.5 3220.9,904.7 3220.8,906.8 3220.7,909.0 3220.6,911.2 3220.5,913.3 3220.3,915.5 3220.2,917.6 3220.0,919.8 3219.8,922.0 3219.7,924.1 3219.5,926.3 3219.3,928.4 3219.1,930.6 3218.9,932.7 3218.7,934.9 3218.5,937.0 3218.2,939.2 3218.0,941.3 3217.8,943.5 3217.5,945.6 3217.2,947.7 3217.0,949.9 3216.7,952.0 3216.4,954.1 3216.1,956.2 3215.8,958.4 3215.5,960.5 3215.2,962.6 3214.8,964.7 3214.5,966.8 3214.2,968.9 3213.8,971.0 3213.5,973.1 3213.1,975.2 3212.7,977.3 3212.4,979.4 3212.0,981.5 3211.6,983.6 3211.2,985.7 3210.8,987.7 3210.4,989.8 3209.9,991.9 3209.5,993.9 3209.1,996.0 3208.6,998.0 3208.2,1000.1 3207.7,1002.1 3206.0,1001.4 3204.2,1000.7 3202.5,1000.0 3200.7,999.2 3198.9,998.5 3197.2,997.8 3195.4,997.1 3193.7,996.4 3191.9,995.7 3190.1,995.0 3188.4,994.2 3186.6,993.5 3184.9,992.8 3183.1,992.1 3181.3,991.4 3179.6,990.7 3177.8,989.9 3176.0,989.2 3174.3,988.5 3172.5,987.8 3170.8,987.1 3169.0,986.4 3167.3,985.6 3165.5,984.9 3163.7,984.2 3162.0,983.5 3160.2,982.8 3158.5,982.1 3156.7,981.4 3155.0,980.7 3153.2,980.0 3151.5,979.2 3149.7,978.5 3148.0,977.8 3146.3,977.1 3144.5,976.4 3142.8,975.7 3141.0,975.0 3139.3,974.3 3137.6,973.6 3135.8,972.9 3134.1,972.2 3132.4,971.5 3130.6,970.8 3128.9,970.1 3127.2,969.4 3125.5,968.7 3123.8,968.0 3122.0,967.3 3120.3,966.6 3118.6,965.9 3116.9,965.2 3115.2,964.6 3113.5,963.9 3111.8,963.2 3110.1,962.5 3108.4,961.8 3106.7,961.1 3105.0,960.5Z M3460.3,969.8 3460.8,967.7 3461.2,965.6 3461.7,963.4 3462.1,961.3 3462.5,959.2 3462.9,957.0 3463.3,954.9 3463.7,952.8 3464.1,950.7 3464.4,948.6 3464.8,946.4 3465.1,944.3 3465.4,942.2 3465.8,940.1 3466.1,938.0 3466.4,935.9 3466.7,933.8 3467.0,931.6 3467.2,929.5 3467.5,927.4 3467.7,925.3 3468.0,923.2 3468.2,921.1 3468.4,919.0 3468.7,917.0 3468.9,914.9 3469.1,912.8 3469.2,910.7 3469.4,908.6 3469.6,906.5 3469.7,904.5 3469.9,902.4 3470.0,900.3 3470.1,898.3 3470.3,896.2 3470.4,894.2 3470.5,892.1 3470.5,890.1 3470.6,888.0 3470.7,886.0 3470.8,883.9 3470.8,881.9 3470.8,879.9 3470.9,877.9 3470.9,875.8 3470.9,873.8 3470.9,871.8 3470.9,869.8 3470.9,867.8 3470.9,865.8 3470.9,863.8 3470.8,861.8 3470.8,859.9 3470.7,857.9 3470.7,855.9 3470.6,853.9 3470.5,852.0 3470.4,850.0 3470.3,848.1 3470.2,846.1 3472.3,847.0 3474.3,847.9 3476.4,848.8 3478.4,849.7 3480.5,850.6 3482.6,851.5 3484.6,852.4 3486.7,853.3 3488.7,854.2 3490.7,855.2 3492.8,856.1 3494.8,857.0 3496.9,857.9 3498.9,858.8 3500.9,859.7 3503.0,860.7 3505.0,861.6 3507.0,862.5 3509.0,863.4 3511.0,864.4 3513.0,865.3 3515.0,866.2 3517.0,867.2 3519.0,868.1 3521.0,869.0 3523.0,870.0 3525.0,870.9 3527.0,871.9 3529.0,872.8 3530.9,873.7 3532.9,874.7 3534.9,875.6 3536.8,876.6 3538.8,877.5 3540.7,878.5 3542.7,879.4 3544.6,880.4 3546.6,881.3 3548.5,882.3 3550.4,883.2 3552.3,884.2 3554.3,885.1 3556.2,886.1 3558.1,887.0 3560.0,888.0 3561.9,888.9 3563.7,889.9 3565.6,890.8 3567.5,891.8 3569.4,892.8 3571.2,893.7 3573.1,894.7 3574.9,895.6 3576.8,896.6 3578.6,897.5 3580.5,898.5 3582.3,899.4 3584.1,900.4 3585.9,901.3 3587.7,902.3 3587.7,904.2 3587.6,906.1 3587.5,908.1 3587.4,910.0 3587.3,911.9 3587.2,913.9 3587.0,915.8 3586.9,917.8 3586.7,919.7 3586.6,921.7 3586.4,923.6 3586.2,925.6 3586.0,927.6 3585.8,929.5 3585.6,931.5 3585.4,933.5 3585.2,935.5 3584.9,937.5 3584.7,939.5 3584.4,941.5 3584.1,943.5 3583.9,945.5 3583.6,947.5 3583.2,949.5 3582.9,951.5 3582.6,953.5 3582.3,955.5 3581.9,957.5 3581.6,959.5 3581.2,961.6 3580.8,963.6 3580.4,965.6 3580.0,967.7 3579.6,969.7 3579.2,971.7 3578.8,973.8 3578.3,975.8 3577.9,977.8 3577.4,979.9 3576.9,981.9 3576.4,984.0 3575.9,986.0 3575.4,988.1 3574.9,990.1 3574.4,992.2 3573.8,994.2 3573.3,996.3 3572.7,998.3 3572.1,1000.4 3571.5,1002.4 3571.0,1004.5 3570.3,1006.6 3569.7,1008.6 3569.1,1010.7 3568.5,1012.7 3567.8,1014.8 3567.2,1016.9 3566.5,1018.9 3565.8,1021.0 3565.1,1023.0 3563.5,1022.2 3561.9,1021.3 3560.3,1020.5 3558.6,1019.6 3557.0,1018.8 3555.4,1017.9 3553.7,1017.0 3552.1,1016.2 3550.4,1015.3 3548.7,1014.4 3547.1,1013.6 3545.4,1012.7 3543.7,1011.8 3542.1,1010.9 3540.4,1010.1 3538.7,1009.2 3537.0,1008.3 3535.3,1007.4 3533.6,1006.5 3531.9,1005.7 3530.2,1004.8 3528.4,1003.9 3526.7,1003.0 3525.0,1002.1 3523.2,1001.2 3521.5,1000.3 3519.8,999.4 3518.0,998.5 3516.3,997.7 3514.5,996.8 3512.8,995.9 3511.0,995.0 3509.2,994.1 3507.5,993.2 3505.7,992.3 3503.9,991.4 3502.1,990.5 3500.4,989.6 3498.6,988.7 3496.8,987.8 3495.0,986.9 3493.2,986.0 3491.4,985.1 3489.6,984.2 3487.8,983.3 3486.0,982.4 3484.2,981.5 3482.3,980.6 3480.5,979.7 3478.7,978.8 3476.9,977.9 3475.0,977.0 3473.2,976.1 3471.4,975.2 3469.5,974.3 3467.7,973.4 3465.9,972.5 3464.0,971.6 3462.2,970.7Z M100.6,969.8 101.6,967.7 102.7,965.6 103.8,963.4 104.8,961.3 105.9,959.2 107.0,957.0 108.1,954.9 109.3,952.8 110.4,950.7 111.6,948.6 112.7,946.4 113.9,944.3 115.1,942.2 116.3,940.1 117.5,938.0 118.7,935.9 119.9,933.8 121.1,931.6 122.4,929.5 123.6,927.4 124.9,925.3 126.2,923.2 127.5,921.1 128.8,919.0 130.1,917.0 131.4,914.9 132.7,912.8 134.1,910.7 135.4,908.6 136.8,906.5 138.1,904.5 139.5,902.4 140.9,900.3 142.3,898.3 143.7,896.2 145.1,894.2 146.5,892.1 148.0,890.1 149.4,888.0 150.9,886.0 152.3,883.9 153.8,881.9 155.3,879.9 156.7,877.9 158.2,875.8 159.7,873.8 161.2,871.8 162.8,869.8 164.3,867.8 165.8,865.8 167.4,863.8 168.9,861.8 170.4,859.9 172.0,857.9 173.6,855.9 175.1,853.9 176.7,852.0 178.3,850.0 179.9,848.1 181.5,846.1 182.8,847.0 184.1,847.9 185.3,848.8 186.6,849.7 187.9,850.6 189.2,851.5 190.5,852.4 191.7,853.3 193.0,854.2 194.3,855.2 195.6,856.1 196.9,857.0 198.1,857.9 199.4,858.8 200.7,859.7 202.0,860.7 203.3,861.6 204.5,862.5 205.8,863.4 207.1,864.4 208.4,865.3 209.6,866.2 210.9,867.2 212.2,868.1 213.5,869.0 214.7,870.0 216.0,870.9 217.3,871.9 218.6,872.8 219.8,873.7 221.1,874.7 222.4,875.6 223.6,876.6 224.9,877.5 226.2,878.5 227.4,879.4 228.7,880.4 230.0,881.3 231.2,882.3 232.5,883.2 233.8,884.2 235.0,885.1 236.3,886.1 237.5,887.0 238.8,888.0 240.0,888.9 241.3,889.9 242.5,890.8 243.8,891.8 245.0,892.8 246.3,893.7 247.5,894.7 248.8,895.6 250.0,896.6 251.3,897.5 252.5,898.5 253.7,899.4 255.0,900.4 256.2,901.3 257.4,902.3 256.2,904.2 255.0,906.1 253.8,908.1 252.6,910.0 251.4,911.9 250.2,913.9 249.1,915.8 247.9,917.8 246.7,919.7 245.6,921.7 244.4,923.6 243.3,925.6 242.1,927.6 241.0,929.5 239.9,931.5 238.7,933.5 237.6,935.5 236.5,937.5 235.4,939.5 234.3,941.5 233.3,943.5 232.2,945.5 231.1,947.5 230.1,949.5 229.0,951.5 228.0,953.5 226.9,955.5 225.9,957.5 224.9,959.5 223.9,961.6 222.8,963.6 221.9,965.6 220.9,967.7 219.9,969.7 218.9,971.7 218.0,973.8 217.0,975.8 216.1,977.8 215.1,979.9 214.2,981.9 213.3,984.0 212.4,986.0 211.5,988.1 210.6,990.1 209.7,992.2 208.8,994.2 207.9,996.3 207.1,998.3 206.2,1000.4 205.4,1002.4 204.6,1004.5 203.8,1006.6 203.0,1008.6 202.2,1010.7 201.4,1012.7 200.6,1014.8 199.8,1016.9 199.0,1018.9 198.3,1021.0 197.6,1023.0 196.0,1022.2 194.4,1021.3 192.8,1020.5 191.2,1019.6 189.6,1018.8 188.0,1017.9 186.4,1017.0 184.8,1016.2 183.1,1015.3 181.5,1014.4 179.9,1013.6 178.3,1012.7 176.7,1011.8 175.1,1010.9 173.5,1010.1 171.8,1009.2 170.2,1008.3 168.6,1007.4 167.0,1006.5 165.4,1005.7 163.7,1004.8 162.1,1003.9 160.5,1003.0 158.9,1002.1 157.3,1001.2 155.6,1000.3 154.0,999.4 152.4,998.5 150.8,997.7 149.1,996.8 147.5,995.9 145.9,995.0 144.3,994.1 142.6,993.2 141.0,992.3 139.4,991.4 137.7,990.5 136.1,989.6 134.5,988.7 132.9,987.8 131.3,986.9 129.6,986.0 128.0,985.1 126.4,984.2 124.8,983.3 123.1,982.4 121.5,981.5 119.9,980.6 118.3,979.7 116.7,978.8 115.1,977.9 113.4,977.0 111.8,976.1 110.2,975.2 108.6,974.3 107.0,973.4 105.4,972.5 103.8,971.6 102.2,970.7Z M3343.0,916.1 3343.2,914.1 3343.3,912.0 3343.5,909.9 3343.7,907.9 3343.8,905.8 3344.0,903.7 3344.1,901.6 3344.2,899.6 3344.3,897.5 3344.5,895.5 3344.6,893.4 3344.7,891.3 3344.7,889.3 3344.8,887.2 3344.9,885.2 3345.0,883.1 3345.0,881.1 3345.1,879.0 3345.1,877.0 3345.1,874.9 3345.2,872.9 3345.2,870.9 3345.2,868.8 3345.2,866.8 3345.2,864.8 3345.2,862.8 3345.1,860.7 3345.1,858.7 3345.1,856.7 3345.0,854.7 3345.0,852.7 3344.9,850.7 3344.8,848.7 3344.8,846.7 3344.7,844.7 3344.6,842.7 3344.5,840.8 3344.4,838.8 3344.3,836.8 3344.2,834.8 3344.0,832.9 3343.9,830.9 3343.8,829.0 3343.6,827.0 3343.5,825.1 3343.3,823.1 3343.2,821.2 3343.0,819.3 3342.8,817.3 3342.6,815.4 3342.4,813.5 3342.2,811.6 3342.0,809.7 3341.8,807.8 3341.6,805.9 3341.4,804.0 3341.2,802.1 3340.9,800.2 3340.7,798.4 3340.4,796.5 3342.4,797.1 3344.4,797.8 3346.4,798.5 3348.4,799.2 3350.4,799.8 3352.4,800.5 3354.4,801.2 3356.4,801.9 3358.4,802.6 3360.4,803.3 3362.4,804.0 3364.4,804.7 3366.5,805.4 3368.5,806.1 3370.5,806.9 3372.5,807.6 3374.6,808.3 3376.6,809.1 3378.7,809.8 3380.7,810.5 3382.8,811.3 3384.8,812.0 3386.9,812.8 3388.9,813.6 3391.0,814.3 3393.0,815.1 3395.1,815.9 3397.2,816.6 3399.2,817.4 3401.3,818.2 3403.4,819.0 3405.4,819.8 3407.5,820.6 3409.6,821.4 3411.6,822.2 3413.7,823.0 3415.8,823.8 3417.9,824.6 3419.9,825.4 3422.0,826.2 3424.1,827.1 3426.2,827.9 3428.3,828.7 3430.3,829.5 3432.4,830.4 3434.5,831.2 3436.6,832.1 3438.7,832.9 3440.7,833.8 3442.8,834.6 3444.9,835.5 3447.0,836.3 3449.0,837.2 3451.1,838.0 3453.2,838.9 3455.3,839.8 3457.3,840.7 3459.4,841.5 3461.5,842.4 3463.6,843.3 3463.7,845.2 3463.8,847.2 3463.9,849.1 3464.0,851.1 3464.1,853.1 3464.1,855.0 3464.2,857.0 3464.3,859.0 3464.3,861.0 3464.3,863.0 3464.4,864.9 3464.4,866.9 3464.4,869.0 3464.4,871.0 3464.4,873.0 3464.4,875.0 3464.4,877.0 3464.3,879.0 3464.3,881.1 3464.3,883.1 3464.2,885.1 3464.1,887.2 3464.0,889.2 3464.0,891.3 3463.9,893.3 3463.8,895.4 3463.6,897.5 3463.5,899.5 3463.4,901.6 3463.2,903.7 3463.1,905.7 3462.9,907.8 3462.8,909.9 3462.6,912.0 3462.4,914.1 3462.2,916.2 3462.0,918.3 3461.8,920.4 3461.5,922.5 3461.3,924.6 3461.0,926.7 3460.8,928.8 3460.5,930.9 3460.2,933.0 3459.9,935.1 3459.6,937.2 3459.3,939.3 3459.0,941.4 3458.7,943.6 3458.3,945.7 3458.0,947.8 3457.6,949.9 3457.3,952.0 3456.9,954.2 3456.5,956.3 3456.1,958.4 3455.7,960.6 3455.3,962.7 3454.8,964.8 3454.4,966.9 3452.5,966.0 3450.7,965.2 3448.8,964.3 3447.0,963.4 3445.1,962.5 3443.3,961.6 3441.4,960.7 3439.5,959.8 3437.7,958.9 3435.8,958.0 3433.9,957.2 3432.1,956.3 3430.2,955.4 3428.3,954.5 3426.5,953.6 3424.6,952.8 3422.7,951.9 3420.8,951.0 3419.0,950.1 3417.1,949.3 3415.2,948.4 3413.4,947.5 3411.5,946.7 3409.6,945.8 3407.7,944.9 3405.9,944.1 3404.0,943.2 3402.1,942.4 3400.3,941.5 3398.4,940.7 3396.5,939.8 3394.7,939.0 3392.8,938.1 3390.9,937.3 3389.1,936.4 3387.2,935.6 3385.3,934.7 3383.5,933.9 3381.6,933.1 3379.7,932.2 3377.9,931.4 3376.0,930.6 3374.2,929.8 3372.3,928.9 3370.5,928.1 3368.6,927.3 3366.8,926.5 3364.9,925.7 3363.1,924.9 3361.2,924.1 3359.4,923.3 3357.6,922.5 3355.7,921.7 3353.9,920.9 3352.1,920.1 3350.3,919.3 3348.4,918.5 3346.6,917.7 3344.8,916.9Z M3413.1,1101.5 3414.1,1099.5 3415.1,1097.5 3416.1,1095.5 3417.1,1093.5 3418.0,1091.5 3419.0,1089.5 3419.9,1087.5 3420.9,1085.5 3421.8,1083.5 3422.8,1081.5 3423.7,1079.4 3424.6,1077.4 3425.5,1075.4 3426.4,1073.3 3427.3,1071.3 3428.2,1069.2 3429.1,1067.2 3430.0,1065.1 3430.8,1063.1 3431.7,1061.0 3432.5,1059.0 3433.4,1056.9 3434.2,1054.8 3435.0,1052.7 3435.9,1050.7 3436.7,1048.6 3437.5,1046.5 3438.3,1044.4 3439.0,1042.3 3439.8,1040.2 3440.6,1038.1 3441.3,1036.0 3442.1,1033.9 3442.8,1031.8 3443.6,1029.7 3444.3,1027.6 3445.0,1025.5 3445.7,1023.4 3446.4,1021.3 3447.1,1019.2 3447.8,1017.1 3448.4,1015.0 3449.1,1012.8 3449.7,1010.7 3450.4,1008.6 3451.0,1006.5 3451.6,1004.3 3452.2,1002.2 3452.8,1000.1 3453.4,998.0 3454.0,995.8 3454.6,993.7 3455.2,991.6 3455.7,989.4 3456.3,987.3 3456.8,985.2 3457.3,983.1 3457.8,980.9 3458.3,978.8 3458.8,976.7 3460.7,977.6 3462.5,978.5 3464.3,979.3 3466.1,980.2 3468.0,981.1 3469.8,982.0 3471.6,982.9 3473.4,983.8 3475.2,984.7 3477.0,985.6 3478.8,986.5 3480.6,987.4 3482.5,988.3 3484.3,989.2 3486.0,990.1 3487.8,991.0 3489.6,991.9 3491.4,992.8 3493.2,993.7 3495.0,994.6 3496.8,995.5 3498.5,996.4 3500.3,997.3 3502.1,998.2 3503.8,999.1 3505.6,1000.0 3507.3,1000.9 3509.1,1001.8 3510.8,1002.6 3512.6,1003.5 3514.3,1004.4 3516.1,1005.3 3517.8,1006.2 3519.5,1007.1 3521.3,1008.0 3523.0,1008.9 3524.7,1009.7 3526.4,1010.6 3528.1,1011.5 3529.8,1012.4 3531.5,1013.3 3533.2,1014.1 3534.9,1015.0 3536.6,1015.9 3538.2,1016.8 3539.9,1017.6 3541.6,1018.5 3543.3,1019.4 3544.9,1020.2 3546.6,1021.1 3548.2,1022.0 3549.9,1022.8 3551.5,1023.7 3553.1,1024.6 3554.8,1025.4 3556.4,1026.3 3558.0,1027.1 3559.6,1028.0 3561.2,1028.8 3562.8,1029.7 3562.1,1031.7 3561.3,1033.8 3560.6,1035.8 3559.8,1037.9 3559.0,1040.0 3558.2,1042.0 3557.5,1044.1 3556.6,1046.1 3555.8,1048.2 3555.0,1050.2 3554.2,1052.3 3553.3,1054.3 3552.5,1056.4 3551.6,1058.4 3550.7,1060.5 3549.8,1062.5 3548.9,1064.5 3548.0,1066.6 3547.1,1068.6 3546.2,1070.7 3545.2,1072.7 3544.3,1074.7 3543.3,1076.7 3542.4,1078.8 3541.4,1080.8 3540.4,1082.8 3539.4,1084.8 3538.4,1086.8 3537.4,1088.9 3536.4,1090.9 3535.4,1092.9 3534.3,1094.9 3533.3,1096.9 3532.2,1098.9 3531.2,1100.9 3530.1,1102.9 3529.0,1104.8 3527.9,1106.8 3526.8,1108.8 3525.7,1110.8 3524.6,1112.7 3523.5,1114.7 3522.4,1116.7 3521.2,1118.6 3520.1,1120.6 3518.9,1122.5 3517.8,1124.5 3516.6,1126.4 3515.4,1128.4 3514.3,1130.3 3513.1,1132.2 3511.9,1134.1 3510.7,1136.1 3509.5,1138.0 3508.3,1139.9 3507.0,1141.8 3505.8,1143.7 3504.6,1145.6 3503.3,1147.5 3502.1,1149.4 3500.7,1148.6 3499.3,1147.9 3497.9,1147.2 3496.5,1146.5 3495.0,1145.8 3493.6,1145.0 3492.2,1144.3 3490.8,1143.6 3489.3,1142.8 3487.9,1142.1 3486.5,1141.3 3485.0,1140.6 3483.6,1139.8 3482.2,1139.1 3480.7,1138.3 3479.3,1137.6 3477.8,1136.8 3476.4,1136.0 3474.9,1135.3 3473.4,1134.5 3472.0,1133.7 3470.5,1132.9 3469.0,1132.2 3467.6,1131.4 3466.1,1130.6 3464.6,1129.8 3463.1,1129.0 3461.6,1128.2 3460.2,1127.4 3458.7,1126.6 3457.2,1125.8 3455.7,1125.0 3454.2,1124.2 3452.7,1123.4 3451.2,1122.5 3449.7,1121.7 3448.2,1120.9 3446.7,1120.1 3445.2,1119.3 3443.7,1118.4 3442.2,1117.6 3440.6,1116.8 3439.1,1115.9 3437.6,1115.1 3436.1,1114.3 3434.6,1113.4 3433.0,1112.6 3431.5,1111.7 3430.0,1110.9 3428.5,1110.0 3426.9,1109.2 3425.4,1108.3 3423.9,1107.5 3422.3,1106.6 3420.8,1105.8 3419.3,1104.9 3417.7,1104.1 3416.2,1103.2 3414.7,1102.3Z M3315.7,1045.6 3316.3,1043.6 3317.0,1041.6 3317.6,1039.7 3318.2,1037.7 3318.8,1035.7 3319.5,1033.7 3320.1,1031.7 3320.7,1029.7 3321.3,1027.7 3321.9,1025.7 3322.4,1023.7 3323.0,1021.7 3323.6,1019.7 3324.2,1017.7 3324.7,1015.7 3325.3,1013.7 3325.8,1011.6 3326.4,1009.6 3326.9,1007.6 3327.4,1005.5 3327.9,1003.5 3328.5,1001.5 3329.0,999.4 3329.5,997.4 3329.9,995.3 3330.4,993.3 3330.9,991.2 3331.4,989.2 3331.8,987.1 3332.3,985.1 3332.7,983.0 3333.2,981.0 3333.6,978.9 3334.0,976.8 3334.5,974.8 3334.9,972.7 3335.3,970.6 3335.7,968.5 3336.0,966.5 3336.4,964.4 3336.8,962.3 3337.2,960.3 3337.5,958.2 3337.9,956.1 3338.2,954.0 3338.5,951.9 3338.9,949.9 3339.2,947.8 3339.5,945.7 3339.8,943.6 3340.1,941.5 3340.4,939.5 3340.6,937.4 3340.9,935.3 3341.2,933.2 3341.4,931.1 3341.6,929.1 3341.9,927.0 3342.1,924.9 3342.3,922.8 3344.1,923.6 3345.9,924.4 3347.7,925.2 3349.6,926.0 3351.4,926.8 3353.2,927.6 3355.0,928.4 3356.8,929.2 3358.6,930.0 3360.5,930.8 3362.3,931.6 3364.1,932.4 3366.0,933.2 3367.8,934.0 3369.6,934.9 3371.5,935.7 3373.3,936.5 3375.1,937.3 3377.0,938.2 3378.8,939.0 3380.7,939.8 3382.5,940.7 3384.4,941.5 3386.2,942.4 3388.1,943.2 3389.9,944.1 3391.8,944.9 3393.6,945.8 3395.5,946.6 3397.3,947.5 3399.2,948.3 3401.1,949.2 3402.9,950.0 3404.8,950.9 3406.6,951.8 3408.5,952.6 3410.3,953.5 3412.2,954.4 3414.1,955.2 3415.9,956.1 3417.8,957.0 3419.6,957.9 3421.5,958.7 3423.3,959.6 3425.2,960.5 3427.1,961.4 3428.9,962.2 3430.8,963.1 3432.6,964.0 3434.5,964.9 3436.3,965.8 3438.2,966.7 3440.0,967.6 3441.9,968.4 3443.7,969.3 3445.6,970.2 3447.4,971.1 3449.2,972.0 3451.1,972.9 3452.9,973.8 3452.4,975.9 3452.0,978.1 3451.5,980.2 3450.9,982.3 3450.4,984.4 3449.9,986.6 3449.4,988.7 3448.8,990.8 3448.3,993.0 3447.7,995.1 3447.1,997.2 3446.5,999.4 3445.9,1001.5 3445.3,1003.6 3444.7,1005.7 3444.1,1007.9 3443.4,1010.0 3442.8,1012.1 3442.2,1014.2 3441.5,1016.3 3440.8,1018.4 3440.1,1020.6 3439.5,1022.7 3438.8,1024.8 3438.0,1026.9 3437.3,1029.0 3436.6,1031.1 3435.9,1033.2 3435.1,1035.3 3434.4,1037.4 3433.6,1039.5 3432.8,1041.6 3432.1,1043.7 3431.3,1045.7 3430.5,1047.8 3429.7,1049.9 3428.9,1052.0 3428.1,1054.1 3427.2,1056.1 3426.4,1058.2 3425.6,1060.3 3424.7,1062.3 3423.9,1064.4 3423.0,1066.4 3422.1,1068.5 3421.2,1070.5 3420.3,1072.6 3419.4,1074.6 3418.5,1076.6 3417.6,1078.7 3416.7,1080.7 3415.8,1082.7 3414.9,1084.7 3413.9,1086.7 3413.0,1088.7 3412.0,1090.7 3411.1,1092.7 3410.1,1094.7 3409.1,1096.7 3408.2,1098.7 3406.6,1097.8 3405.1,1096.9 3403.5,1096.1 3402.0,1095.2 3400.4,1094.3 3398.9,1093.4 3397.3,1092.6 3395.8,1091.7 3394.2,1090.8 3392.7,1089.9 3391.1,1089.0 3389.6,1088.1 3388.0,1087.3 3386.5,1086.4 3384.9,1085.5 3383.3,1084.6 3381.8,1083.7 3380.2,1082.8 3378.7,1081.9 3377.1,1081.1 3375.6,1080.2 3374.0,1079.3 3372.5,1078.4 3370.9,1077.5 3369.4,1076.6 3367.8,1075.7 3366.3,1074.8 3364.7,1073.9 3363.2,1073.0 3361.6,1072.2 3360.1,1071.3 3358.5,1070.4 3357.0,1069.5 3355.4,1068.6 3353.9,1067.7 3352.3,1066.8 3350.8,1065.9 3349.2,1065.0 3347.7,1064.1 3346.2,1063.2 3344.6,1062.4 3343.1,1061.5 3341.5,1060.6 3340.0,1059.7 3338.5,1058.8 3336.9,1057.9 3335.4,1057.0 3333.9,1056.1 3332.4,1055.3 3330.8,1054.4 3329.3,1053.5 3327.8,1052.6 3326.3,1051.7 3324.7,1050.8 3323.2,1050.0 3321.7,1049.1 3320.2,1048.2 3318.7,1047.3 3317.2,1046.4Z M306.1,1078.4 306.6,1076.2 307.1,1074.1 307.6,1072.0 308.1,1069.8 308.6,1067.7 309.2,1065.6 309.7,1063.5 310.3,1061.3 310.8,1059.2 311.4,1057.1 312.0,1054.9 312.6,1052.8 313.2,1050.7 313.8,1048.6 314.4,1046.4 315.1,1044.3 315.7,1042.2 316.4,1040.1 317.0,1038.0 317.7,1035.8 318.4,1033.7 319.1,1031.6 319.8,1029.5 320.5,1027.4 321.2,1025.3 321.9,1023.2 322.7,1021.1 323.4,1019.0 324.2,1016.9 324.9,1014.8 325.7,1012.7 326.5,1010.6 327.3,1008.5 328.1,1006.4 328.9,1004.3 329.7,1002.3 330.5,1000.2 331.3,998.1 332.2,996.1 333.0,994.0 333.9,991.9 334.8,989.9 335.6,987.8 336.5,985.8 337.4,983.7 338.3,981.7 339.2,979.6 340.1,977.6 341.0,975.6 342.0,973.5 342.9,971.5 343.8,969.5 344.8,967.5 345.7,965.5 346.7,963.5 347.7,961.5 348.6,959.5 349.6,957.5 350.6,955.5 351.6,953.5 353.1,954.4 354.7,955.3 356.2,956.2 357.8,957.0 359.3,957.9 360.8,958.8 362.4,959.7 363.9,960.5 365.5,961.4 367.0,962.3 368.6,963.2 370.1,964.1 371.7,965.0 373.2,965.9 374.7,966.7 376.3,967.6 377.8,968.5 379.4,969.4 380.9,970.3 382.5,971.2 384.0,972.1 385.6,973.0 387.1,973.9 388.7,974.8 390.2,975.6 391.7,976.5 393.3,977.4 394.8,978.3 396.4,979.2 397.9,980.1 399.5,981.0 401.0,981.9 402.5,982.8 404.1,983.7 405.6,984.6 407.2,985.5 408.7,986.4 410.2,987.3 411.8,988.2 413.3,989.0 414.8,989.9 416.4,990.8 417.9,991.7 419.4,992.6 421.0,993.5 422.5,994.4 424.0,995.3 425.5,996.2 427.1,997.1 428.6,998.0 430.1,998.8 431.6,999.7 433.1,1000.6 434.6,1001.5 436.2,1002.4 437.7,1003.3 439.2,1004.1 440.7,1005.0 442.2,1005.9 443.7,1006.8 443.0,1008.7 442.4,1010.7 441.7,1012.7 441.1,1014.7 440.4,1016.6 439.8,1018.6 439.2,1020.6 438.6,1022.6 438.0,1024.6 437.4,1026.6 436.8,1028.6 436.2,1030.6 435.6,1032.6 435.0,1034.6 434.5,1036.6 433.9,1038.7 433.3,1040.7 432.8,1042.7 432.2,1044.7 431.7,1046.8 431.2,1048.8 430.7,1050.9 430.1,1052.9 429.6,1054.9 429.1,1057.0 428.7,1059.0 428.2,1061.1 427.7,1063.1 427.2,1065.2 426.8,1067.2 426.3,1069.3 425.9,1071.4 425.4,1073.4 425.0,1075.5 424.6,1077.6 424.1,1079.6 423.7,1081.7 423.3,1083.8 422.9,1085.8 422.6,1087.9 422.2,1090.0 421.8,1092.1 421.5,1094.1 421.1,1096.2 420.8,1098.3 420.4,1100.4 420.1,1102.4 419.8,1104.5 419.5,1106.6 419.2,1108.7 418.9,1110.8 418.6,1112.8 418.3,1114.9 418.0,1117.0 417.8,1119.1 417.5,1121.2 417.3,1123.2 417.0,1125.3 416.8,1127.4 416.6,1129.5 414.8,1128.7 413.0,1127.9 411.2,1127.1 409.4,1126.3 407.6,1125.5 405.7,1124.7 403.9,1123.9 402.1,1123.1 400.3,1122.3 398.5,1121.5 396.6,1120.7 394.8,1119.8 393.0,1119.0 391.1,1118.2 389.3,1117.4 387.5,1116.6 385.6,1115.7 383.8,1114.9 381.9,1114.1 380.1,1113.2 378.3,1112.4 376.4,1111.5 374.6,1110.7 372.7,1109.9 370.9,1109.0 369.0,1108.2 367.2,1107.3 365.3,1106.5 363.5,1105.6 361.6,1104.8 359.7,1103.9 357.9,1103.0 356.0,1102.2 354.2,1101.3 352.3,1100.4 350.5,1099.6 348.6,1098.7 346.8,1097.8 344.9,1097.0 343.0,1096.1 341.2,1095.2 339.3,1094.3 337.5,1093.5 335.6,1092.6 333.8,1091.7 331.9,1090.8 330.1,1089.9 328.2,1089.1 326.4,1088.2 324.5,1087.3 322.7,1086.4 320.8,1085.5 319.0,1084.6 317.1,1083.7 315.3,1082.8 313.4,1081.9 311.6,1081.1 309.8,1080.2 307.9,1079.3Z M3564.0,1022.4 3564.7,1020.4 3565.4,1018.3 3566.0,1016.3 3566.7,1014.2 3567.3,1012.2 3568.0,1010.1 3568.6,1008.0 3569.2,1006.0 3569.9,1003.9 3570.5,1001.9 3571.1,999.8 3571.6,997.8 3572.2,995.7 3572.8,993.7 3573.3,991.7 3573.9,989.6 3574.4,987.6 3575.0,985.5 3575.5,983.5 3576.0,981.5 3576.5,979.4 3577.0,977.4 3577.4,975.4 3577.9,973.3 3578.4,971.3 3578.8,969.3 3579.3,967.3 3579.7,965.3 3580.1,963.3 3580.5,961.3 3580.9,959.2 3581.3,957.2 3581.7,955.2 3582.1,953.2 3582.5,951.3 3582.8,949.3 3583.2,947.3 3583.5,945.3 3583.8,943.3 3584.2,941.3 3584.5,939.4 3584.8,937.4 3585.1,935.4 3585.4,933.5 3585.6,931.5 3585.9,929.6 3586.2,927.6 3586.4,925.7 3586.7,923.8 3586.9,921.8 3587.1,919.9 3587.3,918.0 3587.5,916.1 3587.7,914.2 3587.9,912.2 3588.1,910.3 3588.3,908.4 3588.5,906.5 3588.6,904.7 3588.8,902.8 3590.6,903.5 3592.4,904.2 3594.2,904.9 3596.1,905.6 3597.9,906.4 3599.7,907.1 3601.6,907.8 3603.4,908.6 3605.2,909.3 3607.1,910.0 3608.9,910.8 3610.8,911.5 3612.6,912.3 3614.5,913.0 3616.3,913.8 3618.2,914.6 3620.0,915.3 3621.9,916.1 3623.8,916.9 3625.6,917.7 3627.5,918.4 3629.3,919.2 3631.2,920.0 3633.1,920.8 3634.9,921.6 3636.8,922.4 3638.7,923.2 3640.6,924.0 3642.4,924.8 3644.3,925.6 3646.2,926.4 3648.0,927.2 3649.9,928.0 3651.8,928.8 3653.7,929.6 3655.5,930.4 3657.4,931.3 3659.3,932.1 3661.2,932.9 3663.0,933.7 3664.9,934.6 3666.8,935.4 3668.7,936.2 3670.5,937.1 3672.4,937.9 3674.3,938.8 3676.1,939.6 3678.0,940.4 3679.9,941.3 3681.7,942.1 3683.6,943.0 3685.5,943.8 3687.3,944.7 3689.2,945.6 3691.1,946.4 3692.9,947.3 3694.8,948.1 3696.6,949.0 3698.5,949.9 3700.3,950.7 3700.0,952.7 3699.7,954.7 3699.4,956.7 3699.1,958.7 3698.7,960.7 3698.4,962.7 3698.0,964.7 3697.6,966.7 3697.3,968.7 3696.9,970.7 3696.5,972.8 3696.0,974.8 3695.6,976.8 3695.2,978.8 3694.7,980.9 3694.2,982.9 3693.8,985.0 3693.3,987.0 3692.8,989.1 3692.3,991.2 3691.8,993.2 3691.2,995.3 3690.7,997.4 3690.1,999.4 3689.6,1001.5 3689.0,1003.6 3688.4,1005.7 3687.8,1007.8 3687.2,1009.8 3686.5,1011.9 3685.9,1014.0 3685.3,1016.1 3684.6,1018.2 3683.9,1020.3 3683.2,1022.4 3682.5,1024.5 3681.8,1026.6 3681.1,1028.8 3680.4,1030.9 3679.6,1033.0 3678.9,1035.1 3678.1,1037.2 3677.3,1039.3 3676.5,1041.4 3675.7,1043.6 3674.9,1045.7 3674.1,1047.8 3673.2,1049.9 3672.4,1052.1 3671.5,1054.2 3670.6,1056.3 3669.8,1058.5 3668.9,1060.6 3668.0,1062.7 3667.0,1064.8 3666.1,1067.0 3665.2,1069.1 3664.2,1071.2 3663.2,1073.4 3662.2,1075.5 3660.6,1074.6 3659.0,1073.7 3657.4,1072.8 3655.7,1071.9 3654.1,1071.0 3652.5,1070.1 3650.8,1069.2 3649.2,1068.3 3647.6,1067.4 3645.9,1066.5 3644.3,1065.6 3642.7,1064.7 3641.0,1063.8 3639.4,1062.9 3637.7,1062.0 3636.1,1061.1 3634.4,1060.2 3632.8,1059.3 3631.2,1058.4 3629.5,1057.5 3627.9,1056.6 3626.2,1055.7 3624.6,1054.8 3622.9,1053.9 3621.3,1053.0 3619.6,1052.1 3618.0,1051.3 3616.3,1050.4 3614.7,1049.5 3613.0,1048.6 3611.4,1047.7 3609.7,1046.8 3608.1,1045.9 3606.5,1045.0 3604.8,1044.1 3603.2,1043.3 3601.5,1042.4 3599.9,1041.5 3598.2,1040.6 3596.6,1039.7 3594.9,1038.8 3593.3,1038.0 3591.7,1037.1 3590.0,1036.2 3588.4,1035.3 3586.7,1034.5 3585.1,1033.6 3583.5,1032.7 3581.8,1031.9 3580.2,1031.0 3578.6,1030.1 3576.9,1029.3 3575.3,1028.4 3573.7,1027.6 3572.1,1026.7 3570.4,1025.8 3568.8,1025.0 3567.2,1024.1 3565.6,1023.3Z M196.4,1022.4 197.2,1020.4 197.9,1018.3 198.7,1016.3 199.5,1014.2 200.3,1012.2 201.1,1010.1 201.9,1008.0 202.7,1006.0 203.5,1003.9 204.4,1001.9 205.2,999.8 206.1,997.8 207.0,995.7 207.9,993.7 208.7,991.7 209.6,989.6 210.6,987.6 211.5,985.5 212.4,983.5 213.4,981.5 214.3,979.4 215.3,977.4 216.2,975.4 217.2,973.3 218.2,971.3 219.2,969.3 220.2,967.3 221.2,965.3 222.3,963.3 223.3,961.3 224.3,959.2 225.4,957.2 226.5,955.2 227.5,953.2 228.6,951.3 229.7,949.3 230.8,947.3 231.9,945.3 233.0,943.3 234.1,941.3 235.3,939.4 236.4,937.4 237.6,935.4 238.7,933.5 239.9,931.5 241.1,929.6 242.2,927.6 243.4,925.7 244.6,923.8 245.8,921.8 247.0,919.9 248.2,918.0 249.5,916.1 250.7,914.2 251.9,912.2 253.2,910.3 254.4,908.4 255.7,906.5 256.9,904.7 258.2,902.8 259.6,903.5 261.0,904.2 262.4,904.9 263.8,905.6 265.2,906.4 266.6,907.1 268.0,907.8 269.4,908.6 270.9,909.3 272.3,910.0 273.7,910.8 275.1,911.5 276.6,912.3 278.0,913.0 279.4,913.8 280.9,914.6 282.3,915.3 283.8,916.1 285.2,916.9 286.7,917.7 288.1,918.4 289.6,919.2 291.1,920.0 292.5,920.8 294.0,921.6 295.5,922.4 296.9,923.2 298.4,924.0 299.9,924.8 301.4,925.6 302.8,926.4 304.3,927.2 305.8,928.0 307.3,928.8 308.8,929.6 310.3,930.4 311.8,931.3 313.3,932.1 314.8,932.9 316.3,933.7 317.8,934.6 319.3,935.4 320.8,936.2 322.3,937.1 323.8,937.9 325.3,938.8 326.8,939.6 328.4,940.4 329.9,941.3 331.4,942.1 332.9,943.0 334.4,943.8 336.0,944.7 337.5,945.6 339.0,946.4 340.5,947.3 342.1,948.1 343.6,949.0 345.1,949.9 346.7,950.7 345.7,952.7 344.7,954.7 343.7,956.7 342.7,958.7 341.7,960.7 340.7,962.7 339.7,964.7 338.8,966.7 337.8,968.7 336.9,970.7 335.9,972.8 335.0,974.8 334.1,976.8 333.1,978.8 332.2,980.9 331.3,982.9 330.4,985.0 329.5,987.0 328.6,989.1 327.8,991.2 326.9,993.2 326.0,995.3 325.2,997.4 324.4,999.4 323.5,1001.5 322.7,1003.6 321.9,1005.7 321.1,1007.8 320.3,1009.8 319.5,1011.9 318.7,1014.0 317.9,1016.1 317.2,1018.2 316.4,1020.3 315.7,1022.4 315.0,1024.5 314.2,1026.6 313.5,1028.8 312.8,1030.9 312.1,1033.0 311.4,1035.1 310.7,1037.2 310.1,1039.3 309.4,1041.4 308.8,1043.6 308.1,1045.7 307.5,1047.8 306.9,1049.9 306.3,1052.1 305.7,1054.2 305.1,1056.3 304.5,1058.5 303.9,1060.6 303.4,1062.7 302.8,1064.8 302.3,1067.0 301.7,1069.1 301.2,1071.2 300.7,1073.4 300.2,1075.5 298.4,1074.6 296.5,1073.7 294.7,1072.8 292.9,1071.9 291.1,1071.0 289.3,1070.1 287.4,1069.2 285.6,1068.3 283.8,1067.4 282.0,1066.5 280.2,1065.6 278.4,1064.7 276.6,1063.8 274.8,1062.9 273.0,1062.0 271.2,1061.1 269.4,1060.2 267.7,1059.3 265.9,1058.4 264.1,1057.5 262.3,1056.6 260.6,1055.7 258.8,1054.8 257.0,1053.9 255.3,1053.0 253.5,1052.1 251.8,1051.3 250.0,1050.4 248.3,1049.5 246.5,1048.6 244.8,1047.7 243.1,1046.8 241.3,1045.9 239.6,1045.0 237.9,1044.1 236.2,1043.3 234.5,1042.4 232.8,1041.5 231.1,1040.6 229.4,1039.7 227.7,1038.8 226.0,1038.0 224.3,1037.1 222.6,1036.2 220.9,1035.3 219.3,1034.5 217.6,1033.6 215.9,1032.7 214.3,1031.9 212.6,1031.0 211.0,1030.1 209.4,1029.3 207.7,1028.4 206.1,1027.6 204.5,1026.7 202.9,1025.8 201.2,1025.0 199.6,1024.1 198.0,1023.3Z M295.4,1208.9 295.3,1206.9 295.2,1205.0 295.1,1203.0 295.0,1201.1 294.9,1199.1 294.8,1197.1 294.8,1195.2 294.7,1193.2 294.7,1191.2 294.6,1189.2 294.6,1187.2 294.6,1185.2 294.5,1183.2 294.5,1181.2 294.5,1179.2 294.5,1177.2 294.6,1175.1 294.6,1173.1 294.6,1171.1 294.7,1169.0 294.7,1167.0 294.8,1165.0 294.9,1162.9 295.0,1160.9 295.0,1158.8 295.2,1156.7 295.3,1154.7 295.4,1152.6 295.5,1150.6 295.7,1148.5 295.8,1146.4 296.0,1144.3 296.1,1142.2 296.3,1140.2 296.5,1138.1 296.7,1136.0 296.9,1133.9 297.2,1131.8 297.4,1129.7 297.6,1127.6 297.9,1125.5 298.1,1123.4 298.4,1121.3 298.7,1119.2 299.0,1117.1 299.3,1114.9 299.6,1112.8 299.9,1110.7 300.3,1108.6 300.6,1106.5 301.0,1104.4 301.3,1102.2 301.7,1100.1 302.1,1098.0 302.5,1095.9 302.9,1093.7 303.3,1091.6 303.7,1089.5 304.1,1087.3 304.6,1085.2 306.4,1086.1 308.3,1087.0 310.1,1087.9 312.0,1088.8 313.9,1089.7 315.7,1090.6 317.6,1091.5 319.4,1092.3 321.3,1093.2 323.2,1094.1 325.0,1095.0 326.9,1095.9 328.8,1096.8 330.6,1097.7 332.5,1098.5 334.4,1099.4 336.2,1100.3 338.1,1101.2 340.0,1102.0 341.8,1102.9 343.7,1103.8 345.6,1104.7 347.5,1105.5 349.3,1106.4 351.2,1107.3 353.1,1108.1 354.9,1109.0 356.8,1109.8 358.7,1110.7 360.5,1111.6 362.4,1112.4 364.3,1113.3 366.1,1114.1 368.0,1115.0 369.9,1115.8 371.7,1116.6 373.6,1117.5 375.5,1118.3 377.3,1119.2 379.2,1120.0 381.0,1120.8 382.9,1121.7 384.7,1122.5 386.6,1123.3 388.4,1124.1 390.3,1124.9 392.1,1125.8 394.0,1126.6 395.8,1127.4 397.7,1128.2 399.5,1129.0 401.3,1129.8 403.2,1130.6 405.0,1131.4 406.8,1132.2 408.7,1133.0 410.5,1133.8 412.3,1134.6 414.1,1135.4 415.9,1136.1 415.8,1138.2 415.6,1140.3 415.4,1142.4 415.2,1144.4 415.1,1146.5 415.0,1148.6 414.8,1150.6 414.7,1152.7 414.6,1154.8 414.5,1156.8 414.4,1158.9 414.3,1160.9 414.2,1163.0 414.1,1165.1 414.0,1167.1 414.0,1169.2 413.9,1171.2 413.9,1173.3 413.8,1175.3 413.8,1177.3 413.8,1179.4 413.8,1181.4 413.8,1183.4 413.8,1185.5 413.8,1187.5 413.8,1189.5 413.8,1191.5 413.9,1193.5 413.9,1195.6 414.0,1197.6 414.0,1199.6 414.1,1201.6 414.2,1203.6 414.2,1205.6 414.3,1207.5 414.4,1209.5 414.5,1211.5 414.6,1213.5 414.7,1215.5 414.9,1217.4 415.0,1219.4 415.1,1221.4 415.3,1223.3 415.4,1225.3 415.6,1227.2 415.8,1229.2 415.9,1231.1 416.1,1233.0 416.3,1234.9 416.5,1236.9 416.7,1238.8 416.9,1240.7 417.1,1242.6 417.3,1244.5 417.6,1246.4 417.8,1248.3 418.0,1250.2 418.3,1252.0 418.5,1253.9 418.8,1255.8 416.8,1255.1 414.8,1254.5 412.8,1253.8 410.8,1253.1 408.8,1252.4 406.8,1251.7 404.8,1251.0 402.8,1250.4 400.8,1249.7 398.8,1249.0 396.8,1248.2 394.7,1247.5 392.7,1246.8 390.7,1246.1 388.6,1245.4 386.6,1244.6 384.6,1243.9 382.5,1243.2 380.5,1242.4 378.4,1241.7 376.4,1240.9 374.3,1240.2 372.3,1239.4 370.2,1238.7 368.1,1237.9 366.1,1237.1 364.0,1236.4 362.0,1235.6 359.9,1234.8 357.8,1234.0 355.7,1233.2 353.7,1232.4 351.6,1231.6 349.5,1230.8 347.4,1230.0 345.4,1229.2 343.3,1228.4 341.2,1227.6 339.1,1226.8 337.0,1226.0 335.0,1225.1 332.9,1224.3 330.8,1223.5 328.7,1222.6 326.6,1221.8 324.6,1221.0 322.5,1220.1 320.4,1219.3 318.3,1218.4 316.2,1217.6 314.1,1216.7 312.1,1215.8 310.0,1215.0 307.9,1214.1 305.8,1213.3 303.7,1212.4 301.7,1211.5 299.6,1210.6 297.5,1209.8Z M3502.8,1149.8 3504.0,1147.9 3505.2,1146.0 3506.4,1144.1 3507.6,1142.1 3508.7,1140.2 3509.9,1138.3 3511.1,1136.3 3512.2,1134.4 3513.4,1132.4 3514.5,1130.4 3515.6,1128.5 3516.8,1126.5 3517.9,1124.5 3519.0,1122.6 3520.1,1120.6 3521.2,1118.6 3522.3,1116.6 3523.4,1114.6 3524.5,1112.7 3525.5,1110.7 3526.6,1108.7 3527.7,1106.7 3528.7,1104.7 3529.7,1102.6 3530.8,1100.6 3531.8,1098.6 3532.8,1096.6 3533.8,1094.6 3534.8,1092.6 3535.8,1090.5 3536.8,1088.5 3537.8,1086.5 3538.8,1084.5 3539.7,1082.4 3540.7,1080.4 3541.6,1078.4 3542.6,1076.3 3543.5,1074.3 3544.4,1072.2 3545.3,1070.2 3546.2,1068.1 3547.1,1066.1 3548.0,1064.0 3548.9,1062.0 3549.8,1059.9 3550.6,1057.9 3551.5,1055.8 3552.3,1053.8 3553.1,1051.7 3554.0,1049.7 3554.8,1047.6 3555.6,1045.5 3556.4,1043.5 3557.2,1041.4 3558.0,1039.4 3558.7,1037.3 3559.5,1035.2 3560.2,1033.2 3561.0,1031.1 3561.7,1029.1 3563.3,1029.9 3564.9,1030.8 3566.5,1031.6 3568.1,1032.5 3569.7,1033.3 3571.3,1034.2 3572.9,1035.1 3574.5,1035.9 3576.2,1036.8 3577.8,1037.7 3579.4,1038.6 3581.0,1039.4 3582.6,1040.3 3584.2,1041.2 3585.9,1042.1 3587.5,1042.9 3589.1,1043.8 3590.7,1044.7 3592.4,1045.6 3594.0,1046.5 3595.6,1047.3 3597.2,1048.2 3598.9,1049.1 3600.5,1050.0 3602.1,1050.9 3603.8,1051.8 3605.4,1052.7 3607.0,1053.6 3608.7,1054.5 3610.3,1055.4 3611.9,1056.2 3613.5,1057.1 3615.2,1058.0 3616.8,1058.9 3618.4,1059.8 3620.1,1060.7 3621.7,1061.6 3623.3,1062.5 3625.0,1063.4 3626.6,1064.3 3628.2,1065.2 3629.9,1066.1 3631.5,1067.0 3633.1,1067.9 3634.7,1068.8 3636.4,1069.7 3638.0,1070.6 3639.6,1071.5 3641.2,1072.4 3642.9,1073.3 3644.5,1074.2 3646.1,1075.1 3647.7,1076.0 3649.3,1076.9 3651.0,1077.8 3652.6,1078.7 3654.2,1079.6 3655.8,1080.5 3657.4,1081.4 3659.0,1082.3 3658.0,1084.5 3656.9,1086.6 3655.9,1088.7 3654.8,1090.8 3653.8,1093.0 3652.7,1095.1 3651.6,1097.2 3650.5,1099.3 3649.3,1101.5 3648.2,1103.6 3647.1,1105.7 3645.9,1107.8 3644.8,1109.9 3643.6,1112.1 3642.4,1114.2 3641.2,1116.3 3640.0,1118.4 3638.8,1120.5 3637.6,1122.6 3636.3,1124.7 3635.1,1126.8 3633.8,1128.9 3632.6,1131.0 3631.3,1133.1 3630.0,1135.2 3628.7,1137.3 3627.4,1139.4 3626.1,1141.4 3624.8,1143.5 3623.4,1145.6 3622.1,1147.7 3620.7,1149.7 3619.4,1151.8 3618.0,1153.9 3616.6,1155.9 3615.2,1158.0 3613.8,1160.0 3612.4,1162.1 3611.0,1164.1 3609.6,1166.2 3608.1,1168.2 3606.7,1170.2 3605.3,1172.3 3603.8,1174.3 3602.3,1176.3 3600.9,1178.3 3599.4,1180.3 3597.9,1182.3 3596.4,1184.3 3594.9,1186.3 3593.4,1188.3 3591.9,1190.3 3590.3,1192.3 3588.8,1194.3 3587.3,1196.2 3585.7,1198.2 3584.2,1200.2 3582.6,1202.1 3581.0,1204.1 3579.5,1206.0 3578.2,1205.1 3576.9,1204.2 3575.6,1203.3 3574.3,1202.4 3573.0,1201.5 3571.7,1200.6 3570.4,1199.7 3569.1,1198.8 3567.8,1197.9 3566.6,1197.0 3565.3,1196.1 3564.0,1195.2 3562.7,1194.2 3561.4,1193.3 3560.1,1192.4 3558.8,1191.5 3557.5,1190.6 3556.2,1189.6 3554.9,1188.7 3553.7,1187.8 3552.4,1186.8 3551.1,1185.9 3549.8,1185.0 3548.5,1184.0 3547.2,1183.1 3545.9,1182.2 3544.6,1181.2 3543.4,1180.3 3542.1,1179.3 3540.8,1178.4 3539.5,1177.4 3538.2,1176.5 3537.0,1175.6 3535.7,1174.6 3534.4,1173.7 3533.1,1172.7 3531.8,1171.8 3530.6,1170.8 3529.3,1169.9 3528.0,1168.9 3526.7,1168.0 3525.5,1167.0 3524.2,1166.1 3522.9,1165.1 3521.7,1164.1 3520.4,1163.2 3519.1,1162.2 3517.9,1161.3 3516.6,1160.3 3515.4,1159.4 3514.1,1158.4 3512.8,1157.5 3511.6,1156.5 3510.3,1155.6 3509.1,1154.6 3507.8,1153.6 3506.6,1152.7 3505.3,1151.7 3504.1,1150.8Z M171.2,1149.8 171.3,1147.9 171.4,1146.0 171.4,1144.1 171.5,1142.1 171.7,1140.2 171.8,1138.3 171.9,1136.3 172.0,1134.4 172.2,1132.4 172.4,1130.4 172.5,1128.5 172.7,1126.5 172.9,1124.5 173.1,1122.6 173.3,1120.6 173.5,1118.6 173.8,1116.6 174.0,1114.6 174.3,1112.7 174.5,1110.7 174.8,1108.7 175.1,1106.7 175.4,1104.7 175.7,1102.6 176.0,1100.6 176.4,1098.6 176.7,1096.6 177.1,1094.6 177.4,1092.6 177.8,1090.5 178.2,1088.5 178.6,1086.5 179.0,1084.5 179.4,1082.4 179.8,1080.4 180.3,1078.4 180.7,1076.3 181.2,1074.3 181.6,1072.2 182.1,1070.2 182.6,1068.1 183.1,1066.1 183.6,1064.0 184.2,1062.0 184.7,1059.9 185.3,1057.9 185.8,1055.8 186.4,1053.8 187.0,1051.7 187.6,1049.7 188.2,1047.6 188.8,1045.5 189.4,1043.5 190.1,1041.4 190.7,1039.4 191.4,1037.3 192.0,1035.2 192.7,1033.2 193.4,1031.1 194.1,1029.1 195.7,1029.9 197.3,1030.8 198.9,1031.6 200.6,1032.5 202.2,1033.3 203.8,1034.2 205.5,1035.1 207.1,1035.9 208.8,1036.8 210.4,1037.7 212.1,1038.6 213.8,1039.4 215.4,1040.3 217.1,1041.2 218.8,1042.1 220.5,1042.9 222.2,1043.8 223.9,1044.7 225.6,1045.6 227.3,1046.5 229.0,1047.3 230.7,1048.2 232.4,1049.1 234.1,1050.0 235.9,1050.9 237.6,1051.8 239.3,1052.7 241.1,1053.6 242.8,1054.5 244.6,1055.4 246.3,1056.2 248.1,1057.1 249.8,1058.0 251.6,1058.9 253.4,1059.8 255.1,1060.7 256.9,1061.6 258.7,1062.5 260.5,1063.4 262.3,1064.3 264.1,1065.2 265.9,1066.1 267.7,1067.0 269.5,1067.9 271.3,1068.8 273.1,1069.7 274.9,1070.6 276.7,1071.5 278.5,1072.4 280.3,1073.3 282.1,1074.2 284.0,1075.1 285.8,1076.0 287.6,1076.9 289.5,1077.8 291.3,1078.7 293.1,1079.6 295.0,1080.5 296.8,1081.4 298.7,1082.3 298.2,1084.5 297.7,1086.6 297.3,1088.7 296.9,1090.8 296.5,1093.0 296.1,1095.1 295.7,1097.2 295.3,1099.3 294.9,1101.5 294.5,1103.6 294.2,1105.7 293.8,1107.8 293.5,1109.9 293.2,1112.1 292.8,1114.2 292.5,1116.3 292.2,1118.4 292.0,1120.5 291.7,1122.6 291.4,1124.7 291.2,1126.8 290.9,1128.9 290.7,1131.0 290.5,1133.1 290.3,1135.2 290.0,1137.3 289.9,1139.4 289.7,1141.4 289.5,1143.5 289.3,1145.6 289.2,1147.7 289.0,1149.7 288.9,1151.8 288.8,1153.9 288.7,1155.9 288.6,1158.0 288.5,1160.0 288.4,1162.1 288.3,1164.1 288.2,1166.2 288.2,1168.2 288.1,1170.2 288.1,1172.3 288.1,1174.3 288.0,1176.3 288.0,1178.3 288.0,1180.3 288.0,1182.3 288.0,1184.3 288.1,1186.3 288.1,1188.3 288.1,1190.3 288.2,1192.3 288.3,1194.3 288.3,1196.2 288.4,1198.2 288.5,1200.2 288.6,1202.1 288.7,1204.1 288.8,1206.0 286.7,1205.1 284.7,1204.2 282.6,1203.3 280.5,1202.4 278.5,1201.5 276.4,1200.6 274.4,1199.7 272.3,1198.8 270.3,1197.9 268.2,1197.0 266.2,1196.1 264.2,1195.2 262.1,1194.2 260.1,1193.3 258.0,1192.4 256.0,1191.5 254.0,1190.6 252.0,1189.6 250.0,1188.7 247.9,1187.8 245.9,1186.8 243.9,1185.9 241.9,1185.0 239.9,1184.0 237.9,1183.1 235.9,1182.2 233.9,1181.2 232.0,1180.3 230.0,1179.3 228.0,1178.4 226.0,1177.4 224.1,1176.5 222.1,1175.6 220.2,1174.6 218.2,1173.7 216.3,1172.7 214.3,1171.8 212.4,1170.8 210.4,1169.9 208.5,1168.9 206.6,1168.0 204.7,1167.0 202.8,1166.1 200.9,1165.1 199.0,1164.1 197.1,1163.2 195.2,1162.2 193.3,1161.3 191.4,1160.3 189.6,1159.4 187.7,1158.4 185.8,1157.5 184.0,1156.5 182.1,1155.6 180.3,1154.6 178.5,1153.6 176.6,1152.7 174.8,1151.7 173.0,1150.8Z M221.3,979.5 221.6,977.1 221.9,974.7 222.2,972.3 222.5,969.9 222.8,967.5 223.2,965.1 223.5,962.7 223.9,960.3 224.3,957.9 224.7,955.5 225.1,953.1 225.6,950.7 226.0,948.3 226.5,945.9 226.9,943.5 227.4,941.1 227.9,938.7 228.4,936.3 228.9,933.9 229.5,931.5 230.0,929.1 230.6,926.8 231.2,924.4 231.8,922.0 232.4,919.6 233.0,917.2 233.6,914.8 234.3,912.4 234.9,910.0 235.6,907.6 236.3,905.3 237.0,902.9 237.7,900.5 238.5,898.1 239.2,895.7 240.0,893.3 240.7,891.0 241.5,888.6 242.3,886.2 M3571.5,979.5 3571.2,977.1 3570.9,974.7 3570.6,972.3 3570.3,969.9 3570.0,967.5 3569.6,965.1 3569.3,962.7 3568.9,960.3 3568.5,957.9 3568.1,955.5 3567.7,953.1 3567.2,950.7 3566.8,948.3 3566.3,945.9 3565.9,943.5 3565.4,941.1 3564.9,938.7 3564.4,936.3 3563.9,933.9 3563.3,931.5 3562.8,929.1 3562.2,926.8 3561.6,924.4 3561.0,922.0 3560.4,919.6 3559.8,917.2 3559.2,914.8 3558.5,912.4 3557.9,910.0 3557.2,907.6 3556.5,905.3 3555.8,902.9 3555.1,900.5 3554.3,898.1 3553.6,895.7 3552.8,893.3 3552.1,891.0 3551.3,888.6 3550.5,886.2 M218.6,1031.0 218.6,1029.6 218.6,1028.2 218.6,1026.8 218.6,1025.4 218.6,1024.0 218.6,1022.6 218.6,1021.2 218.7,1019.8 218.7,1018.4 218.7,1017.0 218.8,1015.6 218.8,1014.3 218.8,1012.9 218.9,1011.5 218.9,1010.1 219.0,1008.7 219.1,1007.3 219.1,1005.9 219.2,1004.5 219.3,1003.1 219.4,1001.7 219.5,1000.3 219.5,998.9 219.6,997.5 219.7,996.1 219.8,994.7 220.0,993.3 220.1,991.9 220.2,990.5 220.3,989.2 220.4,987.8 220.6,986.4 220.7,985.0 220.9,983.6 221.0,982.2 221.2,980.8 221.3,979.4 221.5,978.0 221.6,976.6 M3574.2,1031.0 3574.2,1029.6 3574.2,1028.2 3574.2,1026.8 3574.2,1025.4 3574.2,1024.0 3574.2,1022.6 3574.2,1021.2 3574.1,1019.8 3574.1,1018.4 3574.1,1017.0 3574.0,1015.6 3574.0,1014.3 3574.0,1012.9 3573.9,1011.5 3573.9,1010.1 3573.8,1008.7 3573.7,1007.3 3573.7,1005.9 3573.6,1004.5 3573.5,1003.1 3573.4,1001.7 3573.3,1000.3 3573.3,998.9 3573.2,997.5 3573.1,996.1 3573.0,994.7 3572.8,993.3 3572.7,991.9 3572.6,990.5 3572.5,989.2 3572.4,987.8 3572.2,986.4 3572.1,985.0 3571.9,983.6 3571.8,982.2 3571.6,980.8 3571.5,979.4 3571.3,978.0 3571.2,976.6 M248.5,1185.3 247.1,1181.6 245.7,1177.8 244.4,1174.1 243.1,1170.4 241.8,1166.6 240.6,1162.9 239.4,1159.1 238.2,1155.4 237.1,1151.7 236.0,1147.9 234.9,1144.2 233.9,1140.4 232.9,1136.7 231.9,1132.9 231.0,1129.2 230.1,1125.4 229.2,1121.7 228.4,1117.9 227.6,1114.2 226.8,1110.4 226.1,1106.7 225.4,1102.9 224.7,1099.1 224.1,1095.4 223.5,1091.6 223.0,1087.9 222.4,1084.1 221.9,1080.3 221.5,1076.6 221.1,1072.8 220.7,1069.0 220.3,1065.3 220.0,1061.5 219.7,1057.7 219.4,1054.0 219.2,1050.2 219.0,1046.4 218.9,1042.7 218.8,1038.9 M3544.3,1185.3 3545.7,1181.6 3547.1,1177.8 3548.4,1174.1 3549.7,1170.4 3551.0,1166.6 3552.2,1162.9 3553.4,1159.1 3554.6,1155.4 3555.7,1151.7 3556.8,1147.9 3557.9,1144.2 3558.9,1140.4 3559.9,1136.7 3560.9,1132.9 3561.8,1129.2 3562.7,1125.4 3563.6,1121.7 3564.4,1117.9 3565.2,1114.2 3566.0,1110.4 3566.7,1106.7 3567.4,1102.9 3568.1,1099.1 3568.7,1095.4 3569.3,1091.6 3569.8,1087.9 3570.4,1084.1 3570.9,1080.3 3571.3,1076.6 3571.7,1072.8 3572.1,1069.0 3572.5,1065.3 3572.8,1061.5 3573.1,1057.7 3573.4,1054.0 3573.6,1050.2 3573.8,1046.4 3573.9,1042.7 3574.0,1038.9"/>
</g>
<g fill="none" stroke="#b0b0b0" stroke-opacity="0.50" stroke-width="6.67">
<path d="M806.78,1668.67H2986.02"/>
<path d="M356.11,1367.10H3436.69"/>
<path d="M212.60,1027.20H3580.20"/>
<path d="M356.11,687.30H3436.69"/>
<path d="M806.78,385.73H2986.02"/>
<path d="M1897.30,185.80A1262.85,841.40 0 0 1 1897.30,1868.60"/>
<path d="M1897.30,185.80A841.90,841.40 0 0 1 1897.30,1868.60"/>
<path d="M1897.30,185.80A420.95,841.40 0 0 1 1897.30,1868.60"/>
<path d="M1897.30,185.80A420.95,841.40 0 0 0 1897.30,1868.60"/>
<path d="M1897.30,185.80A841.90,841.40 0 0 0 1897.30,1868.60"/>
<path d="M1897.30,185.80A1262.85,841.40 0 0 0 1897.30,1868.60"/>
<path d="M1897.30,185.80V1868.60"/>
</g>
<ellipse cx="1896.40" cy="1027.20" rx="1683.80" ry="841.40" fill="none" stroke="#000" stroke-width="6.80"/>
<path fill="none" stroke="#000" stroke-width="6.67" d="M634.45,1027.20V1056.40 M1055.40,1027.20V1056.40 M1476.35,1027.20V1056.40 M1897.30,1027.20V1056.40 M2318.25,1027.20V1056.40 M2739.20,1027.20V1056.40 M3160.15,1027.20V1056.40 M356.11,1367.10H326.91 M806.78,1668.67H777.58"/>
<text transform="matrix(1.04165 0 0 1.06828 0 136.37)" x="656.95 731.85 799.19 867.07 929.54 990.49 1051.26 1111.38 1173.23 1234.31 1295.38 1355.70 1415.72 1445.85 1474.00 1539.22 1596.63 1653.83 1688.37 1750.48 1785.00 1818.03 1879.30 1938.05 1968.19 1995.37 2062.18 2120.46 2175.21 2201.24 2259.08 2310.33 2369.55 2428.41 2462.20 2524.82 2558.81 2619.24 2676.90 2710.13 2769.82 2801.72 2862.80 2923.88" y="0">GRB230921112, Sector 70, Enclosed prob 0.000</text>
<text transform="matrix(0.89972 0 0 0.89023 0 320.71)" x="747.07 806.00 866.48" y="0">60°</text>
<text transform="matrix(0.87460 0 0 0.89023 0 664.76)" x="178.41 238.90 300.89" y="0">30°</text>
<text transform="matrix(0.89397 0 0 0.89023 0 1050.71)" x="68.61 129.43" y="0">0°</text>
<text transform="matrix(0.87852 0 0 0.89023 0 1434.66)" x="140.51 176.75 236.96 298.71" y="0">-30°</text>
<text transform="matrix(0.89948 0 0 0.89023 0 1777.96)" x="718.18 753.18 812.13 872.62" y="0">-60°</text>
<text transform="matrix(0.89972 0 0 0.89023 0 321.76)" x="3308.88 3367.81 3428.29" y="0">60°</text>
<text transform="matrix(0.87460 0 0 0.89023 0 635.66)" x="3964.14 4024.63 4086.62" y="0">30°</text>
<text transform="matrix(0.89397 0 0 0.89023 0 972.71)" x="4056.46 4117.28" y="0">0°</text>
<text transform="matrix(0.87852 0 0 0.89023 0 1434.66)" x="3976.49 4012.73 4072.95 4134.69" y="0">-30°</text>
<text transform="matrix(0.89948 0 0 0.89023 0 1778.11)" x="3301.99 3336.99 3395.94 3456.43" y="0">-60°</text>
<text transform="matrix(0.87844 0 0 0.89023 0 1150.61)" x="196.21" y="0">0</text>
<text transform="matrix(0.63329 0 0 0.61163 0 1117.40)" x="355.30" y="0">h</text>
<text transform="matrix(0.84297 0 0 0.89023 0 1150.61)" x="670.97 734.69" y="0">21</text>
<text transform="matrix(0.63329 0 0 0.61163 0 1117.40)" x="1060.11" y="0">h</text>
<text transform="matrix(0.86451 0 0 0.89023 0 1150.61)" x="1141.24 1203.07" y="0">18</text>
<text transform="matrix(0.63329 0 0 0.61163 0 1117.40)" x="1724.81" y="0">h</text>
<text transform="matrix(0.83378 0 0 0.89023 0 1150.61)" x="1689.25 1752.92" y="0">15</text>
<text transform="matrix(0.63329 0 0 0.61163 0 1117.40)" x="2389.51" y="0">h</text>
<text transform="matrix(0.84297 0 0 0.89023 0 1150.61)" x="2169.89 2231.96" y="0">12</text>
<text transform="matrix(0.63329 0 0 0.61163 0 1117.40)" x="3054.21" y="0">h</text>
<text transform="matrix(0.90733 0 0 0.89023 0 1150.61)" x="2508.52" y="0">9</text>
<text transform="matrix(0.63329 0 0 0.61163 0 1117.40)" x="3678.81" y="0">h</text>
<text transform="matrix(0.90917 0 0 0.89023 0 1150.61)" x="2966.67" y="0">6</text>
<text transform="matrix(0.63329 0 0 0.61163 0 1117.40)" x="4343.51" y="0">h</text>
<text transform="matrix(0.84363 0 0 0.89023 0 1150.61)" x="3698.42" y="0">3</text>
<text transform="matrix(0.63329 0 0 0.61163 0 1117.40)" x="5008.21" y="0">h</text>
<text transform="matrix(0.87844 0 0 0.89023 0 1150.61)" x="4029.81" y="0">0</text>
<text transform="matrix(0.63329 0 0 0.61163 0 1117.40)" x="5672.91" y="0">h</text>
</svg></body></html>
